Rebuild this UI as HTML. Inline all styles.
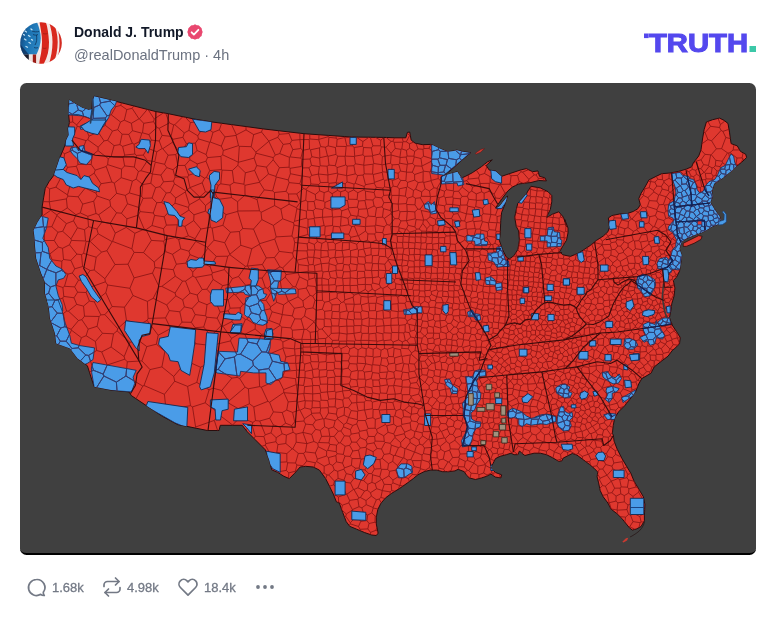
<!DOCTYPE html>
<html><head><meta charset="utf-8"><style>
html,body{margin:0;padding:0;background:#fff;}
body{width:777px;height:617px;position:relative;overflow:hidden;font-family:"Liberation Sans",sans-serif;}
#card{position:absolute;left:20px;top:83px;width:736px;height:472px;background:#404040;border-radius:6.5px;overflow:hidden;box-sizing:border-box;border-bottom:2px solid #000;}
#map{position:absolute;left:0;top:0;}
.abs{position:absolute;white-space:nowrap;line-height:1;will-change:transform;}
#name{left:74px;top:25px;font-size:14px;font-weight:bold;color:#111827;letter-spacing:0;}
#handle{left:74px;top:48px;font-size:14.5px;color:#6b7280;}
.cnt{font-size:13px;color:#737985;top:581px;-webkit-text-stroke:0.3px #737985;}

</style></head><body>
<div id="card"></div>
<svg id="map" width="777" height="617" viewBox="0 0 777 617">
<defs><clipPath id="us"><path d="M69.4 100.0 L75.0 103.7 L82.5 108.1 L88.7 110.0 L91.9 109.1 L92.4 100.6 L94.3 96.2 L115.7 101.3 L155.9 111.6 L168.3 113.7 L193.0 118.8 L211.5 121.9 L250.0 127.1 L264.0 129.0 L304.0 133.7 L351.3 137.0 L383.8 137.4 L395.0 137.8 L405.8 137.8 L407.4 132.4 L409.7 132.0 L411.2 140.1 L415.1 143.2 L422.8 144.7 L430.5 144.4 L433.6 145.5 L439.8 148.6 L447.5 151.7 L453.7 150.9 L456.8 150.1 L463.0 151.7 L470.7 152.7 L464.5 157.8 L456.8 164.8 L449.1 171.7 L441.3 176.8 L449.1 174.1 L457.5 171.7 L459.1 174.4 L461.7 177.9 L465.3 176.4 L472.2 172.8 L481.5 166.6 L487.7 161.7 L492.3 159.8 L486.2 165.5 L489.3 170.1 L495.4 170.9 L501.6 176.3 L510.9 173.2 L520.2 170.1 L526.3 168.6 L532.5 171.7 L537.9 170.9 L539.5 176.3 L544.9 177.8 L546.4 180.9 L538.7 180.5 L531.0 182.5 L524.8 183.2 L518.6 184.0 L512.4 187.1 L507.8 191.0 L503.2 197.1 L495.4 208.0 L499.3 206.4 L507.5 195.9 L504.7 204.9 L501.6 212.6 L500.8 220.3 L500.1 235.3 L499.3 240.2 L502.4 249.4 L506.3 257.1 L509.4 259.0 L514.0 255.6 L517.9 249.4 L519.4 240.2 L518.6 230.9 L516.3 226.5 L514.7 217.2 L516.3 209.5 L517.8 203.3 L526.3 194.1 L527.9 191.0 L531.0 186.3 L540.2 187.9 L548.0 191.7 L551.8 195.6 L551.8 201.8 L550.3 209.5 L547.2 215.7 L546.7 217.5 L552.6 214.1 L558.8 211.8 L563.4 217.2 L566.5 226.5 L564.7 219.4 L568.0 228.0 L568.0 233.0 L566.5 240.2 L562.7 246.3 L559.6 251.7 L562.7 254.8 L570.4 256.4 L578.1 253.3 L584.3 249.4 L590.2 245.5 L596.3 240.5 L603.3 236.0 L607.9 231.8 L609.5 227.1 L608.7 221.7 L608.4 217.9 L611.8 215.6 L619.5 214.0 L627.2 213.6 L633.4 211.4 L638.0 208.6 L640.3 204.7 L638.8 198.6 L641.1 193.2 L645.0 187.0 L648.8 180.0 L655.0 176.9 L661.6 173.7 L670.1 173.0 L678.6 171.4 L686.3 169.1 L691.7 166.8 L693.3 162.9 L698.7 156.0 L701.0 149.8 L702.5 139.0 L704.1 129.7 L706.4 122.0 L712.6 119.7 L719.5 118.1 L724.2 120.4 L728.0 123.5 L729.6 132.8 L731.1 143.6 L737.3 145.9 L740.4 151.3 L745.8 154.4 L746.6 157.5 L741.9 162.1 L735.8 166.8 L732.7 169.9 L728.0 173.7 L723.4 177.6 L718.8 180.7 L714.1 183.8 L711.8 191.5 L712.6 196.2 L710.3 202.4 L714.1 208.5 L717.2 213.2 L719.5 216.0 L720.5 219.5 L719.5 222.5 L717.2 224.7 L712.6 226.3 L706.4 230.2 L701.8 232.5 L695.6 234.8 L686.3 238.6 L681.7 241.7 L679.4 248.7 L681.7 254.9 L680.9 262.6 L679.5 271.2 L676.4 277.4 L673.3 280.4 L674.9 288.2 L674.1 295.9 L671.8 303.6 L671.0 309.8 L669.5 317.5 L671.8 324.5 L676.4 331.4 L680.3 337.6 L679.5 343.8 L674.9 348.4 L672.7 350.0 L668.0 356.2 L661.9 360.8 L654.1 367.0 L651.0 373.2 L641.8 378.6 L638.7 384.0 L635.6 391.7 L631.0 397.9 L624.8 405.6 L618.6 411.8 L614.7 418.0 L613.2 425.7 L612.4 433.4 L613.3 435.0 L614.1 441.2 L617.1 448.9 L621.8 458.2 L626.4 465.9 L631.0 473.6 L634.1 481.3 L638.8 489.1 L643.4 496.8 L644.9 504.5 L644.4 515.1 L644.4 520.8 L641.0 526.6 L636.3 529.0 L632.3 530.1 L629.4 527.8 L624.7 522.0 L621.8 518.4 L617.1 513.8 L611.0 509.1 L607.9 503.0 L603.2 496.8 L600.2 490.6 L598.6 482.9 L597.1 476.7 L597.8 472.1 L594.0 468.2 L589.3 464.3 L583.2 459.7 L577.0 455.1 L572.4 453.5 L567.7 455.8 L563.1 458.2 L561.9 460.9 L558.8 461.4 L552.7 457.8 L546.5 454.7 L540.3 453.2 L534.1 453.2 L528.0 454.7 L524.9 455.5 L521.8 453.2 L519.5 450.9 L517.9 454.7 L514.1 454.7 L511.0 453.2 L506.3 454.7 L500.2 456.3 L495.5 458.6 L493.2 463.2 L490.9 467.9 L495.5 472.5 L501.7 474.8 L500.9 477.9 L495.5 477.1 L490.9 474.1 L486.3 476.4 L481.6 477.9 L475.4 479.5 L469.3 477.9 L466.2 474.8 L464.3 471.7 L458.1 469.3 L455.0 470.9 L448.8 471.7 L442.7 471.7 L436.5 470.1 L430.3 470.1 L424.1 471.7 L418.0 474.7 L413.3 478.6 L407.1 483.2 L399.4 488.6 L391.7 493.3 L385.5 497.9 L380.9 503.3 L377.8 509.5 L376.3 517.2 L376.3 524.0 L378.1 533.2 L376.3 535.5 L371.7 535.0 L364.7 532.6 L356.6 529.2 L349.7 526.3 L346.2 521.6 L342.7 512.4 L339.3 503.1 L336.4 501.8 L333.3 494.1 L329.5 486.3 L325.6 478.6 L319.4 470.1 L313.2 467.0 L305.5 466.3 L300.1 467.0 L294.7 473.2 L289.3 478.6 L283.9 476.3 L277.7 472.4 L271.8 469.9 L269.2 460.1 L265.3 449.8 L255.0 439.5 L247.3 431.8 L242.2 425.3 L220.3 425.3 L219.0 430.5 L207.4 430.5 L185.5 426.1 L177.8 424.6 L162.4 416.3 L146.9 406.0 L131.5 395.7 L128.9 391.9 L110.9 390.1 L94.2 386.7 L91.6 379.0 L87.4 365.8 L77.4 358.3 L70.0 348.4 L56.2 343.4 L55.0 333.4 L50.0 318.4 L48.7 305.9 L45.0 293.4 L45.0 282.2 L41.2 273.5 L36.2 258.5 L35.0 246.0 L34.4 236.5 L33.6 230.3 L37.4 222.6 L42.1 214.9 L42.1 207.1 L43.6 197.9 L45.2 188.6 L49.0 181.7 L53.7 175.5 L56.7 167.0 L59.8 157.7 L63.1 150.0 L65.0 145.0 L66.2 140.0 L68.7 135.0 L68.1 128.7 L69.4 122.5 L68.7 115.0 L68.7 107.5Z"/></clipPath></defs>
<path d="M69.4 100.0 L75.0 103.7 L82.5 108.1 L88.7 110.0 L91.9 109.1 L92.4 100.6 L94.3 96.2 L115.7 101.3 L155.9 111.6 L168.3 113.7 L193.0 118.8 L211.5 121.9 L250.0 127.1 L264.0 129.0 L304.0 133.7 L351.3 137.0 L383.8 137.4 L395.0 137.8 L405.8 137.8 L407.4 132.4 L409.7 132.0 L411.2 140.1 L415.1 143.2 L422.8 144.7 L430.5 144.4 L433.6 145.5 L439.8 148.6 L447.5 151.7 L453.7 150.9 L456.8 150.1 L463.0 151.7 L470.7 152.7 L464.5 157.8 L456.8 164.8 L449.1 171.7 L441.3 176.8 L449.1 174.1 L457.5 171.7 L459.1 174.4 L461.7 177.9 L465.3 176.4 L472.2 172.8 L481.5 166.6 L487.7 161.7 L492.3 159.8 L486.2 165.5 L489.3 170.1 L495.4 170.9 L501.6 176.3 L510.9 173.2 L520.2 170.1 L526.3 168.6 L532.5 171.7 L537.9 170.9 L539.5 176.3 L544.9 177.8 L546.4 180.9 L538.7 180.5 L531.0 182.5 L524.8 183.2 L518.6 184.0 L512.4 187.1 L507.8 191.0 L503.2 197.1 L495.4 208.0 L499.3 206.4 L507.5 195.9 L504.7 204.9 L501.6 212.6 L500.8 220.3 L500.1 235.3 L499.3 240.2 L502.4 249.4 L506.3 257.1 L509.4 259.0 L514.0 255.6 L517.9 249.4 L519.4 240.2 L518.6 230.9 L516.3 226.5 L514.7 217.2 L516.3 209.5 L517.8 203.3 L526.3 194.1 L527.9 191.0 L531.0 186.3 L540.2 187.9 L548.0 191.7 L551.8 195.6 L551.8 201.8 L550.3 209.5 L547.2 215.7 L546.7 217.5 L552.6 214.1 L558.8 211.8 L563.4 217.2 L566.5 226.5 L564.7 219.4 L568.0 228.0 L568.0 233.0 L566.5 240.2 L562.7 246.3 L559.6 251.7 L562.7 254.8 L570.4 256.4 L578.1 253.3 L584.3 249.4 L590.2 245.5 L596.3 240.5 L603.3 236.0 L607.9 231.8 L609.5 227.1 L608.7 221.7 L608.4 217.9 L611.8 215.6 L619.5 214.0 L627.2 213.6 L633.4 211.4 L638.0 208.6 L640.3 204.7 L638.8 198.6 L641.1 193.2 L645.0 187.0 L648.8 180.0 L655.0 176.9 L661.6 173.7 L670.1 173.0 L678.6 171.4 L686.3 169.1 L691.7 166.8 L693.3 162.9 L698.7 156.0 L701.0 149.8 L702.5 139.0 L704.1 129.7 L706.4 122.0 L712.6 119.7 L719.5 118.1 L724.2 120.4 L728.0 123.5 L729.6 132.8 L731.1 143.6 L737.3 145.9 L740.4 151.3 L745.8 154.4 L746.6 157.5 L741.9 162.1 L735.8 166.8 L732.7 169.9 L728.0 173.7 L723.4 177.6 L718.8 180.7 L714.1 183.8 L711.8 191.5 L712.6 196.2 L710.3 202.4 L714.1 208.5 L717.2 213.2 L719.5 216.0 L720.5 219.5 L719.5 222.5 L717.2 224.7 L712.6 226.3 L706.4 230.2 L701.8 232.5 L695.6 234.8 L686.3 238.6 L681.7 241.7 L679.4 248.7 L681.7 254.9 L680.9 262.6 L679.5 271.2 L676.4 277.4 L673.3 280.4 L674.9 288.2 L674.1 295.9 L671.8 303.6 L671.0 309.8 L669.5 317.5 L671.8 324.5 L676.4 331.4 L680.3 337.6 L679.5 343.8 L674.9 348.4 L672.7 350.0 L668.0 356.2 L661.9 360.8 L654.1 367.0 L651.0 373.2 L641.8 378.6 L638.7 384.0 L635.6 391.7 L631.0 397.9 L624.8 405.6 L618.6 411.8 L614.7 418.0 L613.2 425.7 L612.4 433.4 L613.3 435.0 L614.1 441.2 L617.1 448.9 L621.8 458.2 L626.4 465.9 L631.0 473.6 L634.1 481.3 L638.8 489.1 L643.4 496.8 L644.9 504.5 L644.4 515.1 L644.4 520.8 L641.0 526.6 L636.3 529.0 L632.3 530.1 L629.4 527.8 L624.7 522.0 L621.8 518.4 L617.1 513.8 L611.0 509.1 L607.9 503.0 L603.2 496.8 L600.2 490.6 L598.6 482.9 L597.1 476.7 L597.8 472.1 L594.0 468.2 L589.3 464.3 L583.2 459.7 L577.0 455.1 L572.4 453.5 L567.7 455.8 L563.1 458.2 L561.9 460.9 L558.8 461.4 L552.7 457.8 L546.5 454.7 L540.3 453.2 L534.1 453.2 L528.0 454.7 L524.9 455.5 L521.8 453.2 L519.5 450.9 L517.9 454.7 L514.1 454.7 L511.0 453.2 L506.3 454.7 L500.2 456.3 L495.5 458.6 L493.2 463.2 L490.9 467.9 L495.5 472.5 L501.7 474.8 L500.9 477.9 L495.5 477.1 L490.9 474.1 L486.3 476.4 L481.6 477.9 L475.4 479.5 L469.3 477.9 L466.2 474.8 L464.3 471.7 L458.1 469.3 L455.0 470.9 L448.8 471.7 L442.7 471.7 L436.5 470.1 L430.3 470.1 L424.1 471.7 L418.0 474.7 L413.3 478.6 L407.1 483.2 L399.4 488.6 L391.7 493.3 L385.5 497.9 L380.9 503.3 L377.8 509.5 L376.3 517.2 L376.3 524.0 L378.1 533.2 L376.3 535.5 L371.7 535.0 L364.7 532.6 L356.6 529.2 L349.7 526.3 L346.2 521.6 L342.7 512.4 L339.3 503.1 L336.4 501.8 L333.3 494.1 L329.5 486.3 L325.6 478.6 L319.4 470.1 L313.2 467.0 L305.5 466.3 L300.1 467.0 L294.7 473.2 L289.3 478.6 L283.9 476.3 L277.7 472.4 L271.8 469.9 L269.2 460.1 L265.3 449.8 L255.0 439.5 L247.3 431.8 L242.2 425.3 L220.3 425.3 L219.0 430.5 L207.4 430.5 L185.5 426.1 L177.8 424.6 L162.4 416.3 L146.9 406.0 L131.5 395.7 L128.9 391.9 L110.9 390.1 L94.2 386.7 L91.6 379.0 L87.4 365.8 L77.4 358.3 L70.0 348.4 L56.2 343.4 L55.0 333.4 L50.0 318.4 L48.7 305.9 L45.0 293.4 L45.0 282.2 L41.2 273.5 L36.2 258.5 L35.0 246.0 L34.4 236.5 L33.6 230.3 L37.4 222.6 L42.1 214.9 L42.1 207.1 L43.6 197.9 L45.2 188.6 L49.0 181.7 L53.7 175.5 L56.7 167.0 L59.8 157.7 L63.1 150.0 L65.0 145.0 L66.2 140.0 L68.7 135.0 L68.1 128.7 L69.4 122.5 L68.7 115.0 L68.7 107.5Z" fill="#df382f" stroke="#2a0d0d" stroke-width="1"/>
<path d="M683.2 243.3 L691.0 239.4 L698.7 235.6 L702.1 236.3 L701.0 239.4 L694.1 243.3 L686.3 246.4 L683.2 246.4Z" fill="#df382f" stroke="#2a0d0d" stroke-width="0.8"/>
<g clip-path="url(#us)">
<path d="M68.7 99.4 L75.0 103.1 L82.5 107.5 L88.7 109.3 L92.4 108.7 L91.4 115.0 L86.2 116.2 L78.7 115.6 L68.1 114.7Z" fill="#4a9ce8" stroke="#0f2a55" stroke-width="0.8" stroke-linejoin="round"/>
<path d="M93.9 95.6 L116.8 101.0 L114.9 105.6 L111.2 110.0 L108.7 117.5 L105.6 122.5 L102.4 127.4 L98.1 134.3 L91.2 132.4 L86.2 128.7 L80.6 129.3 L80.0 126.2 L86.2 123.1 L90.6 122.5 L91.4 116.2 L93.3 110.0 L92.9 99.7Z" fill="#4a9ce8" stroke="#0f2a55" stroke-width="0.8" stroke-linejoin="round"/>
<path d="M69.0 99.0 L76.8 102.9 L85.3 108.2 L91.8 109.3 L90.5 118.7 L85.3 116.6 L77.9 114.5 L68.0 114.8Z" fill="#4a9ce8" stroke="#0f2a55" stroke-width="0.8" stroke-linejoin="round"/>
<path d="M70.9 147.8 L76.3 147.0 L78.6 150.9 L79.4 146.3 L84.0 145.5 L84.8 150.9 L92.5 154.0 L91.7 158.6 L86.3 164.8 L80.2 163.2 L77.1 158.6 L73.2 154.7 L70.1 150.9Z" fill="#4a9ce8" stroke="#0f2a55" stroke-width="0.8" stroke-linejoin="round"/>
<path d="M267.5 269.7 L281.4 270.4 L280.7 280.5 L278.4 282.0 L277.6 288.2 L276.0 295.2 L273.7 301.3 L272.2 295.9 L270.6 288.2 L270.6 282.0Z" fill="#4a9ce8" stroke="#0f2a55" stroke-width="0.8" stroke-linejoin="round"/>
<path d="M225.8 288.2 L241.3 286.7 L249.8 285.1 L251.3 290.5 L251.3 295.9 L245.2 294.4 L243.6 292.1 L226.6 292.8Z" fill="#4a9ce8" stroke="#0f2a55" stroke-width="0.8" stroke-linejoin="round"/>
<path d="M251.3 285.9 L258.3 285.9 L262.9 289.0 L263.7 293.6 L266.8 294.4 L264.5 298.2 L259.8 299.8 L263.7 304.4 L264.5 310.6 L266.8 316.8 L267.5 323.0 L262.9 325.3 L258.3 324.5 L252.9 322.2 L249.8 317.5 L246.7 316.8 L244.4 314.5 L245.2 304.4 L245.9 298.2 L251.3 295.9Z" fill="#4a9ce8" stroke="#0f2a55" stroke-width="0.8" stroke-linejoin="round"/>
<path d="M270.6 288.2 L295.3 289.0 L296.1 293.6 L278.4 294.4 L277.6 292.1Z" fill="#4a9ce8" stroke="#0f2a55" stroke-width="0.8" stroke-linejoin="round"/>
<path d="M239.0 338.1 L261.4 338.9 L270.7 339.7 L269.9 348.2 L268.4 352.8 L279.2 355.1 L280.7 361.3 L287.7 362.8 L290.0 369.8 L283.0 371.3 L282.3 377.5 L275.3 380.6 L270.7 384.5 L266.0 382.9 L266.0 372.9 L253.7 372.9 L240.6 371.3 L239.8 376.0 L216.6 372.9 L215.1 369.8 L218.2 351.3 L237.5 352.0Z" fill="#4a9ce8" stroke="#0f2a55" stroke-width="0.8" stroke-linejoin="round"/>
<path d="M39.7 215.8 L48.2 218.1 L46.6 227.4 L42.8 238.2 L48.2 247.4 L49.7 258.2 L55.9 266.0 L62.1 269.1 L65.9 274.5 L63.6 278.3 L58.2 279.9 L55.9 286.0 L58.2 295.3 L62.1 304.6 L62.8 310.8 L48.2 310.8 L45.1 301.5 L42.8 287.6 L42.0 276.8 L37.4 266.0 L33.5 255.2 L34.3 242.8 L31.9 230.4 L35.0 221.2Z" fill="#4a9ce8" stroke="#0f2a55" stroke-width="0.8" stroke-linejoin="round"/>
<path d="M45.1 300.0 L58.2 300.0 L62.1 310.8 L65.2 323.2 L69.8 335.5 L71.3 343.2 L79.8 345.6 L94.5 347.9 L93.0 359.5 L87.5 363.3 L83.7 364.9 L81.4 361.8 L72.1 356.4 L65.9 348.6 L53.6 344.0 L54.3 335.5 L52.0 326.3 L48.2 317.0 L44.3 307.7Z" fill="#4a9ce8" stroke="#0f2a55" stroke-width="0.8" stroke-linejoin="round"/>
<path d="M93.0 362.5 L136.2 370.3 L133.1 377.2 L134.7 383.4 L131.6 391.9 L94.5 389.3 L93.0 380.3 L91.7 372.6 L91.4 368.0Z" fill="#4a9ce8" stroke="#0f2a55" stroke-width="0.8" stroke-linejoin="round"/>
<path d="M431.7 143.4 L450.7 148.4 L470.8 152.5 L444.0 175.2 L431.7 173.5Z" fill="#4a9ce8" stroke="#0f2a55" stroke-width="0.8" stroke-linejoin="round"/>
<path d="M441.0 177.0 L449.0 172.5 L457.5 168.0 L459.0 171.0 L462.0 175.0 L464.0 184.5 L458.0 186.0 L457.0 183.0 L441.5 184.0Z" fill="#4a9ce8" stroke="#0f2a55" stroke-width="0.8" stroke-linejoin="round"/>
<path d="M424.3 204.7 L428.2 201.6 L431.3 204.7 L434.4 201.6 L435.9 207.8 L436.7 213.2 L431.3 214.0 L428.2 209.3 L425.1 208.6Z" fill="#4a9ce8" stroke="#0f2a55" stroke-width="0.8" stroke-linejoin="round"/>
<path d="M466.8 235.6 L475.3 235.6 L476.1 234.1 L483.8 234.1 L484.6 241.0 L487.7 241.8 L486.9 245.6 L475.3 245.6 L474.5 241.0 L466.8 241.0Z" fill="#4a9ce8" stroke="#0f2a55" stroke-width="0.8" stroke-linejoin="round"/>
<path d="M487.7 253.4 L496.2 252.6 L496.9 247.2 L501.6 246.4 L503.1 252.6 L505.4 260.3 L508.5 261.1 L509.3 266.5 L503.1 266.5 L496.9 267.3 L493.8 261.9 L488.4 260.3Z" fill="#4a9ce8" stroke="#0f2a55" stroke-width="0.8" stroke-linejoin="round"/>
<path d="M403.5 309.8 L409.7 309.0 L415.1 306.7 L422.0 306.7 L422.0 312.9 L415.1 313.6 L409.7 314.4 L404.3 314.4Z" fill="#4a9ce8" stroke="#0f2a55" stroke-width="0.8" stroke-linejoin="round"/>
<path d="M485.3 278.1 L490.8 276.6 L495.4 280.4 L496.2 283.5 L501.6 282.8 L502.3 289.7 L496.2 290.5 L495.4 285.1 L486.1 284.3Z" fill="#4a9ce8" stroke="#0f2a55" stroke-width="0.8" stroke-linejoin="round"/>
<path d="M467.6 312.1 L472.2 309.8 L474.5 313.6 L479.9 314.4 L480.7 319.8 L476.1 320.6 L473.8 316.7 L468.4 316.7Z" fill="#4a9ce8" stroke="#0f2a55" stroke-width="0.8" stroke-linejoin="round"/>
<path d="M548.0 227.8 L553.4 227.0 L554.2 231.7 L559.6 232.4 L560.3 239.4 L561.9 240.2 L561.1 246.3 L547.2 247.1 L547.2 240.9 L540.3 240.9 L540.3 236.3 L547.2 235.5Z" fill="#4a9ce8" stroke="#0f2a55" stroke-width="0.8" stroke-linejoin="round"/>
<path d="M657.1 263.4 L659.5 258.8 L666.4 257.2 L669.5 260.3 L672.6 268.0 L671.0 272.7 L664.9 272.7 L662.5 268.8 L657.9 268.8Z" fill="#4a9ce8" stroke="#0f2a55" stroke-width="0.8" stroke-linejoin="round"/>
<path d="M671.4 173.6 L680.1 172.4 L682.4 175.3 L688.7 176.5 L689.9 178.8 L693.4 179.4 L696.0 184.0 L697.2 189.8 L699.8 193.1 L703.5 191.0 L705.0 186.3 L709.0 181.7 L714.8 179.4 L717.7 174.8 L720.6 167.8 L725.2 165.5 L728.1 159.7 L731.0 153.9 L733.6 156.2 L734.7 162.0 L736.2 166.1 L748.0 170.0 L748.0 235.0 L690.0 250.0 L684.0 248.7 L684.0 257.2 L683.0 264.2 L679.0 270.0 L672.0 269.0 L668.0 261.9 L671.0 255.7 L672.6 249.5 L675.7 246.4 L676.4 239.5 L672.6 232.5 L668.0 229.4 L668.7 226.3 L674.1 220.2 L672.6 217.8 L668.7 216.3 L668.0 210.9 L668.7 203.9 L674.1 200.8 L676.0 192.4 L674.9 186.2 L672.6 180.0Z" fill="#4a9ce8" stroke="#0f2a55" stroke-width="0.8" stroke-linejoin="round"/>
<path d="M637.8 276.6 L643.2 274.3 L648.6 275.8 L654.8 279.7 L655.6 285.1 L653.2 290.5 L650.2 295.9 L644.7 296.7 L641.7 292.0 L637.8 288.2 L636.3 282.0Z" fill="#4a9ce8" stroke="#0f2a55" stroke-width="0.8" stroke-linejoin="round"/>
<path d="M657.9 322.1 L662.5 318.3 L669.5 317.5 L671.0 324.5 L662.5 326.0 L658.6 325.2Z" fill="#4a9ce8" stroke="#0f2a55" stroke-width="0.8" stroke-linejoin="round"/>
<path d="M643.2 324.5 L648.6 322.1 L654.8 324.5 L656.3 320.6 L659.4 326.0 L661.7 330.6 L664.8 335.3 L662.5 339.1 L656.3 337.6 L654.8 343.8 L650.2 345.3 L647.1 340.7 L644.0 342.2 L640.1 337.6 L645.5 334.5 L643.2 329.9Z" fill="#4a9ce8" stroke="#0f2a55" stroke-width="0.8" stroke-linejoin="round"/>
<path d="M624.7 339.1 L630.1 338.4 L635.5 340.7 L637.8 345.3 L633.2 349.2 L627.0 349.2 L623.9 345.3Z" fill="#4a9ce8" stroke="#0f2a55" stroke-width="0.8" stroke-linejoin="round"/>
<path d="M555.8 387.8 L560.5 384.7 L565.1 383.9 L569.7 387.0 L568.2 390.9 L572.1 393.2 L569.7 397.8 L564.3 397.8 L560.5 395.5 L556.6 393.2Z" fill="#4a9ce8" stroke="#0f2a55" stroke-width="0.8" stroke-linejoin="round"/>
<path d="M558.2 413.3 L560.5 407.1 L563.6 406.3 L564.3 411.0 L568.2 413.3 L572.1 412.5 L572.8 417.1 L569.7 420.2 L571.3 425.6 L569.0 430.3 L563.6 431.0 L559.7 428.0 L556.6 423.3 L557.4 418.7Z" fill="#4a9ce8" stroke="#0f2a55" stroke-width="0.8" stroke-linejoin="round"/>
<path d="M535.0 417.1 L541.2 414.8 L547.4 414.1 L552.0 415.6 L555.8 416.4 L555.8 421.0 L550.4 421.8 L544.3 423.3 L538.1 424.1 L535.0 423.3Z" fill="#4a9ce8" stroke="#0f2a55" stroke-width="0.8" stroke-linejoin="round"/>
<path d="M602.2 372.4 L607.6 371.6 L610.7 376.2 L615.3 377.8 L619.2 373.9 L621.5 378.5 L618.4 383.2 L613.0 383.9 L607.6 380.8 L603.0 377.0Z" fill="#4a9ce8" stroke="#0f2a55" stroke-width="0.8" stroke-linejoin="round"/>
<path d="M606.8 387.8 L612.2 386.3 L619.2 388.6 L616.9 391.7 L612.2 393.2 L612.2 398.6 L609.1 402.5 L605.3 399.4 L607.6 394.7 L606.0 390.9Z" fill="#4a9ce8" stroke="#0f2a55" stroke-width="0.8" stroke-linejoin="round"/>
<path d="M621.5 397.8 L626.1 395.5 L635.4 390.1 L634.6 394.7 L627.7 399.4 L623.0 402.5Z" fill="#4a9ce8" stroke="#0f2a55" stroke-width="0.8" stroke-linejoin="round"/>
<path d="M603.7 414.8 L609.1 413.3 L616.1 414.1 L615.3 419.5 L607.6 419.5Z" fill="#4a9ce8" stroke="#0f2a55" stroke-width="0.8" stroke-linejoin="round"/>
<path d="M444.6 379.7 L449.3 378.9 L452.4 385.1 L457.8 388.9 L457.0 393.6 L451.6 393.6 L450.0 388.2 L446.2 385.1Z" fill="#4a9ce8" stroke="#0f2a55" stroke-width="0.8" stroke-linejoin="round"/>
<path d="M474.7 371.2 L479.4 369.6 L485.6 370.4 L485.6 375.8 L478.6 376.6 L477.1 380.4 L473.2 380.4 L473.2 375.8Z" fill="#4a9ce8" stroke="#0f2a55" stroke-width="0.8" stroke-linejoin="round"/>
<path d="M465.5 376.6 L473.2 376.6 L477.1 382.0 L477.8 388.2 L480.9 393.6 L480.2 399.7 L476.3 405.2 L474.7 409.8 L470.9 412.9 L471.7 419.1 L475.5 421.4 L480.9 422.1 L480.2 426.8 L476.3 428.3 L473.2 433.0 L472.4 438.4 L470.1 445.3 L462.4 446.9 L461.6 440.7 L465.5 433.0 L467.0 426.8 L465.5 420.6 L463.2 416.0 L463.2 408.2 L462.4 403.6 L466.3 398.2 L467.8 391.3 L467.0 383.5Z" fill="#4a9ce8" stroke="#0f2a55" stroke-width="0.8" stroke-linejoin="round"/>
<path d="M508.0 411.3 L512.6 408.2 L517.2 409.8 L521.9 412.1 L526.5 416.0 L531.1 418.3 L535.8 417.5 L540.4 416.0 L545.0 414.4 L551.2 415.2 L555.8 416.7 L555.8 421.4 L551.2 422.9 L546.6 424.5 L540.4 423.7 L535.8 424.5 L531.1 425.2 L526.5 423.7 L521.9 426.8 L518.8 424.5 L518.8 419.1 L514.1 417.5 L509.5 418.3 L507.2 415.2Z" fill="#4a9ce8" stroke="#0f2a55" stroke-width="0.8" stroke-linejoin="round"/>
<path d="M396.3 469.3 L401.0 463.9 L407.9 463.9 L411.8 466.3 L412.5 472.4 L409.5 474.0 L404.1 477.8 L398.6 477.8Z" fill="#4a9ce8" stroke="#0f2a55" stroke-width="0.8" stroke-linejoin="round"/>
<path d="M449.8 352.7 L458.3 352.7 L458.3 356.1 L449.8 356.1Z" fill="#a0927e" stroke="#3a2a20" stroke-width="0.6"/>
<path d="M486.3 384.3 L491.7 384.3 L491.7 389.7 L486.3 389.7Z" fill="#a0927e" stroke="#3a2a20" stroke-width="0.6"/>
<path d="M494.8 392.8 L499.5 392.8 L499.5 397.4 L494.8 397.4Z" fill="#a0927e" stroke="#3a2a20" stroke-width="0.6"/>
<path d="M501.0 405.9 L505.6 405.9 L505.6 415.2 L501.0 415.2Z" fill="#a0927e" stroke="#3a2a20" stroke-width="0.6"/>
<path d="M501.8 418.3 L505.6 418.3 L505.6 422.9 L501.8 422.9Z" fill="#a0927e" stroke="#3a2a20" stroke-width="0.6"/>
<path d="M499.5 424.5 L505.6 424.5 L505.6 429.9 L499.5 429.9Z" fill="#a0927e" stroke="#3a2a20" stroke-width="0.6"/>
<path d="M493.3 431.4 L498.7 431.4 L498.7 436.8 L493.3 436.8Z" fill="#a0927e" stroke="#3a2a20" stroke-width="0.6"/>
<path d="M501.8 437.6 L507.2 437.6 L507.2 443.0 L501.8 443.0Z" fill="#a0927e" stroke="#3a2a20" stroke-width="0.6"/>
<path d="M477.1 407.5 L484.8 407.5 L484.8 411.3 L477.1 411.3Z" fill="#a0927e" stroke="#3a2a20" stroke-width="0.6"/>
<path d="M486.3 403.6 L494.1 403.6 L494.1 409.8 L486.3 409.8Z" fill="#a0927e" stroke="#3a2a20" stroke-width="0.6"/>
<path d="M480.9 440.7 L485.6 440.7 L485.6 444.5 L480.9 444.5Z" fill="#a0927e" stroke="#3a2a20" stroke-width="0.6"/>
<path d="M468.6 393.6 L473.2 393.6 L473.2 405.2 L468.6 405.2Z" fill="#a0927e" stroke="#3a2a20" stroke-width="0.6"/>
</g>
<defs><path id="cl" d="M34.6 240.0l7.8 2.4M34.8 227.9l8.7-1.2M35.7 252.8l5.4-0.2M38.6 265.7l1.1-0.2M39.7 265.5l7 3.8M39.7 265.5l1.4-12.9M41.1 252.6l1.4-1.2M41.6 215.7l0.9 0.3M42.4 242.4l0.1 9M42.4 242.4l2.1-1.9M42.5 216.0l1 10.7M42.5 216.0l8.2-5.7M49.8 254.0l-7.3-2.6M43.0 201.6l6.3 0.2M46.8 269.5l-3.4 9M43.5 226.7l0.8 0.5M44.3 227.2l0.2 13.3M44.3 227.2l7.5-0.5M44.5 240.5l9.7 0M45.0 282.9l5.4 4.1M45.4 294.9l3.2-1.7M49.6 188.9l-3.2-2.5M46.8 269.5l-0.1-0.2M46.7 269.3l5.4-9.5M46.8 269.5l9.1 3.3M54.8 300.6l-6.2-7.4M48.6 293.2l1.8-6.2M48.8 307.1l3.2-0.4M49.3 201.8l0 0M49.3 201.8l0.3-12.9M49.3 201.8l1.4 8.5M66.4 198.9l-17.1 2.9M49.6 188.9l6.3-1.7M52.1 259.8l-2.3-5.8M58.5 247.1l-8.7 6.9M55.8 285.2l-5.4 1.8M50.7 210.3l6 4.5M51.0 321.5l6.3-8.4M60.8 328.0l-9.3-5.1M51.8 226.7l6.1 5.5M51.8 226.7l5.1-11.2M57.3 313.1l-5.3-6.4M52.0 306.7l2.8-6.1M52.1 259.8l9.8 1.4M54.2 240.5l4.3 6.6M54.2 240.5l3.7-8.3M54.4 173.4l6.9 3.5M54.8 300.6l7.9-2.5M56.8 335.8l-1.5 0M62.9 287.5l-7.1-2.3M55.9 272.8l-0.1 12.4M55.9 272.8l5.6-2.4M55.9 187.2l11.6 7.7M55.9 187.2l5.4-10.3M56.9 215.5l-0.2-0.7M67.3 207.9l-10.6 6.9M60.3 341.2l-3.5-5.4M56.8 335.8l4-7.8M56.9 215.5l9.5 8.1M57.3 313.1l6.2 0.3M57.9 232.2l4.8-0.9M63.4 162.1l-5.3 0.8M58.5 344.2l1.8-3M58.5 247.1l4 1.2M60.3 341.2l5.9 0M60.8 328.0l4.1-1.3M61.3 176.9l2.1-0.5M61.5 270.4l6.5 3.7M61.9 261.2l-0.4 9.2M61.9 261.2l1.6-1.7M64.7 153.7l-2.5-1.5M62.5 248.3l1 11.2M62.5 248.3l7-3.5M62.7 231.3l8.3 7.6M66.4 223.6l-3.7 7.7M66.6 311.1l-3.9-13M62.7 298.1l1.1-1.7M63.8 296.4l-0.9-8.9M64.5 286.3l-1.6 1.2M70.8 182.6l-7.4-6.2M67.6 167.3l-4.2 9.1M63.4 162.1l4.2 5.2M63.4 162.1l1.3-8.4M63.5 259.5l7.4 0.9M64.9 326.7l-1.4-13.3M63.5 313.4l3.1-2.3M63.8 296.4l10.2 1.4M64.5 286.3l10.1 0.6M64.5 286.3l3.5-12.2M64.7 153.7l7.6-3.3M64.9 326.7l6.3 2.6M72.0 348.5l-5.8-7.3M66.2 341.2l5.3-11M66.4 198.9l0.9 9M67.9 196.1l-1.5 2.8M66.4 223.6l7.1-2.7M66.6 311.1l1.8 0M67.3 207.9l8.6 6.8M71.1 138.2l-3.6-0.8M67.9 196.1l-0.4-1.2M70.8 182.6l-3.3 12.3M67.6 167.3l8.8-1M67.9 196.1l10.3 0.7M68.0 274.1l4.3-1.1M78.5 320.5l-10.1-9.4M68.4 311.1l8.3-6.7M68.7 112.0l3.5 2.3M69.0 103.9l4.7-1M72.8 121.9l-3.4 0.6M69.5 244.8l7.4 9.3M71.4 240.4l-1.9 4.4M81.1 179.9l-10.3 2.7M70.9 260.4l3.9 8.4M76.9 254.1l-6 6.3M71.0 238.9l0.4 1.5M77.5 227.8l-6.5 11.1M72.0 348.5l-1 1.2M72.3 150.4l-1.2-12.2M71.1 138.2l2.1-1.4M71.5 330.2l-0.3-0.9M71.2 329.3l7.3-8.8M71.4 240.4l14.2 0.6M81.4 337.7l-9.9-7.5M78.3 347.8l-6.3 0.7M72.8 121.9l-0.6-7.6M72.2 114.3l6.1-4.3M78.5 280.2l-6.2-7.2M74.8 268.8l-2.5 4.2M77.4 153.3l-5.1-2.9M72.8 121.9l3.9 3M73.2 136.8l12.8 3.8M77.2 126.3l-4 10.5M73.5 220.9l4 6.9M75.9 214.7l-2.4 6.2M76.7 304.4l-2.7-6.6M77.6 292.2l-3.6 5.6M74.6 286.9l3 5.3M78.5 280.2l-3.9 6.7M82.6 266.5l-7.8 2.3M80.3 212.9l-4.4 1.8M81.1 179.9l-4.7-13.6M77.9 164.3l-1.5 2M76.7 124.9l0.5 1.4M83.8 116.5l-7.1 8.4M76.7 304.4l6.8 1.7M76.8 104.8l1.5 5.2M81.5 254.6l-4.6-0.5M85.7 128.4l-8.5-2.1M77.9 164.3l-0.5-11M77.4 153.3l4.5-1.9M77.5 227.8l7 1.9M86.1 292.5l-8.5-0.3M77.9 164.3l13.3 0.2M82.7 204.1l-4.5-7.3M78.2 196.8l7-8.7M85.8 355.0l-7.5-7.2M78.3 347.8l3.1-10.1M82.3 111.5l-4-1.5M78.5 320.5l3.3-0.8M78.5 280.2l4.2-0.1M80.3 212.9l7.5 3.4M82.7 204.1l-2.4 8.8M80.6 360.7l5.2-5.7M81.1 179.9l1.6 0.7M81.4 337.7l4.7-2M82.6 266.5l-1.1-11.9M81.5 254.6l2.1-1.2M88.2 329.1l-6.4-9.4M81.8 319.7l2.7-3.5M92.2 155.3l-10.3-3.9M81.9 151.4l4.1-10.8M82.3 111.5l1.5 5M85.4 109.0l-3.1 2.5M82.6 266.5l7.6 4M82.7 204.1l11-2.9M85.2 188.1l-2.5-7.5M94.2 173.2l-11.5 7.4M88.2 288.0l-5.5-7.9M90.2 270.5l-7.5 9.6M83.5 306.1l1 10.1M89.4 301.1l-5.9 5M83.6 253.4l12.6 3.8M83.6 253.4l2.5-12M83.8 116.5l8.3 2.9M84.5 229.7l1.1 11.3M88.5 226.7l-4 3M99.1 316.5l-14.6-0.3M96.0 193.2l-10.8-5.1M85.6 241.0l0.5 0.4M85.7 128.4l3.3 7.8M85.7 128.4l6.2-5.6M85.8 355.0l2.8 0.4M86.0 140.6l1.8-0.9M86.1 292.5l3.3 8.6M88.2 288.0l-2.1 4.5M86.1 335.7l9.3 5.8M86.1 335.7l2.1-6.6M86.1 241.4l4 0M87.8 216.3l0.7 10.4M87.8 216.3l8.2-2.8M98.2 147.2l-10.4-7.5M89.0 136.2l-1.2 3.5M105.4 281.8l-17.2 6.2M97.1 326.3l-8.9 2.8M88.5 226.7l8.4 2.3M93.5 370.3l-4.9-14.9M88.6 355.4l8.1-4.9M98.1 132.0l-9.1 4.2M89.4 301.1l4.9 0.8M89.4 372.1l4.1-1.8M90.1 241.4l11.5 10.7M98.2 233.8l-8.1 7.6M94.2 270.0l-4 0.5M95.2 170.1l-4-5.6M91.2 164.5l1-9.2M98.7 129.5l-6.8-6.7M91.9 122.8l0.2-3.4M92.1 106.9l1.7 0.6M92.1 119.4l1-1M92.2 155.3l5.8-4.7M93.8 107.5l-0.7 10.9M105.4 118.0l-12.3 0.4M93.5 370.3l9.7 3.8M93.7 201.2l2.3 12.3M93.7 201.2l3.4-5.2M93.8 107.5l5.8-2.5M104.9 278.7l-10.7-8.7M94.2 270.0l2-12.8M101.0 183.7l-6.8-10.5M94.2 173.2l1-3.1M94.3 301.9l6.6 13M105.8 292.7l-11.5 9.2M95.2 170.1l11-3.6M96.7 350.5l-1.3-9M95.4 341.5l7.1-8.2M98.7 214.7l-2.7-1.2M96.0 193.2l1.1 2.8M101.0 183.7l-5 9.5M96.2 257.2l5.4-5.1M96.7 350.5l5 1.4M96.8 387.2l7.1-11.2M96.9 229.0l1.3 4.8M102.0 221.9l-5.1 7.1M97.1 196.0l12.7 4.3M102.5 333.3l-5.4-7M97.1 326.3l2-9.8M108.3 158.7l-10.3-8.1M98.0 150.6l0.2-3.4M98.1 132.0l6 8.9M98.1 132.0l0.6-2.5M104.1 140.9l-5.9 6.3M98.2 233.8l14 7.9M98.7 129.5l6.6-4.2M98.7 214.7l3.3 7.2M110.6 206.1l-11.9 8.6M100.9 314.9l-1.8 1.6M99.1 97.4l1.5 5.5M99.6 105.0l7.4 10.8M100.6 102.9l-1 2.1M100.6 102.9l9.4-1.8M104.9 314.6l-4 0.3M101.0 183.7l10.9-1.7M106.9 250.7l-5.3 1.4M101.7 351.9l5.5 13.1M101.7 351.9l9.4-4.9M102.0 221.9l8.1 1.6M113.5 333.8l-11-0.5M103.9 376.0l-0.7-1.9M107.2 365.0l-4 9.1M116.4 382.1l-12.5-6.1M107.6 140.3l-3.5 0.6M104.9 278.7l0.5 3.1M104.9 278.7l10.1-14.2M117.7 328.7l-12.8-14.1M112.1 306.5l-7.2 8.1M112.5 131.0l-7.2-5.7M105.4 118.0l-0.1 7.3M107.0 115.8l-1.6 2.2M105.4 281.8l2.3 3.2M105.8 292.7l6.3 13.8M107.7 285.0l-1.9 7.7M111.9 182.0l-5.7-15.5M106.2 166.5l1.4-1.9M115.0 264.5l-8.1-13.8M112.2 241.7l-5.3 9M111.3 114.8l-4.3 1M107.2 365.0l17.6-5.8M114.1 145.6l-6.5-5.3M112.5 131.0l-4.9 9.3M121.6 169.1l-14-4.5M107.6 164.6l0.7-5.9M129.9 288.3l-22.2-3.3M108.3 158.7l2.8-2.2M110.6 206.1l-0.8-5.8M116.6 193.3l-6.8 7M115.8 106.7l-5.8-5.6M110.3 100.0l-0.3 1.1M110.1 223.5l5.2 9.6M116.6 212.8l-6.5 10.7M110.6 206.1l6 6.7M111.1 347.0l13.1 9.6M113.5 333.8l-2.4 13.2M123.1 157.5l-12-1M111.1 156.5l3-10.9M111.3 114.8l9.2 7.2M115.8 106.7l-4.5 8.1M111.9 182.0l2.4 1.1M124.5 307.2l-12.4-0.7M112.6 241.4l-0.4 0.3M117.7 129.7l-5.2 1.3M112.6 241.4l19.3 7.4M112.6 241.4l2.7-8.3M113.5 333.8l3.6-2.9M119.9 144.6l-5.8 1M116.6 193.3l-2.3-10.2M121.2 177.7l-6.9 5.4M115.0 264.5l13-0.3M126.2 227.4l-10.9 5.7M120.8 105.4l-5 1.3M117.0 390.7l-0.6-8.6M125.9 376.0l-9.5 6.1M116.6 193.3l8.7 2.1M116.6 212.8l4.8 0.4M117.1 330.9l12.8 11.4M117.7 328.7l-0.6 2.2M117.7 328.7l8.8-8.1M117.7 129.7l4.4 4.5M117.7 129.7l2.8-7.7M119.9 144.6l2.7 1.8M122.1 134.2l-2.2 10.4M124.3 120.2l-3.8 1.8M120.8 105.4l6 4.2M120.8 105.4l0.6-2.6M132.4 181.1l-11.2-3.4M121.6 169.1l-0.4 8.6M126.9 218.8l-5.5-5.6M127.5 203.8l-6.1 9.4M121.6 169.1l3-3.2M122.1 134.2l6.7 0.2M124.7 155.1l-2.1-8.7M122.6 146.4l9.8-3.1M124.6 165.9l-1.5-8.4M123.1 157.5l1.6-2.4M124.8 359.2l-0.6-2.6M124.2 356.6l5.7-14.3M124.3 120.2l7.1 3.1M126.8 109.6l-2.5 10.6M126.5 320.6l-2-13.4M133.0 295.5l-8.5 11.7M134.3 167.0l-9.7-1.1M134.8 154.0l-10.1 1.1M124.8 359.2l2.5 2.6M127.5 203.8l-2.2-8.4M129.3 192.9l-4 2.5M142.8 386.1l-16.9-10.1M125.9 376.0l1.4-14.2M134.9 233.3l-8.7-5.9M126.9 218.8l-0.7 8.6M126.5 320.6l14.2 3.3M126.8 109.6l5.3-1.3M138.3 215.2l-11.4 3.6M127.3 361.8l14.6-0.9M139.2 207.6l-11.7-3.8M134.1 277.9l-6.1-13.7M128.0 264.2l6.1-11.8M128.8 134.4l3.6 8.9M132.5 130.7l-3.7 3.7M141.7 196.4l-12.4-3.5M132.4 181.1l-3.1 11.8M129.9 342.3l8.3-2.1M133.0 295.5l-3.1-7.2M134.1 277.9l-4.2 10.4M131.4 123.3l1.1 7.4M131.4 123.3l7.6-4.5M134.1 252.4l-2.2-3.6M131.9 248.8l3-15.5M132.1 108.3l6.9 10.5M132.1 108.3l1.8-2.3M134.1 144.2l-1.7-0.9M136.2 179.1l-3.8 2M132.5 130.7l9.3 2.5M147.4 301.4l-14.4-5.9M134.1 277.9l18.4-4.8M134.8 154.0l-0.7-9.8M139.0 142.0l-4.9 2.2M134.1 252.4l9.4 0.2M138.4 171.5l-4.1-4.5M134.3 167.0l2.2-11.6M136.5 155.4l-1.7-1.4M134.9 233.3l9.3-4.2M136.0 398.7l6.8-12.6M136.2 179.1l6.6 5.4M136.2 179.1l2.2-7.6M143.3 155.1l-6.8 0.3M138.2 340.2l8.6 6.4M138.2 340.2l2.5-16.3M138.3 215.2l5.9 13.9M140.1 211.6l-1.8 3.6M138.4 171.5l2.5-0.8M147.2 147.3l-8.2-5.3M141.8 133.2l-2.8 8.8M139.4 118.8l-0.4 0M140.1 211.6l-0.9-4M139.2 207.6l3.9-9.3M143.7 123.3l-4.3-4.5M147.3 109.4l-7.9 9.4M140.1 211.6l13.2 1.4M147.1 320.4l-6.4 3.5M152.3 173.8l-11.4-3.1M140.9 170.7l6.5-10.1M141.7 196.4l1.4 1.9M142.8 184.5l-1.1 11.9M142.5 132.8l-0.7 0.4M150.0 369.6l-8.1-8.7M141.9 360.9l4.9-14.3M142.5 132.8l6.4 1.8M142.5 132.8l1.2-9.5M144.0 385.5l-1.2 0.6M142.8 184.5l8-1.2M152.1 198.0l-9 0.3M147.4 160.6l-4.1-5.5M147.4 148.1l-4.1 7M143.5 252.6l10.7 9.4M151.4 240.4l-7.9 12.2M143.7 123.3l9.9-1.6M144.0 385.5l20.4 8.8M144.0 385.5l6-15.9M146.1 229.6l-1.9-0.5M146.1 229.6l5.3 10.8M146.1 229.6l5.9-4.1M146.8 346.6l9.6-2.4M147.1 320.4l11.1 14.8M147.1 320.4l1-2M147.2 147.3l0.2 0.8M147.2 147.3l4.2-7.2M147.4 160.6l7.4 1M156.8 151.8l-9.4-3.7M148.1 318.4l-0.7-17M147.4 301.4l5.8-3.1M148.1 109.6l6.1 9.4M148.1 318.4l17.4-0.5M148.9 134.6l2.5 5.5M148.9 134.6l8.1-7.1M150.0 369.6l11.9-2.7M150.8 183.3l4.8 4.4M152.4 174.0l-1.6 9.3M151.4 240.4l12.3 0.8M159.2 141.0l-7.8-0.9M152.0 225.5l11.5 3.2M152.0 225.5l2.6-10.1M152.1 198.0l4.7 4.7M152.1 198.0l3.5-10.3M152.3 173.8l0.1 0.2M152.3 173.8l3-11.6M152.4 174.0l8.5 1.1M152.5 273.1l6.6 13.6M152.5 273.1l2.4-5.6M153.2 298.3l13.5 6.6M159.1 286.7l-5.9 11.6M153.3 213.0l1.3 2.4M153.3 213.0l3.5-10.3M153.6 121.7l3.4 5.8M153.6 121.7l0.6-2.7M154.2 262.0l0.7 5.5M165.8 251.7l-11.6 10.3M154.2 119.0l9.2-6.1M154.6 215.4l9.6 1.4M154.7 411.2l10.7-7.2M155.3 162.2l-0.5-0.6M154.8 161.6l2-9.8M154.9 267.5l18.4 2.2M155.3 162.2l9.3 2.1M160.0 186.7l-4.4 1M156.4 344.2l8.5 7.2M158.2 335.2l-1.8 9M156.8 151.8l5.3-3.3M161.5 202.4l-4.7 0.3M159.2 128.3l-2.2-0.8M158.2 335.2l12.5-6.7M159.1 286.7l2.7-0.3M162.1 135.4l-2.9-7.1M169.4 122.9l-10.2 5.4M162.1 148.5l-2.9-7.5M159.2 141.0l2.9-5.6M160.0 186.7l6.3 6.3M163.5 181.8l-3.5 4.9M160.9 175.1l2.6 6.7M160.9 175.1l5.9-7.5M161.5 202.4l8.7 5.3M166.3 193.0l-4.8 9.4M175.1 293.1l-13.3-6.7M175.3 276.2l-13.5 10.2M173.7 376.5l-11.8-9.6M161.9 366.9l3-15.5M171.0 136.4l-8.9-1M162.8 148.7l-0.7-0.2M162.8 148.7l5.3 6.5M162.8 148.7l9.6-6.4M163.5 181.8l10-0.7M164.8 239.7l-1.3-11M163.5 228.7l2.9-3.6M163.7 241.2l2.1 10.5M164.8 239.7l-1.1 1.5M164.2 216.8l2.2 8.3M170.3 210.2l-6.1 6.6M164.4 394.3l1 9.7M174.7 381.2l-10.3 13.1M166.8 167.6l-2.2-3.3M164.6 164.3l3.5-9.1M175.3 237.5l-10.5 2.2M174.8 348.8l-9.9 2.6M165.4 404.0l6.6 4.7M170.7 328.5l-5.2-10.6M165.5 317.9l3.8-7.3M169.4 122.9l-3.7-9.6M165.8 251.7l6.7 2.6M166.3 193.0l4-0.5M177.3 224.8l-10.9 0.3M169.3 310.6l-2.6-5.7M175.9 295.9l-9.2 9M173.0 169.7l-6.2-2.1M168.1 155.2l7.7-0.6M179.8 311.8l-10.5-1.2M173.7 124.9l-4.3-2M170.2 207.7l0.1 2.5M175.0 203.2l-4.8 4.5M178.0 217.2l-7.7-7M175.7 198.0l-5.4-5.5M174.4 183.8l-4.1 8.7M170.7 328.5l5.1 1.4M171.0 136.4l1.9 2.9M171.0 136.4l2.7-11.5M173.7 422.4l-1.7-13.7M190.5 405.7l-18.5 3M172.4 142.3l6.6 9M172.4 142.3l0.5-3M172.5 254.3l3.9 9.9M180.7 248.8l-8.2 5.5M182.9 137.3l-10 2M175.1 177.1l-2.1-7.4M173.0 169.7l4.8-4.2M173.3 269.7l2 6.5M176.4 264.2l-3.1 5.5M173.5 181.1l0.9 2.7M175.1 177.1l-1.6 4M173.7 124.9l1.1-0.2M173.7 376.5l1 4.7M186.7 361.1l-13 15.4M185.7 190.8l-11.3-7M174.7 381.2l12.9 5.2M184.3 132.9l-9.5-8.2M174.8 124.7l8-8M185.0 354.8l-10.2-6M177.8 333.9l-3 14.9M175.0 203.2l13.4 4.2M175.0 203.2l0.7-5.2M175.9 295.9l-0.8-2.8M182.6 281.1l-7.5 12M187.7 177.0l-12.6 0.1M175.3 237.5l3.4 2.1M177.3 224.8l-2 12.7M182.6 281.1l-7.3-4.9M185.3 192.0l-9.6 6M177.8 165.5l-2-10.9M179.0 151.3l-3.2 3.3M177.8 333.9l-2-4M182.0 322.1l-6.2 7.8M182.7 299.8l-6.8-3.9M176.4 264.2l9.4-1.1M177.3 224.8l0.6-0.5M185.0 165.4l-7.2 0.1M177.8 333.9l13.9 2.8M184.9 226.4l-7-2.1M178.0 217.2l-0.1 7.1M188.9 210.1l-10.9 7.1M178.7 239.6l2 9.2M188.4 235.8l-9.7 3.8M179.0 151.3l3.4-0.5M182.0 322.1l-2.2-10.3M184.4 306.9l-4.6 4.9M189.0 251.2l-8.3-2.4M191.3 322.3l-9.3-0.2M189.6 157.6l-7.2-6.8M186.4 143.7l-4 7.1M182.6 281.1l2.9 0M182.7 299.8l1.7 7.1M182.7 299.8l7.4-6.7M186.4 143.7l-3.5-6.4M184.3 132.9l-1.4 4.4M184.3 132.9l4.6-2.5M184.4 306.9l7.7 1.6M188.4 235.8l-3.5-9.4M193.7 220.6l-8.8 5.8M188.7 175.2l-3.7-9.8M189.9 159.8l-4.9 5.6M186.7 361.1l-1.7-6.3M185.0 354.8l10.7-11.1M190.3 122.6l-5-5.4M189.3 204.8l-4-12.8M185.3 192.0l0.4-1.2M190.1 293.1l-4.6-12M185.5 281.1l7.3-5M190.0 187.7l-4.3 3.1M192.7 272.2l-6.9-9.1M189.9 254.6l-4.1 8.5M186.4 143.7l8.9-0.6M186.7 361.1l13.8 6.1M187.6 386.4l2.9 19.3M187.6 386.4l9.2-4M187.7 177.0l2.3 10.6M188.7 175.2l-1 1.8M188.4 207.4l0.5 2.7M189.3 204.8l-0.9 2.6M195.1 238.7l-6.7-2.9M196.1 172.9l-7.4 2.3M188.9 130.4l8.9 5.4M190.3 122.6l-1.4 7.8M188.9 210.1l5.1 4.7M189.0 251.2l0.9 3.4M195.8 241.4l-6.8 9.8M189.3 204.8l10.3-5.8M189.6 157.6l0.3 2.2M189.6 157.6l7.5-7.1M197.3 163.9l-7.4-4.1M200.7 258.9l-10.8-4.3M190.0 187.7l9.7 9.2M190.0 187.7l0-0.1M202.2 182.8l-12.2 4.8M197.2 295.0l-7.1-1.9M203.1 121.0l-12.8 1.6M190.5 405.7l2 1.2M195.1 327.7l-3.8-5.4M191.3 322.3l3.9-7.7M195.7 343.7l-4-7M195.1 327.7l-3.4 9M195.2 314.6l-3.1-6.1M192.1 308.5l6.6-7.1M195.6 427.0l-3.1-20.1M192.5 406.9l12.7-4.1M192.7 272.2l0.1 3.9M201.7 262.5l-9 9.7M192.8 276.1l2.6 1.3M200.9 229.0l-7.2-8.4M193.7 220.6l0.3-5.8M205.4 211.1l-11.4 3.7M195.1 238.7l0.7 2.7M200.9 229.0l-5.8 9.7M195.1 327.7l8.6-0.7M195.1 428.0l0.5-1M205.6 315.8l-10.4-1.2M197.1 150.5l-1.8-7.4M195.3 143.1l3.1-4.2M202.2 289.5l-6.8-12.1M211.8 274.5l-16.4 2.9M195.6 427.0l18.7-6.6M209.1 345.3l-13.4-1.6M195.8 241.4l11.8 5.9M204.6 178.2l-8.5-5.3M196.1 172.9l1.2-9M196.8 382.4l12.3 7.4M200.5 367.2l-3.7 15.2M206.1 154.5l-9-4M198.7 301.4l-1.5-6.4M197.2 295.0l5-5.5M206.0 161.2l-8.7 2.7M197.8 135.8l0.6 3.1M203.9 126.1l-6.1 9.7M209.7 142.3l-11.3-3.4M207.0 304.7l-8.3-3.3M205.5 205.6l-5.9-6.6M199.6 199.0l0.1-2.1M205.4 191.8l-5.7 5.1M200.5 367.2l3.9-1.7M200.7 258.9l1 3.6M207.8 248.2l-7.1 10.7M200.9 229.0l9.5-1.7M210.1 266.7l-8.4-4.2M202.2 182.8l3.2 9M204.6 178.2l-2.4 4.6M206.9 289.2l-4.7 0.3M203.1 121.0l0.8 5.1M203.3 120.5l-0.2 0.5M203.7 327.0l7.3 8.9M206.7 317.2l-3 9.8M203.9 126.1l9.1 6.3M204.4 365.5l11.3 4.6M204.4 365.5l4.7-20.2M204.6 178.2l1.8-0.8M205.2 402.8l13.3 10.2M209.1 389.8l-3.9 13M205.4 191.8l10.1 1.9M205.4 211.1l3.5 2.7M205.4 211.1l0.1-5.5M205.5 205.6l11-9M206.7 317.2l-1.1-1.4M205.6 315.8l1.4-11.1M206.0 161.2l3.7 9.4M206.0 161.2l1.5-3.6M207.5 157.6l-1.4-3.1M206.1 154.5l3.6-12.2M206.4 177.4l11.9 8M209.7 170.6l-3.3 6.8M206.7 317.2l10.5 1M215.7 299.0l-8.8-9.8M213.1 279.4l-6.2 9.8M215.1 300.4l-8.1 4.3M207.5 157.6l13.5-1.2M207.6 247.3l0.2 0.9M207.6 247.3l6.4-7.1M207.8 248.2l8.5 8.2M208.9 213.8l1.5 13.5M208.9 213.8l11.8-3.3M209.1 389.8l4-1.6M209.1 345.3l1-0.7M210.2 142.0l-0.5 0.3M221.5 169.6l-11.8 1M212.4 272.9l-2.3-6.2M216.3 256.4l-6.2 10.3M210.1 344.6l2.2 0.7M210.1 344.6l0.9-8.7M221.3 146.1l-11.1-4.1M213.0 132.4l-2.8 9.6M210.4 227.3l1.7 0.9M211.0 335.9l10-10.1M211.8 274.5l1.3 4.9M212.4 272.9l-0.6 1.6M214.0 240.2l-1.9-12M212.1 228.2l10.8-2.9M225.0 358.9l-12.7-13.6M212.3 345.3l18.2-4.4M224.4 269.6l-12 3.3M219.4 129.8l-6.4 2.6M222.7 285.6l-9.6-6.2M213.1 388.2l8.6 2.3M213.1 388.2l2.6-18.1M214.0 240.2l10.7 2.5M214.3 420.4l3.3 10.1M214.3 420.4l4.1-6.1M220.1 312.1l-5-11.7M215.1 300.4l0.6-1.4M216.5 196.6l-1-2.9M218.3 185.4l-2.8 8.3M215.7 370.1l2.4-0.7M215.8 298.9l-0.1 0.1M228.2 299.8l-12.4-0.9M222.7 285.6l-6.9 13.3M227.8 256.2l-11.5 0.2M219.5 199.2l-3-2.6M217.2 318.2l3.8 7.6M217.2 318.2l2.9-6.1M218.1 369.4l13.8 8.7M218.1 369.4l6.9-10.5M218.3 185.4l2.5-1.6M218.4 414.3l14.2 10.7M218.4 414.3l0.1-1.3M218.5 413.0l10.2-9.8M219.4 129.8l5.6 7.1M221.6 123.3l-2.2 6.5M220.7 210.5l-1.2-11.3M231.5 197.6l-12 1.6M220.1 312.1l8.1-1.3M226.1 214.6l-5.4-4.1M220.8 183.8l9.2 1.3M220.8 183.8l1.2-13.7M221.0 325.8l1.9 0.4M221.5 169.6l-0.5-13.2M221.0 156.4l1.6-1.6M223.3 150.5l-2-4.4M221.3 146.1l3.7-9.2M221.5 169.6l0.5 0.5M221.7 390.5l7 10.7M221.7 390.5l10.2-12.4M222.0 170.1l10.3 0.5M238.3 162.2l-15.7-7.4M223.3 150.5l-0.7 4.3M229.2 284.3l-6.5 1.3M231.5 338.4l-8.6-12.2M222.9 326.2l8.9-4.6M222.9 225.3l7.6 6.9M222.9 225.3l3.2-10.7M223.3 150.5l15.2-4.9M232.4 278.6l-8-9M224.4 269.6l3.4-13.4M224.7 242.7l5.2 11.5M224.7 242.7l5.8-10.5M225.0 358.9l9.4-1.9M236.1 135.4l-11.1 1.5M237.6 211.4l-11.5 3.2M229.8 254.7l-2 1.5M228.2 299.8l1.9 8.4M228.2 299.8l5.8-5.5M228.2 310.8l4.4 8.6M230.1 308.2l-1.9 2.6M228.7 403.2l9.6 5.5M228.7 403.2l0-2M245.1 387.2l-16.4 14M234.0 294.3l-4.8-10M229.2 284.3l3.2-5.7M245.4 266.3l-15.6-11.6M229.8 254.7l0.1-0.5M229.9 254.2l10.9-8.9M231.5 197.6l-1.5-12.5M233.9 182.5l-3.9 2.6M230.1 308.2l10.1-0.4M230.5 232.2l9-0.7M236.8 354.6l-6.3-13.7M230.5 340.9l1-2.5M231.5 338.4l9.8-5.8M231.5 124.6l4.9 10.3M237.6 201.7l-6.1-4.1M231.8 321.6l9 8.7M232.6 319.4l-0.8 2.2M231.9 378.1l5.3-0.7M232.3 170.6l1.6 11.9M237.9 165.3l-5.6 5.3M238.5 276.5l-6.1 2.1M240.3 315.5l-7.7 3.9M232.6 425.0l0.1 0.3M232.6 425.0l7.6-7.8M243.9 184.2l-10-1.7M234.0 294.3l1.4 0.5M237.2 377.4l-2.8-20.4M234.4 357.0l2.4-2.4M235.4 294.8l7.7 9.5M235.4 294.8l9.5-5.7M236.1 135.4l2.4 10.2M236.1 135.4l0.3-0.5M246.0 129.9l-9.6 5M240.5 354.2l-3.7 0.4M239.7 378.5l-2.5-1.1M237.6 211.4l5.2 17.1M237.6 211.4l0.2-0.4M237.6 201.7l0.2 9.3M237.6 201.7l7.4-6.7M237.8 211.0l21.7-0.2M237.9 165.3l7.5 7.5M238.3 162.3l-0.4 3M238.3 408.7l1.9 8.5M238.3 408.7l11.1-4.9M238.3 162.3l0-0.1M238.3 162.2l1-15.9M238.3 162.3l15.8-4.2M238.5 276.5l7.2 8.8M245.4 266.3l-6.9 10.2M238.5 145.6l0.8 0.7M239.3 146.3l11.9 0.4M240.8 245.3l-1.3-13.8M242.8 228.5l-3.3 3M245.1 387.2l-5.4-8.7M239.7 378.5l13.7-13.1M240.2 307.8l0.1 7.7M240.2 307.8l2.9-3.5M252.9 422.4l-12.7-5.2M240.3 315.5l5.1 4M252.6 360.9l-12.1-6.7M240.5 354.2l7.7-12.1M241.3 332.6l-0.5-2.3M245.4 319.5l-4.6 10.8M240.8 245.3l11 3.4M244.9 334.3l-3.6-1.7M253.5 229.1l-10.7-0.6M243.1 304.3l1.2-0.2M244.9 185.3l-1-1.1M243.9 184.2l1.5-11.4M249.2 306.7l-4.9-2.6M249.8 295.4l-5.5 8.7M249.8 295.4l-4.9-6.3M245.7 285.3l-0.8 3.8M248.2 342.1l-3.3-7.8M255.1 329.0l-10.2 5.3M245.0 195.0l-0.1-9.7M259.6 182.3l-14.7 3M245.0 195.0l12.1 4.6M248.4 388.8l-3.3-1.6M245.4 266.3l1.9-0.4M245.4 172.8l9.2-2.4M246.8 319.3l-1.4 0.2M245.7 429.8l6.3-4.6M245.7 285.3l6.8-1.5M246.0 129.9l7.7 4.7M246.0 126.6l0 3.3M255.4 324.7l-8.6-5.4M251.4 312.8l-4.6 6.5M247.3 265.9l0.3 0.1M247.3 265.9l4.5-17.2M247.6 266.0l7.3 12.1M247.6 266.0l14.7-1.5M257.0 343.9l-8.8-1.8M248.4 388.8l1 15M248.4 388.8l11.2-2.2M251.4 312.8l-2.2-6.1M258.1 303.5l-8.9 3.2M249.4 403.8l4.4 3.1M256.5 294.6l-6.7 0.8M251.2 146.7l4.6 5.5M253.7 134.6l-2.5 12.1M259.5 315.0l-8.1-2.2M251.8 248.7l7.5-4.4M252.0 425.2l3.3 11.1M252.0 425.2l0.9-2.8M258.4 290.5l-5.9-6.7M254.9 278.1l-2.4 5.7M253.4 365.4l-0.8-4.5M261.8 351.9l-9.2 9M252.9 422.4l2.6-1.8M258.9 370.0l-5.5-4.6M253.5 229.1l6.1 14.6M261.8 219.6l-8.3 9.5M253.7 134.6l7.8-2.6M255.5 420.6l-1.7-13.7M267.9 401.3l-14.1 5.6M254.0 438.5l1.3-2.2M256.7 165.6l-2.6-7.5M254.1 158.1l1.9-4.9M259.6 181.8l-5-11.4M254.6 170.4l2.1-4.8M262.1 278.1l-7.2 0M261.5 334.4l-6.4-5.4M255.1 329.0l0.3-4.3M255.3 436.3l8.6 0.3M260.6 319.3l-5.2 5.4M259.7 421.0l-4.2-0.4M256.0 153.2l-0.2-1M255.8 152.2l13-10.9M273.3 157.6l-17.3-4.4M259.2 300.7l-2.7-6.1M256.5 294.6l1.9-4.1M266.5 167.1l-9.8-1.5M257.0 343.9l4.8 8M257.0 343.9l4.5-9.5M257.1 199.6l2.4 11.2M264.3 189.9l-7.2 9.7M261.5 310.8l-3.4-7.3M258.1 303.5l1.1-2.8M265.4 287.7l-7 2.8M259.6 386.6l-0.7-16.6M268.8 368.6l-9.9 1.4M266.1 300.3l-6.9 0.4M259.3 244.3l7 13.6M259.6 243.7l-0.3 0.6M259.5 210.8l1.5 1.6M259.5 315.0l1.1 4.3M261.5 310.8l-2 4.2M259.6 182.3l4.7 7.6M259.6 182.3l0-0.5M261.3 387.2l-1.7-0.6M259.6 243.7l15.1-4.6M259.6 181.8l8.9-7.8M259.7 421.0l5.6 13.8M259.7 421.0l10-2.8M266.5 321.3l-5.9-2M261.8 219.6l-0.8-7.2M261.0 212.4l13.6-6.8M261.3 387.2l6.6 14.1M261.3 387.2l15.3-7M261.5 132.0l7.3 9.1M262.7 128.8l-1.2 3.2M261.5 310.8l8.7-2M267.1 333.5l-5.6 0.9M261.8 219.6l11.6 5.8M261.8 351.9l4.6 0.2M261.8 446.3l3.5-1.2M265.4 287.7l-3.3-9.6M266.7 272.0l-4.6 6.1M262.3 264.5l4.4 7.5M262.3 264.5l4-6.6M265.9 443.6l-2-7M263.9 436.6l1.4-1.8M264.3 189.9l8.3 1M265.3 434.8l5.7-2M265.3 445.1l4.1 7.3M265.3 445.1l0.6-1.5M267.9 288.4l-2.5-0.7M265.9 443.6l10-1.9M266.1 300.3l4.5 6.6M266.1 300.3l4.7-7.6M274.5 257.5l-8.2 0.4M266.4 352.1l3.2 1.9M271.3 338.7l-4.9 13.4M267.1 333.5l-0.6-12.2M266.5 321.3l2.3-1M268.5 174.0l-2-6.9M266.5 167.1l6.7-7.3M269.9 272.8l-3.2-0.8M267.0 454.3l2.4-1.9M267.1 333.5l0.6 0.3M267.7 333.8l3.6 4.9M280.0 325.4l-12.3 8.4M270.8 292.7l-2.9-4.3M274.4 280.8l-6.5 7.6M267.9 401.3l1.7 1M275.9 176.4l-7.4-2.4M275.3 155.0l-6.5-13.7M268.8 141.1l0 0.2M268.8 320.3l10.9 4.2M268.8 320.3l3.3-8.5M277.8 137.3l-9 3.8M276.6 380.2l-7.8-11.6M272.4 361.2l-3.6 7.4M269.4 452.4l5.8 1.4M272.4 361.2l-2.8-7.2M269.6 354.0l13.3-5.7M269.6 402.3l3.8 9.6M269.6 402.3l14.2-9.8M269.7 418.2l3.6 6.7M269.7 418.2l3.7-6.3M269.9 272.8l4.5 8M279.9 266.9l-10 5.9M270.2 308.8l1.9 3M270.6 306.9l-0.4 1.9M275.5 462.8l-5.1 1.7M270.6 306.9l6.1-4.6M274.8 294.1l-4-1.4M271.0 432.8l5.2 4.9M271.0 432.8l2.3-7.9M280.7 339.9l-9.4-1.2M272.1 311.8l10.1 2.7M272.4 361.2l11.6 2.7M272.6 190.9l1.9 1.6M272.6 190.9l3.7-13.9M279.4 167.7l-6.2-7.9M273.2 159.8l0.1-2.2M273.3 424.9l6.8 2.2M275.3 155.0l-2 2.6M273.4 225.4l2.8 11.5M282.7 218.8l-9.3 6.6M282.2 412.5l-8.8-0.6M274.4 280.8l5.9 0.4M274.5 192.5l0.1 13.1M274.5 192.5l11.6-1.2M279.9 266.9l-5.4-9.4M279.2 251.4l-4.7 6.1M280.9 209.0l-6.3-3.4M274.7 239.1l4.5 12.3M276.2 236.9l-1.5 2.2M274.8 294.1l1.9 8.2M274.8 294.1l7-2.8M275.7 462.4l-0.5-8.6M275.2 453.8l1.6-1.4M279.7 153.6l-4.4 1.4M278.9 471.7l-3.4-8.9M275.5 462.8l0.2-0.4M286.9 461.9l-11.2 0.5M275.9 441.7l2 2.9M276.2 437.7l-0.3 4M276.3 177.0l-0.4-0.6M279.4 167.7l-3.5 8.7M276.2 236.9l15.7-0.9M282.1 433.8l-5.9 3.9M288.2 179.9l-11.9-2.9M279.2 380.6l-2.6-0.4M276.7 302.3l6.9 2.6M286.8 453.6l-10-1.2M276.8 452.4l1.1-7.8M283.2 144.4l-5.4-7.1M279.2 134.3l-1.4 3M285.8 443.5l-7.9 1.1M278.3 130.7l0.9 3.6M278.4 472.8l0.5-1.1M278.9 471.7l7.4-1.3M292.6 253.0l-13.4-1.6M279.2 134.3l9.8-0.8M279.2 380.6l4.4 9.1M279.2 380.6l3.5-3.7M279.4 167.7l9.7-0.5M289.4 157.3l-9.7-3.7M279.7 153.6l3.5-9.2M280.0 325.4l-0.3-0.9M279.7 324.5l2.6-9.9M282.7 267.9l-2.8-1M280.0 325.4l1.8 1.7M280.1 427.1l2 6.7M285.6 423.2l-5.5 3.9M280.3 281.2l1.5 10.1M285.2 277.1l-4.9 4.1M282.8 342.1l-2.1-2.2M281.8 327.1l-1.1 12.8M282.7 218.8l-1.8-9.8M280.9 209.0l8.2-4.8M285.1 292.7l-3.3-1.4M290.7 327.9l-8.9-0.8M286.4 435.1l-4.3-1.3M282.3 314.6l-0.1-0.1M283.6 304.9l-1.4 9.6M282.2 412.5l3.4 10.7M282.2 412.5l4.5-2.4M292.3 315.9l-10-1.3M282.7 267.9l3.3 6.7M282.7 267.9l10.8-10.8M282.7 218.8l10.8 4M282.7 376.9l12.8 1.8M282.7 376.9l1.9-5.5M282.8 342.1l0.3 5.7M292.5 337.5l-9.7 4.6M285.9 357.0l-3-8.7M283.1 347.8l-0.2 0.5M283.1 347.8l11.3 1M290.1 143.5l-6.9 0.9M283.6 389.7l0.2 2.8M296.2 384.6l-12.6 5.1M288.4 301.4l-4.8 3.5M283.8 392.5l0.2 0.2M297.5 393.8l-13.5-1.1M284.0 392.7l4.2 9.2M284.0 363.9l0.6 7.5M284.0 363.9l0.5-0.6M285.9 357.0l-1.4 6.3M284.5 363.3l11.1 0M284.6 371.4l11.8-1.1M288.4 301.4l-3.3-8.7M293.1 286.7l-8 6M285.2 277.1l7.9 9.6M286.0 274.6l-0.8 2.5M291.7 425.6l-6.1-2.4M292.2 448.8l-6.4-5.3M285.8 443.5l0.6-8.4M285.9 357.0l9.2-1.9M286.0 274.6l12-1.8M286.1 191.3l2.4 2.7M289.1 182.6l-3 8.7M288.8 472.9l-2.5-2.5M286.3 470.4l1.4-7.6M293.1 432.3l-6.7 2.8M286.7 410.1l5.9 2.3M286.7 410.1l1.5-8.2M286.9 461.9l-0.1-8.3M292.2 448.8l-5.4 4.8M287.7 462.8l-0.8-0.9M287.7 462.8l7.8 0.2M288.2 401.9l8.3-0.7M288.2 179.9l0.9 2.7M288.2 179.9l2.2-6.2M288.7 301.4l-0.3 0M289.1 204.2l-0.6-10.2M296.7 193.9l-8.2 0.1M288.6 478.3l0.2-5.4M288.7 301.4l5.7 6.9M298.0 296.9l-9.3 4.5M288.8 472.9l6.6-1.7M289.0 133.5l2.9 6.9M289.9 132.0l-0.9 1.5M296.4 207.7l-7.3-3.5M299.8 183.7l-10.7-1.1M290.0 168.3l-0.9-1.1M289.1 167.2l0.3-9.9M289.4 157.3l0.6-0.4M290.4 173.7l-0.4-5.4M301.3 166.5l-11.3 1.8M300.9 158.1l-10.9-1.2M292.8 149.6l-2.8 7.3M292.8 149.6l-2.7-6.1M291.9 140.4l-1.8 3.1M302.1 176.1l-11.7-2.4M290.7 327.9l1.6 2.3M294.8 318.8l-4.1 9.1M293.1 432.3l-1.4-6.7M291.7 425.6l3-3.8M299.9 139.6l-8 0.8M293.7 238.4l-1.8-2.4M291.9 236.0l2.1-11M292.8 448.8l-0.6 0M292.5 337.5l-0.2-7.3M304.0 329.3l-11.7 0.9M294.8 318.8l-2.5-2.9M292.3 315.9l2.1-7.6M292.5 337.5l2.9 1.9M294.7 421.8l-2.1-9.4M292.6 412.4l6.6-2.3M292.6 253.0l0.9 4.1M292.6 253.0l1.1-2.3M300.7 148.5l-7.9 1.1M292.8 448.8l5.5 4.6M292.8 448.8l3.4-6.6M295.6 286.9l-2.5-0.2M293.1 432.3l2.9 1.8M294.0 225.0l-0.5-2.2M293.5 222.8l1-1.5M293.5 257.1l3.4 3.1M293.7 238.4l1 4.1M293.7 238.4l14.1-3.9M307.0 250.9l-13.3-0.2M294.7 242.5l-1 8.2M294.0 225.0l13.2 3.2M303.7 306.7l-9.3 1.6M294.4 348.8l0.2 0.2M295.4 339.4l-1 9.4M296.9 208.8l-2.4 12.5M306.4 218.2l-11.9 3.1M294.6 349.0l0.5 6.1M302.8 348.0l-8.2 1M294.7 421.8l9.2-0.8M307.1 243.8l-12.4-1.3M294.8 318.8l6.2 0.2M295.1 355.1l0.7 0.7M295.4 339.4l6.3 0M295.9 471.8l-0.5-0.6M295.4 471.2l1.5-6.2M296.2 384.6l-0.7-5.9M295.5 378.7l1.1-1.2M295.5 463.0l1.4 2M295.5 463.0l2.8-9.6M295.6 286.9l2.6 2.5M295.6 286.9l3.9-10.1M295.6 363.3l0.3 0.2M295.8 355.8l-0.2 7.5M302.9 355.5l-7.1 0.3M296.6 370.1l-0.7-6.6M302.9 362.5l-7 1M296.2 442.2l-0.2-8.1M296.0 434.1l6.9-1.6M296.2 384.6l0.3 0.2M296.2 442.2l10.7 1.4M296.4 207.7l0.5 1.1M296.4 207.7l4-5.6M296.4 370.3l0.2 7.2M296.6 370.1l-0.2 0.2M303.6 385.5l-7.1-0.7M296.5 384.8l1 9M296.5 401.2l1 1M298.0 394.1l-1.5 7.1M305.0 377.6l-8.4-0.1M304.1 370.2l-7.5-0.1M300.4 202.1l-3.7-8.2M303.5 188.6l-6.8 5.3M296.9 208.8l9.5 2.2M296.9 260.2l1.6 4.4M296.9 260.2l10.2-2.3M303.0 465.7l-6.1-0.7M297.5 393.8l0.5 0.3M299.2 410.1l-1.7-7.9M305.0 400.5l-7.5 1.7M303.7 393.5l-5.7 0.6M298.0 296.9l4.9 3.9M298.2 289.4l-0.2 7.5M299.5 276.8l-1.5-4M298.0 272.8l0.1-0.1M298.1 272.7l0.4-8.1M298.1 272.7l10-1.4M298.2 289.4l8-1.3M298.3 453.4l5.2 0M298.5 264.6l9.7 1.2M300.0 410.3l-0.8-0.2M299.5 276.8l8.1 3.9M299.8 133.2l0.2 6.4M299.8 183.7l3.7 4.9M302.1 176.1l-2.3 7.6M299.9 139.6l0.8 8.9M300.0 139.6l-0.1 0M300.0 139.6l9.2-0.1M304.4 418.8l-4.4-8.5M304.7 407.9l-4.7 2.4M305.7 200.3l-5.3 1.8M302.8 150.3l-2.1-1.8M301.8 159.4l-0.9-1.3M300.9 158.1l1.9-7.8M304.0 329.3l-3-10.3M304.5 316.1l-3.5 2.9M301.3 166.5l1.3 1.4M301.8 159.4l-0.5 7.1M301.7 339.4l1.7 7.7M301.7 339.4l0.1 0M301.8 339.4l9 0.1M301.8 339.4l2.3-10.1M301.8 159.4l8.2-0.4M302.1 176.1l0.1-0.2M310.1 177.3l-7.9-1.4M302.6 167.9l-0.4 8M302.6 167.9l6.3-0.1M309.5 149.0l-6.7 1.3M302.8 348.0l0.8 6.9M303.4 347.1l-0.6 0.9M306.9 443.6l-4-11.1M302.9 432.4l0 0.1M302.9 300.8l0.8 5.9M302.9 300.8l7.2-5.4M304.8 364.0l-1.9-1.5M302.9 362.5l0-7M303.6 354.9l-0.7 0.6M302.9 432.4l8.8 2M302.9 432.4l2.8-8.3M303.5 466.6l-0.5-0.9M303.0 465.7l3.8-4.7M303.4 347.1l6.8-0.1M306.8 461.0l-3.3-7.6M305.4 451.9l-1.9 1.5M306.1 189.3l-2.6-0.7M310.2 355.6l-6.6-0.7M303.6 385.5l1 1.2M305.0 377.6l-1.4 7.9M306.0 309.1l-2.3-2.4M303.7 393.5l1.3 7M304.0 393.3l-0.3 0.2M305.7 424.1l-1.8-3.1M303.9 421.0l0.5-2.2M312.7 393.9l-8.7-0.6M304.6 386.7l-0.6 6.6M304.0 329.3l0.1 0M306.4 329.4l-2.3-0.1M305.1 371.4l-1-1.2M304.8 364.0l-0.7 6.2M304.4 418.8l6.9-4.7M304.5 316.1l9.5 5.4M304.5 316.1l1.5-7M312.6 385.8l-8 0.9M310.8 409.3l-6.1-1.4M305.3 400.8l-0.6 7.1M310.3 362.6l-5.5 1.4M305.0 377.6l0 0M305.3 400.8l-0.3-0.3M311.8 378.8l-6.8-1.2M305.0 377.6l0.1-6.2M305.1 371.4l7.1-1.4M312.4 401.0l-7.1-0.2M305.4 451.9l9.9 1.1M305.4 451.9l1.5-8.3M312.8 424.8l-7.1-0.7M307.8 201.7l-2.1-1.4M306.6 190.2l-0.9 10.1M312.9 307.9l-6.9 1.2M306.6 190.2l-0.5-0.9M310.9 184.0l-4.8 5.3M306.2 288.1l3.9 7.3M306.2 288.1l1.5-2.4M310.1 332.3l-3.7-2.9M314.0 321.9l-7.6 7.5M306.4 218.2l1.6 1.1M306.4 211.0l0 7.2M307.7 210.2l-1.3 0.8M315.3 194.5l-8.7-4.3M315.3 462.8l-8.5-1.8M306.9 443.6l0 0M306.9 443.6l7-2.1M307.0 250.9l0.9 6.3M307.8 250.0l-0.8 0.9M309.1 264.9l-2-7M307.1 257.9l0.8-0.7M307.1 243.8l0.7 6.2M308.8 242.3l-1.7 1.5M307.8 234.5l-0.6-6.3M307.2 228.2l0.8-0.8M307.6 280.7l0.1 5M307.6 280.7l1.4-1.3M313.1 210.6l-5.4-0.4M307.8 201.7l-0.1 8.5M307.7 285.7l7.7 0.8M307.8 250.0l6.9 0M307.8 201.7l6.3-0.2M307.8 234.5l1.7 1.4M313.7 257.3l-5.8-0.1M308.0 227.4l0-8.1M315.4 226.4l-7.4 1M314.1 218.5l-6.1 0.8M309.0 279.4l-0.9-8.1M308.1 271.3l0.2-0.1M308.2 265.8l0.1 5.4M308.2 265.8l0.9-0.9M308.3 271.2l6.7 0.4M308.8 242.3l5.5 2.1M308.8 242.3l0.7-6.4M311.7 175.4l-2.8-7.6M308.9 167.8l2.6-2.4M309.0 279.4l5.6-1.5M309.1 264.9l4-0.4M309.2 139.5l0.3 9.5M309.8 139.0l-0.6 0.5M316.0 235.3l-6.5 0.6M309.5 149.0l1 0.8M309.7 134.1l0.1 4.9M309.8 139.0l8.9 0.7M310.0 159.0l1.5 6.4M310.0 159.0l1.8-2.3M310.1 177.3l0.8 6.7M310.1 177.3l1.6-1.9M310.1 295.4l2.6 0.7M310.1 332.3l0.7 7.2M310.1 332.3l7.6-1M310.2 347.0l0.4 0.3M310.8 339.5l-0.6 7.5M311.0 361.7l-0.8-6.1M310.2 355.6l1.1-1.2M310.3 362.6l2.4 6.8M310.3 362.6l0.7-0.9M311.8 156.7l-1.3-6.9M310.5 149.8l9-1.9M311.3 354.4l-0.7-7.1M318.6 346.5l-8 0.8M311.6 413.3l-0.8-4M310.8 409.3l1.2-1.5M310.8 339.5l0 0M317.8 339.3l-7 0.2M318.7 184.5l-7.8-0.5M311.0 361.7l7.6 0.1M311.3 354.4l6.6-0.1M315.7 420.4l-4.4-6.3M311.3 414.1l0.3-0.8M311.5 165.4l7.8 1.2M320.1 412.9l-8.5 0.4M311.7 175.4l6.7-1.3M313.9 441.5l-2.2-7.1M311.7 434.4l3.9-5M319.6 158.1l-7.8-1.4M311.8 378.8l1 6.7M311.8 378.8l1.5-1.3M312.4 401.0l-0.4 6.8M320.3 407.6l-8.3 0.2M313.3 377.5l-1.1-7.5M312.2 370.0l0.5-0.6M312.4 401.0l0.3-0.3M312.7 393.9l-0.1-8.1M312.8 385.5l-0.2 0.3M312.7 400.7l0-6.8M312.7 393.9l0 0M312.7 369.4l5.4-0.6M319.9 401.4l-7.2-0.7M315.0 300.4l-2.3-4.3M316.4 292.5l-3.7 3.6M320.2 393.3l-7.5 0.6M312.8 385.5l6.4 0.1M312.8 424.8l2.8 4.6M312.8 424.8l2.9-4.4M316.3 310.3l-3.4-2.4M312.9 307.9l2.1-7.5M314.4 265.5l-1.3-1M313.1 264.5l0.8-7M314.5 218.0l-1.4-7.4M315.5 208.5l-2.4 2.1M313.3 377.5l5.8-0.5M313.7 257.3l0.2 0.2M314.7 250.0l-1 7.3M317.8 443.3l-3.9-1.8M313.9 257.5l6.2 1.1M314.0 321.9l4.9 7.5M314.0 321.5l0 0.4M316.4 319.0l-2.4 2.5M315.4 226.4l-1.3-7.9M314.5 218.0l-0.4 0.5M314.1 201.5l1.4 7M314.1 201.5l1.7-2M314.1 467.5l1.2-4.7M314.3 244.4l0.6 5.4M314.3 244.4l3.1-2.8M315.0 271.6l-0.6-6.1M314.4 265.5l6.8-1.9M322.5 217.2l-8 0.8M314.6 277.9l0.6 0.4M314.6 277.9l0.4-6.3M314.7 250.0l0.2-0.2M314.9 249.8l5.9 0.5M315.0 271.6l0 0M322.0 270.9l-7 0.7M322.5 300.4l-7.5 0M316.5 285.3l-1.3-7M315.2 278.3l6.7-0.1M315.3 194.5l0.5 5M315.3 194.5l4.4-3.6M315.3 462.8l1.4-1.2M315.3 453.0l2.1 6.1M318.2 446.7l-2.9 6.3M315.4 286.5l1 6M316.5 285.3l-1.1 1.2M316.5 227.1l-1.1-0.7M315.5 208.5l7.2 1.1M315.6 429.4l4.6 0.9M323.0 418.7l-7.3 1.7M315.8 199.5l7.8 1.6M316.0 235.3l0.1 0M316.0 235.3l0.5-8.2M317.4 241.6l-1.3-6.3M316.1 235.3l8.5-0.5M316.3 310.3l0.1 8.7M316.3 310.3l6-1.1M322.2 292.5l-5.8 0M316.4 319.0l7.7 0.3M316.5 227.1l7.6-1.6M316.5 285.3l5.4-0.3M324.2 466.2l-7.5-4.6M317.4 459.1l-0.7 2.5M317.4 241.6l4.5 1.8M317.4 459.1l9.1-3.1M318.2 338.8l-0.5-7.5M317.7 331.3l1.2-1.9M318.2 446.7l-0.4-3.4M317.8 443.3l0.9-0.8M317.8 339.3l0.8 7.2M317.8 339.3l0.4-0.5M318.6 361.8l-0.7-7.5M319.0 353.2l-1.1 1.1M319.4 370.1l-1.3-1.3M318.1 368.8l1-6.6M325.7 338.4l-7.5 0.4M318.2 446.7l8.5 4.3M320.4 182.6l-2-8.5M318.4 174.1l0-0.1M318.4 174.0l9.5 1M318.4 174.0l0.9-7.4M319.1 362.2l-0.5-0.4M318.9 346.8l-0.3-0.3M318.7 184.5l1 6.4M318.7 184.5l1.7-1.9M318.7 139.7l2 6.9M318.8 139.4l-0.1 0.3M318.7 442.5l10.2 0.4M318.7 442.5l2.9-6.1M319.0 134.7l-0.2 4.7M328.3 136.7l-9.5 2.7M318.9 346.8l0.1 6.4M318.9 346.8l6.5-0.6M322.1 329.0l-3.2 0.4M319.0 353.2l7.3 1.6M326.0 361.6l-6.9 0.6M319.5 377.3l-0.4-0.3M319.1 377.0l0.3-6.9M320.9 392.5l-1.7-6.9M320.5 384.2l-1.3 1.4M320.2 165.8l-0.9 0.8M326.5 369.6l-7.1 0.5M319.9 157.7l-0.4-9.8M319.5 147.9l1.2-1.3M319.5 377.3l1 6.9M319.5 377.3l7.1-0.8M319.6 158.1l0.6 7.7M319.9 157.7l-0.3 0.4M319.7 190.9l4.5 1.7M319.9 401.4l0.4 6.2M321.1 400.2l-1.2 1.2M319.9 157.7l7.6-1.7M320.1 258.6l1.1 5M320.9 257.5l-0.8 1.1M323.0 418.7l-2.9-5.8M320.1 412.9l0.6-4.9M327.1 166.2l-6.9-0.4M320.2 393.3l0.9 6.9M320.9 392.5l-0.7 0.8M320.2 430.3l1.4 6.1M320.2 430.3l4.4-3.6M320.7 408.0l-0.4-0.4M328.0 182.4l-7.6 0.2M320.5 384.2l7-0.1M328.1 407.7l-7.4 0.3M325.4 147.2l-4.7-0.6M320.8 250.3l0.2 0.1M320.8 250.3l1.1-6.9M320.9 392.5l6.5-0.6M320.9 257.5l0.1-7.1M320.9 257.5l7.5-0.9M321.0 250.4l6.9 0.4M327.7 400.5l-6.6-0.3M321.4 263.7l-0.2-0.1M322.0 270.9l-0.6-7.2M321.4 263.7l7.4-0.6M321.6 436.4l8.2-0.2M321.9 473.5l2.2-0.5M321.9 285.0l0.2 0.1M321.9 285.0l0-6.8M321.9 278.2l0.2-0.1M325.9 241.4l-4 2M322.0 270.9l1.1 1M328.3 336.4l-6.2-7.4M322.1 329.0l2.2-2.5M322.3 292.4l-0.2-7.3M322.1 285.1l6.6-0.1M322.1 278.1l6.4 1.5M323.1 271.9l-1 6.2M322.2 292.5l0.3 7.9M322.2 292.5l0.1-0.1M322.3 292.4l6.7-0.3M322.3 309.2l2.3 2.1M322.3 309.2l2.4-7M322.5 217.2l0 0.1M322.5 217.2l0.2-7.6M324.7 302.2l-2.2-1.8M322.5 217.3l1.6 8.2M332.5 216.6l-10 0.7M322.7 209.6l2.1-1.9M323.0 418.7l0.9 0.4M323.1 271.9l5.3-0.5M323.6 201.1l1.3 1.4M324.2 192.6l-0.6 8.5M323.9 419.1l0.7 7.6M323.9 419.1l1.2-0.6M324.1 225.5l1.1 0.8M324.1 473.0l2.9 2M324.1 473.0l0.1-6.8M324.3 326.5l-0.2-7.2M324.1 319.3l0.8-0.7M328.3 191.1l-4.1 1.5M324.2 466.2l5.3-2.3M324.3 326.5l6.8 0.3M325.7 236.1l-1.1-1.3M324.6 234.8l0.6-8.5M324.6 311.3l0.3 7.3M324.6 311.3l6.9-0.8M324.6 426.7l4 1.9M324.7 302.2l4.5-0.9M324.8 207.7l7.2 2.3M324.8 207.7l0.1-5.2M324.9 202.5l8.1-3.6M324.9 318.6l5.8 0.5M335.2 420.6l-10.1-2.1M328.5 413.0l-3.4 5.5M332.5 225.5l-7.3 0.8M325.4 346.2l1.2 0.8M325.4 346.2l0.3-7.8M327.5 156.0l-2.1-8.8M325.4 147.2l2.8-1.3M328.3 336.4l-2.6 2M325.9 241.4l-0.2-5.3M332.5 234.6l-6.8 1.5M325.7 478.9l1.3-3.9M325.9 241.4l1.8 1.2M326.7 362.4l-0.7-0.8M326.0 361.6l0.5-6.6M326.3 354.8l0.2 0.2M326.3 354.8l0.3-7.8M333.3 353.9l-6.8 1.1M326.5 456.0l1.9 1.6M326.5 456.0l0.2-5M326.5 369.6l0.7 0.8M326.5 369.6l0.2-7.2M326.6 347.0l4.7-0.7M326.6 376.5l1.2 1.4M326.6 376.5l0.6-6.1M326.7 362.4l7.4 0M326.7 451.0l1-0.7M327.0 475.0l1.7-0.1M327.1 166.2l0.9 8.7M329.0 165.1l-1.9 1.1M327.2 370.4l6.2-0.1M327.4 391.9l1.4 7.2M327.4 391.9l0 0M327.4 391.9l0.2-7.6M327.4 391.9l7.4-0.6M327.5 384.1l0.1 0.2M327.8 377.9l-0.3 6.2M328.0 156.3l-0.5-0.3M334.6 384.6l-7-0.3M336.2 451.7l-8.5-1.4M329.9 444.4l-2.2 5.9M327.7 242.6l0.8 7.5M327.7 242.6l5.4-0.4M327.7 400.5l1.1 6.4M327.7 400.5l1.1-1.4M334.7 377.1l-6.9 0.8M328.4 256.6l-0.5-5.8M327.9 250.8l0.6-0.7M328.0 182.4l-0.1-7.4M327.9 175.0l0.1-0.1M329.0 165.1l-1-8.8M328.0 156.3l8-1.9M328.0 182.4l1.1 0.9M337.4 173.1l-9.4 1.8M328.1 407.7l0.4 5.3M328.1 407.7l0.7-0.8M328.2 145.9l7.2 1.6M328.9 137.3l-0.7 8.6M328.2 135.4l0.1 1.3M328.7 336.4l-0.4 0M328.3 191.1l3.8 2.6M329.1 183.3l-0.8 7.8M328.3 136.7l0.6 0.6M328.4 256.6l1.6 1.8M328.4 271.4l0.7 0.4M329.2 263.7l-0.8 7.7M329.5 463.9l-1.1-6.3M335.9 455.6l-7.5 2M328.7 285.0l-0.2-5.4M328.5 279.6l1.9-2M336.3 414.1l-7.8-1.1M328.5 250.1l6.8-0.4M328.6 428.6l1.2 7.6M333.6 427.0l-5 1.6M334.4 481.1l-5.7-6.2M334.3 470.0l-5.6 4.9M328.7 336.4l3.8 4M328.7 336.4l2.5-3M328.7 285.0l0.2 0.1M328.8 406.9l6.3 0M328.8 263.1l0.4 0.6M330.0 258.4l-1.2 4.7M328.8 399.1l6.7-0.4M329.9 444.4l-1-1.5M328.9 442.9l1.2-6.4M329.0 292.1l-0.1-7M328.9 285.1l6.3-0.5M336.1 138.1l-7.2-0.8M329.0 292.1l0.5 0.5M329.0 165.1l6.3 0.6M336.1 182.6l-7 0.7M330.4 277.6l-1.3-5.8M335.9 270.5l-6.8 1.3M329.2 263.7l6.7 2M329.2 301.3l2.8 3.5M329.2 301.3l0.4-0.8M333.6 484.9l-4.1 1.3M329.6 300.5l-0.1-7.9M329.5 292.6l6.2-0.7M332.6 465.4l-3.1-1.5M329.6 300.5l7.4-2.7M329.8 436.2l0.3 0.3M329.9 444.4l6.6 0.7M335.0 257.3l-5 1.1M334.2 436.4l-4.1 0.1M330.4 277.6l5.4 1M331.9 326.0l-1.2-6.9M331.6 318.3l-0.9 0.8M331.2 333.4l-0.1-6.6M331.1 326.8l0.8-0.8M331.2 333.4l8.1-0.4M331.3 346.3l2.1 1.8M332.5 340.4l-1.2 5.9M332.3 311.4l-0.8-0.9M332.0 304.8l-0.5 5.7M339.4 318.9l-7.8-0.6M332.3 311.4l-0.7 6.9M338.7 326.0l-6.8 0M339.5 304.6l-7.5 0.2M332.0 210.0l0 0M334.4 199.9l-2.4 10.1M332.0 210.0l0.5 6.6M339.5 208.9l-7.5 1.1M332.1 193.7l0.9 5.2M337.5 190.4l-5.4 3.3M339.2 311.7l-6.9-0.3M332.5 234.6l1.7 1.6M332.5 234.6l0.9-8.4M332.5 340.4l6-0.2M332.5 216.6l0.3 0.5M333.4 226.2l-0.9-0.7M332.5 225.5l0.3-8.4M332.6 465.4l1.7 4.6M336.5 461.9l-3.9 3.5M341.1 216.5l-8.3 0.6M333.0 198.9l1.4 1M333.1 242.2l2.3 1.8M334.2 236.2l-1.1 6M334.2 354.5l-0.9-0.6M333.3 353.9l0.1-5.8M338.9 346.6l-5.5 1.5M335.4 376.4l-2-6.1M334.8 368.6l-1.4 1.7M339.7 226.8l-6.3-0.6M336.3 487.2l-2.7-2.3M334.4 481.1l-0.8 3.8M338.4 431.1l-4.8-4.1M333.6 427.0l1.6-6.4M334.0 495.8l2.1-0.3M334.8 368.6l-0.7-6.2M334.1 362.4l1.3-1.2M334.2 354.5l1.2 6.7M334.2 354.5l7.2-1.6M340.6 235.8l-6.4 0.4M338.8 443.0l-4.6-6.6M338.4 431.1l-4.2 5.3M334.3 470.0l3.4 1.3M338.1 478.4l-3.7 2.7M339.3 200.8l-4.9-0.9M334.8 391.3l-0.2-6.7M334.7 384.6l-0.1 0M334.7 377.1l0 7.5M341.9 384.1l-7.2 0.5M335.4 376.4l-0.7 0.7M342.3 369.1l-7.5-0.5M335.9 392.3l-1.1-1M335.0 257.3l0.4 0.3M335.8 250.3l-0.8 7M335.1 406.9l2.2 1.8M335.7 398.9l-0.6 8M335.2 284.6l1.3 1.4M335.2 284.6l0.6-6M335.2 420.6l2.3-1.6M335.3 249.7l0.5 0.6M335.3 249.7l0.1-5.7M335.3 165.7l1.7 1.9M335.3 165.7l2.4-9.5M335.4 361.2l5.3 0.2M335.4 147.5l0.6 6.9M335.4 147.5l1.2-1.2M335.4 376.4l6.3 0M335.4 257.6l2.1 6.2M335.4 257.6l7.9-0.8M341.3 241.6l-5.9 2.4M335.5 398.7l0.2 0.2M335.5 398.7l0.4-6.4M337.3 293.3l-1.6-1.4M336.5 286.0l-0.8 5.9M342.7 400.0l-7-1.1M335.8 278.6l1.4-1M342.1 250.6l-6.3-0.3M336.5 461.9l-0.6-6.3M335.9 455.6l1.2-1.9M335.9 392.3l6.6-1.2M336.2 270.2l-0.3-4.5M337.5 263.8l-1.6 1.9M335.9 270.5l1.3 7.1M335.9 270.5l0.3-0.3M337.7 156.2l-1.7-1.8M336.1 138.1l1 1.2M336.3 136.0l-0.2 2.1M336.1 182.6l0.3 0.3M337.9 173.9l-1.8 8.7M338.4 497.0l-2.3-1.5M336.3 487.2l-0.2 8.3M337.1 453.7l-0.9-2M336.5 445.1l-0.3 6.6M336.2 270.2l6.4 0.2M337.7 417.9l-1.4-3.8M337.3 408.7l-1 5.4M342.5 486.7l-6.2 0.5M345.2 183.8l-8.8-0.9M336.4 182.9l1.1 7.5M342.5 463.1l-6-1.2M343.3 285.3l-6.8 0.7M336.5 445.1l2.3-2.1M336.6 146.3l9.6 0.2M337.1 139.3l-0.5 7M337.4 173.1l-0.4-5.5M337.0 167.6l8.7-2.6M341.4 302.5l-4.4-4.7M337.0 297.8l0.3-4.5M343.3 454.4l-6.2-0.7M337.1 139.3l7.5-1.8M337.2 277.6l5 0.5M343.3 292.4l-6 0.9M343.6 406.8l-6.3 1.9M337.9 173.9l-0.5-0.8M343.8 424.5l-6.3-5.5M337.5 419.0l0.2-1.1M337.5 190.4l3.2 1.4M337.5 263.8l5.5-0.5M337.6 502.3l1-0.7M338.1 478.4l-0.4-7.1M337.7 471.3l6.2-2.1M344.1 415.1l-6.4 2.8M345.0 156.3l-7.3-0.1M337.9 173.9l8.6 1.6M338.1 478.4l5.8 1.7M338.4 497.0l0.2 4.6M338.4 497.0l7.8-2.9M338.4 431.1l2.5-0.1M339.4 341.2l-0.9-1M339.4 333.0l-0.9 7.2M342.4 505.2l-3.8-3.6M339.2 326.7l-0.5-0.7M339.4 318.9l-0.7 7.1M340.3 442.8l-1.5 0.2M341.0 348.7l-2.1-2.1M338.9 346.6l0.5-5.4M339.2 311.7l0.6 0.7M339.2 311.7l0.3-7.1M339.2 326.7l0.1 6.3M346.8 326.1l-7.6 0.6M339.5 208.9l-0.2-8.1M340.2 200.3l-0.9 0.5M339.3 333.0l0.1 0M339.4 341.2l7.1-0.1M347.0 334.1l-7.6-1.1M339.9 318.4l-0.5 0.5M339.5 304.6l1.9-2.1M341.8 210.8l-2.3-1.9M341.8 233.9l-2.1-7.1M339.7 226.8l0.8-0.7M339.9 318.4l-0.1-6M339.8 312.4l7.2-1.5M346.6 319.3l-6.7-0.9M340.2 200.3l7.3 0.2M340.2 200.3l0.5-8.5M345.1 446.2l-4.8-3.4M340.3 442.8l4.1-7M341.2 216.6l-0.7 9.5M348.8 224.8l-8.3 1.3M340.6 235.8l0.7 5.8M341.8 233.9l-1.2 1.9M345.3 190.3l-4.6 1.5M342.3 369.1l-1.6-7.7M340.7 361.4l0.8-0.6M344.4 435.8l-3.5-4.8M340.9 431.0l2.6-4.1M341.0 348.7l0.4 4.2M341.0 348.7l5.9-2.8M341.1 216.5l0.1 0.1M341.8 210.8l-0.7 5.7M348.0 218.3l-6.8-1.7M341.3 241.6l1.4 1M341.8 353.3l-0.4-0.4M341.4 302.5l2.2-0.5M348.4 360.8l-6.9 0M341.8 353.3l-0.3 7.5M341.6 509.3l0.8-4.1M341.7 376.4l0.1 0M341.7 376.4l0.8-7.1M341.8 376.4l8 0.7M341.9 384.1l-0.1-7.7M348.2 208.7l-6.4 2.1M346.3 514.0l-4.5-4.1M341.8 233.9l7 0.3M348.6 353.6l-6.8-0.3M341.9 384.1l0.3 0.4M342.1 250.6l1.2 6.2M342.1 250.6l0 0M342.1 250.6l0.6-8M342.1 250.6l7.2-1.3M342.6 390.9l-0.4-6.4M349.2 383.8l-7 0.7M342.2 278.1l0.5 0.5M343.7 271.8l-1.5 6.3M342.3 369.1l0.2 0.2M342.4 505.2l6.4-2.3M344.2 398.2l-1.7-7.1M342.5 391.1l0.1-0.2M342.5 486.7l3.7 7.4M345.0 482.3l-2.5 4.4M342.5 369.3l5.6-1.2M342.5 463.1l2 4.8M342.5 463.1l2.5-7M342.6 390.9l7.3-0.5M343.7 271.8l-1.1-1.4M342.6 270.4l1.3-6M342.7 242.6l6.6 0.1M343.6 406.8l-0.9-6.8M344.2 398.2l-1.5 1.8M343.3 285.3l-0.6-6.7M342.7 278.6l7.5-0.6M343.9 264.4l-0.9-1.1M343.7 257.2l-0.7 6.1M345.0 456.1l-1.7-1.7M343.3 454.4l1.8-8.2M343.5 285.5l-0.2-0.2M344.2 293.2l-0.9-0.8M343.3 292.4l0.2-6.9M343.3 256.8l0.4 0.4M343.5 426.9l6.9 2.8M343.8 424.5l-0.3 2.4M343.5 285.5l6.4-0.1M343.6 406.8l1 0.6M345.7 304.0l-2.1-2M343.6 302.0l1.2-2.1M350.6 256.6l-6.9 0.6M343.7 271.8l6.4-0.1M343.8 424.5l2.7-1.7M343.9 480.1l1.1 2.2M343.9 480.1l2.4-6.5M343.9 469.2l2.4 4.4M344.5 467.9l-0.6 1.3M349.0 265.0l-5.1-0.6M344.1 415.1l4.4 2.4M344.1 415.1l0.5-7.7M344.2 398.2l4.4-0.3M344.2 293.2l0.6 6.7M350.4 292.2l-6.2 1M344.4 435.8l5.1 0.4M344.4 517.0l1.4-0.7M344.5 467.9l6.9-2.5M344.6 136.5l0 1M344.6 137.5l0.3 0.3M344.6 407.4l3.6 0.2M353.1 297.2l-8.3 2.7M344.9 137.8l1.9 8.1M352.7 137.0l-7.8 0.8M345.0 456.1l5.1 0.3M345.0 482.3l5.5 0.7M345.7 165.0l-0.7-8.7M345.3 156.1l-0.3 0.2M345.1 446.2l4.5-0.8M345.2 183.8l0.1 6.5M347.1 181.9l-1.9 1.9M354.4 156.5l-9.1-0.4M345.3 156.1l0.9-9.6M348.2 192.5l-2.9-2.2M354.2 304.2l-8.5-0.2M347.0 310.9l-1.3-6.9M345.7 165.0l1.5 1.1M350.3 522.8l-4.5-6.5M345.8 516.3l0.5-2.3M346.8 494.3l-0.6-0.2M346.8 145.9l-0.6 0.6M352.2 510.2l-5.9 3.8M351.8 474.9l-5.5-1.3M346.5 175.5l0.3 0.3M346.5 175.5l0.7-9.4M346.5 422.8l6.3 2.6M348.5 417.5l-2 5.3M346.9 345.9l-0.4-4.8M346.5 341.1l0.2-0.3M346.8 326.1l-0.2-6.8M346.6 319.3l0.5-0.3M346.7 340.8l8 0.3M347.0 334.1l-0.3 6.7M347.1 181.9l-0.3-6.1M346.8 175.8l8.5-1.9M349.6 500.4l-2.8-6.1M353.5 489.4l-6.7 4.9M352.3 145.8l-5.5 0.1M346.8 326.1l0.1 0.1M346.9 345.9l3 3M347.2 333.9l-0.3-7.7M346.9 326.2l6.8-0.1M347.0 334.1l0.2-0.2M348.5 311.9l-1.5-1M353.5 319.9l-6.4-0.9M347.1 319.0l1.4-7.1M347.1 181.9l6.9 2.2M347.2 333.9l6.7-0.5M347.2 166.1l6.7-0.4M348.7 207.8l-1.2-7.3M347.5 200.5l1.1-1.3M348.0 218.3l0.8 6.5M350.9 215.2l-2.9 3.1M348.1 368.1l3.2 3.5M349.6 363.6l-1.5 4.5M351.2 410.6l-3-3M351.8 403.0l-3.6 4.6M350.9 215.2l-2.7-6.5M348.2 208.7l0.5-0.9M348.6 199.2l-0.4-6.7M353.6 189.9l-5.4 2.6M349.6 363.6l-1.2-2.8M348.4 360.8l1.8-4.6M348.5 311.9l4.7-0.7M348.5 417.5l0 0M351.2 410.6l-2.7 6.9M357.3 419.6l-8.8-2.1M357.1 199.4l-8.5-0.2M348.6 397.9l3.2 5.1M348.6 397.9l3.4-3.9M350.2 356.2l-1.6-2.6M348.6 353.6l1.3-4.7M348.7 207.8l8.7-0.6M348.8 234.2l1.9 3.1M348.8 234.2l3-7.6M348.8 224.8l3 1.8M352.4 509.6l-3.6-6.7M349.6 500.4l-0.8 2.5M349.0 265.0l1.5 6.2M350.4 263.6l-1.4 1.4M349.1 525.5l1.2-1.6M349.2 383.8l1.6 3.3M351.1 379.1l-1.9 4.7M349.3 249.3l0-6.6M349.3 242.7l0.7-0.7M350.5 250.7l-1.2-1.4M351.7 442.1l-2.2-5.9M349.5 436.2l1.7-2.1M357.8 499.2l-8.2 1.2M349.6 445.4l3.2 5.6M349.6 445.4l2.1-3.3M356.8 364.0l-7.2-0.4M351.1 379.1l-1.3-2M351.3 371.6l-1.5 5.5M354.2 347.3l-4.3 1.6M352.0 394.0l-2.1-3.6M350.8 387.1l-0.9 3.3M350.1 285.6l-0.2-0.2M349.9 285.4l0.3-7.4M356.7 244.2l-6.7-2.2M350.7 237.3l-0.7 4.7M350.1 456.4l1.9 2.2M350.1 456.4l2.7-5.4M350.1 271.7l0.3 6.1M350.5 271.2l-0.4 0.5M350.4 292.2l-0.3-6.6M350.1 285.6l7.3-0.3M357.6 356.3l-7.4-0.1M350.4 277.8l-0.2 0.2M350.3 523.9l0-1.1M356.3 516.4l-6 6.4M350.3 523.9l8.2 2.6M350.4 429.7l0.8 4.4M352.8 425.4l-2.4 4.3M357.2 278.7l-6.8-0.9M350.4 292.2l3.7 2.9M357.2 264.8l-6.8-1.2M350.8 256.8l-0.4 6.8M350.5 483.0l3 6.4M353.9 478.5l-3.4 4.5M350.5 271.2l6.1-0.8M350.6 256.6l-0.1-5.9M350.5 250.7l6.8-1.7M350.6 256.6l0.2 0.2M350.7 237.3l7.5-1.6M357.3 257.3l-6.5-0.5M350.8 387.1l7-0.8M357.0 216.3l-6.1-1.1M356.9 379.9l-5.8-0.8M357.6 411.4l-6.4-0.8M358.9 432.8l-7.7 1.3M357.6 370.4l-6.3 1.2M351.4 465.4l4.1 2.8M351.4 465.4l0.6-6.8M351.7 442.1l4.8 0.1M351.8 226.6l2.5-0.4M351.8 403.0l4.8-0.4M353.9 478.5l-2.1-3.6M355.5 468.2l-3.7 6.7M360.3 458.6l-8.3 0M352.0 394.0l4.8 0.8M356.3 516.4l-4.1-6.2M352.4 509.6l-0.2 0.6M352.3 145.8l1.9 1.7M355.3 137.0l-3 8.8M359.0 506.7l-6.6 2.9M352.8 451.0l5.7-0.8M356.7 423.9l-3.9 1.5M354.2 304.2l-1.1-7M354.1 295.1l-1 2.1M353.2 311.2l0.9 0.9M353.2 311.2l1.1-6.8M353.5 319.9l0.6 5.8M353.5 319.9l0.9-0.9M354.0 489.5l-0.5-0.1M353.6 189.9l4.2 2.8M354.0 184.1l-0.4 5.8M354.0 333.3l-0.3-7.2M354.1 325.7l-0.4 0.4M355.3 173.9l-1.4-8.2M355.4 163.8l-1.5 1.9M355.5 340.3l-1.6-6.9M353.9 333.4l0.1-0.1M359.1 478.7l-5.2-0.2M358.8 497.9l-4.8-8.4M354.0 489.5l3.9-1.7M354.0 333.3l6.8-1.1M354.0 184.1l1.2-0.8M361.2 325.6l-7.1 0.1M354.1 295.1l4.2-1.5M354.1 312.1l6.5 0.2M354.4 319.0l-0.3-6.9M354.3 304.4l-0.1-0.2M358.1 349.8l-3.9-2.5M354.7 341.1l-0.5 6.2M354.7 156.2l-0.5-8.7M354.2 147.5l8.3-1.3M358.2 235.7l-3.9-9.5M355.2 225.6l-0.9 0.6M354.3 304.4l6.1-0.3M354.4 319.0l7 0.1M354.4 156.5l1 7.3M354.7 156.2l-0.3 0.3M354.7 156.2l8.2-1.4M355.5 340.3l-0.8 0.8M365.4 226.7l-10.2-1.1M357.0 216.3l-1.8 9.3M355.2 183.3l9.1 3.2M355.2 183.3l2.5-7.8M355.3 173.9l2.4 1.6M363.7 165.1l-8.3-1.3M355.5 468.2l3.6-0.1M355.5 340.3l5.3 0.2M357.9 516.7l-1.6-0.3M356.4 137.1l6.5 4.5M356.5 442.2l3.9 5.8M360.1 437.7l-3.6 4.5M358.1 410.9l-1.5-8.3M356.6 402.6l0.2-0.2M357.6 271.3l-1-0.9M357.2 264.8l-0.6 5.6M356.7 423.9l3 7.4M357.8 420.6l-1.1 3.3M357.3 249.0l-0.6-4.8M360.4 240.8l-3.7 3.4M357.6 370.4l-0.8-6.4M356.8 364.0l0.5-0.8M356.8 402.4l0-7.6M356.8 402.4l7.5-0.3M357.2 394.5l-0.4 0.3M356.9 379.9l0.9 6.4M357.9 379.1l-1 0.8M357.0 216.3l0.9-0.6M358.7 201.0l-1.6-1.6M357.8 192.7l-0.7 6.7M364.1 396.1l-6.9-1.6M359.2 387.8l-2 6.7M358.1 263.8l-0.9 1M357.3 278.7l-0.1 0M357.2 278.7l0.4-7.4M357.3 278.7l0.5 6M357.3 278.7l7.7-1.4M357.8 420.6l-0.5-1M357.6 411.4l-0.3 8.2M358.5 250.0l-1.2-1M357.3 257.3l0.8 6.5M357.3 257.3l0.9-0.7M357.3 363.2l8.4 0.5M357.3 363.2l0.3-6.9M357.4 285.3l1 8M357.4 285.3l0.4-0.6M358.7 209.3l-1.3-2.1M357.4 207.2l1.3-6.2M358.1 410.9l-0.5 0.5M358.2 370.8l-0.6-0.4M364.4 271.4l-6.8-0.1M357.7 356.2l-0.1 0.1M364.9 357.0l-7.2-0.8M358.1 349.8l-0.4 6.4M357.7 175.5l5.3-0.5M357.8 499.2l1.2 7.5M357.8 499.2l1-1.3M359.2 387.8l-1.4-1.5M357.8 192.7l6.3-3M357.8 284.7l7.5-0.3M365.4 420.5l-7.6 0.1M357.9 487.8l6.7 3.2M357.9 487.8l3-7.4M357.9 379.1l7.1 0.1M358.2 370.8l-0.3 8.3M360.7 521.4l-2.8-4.7M357.9 516.7l5.4-4M357.9 215.7l8 2.5M358.7 209.3l-0.8 6.4M358.1 263.8l6.3 0.6M364.4 409.9l-6.3 1M358.1 349.8l3.8-2.1M358.2 256.6l6.6 0.4M358.2 256.6l0.3-6.6M358.2 370.8l4.5-0.1M358.2 235.7l0.3 0.1M361.0 296.4l-2.7-2.8M358.3 293.6l0.1-0.3M358.4 293.3l6.9-3.9M363.6 249.1l-5.1 0.9M358.5 235.8l1.9 5M358.5 235.8l7-4.8M360.0 529.3l-1.5-2.8M358.5 526.5l2.2-5.1M360.3 458.6l-1.8-8.4M358.5 450.2l1.9-2.2M364.9 200.5l-6.2 0.5M358.7 209.3l7.9-0.5M358.8 497.9l1.6-0.4M360.1 437.7l-1.2-4.9M359.7 431.3l-0.8 1.5M359.0 506.7l2.9 1.1M359.1 468.1l1.6 1.5M361.1 459.1l-2 9M360.9 480.4l-1.8-1.7M359.1 478.7l1.6-9.1M364.8 387.1l-5.6 0.7M359.5 530.4l0.5-1.1M366.7 430.0l-7 1.3M360.0 529.3l7.8-0.4M360.1 437.7l5.9 2.6M360.3 458.6l0.8 0.5M360.4 240.8l2.8 0.9M360.4 448.0l5.4-0.7M360.4 304.1l1 0.8M361.0 296.4l-0.6 7.7M360.4 497.5l5.6 3M360.4 497.5l4.2-6.5M360.6 312.3l0.8 6.8M360.6 312.3l1.6-1.6M364.9 469.9l-4.2-0.3M360.7 521.4l6.3-0.8M361.9 347.7l-1.1-7.2M360.8 340.5l0.1-0.1M362.1 333.4l-1.3-1.2M361.2 325.6l-0.4 6.6M360.9 480.4l2.8 0.3M368.8 340.4l-7.9 0M360.9 340.4l1.2-7M368.0 297.1l-7-0.7M361.1 459.1l3.8-0.5M361.8 325.0l-0.6 0.6M361.4 319.1l0.5 0.5M361.4 304.9l0.8 5.8M361.4 304.9l7.1-2M361.8 325.0l6.7 1.6M361.8 325.0l0.1-5.4M361.9 319.6l6.9-1.9M361.9 507.8l1.4 4.9M361.9 507.8l4.3-3.1M361.9 347.7l4.3 1.1M362.1 333.4l6.3-0.1M362.2 310.7l6.3 1.1M362.5 146.2l1 1.3M362.5 146.2l0.4-4.6M362.7 370.7l1.6 1.4M362.7 370.7l3-6.9M362.9 154.8l1.8 1.5M363.5 147.5l-0.6 7.3M362.9 141.6l6.1-4.4M363.0 175.0l2.5 9.7M364.2 173.9l-1.2 1.1M363.2 241.7l0.7 7.1M363.2 241.7l4.2-1.4M363.3 512.7l4.4 2.3M371.3 147.9l-7.8-0.4M363.6 249.1l2.3 6.7M363.6 249.1l0.3-0.3M367.8 484.3l-4.1-3.6M368.6 473.4l-4.9 7.3M363.8 165.3l-0.1-0.2M363.7 165.1l1-8.8M363.8 165.3l0.4 8.6M363.8 165.3l9.3-1.1M363.9 248.8l6.7-1.1M364.1 189.7l1.3 1.5M364.3 186.5l-0.2 3.2M364.1 396.1l1.7 4.4M365.8 393.5l-1.7 2.6M364.2 173.9l8.4 0.2M365.0 379.2l-0.7-7.1M364.3 372.1l7.4-0.9M364.3 186.5l1.2-1.8M364.4 409.9l-0.1-7.8M364.3 402.1l1.5-1.6M364.4 271.4l0.6 5.9M364.4 271.4l1-1.2M365.4 270.2l-1-5.8M364.4 264.4l1.3-1.6M364.4 409.9l0.2 0.1M367.3 490.2l-2.7 0.8M367.0 418.8l-2.4-8.8M364.6 410.0l7.8-1.2M372.5 156.0l-7.8 0.3M365.8 393.5l-1-6.4M364.8 387.1l0.5-0.5M364.8 257.0l0.9 5.8M365.9 255.8l-1.1 1.2M365.7 363.7l-0.8-6.7M364.9 357.0l1.1-1M364.9 458.6l3.5 5.8M365.2 458.3l-0.3 0.3M364.9 200.5l1.7 8.3M364.9 200.5l1-0.8M364.9 469.9l3.7 3.5M368.4 464.4l-3.5 5.5M365.0 277.3l0.4 0.5M365.0 379.2l0.9 0.8M366.5 448.4l-1.3 9.9M365.2 458.3l8.2-1.7M365.3 284.4l0.1 0.1M365.4 277.8l-0.1 6.6M368.2 291.8l-2.9-2.4M365.3 289.4l0.1-4.9M371.8 387.8l-6.5-1.2M365.3 386.6l0.6-6.6M374.1 192.5l-8.7-1.3M365.9 199.7l-0.5-8.5M365.4 277.8l7-0.2M371.2 284.7l-5.8-0.2M365.4 420.5l2.7 7.9M367.0 418.8l-1.6 1.7M365.4 270.2l6 0.3M365.4 226.7l0.1 4.3M365.4 226.7l0.2-0.3M374.2 183.1l-8.7 1.6M365.5 231.0l2.4 2.9M365.6 226.4l0.3-8.2M365.6 226.4l9.4-0.5M372.0 263.0l-6.3-0.2M365.7 363.8l0-0.1M365.7 363.8l6.4 1.4M372.3 393.6l-6.5-0.1M370.9 400.9l-5.1-0.4M366.5 448.4l-0.7-1.1M365.8 447.3l1.4-3.3M365.9 218.2l2.4-2.1M365.9 199.7l7 0.3M371.1 378.7l-5.2 1.3M365.9 255.8l5.2-1.1M366.2 504.7l-0.2-4.2M366.0 500.5l5.4-4.4M366.0 356.0l7 0.7M366.0 356.0l0.2-7.2M366.0 440.3l1.2 3.7M368.3 436.4l-2.3 3.9M366.2 348.8l2.2-1.2M366.2 504.7l6.9 2.8M366.5 448.4l6.6 3.3M366.6 208.8l0.6 0.4M368.3 436.4l-1.6-6.4M366.7 430.0l1.4-1.6M372.9 417.7l-5.9 1.1M369.0 523.5l-2-2.9M367.7 515.0l-0.7 5.6M374.1 442.8l-6.9 1.2M367.2 209.2l1.1 6.9M374.1 206.0l-6.9 3.2M367.3 490.2l3.2 2.5M367.3 490.2l0.5-5.9M367.4 240.3l3.3 2.2M367.9 233.9l-0.5 6.4M367.7 515.0l4.1-2.1M371.9 482.4l-4.1 1.9M370.5 532.4l-2.7-3.5M367.8 528.9l1.2-5.4M374.7 234.0l-6.8-0.1M368.0 297.1l0.1 0M368.0 297.1l0.2-5.3M368.1 297.1l0.4 5.8M368.1 297.1l7.2-1.1M375.1 428.2l-7 0.2M368.2 291.8l4.1-2.6M368.3 436.4l6.4 0.1M368.3 216.1l6.9 0.5M368.4 464.4l4.3 0.2M368.4 347.6l4.8 1.6M368.9 340.5l-0.5 7.1M369.0 333.9l-0.6-0.6M368.4 333.3l0.1-6.7M369.0 326.3l-0.5 0.3M368.8 317.7l-0.3-5.9M369.6 310.8l-1.1 1M368.9 303.3l-0.4-0.4M368.6 473.4l3.1 0.3M368.9 340.5l-0.1-0.1M368.8 340.4l0.2-6.5M369.3 318.2l-0.5-0.5M368.9 340.5l7.5 0.5M375.8 303.3l-6.9 0M368.9 303.3l0.7 7.5M369.0 326.3l0.3-8.1M375.7 325.8l-6.7 0.5M375.0 522.2l-6 1.3M369.0 333.9l6.8-0.7M376.1 319.0l-6.8-0.8M375.4 310.6l-5.8 0.2M372.9 145.8l-2.6-8.6M370.4 534.5l0.1-2.1M370.5 492.7l0.9 3.4M370.5 492.7l6.2-4M370.5 532.4l5.4-2.1M371.1 248.3l-0.5-0.6M370.7 242.5l-0.1 5.2M370.7 242.5l5.6-2.2M370.9 400.9l1.4 1.3M370.9 400.9l1.4-7.3M378.9 248.4l-7.8-0.1M371.1 254.7l0-6.4M371.1 254.7l1.4 1M372.8 380.0l-1.7-1.3M371.1 378.7l1.5-6.1M371.2 284.7l1.1 4.5M372.7 283.0l-1.5 1.7M372.7 155.6l-1.4-7.7M372.9 145.8l-1.6 2.1M376.4 499.7l-5-3.6M371.4 270.5l0.2 0.1M372.7 263.6l-1.3 6.9M371.6 270.6l0.8 7M371.6 270.6l6.8-0.1M371.7 371.2l0.9 1.4M372.1 365.2l-0.4 6M371.7 473.7l0.9 1.1M374.4 469.0l-2.7 4.7M371.8 387.8l1 5.2M373.1 386.5l-1.3 1.3M371.8 512.9l3.4 3.2M373.2 508.0l-1.4 4.9M371.9 482.4l3.2 1.2M371.9 482.4l0.7-7.6M372.7 263.6l-0.7-0.6M372.5 255.7l-0.5 7.3M372.1 365.2l0.6-0.5M372.8 393.0l-0.5 0.6M375.1 290.8l-2.8-1.6M372.3 402.2l0.1 6.6M372.3 402.2l6.7-1.8M373.1 409.5l-0.7-0.7M372.4 277.6l0.1 0.1M372.5 156.0l1.3 7.5M372.7 155.6l-0.2 0.4M372.5 255.7l5.8-0.4M372.7 283.0l-0.2-5.3M378.4 276.8l-5.9 0.9M372.6 474.8l7.2 1.9M379.1 373.3l-6.5-0.7M372.6 174.1l0.6 0.4M373.1 164.2l-0.5 9.9M372.7 283.0l6.6 1.5M372.7 464.6l1.7 4.4M372.7 464.6l3.7-5.2M372.7 263.6l5.6 0.1M379.9 365.4l-7.2-0.7M372.7 364.7l0.9-7.4M372.7 155.6l7-1.6M373.1 386.5l-0.3-6.5M372.8 380.0l6.2 0M379.4 394.0l-6.6-1M375.3 419.3l-2.4-1.6M372.9 417.7l0.2-8.2M374.1 206.0l-1.2-6M375.4 197.1l-2.5 2.9M372.9 145.8l7.6 0M373.6 357.3l-0.6-0.6M373.2 349.2l-0.2 7.5M373.2 508.0l-0.1-0.5M373.1 507.5l3.3-7.8M373.1 451.7l0.3 4.9M377.1 448.5l-4 3.2M373.1 164.2l0.7-0.7M373.1 386.5l6.7-0.1M378.6 409.5l-5.5 0M374.4 182.4l-1.2-7.9M373.2 174.5l9-2.2M373.2 508.0l4.8 1M373.2 349.2l3.3-1.4M373.4 456.6l3 2.8M373.6 357.3l6.8-0.8M381.8 164.7l-8-1.2M375.4 197.1l-1.3-4.6M376.3 187.3l-2.2 5.2M376.5 207.8l-2.4-1.8M377.1 448.5l-3-5.7M374.1 442.8l1-1.7M376.3 187.3l-2.1-4.2M374.4 182.4l-0.2 0.7M374.4 469.0l6.5-0.3M374.4 182.4l9-3.2M374.7 234.0l1.6 6.3M375.9 232.3l-1.2 1.7M375.1 441.1l-0.4-4.6M374.7 436.5l2.7-4.1M375.0 225.9l0.9 6.4M375.0 225.9l0.7-0.8M376.3 523.1l-1.3-0.9M375.2 516.1l-0.2 6.1M375.3 296.0l-0.2-5.2M375.1 290.8l5.7-3.3M375.1 483.6l1.6 5.1M375.1 483.6l6.4-4.1M375.1 428.2l1.4 1.1M375.3 419.3l-0.2 8.9M375.1 441.1l9.2 0.3M376.5 515.9l-1.3 0.2M376.3 217.5l-1.1-0.9M376.5 207.8l-1.3 8.8M377.0 297.5l-1.7-1.5M375.3 137.3l5.4 3M375.3 419.3l5.5-1.6M381.7 197.9l-6.3-0.8M375.4 310.6l1.3 1M375.8 303.3l-0.4 7.3M384.3 226.7l-8.6-1.6M375.7 225.1l0.6-7.6M375.7 325.8l0.6 0.7M376.1 319.0l-0.4 6.8M375.8 303.3l0.4-0.4M375.8 333.2l0.6 7.8M375.8 333.2l0.8-0.7M375.9 530.3l1.8 1.1M375.9 530.3l1-3.1M375.9 232.3l6.8 0.3M376.1 319.0l0.3-0.2M383.6 305.4l-7.4-2.5M377.0 297.5l-0.8 5.4M376.3 187.3l6.6 0.8M382.5 217.2l-6.2 0.3M376.6 332.5l-0.3-6M384.0 325.7l-7.7 0.8M376.3 240.3l2.5 1M376.4 341.0l0.4 0.4M376.4 499.7l2.7-0.6M382.8 319.1l-6.4-0.3M376.7 311.6l-0.3 7.2M376.4 459.4l3.6 0.1M376.5 429.3l0.9 3.1M376.5 429.3l8.8-4.7M376.5 347.8l4.6 2.4M376.5 347.8l0.3-6.4M376.5 207.8l5.6-1M382.9 333.8l-6.3-1.3M376.7 311.6l6.2-1.3M376.7 488.7l5.6 1.8M376.8 341.4l6.4-1.3M383.7 296.1l-6.7 1.4M377.1 448.5l4.4 0.5M377.4 432.4l6.3 3.4M378.3 263.7l0.4 6.5M378.3 263.7l0 0M378.3 255.3l1 1M378.3 255.3l0.8-6.6M378.3 263.7l6.5 0.5M378.3 263.7l1-7.4M380.6 278.4l-2.2-1.6M378.4 270.5l0 6.3M378.7 270.2l-0.3 0.3M378.6 409.5l0.6 0.6M381.1 402.2l-2.5 7.3M378.7 270.2l7.1 0.4M378.9 248.4l-0.1-7.1M383.1 239.6l-4.3 1.7M379.1 248.7l-0.2-0.3M379.0 380.0l1.1 6M379.0 380.0l1.1-1.5M379.0 400.4l2.1 1.8M379.4 394.0l-0.4 6.4M379.1 373.3l1 5.2M379.8 372.5l-0.7 0.8M381.3 502.8l-2.2-3.7M380.9 497.5l-1.8 1.6M379.1 248.7l6.3 0.1M380.8 417.7l-1.6-7.6M379.2 410.1l7.4-0.6M380.8 287.5l-1.5-3M380.6 278.4l-1.3 6.1M379.3 256.3l6.4 0.4M379.4 394.0l1-1M379.7 154.0l2.7 2.5M379.7 154.0l1.7-7.1M379.8 476.7l1.7 2.8M379.8 476.7l1.8-7.4M379.8 372.5l0.1-7.1M379.8 372.5l7.5-0.5M379.8 386.4l0.6 6.6M379.8 386.4l0.3-0.4M379.9 365.4l0.7-0.5M380.9 468.7l-0.9-9.2M382.1 458.3l-2.1 1.2M380.1 386.0l7.2-1.1M380.1 378.5l5.9 0.3M380.4 393.0l6.2 0.4M381.8 358.0l-1.4-1.5M380.4 356.5l0.7-6.3M380.5 145.8l0.9 1.1M380.7 140.3l-0.2 5.5M380.6 364.9l6.3 1.7M380.6 364.9l1.2-6.9M380.6 278.4l3.7-0.8M380.7 140.3l3.2-2.9M382.8 288.4l-2-0.9M380.8 417.7l3.3 1M385.0 498.5l-4.1-1M382.3 490.6l-1.4 6.9M380.9 468.7l0.7 0.6M386.4 402.9l-5.3-0.7M381.1 350.2l3.5-1.7M386.0 147.2l-4.6-0.3M381.5 449.0l2.6 5.4M385.0 442.4l-3.5 6.6M381.5 479.5l0.7 0.3M387.7 469.4l-6.1-0.1M381.7 197.9l2.1 4.8M381.7 197.9l1.9-2.5M386.8 358.1l-5-0.1M382.0 164.9l-0.2-0.2M382.4 156.5l-0.6 8.2M382.6 171.8l-0.6-6.9M382.0 164.9l8.5-1.7M388.5 463.6l-6.4-5.3M384.1 454.4l-2 3.9M382.1 206.8l1.4 1.9M383.8 202.7l-1.7 4.1M384.2 484.3l-2-4.5M382.2 479.8l6.7-3.9M383.4 179.2l-1.2-6.9M382.6 171.8l-0.4 0.5M382.3 490.6l0-0.1M384.2 484.3l-1.9 6.2M390.1 491.9l-7.8-1.3M382.4 156.5l8.7-1.6M382.5 217.2l1.9 1.1M382.5 217.2l1-8.5M382.6 171.8l8.5 0.8M382.7 232.6l1.2 2.3M384.3 226.7l-1.6 5.9M383.7 296.0l-0.9-7.6M382.8 288.4l4.5-2.2M384.0 325.7l-1.2-6.6M382.8 319.1l0.8-0.8M382.9 188.1l0.7 7.3M382.9 188.1l1.6-1.2M382.9 310.3l0.7 8M383.2 310.0l-0.3 0.3M382.9 333.8l0.3 6.3M383.9 332.8l-1 1M385.8 241.4l-2.7-1.8M383.9 234.9l-0.8 4.7M383.2 310.0l6.9 2M383.6 305.4l-0.4 4.6M384.0 340.7l-0.8-0.6M384.6 180.4l-1.2-1.2M390.4 210.6l-6.9-1.9M383.6 195.4l7.7-0.5M384.8 304.0l-1.2 1.4M383.6 318.3l6.7-0.5M384.8 304.0l-1.1-7.9M383.7 296.1l0-0.1M383.7 296.0l7.2-0.3M384.3 441.4l-0.6-5.6M383.7 435.8l4.4-3.5M383.8 202.7l7.3-0.3M391.7 233.7l-7.8 1.2M391.3 333.2l-7.4-0.4M383.9 332.8l0.2-7M384.1 325.8l-0.1-0.1M384.0 340.7l0.6 7.8M391.0 339.9l-7 0.8M384.1 454.4l5.7-0.8M390.8 325.3l-6.7 0.5M385.3 424.6l-1.2-5.9M384.1 418.7l3-2.4M391.3 484.6l-7.1-0.3M384.3 226.7l2.7-2.1M384.3 277.6l0.9 0.6M385.8 270.6l-1.5 7M384.3 441.4l0.7 1M384.4 218.3l2.6 6.3M384.4 218.3l6.7-4.7M384.5 186.9l6.5 1.1M384.6 180.4l-0.1 6.5M387.3 349.3l-2.7-0.8M384.6 180.4l6.2-1.1M384.8 264.2l1.1 6.4M384.8 264.2l3.3-4.1M384.8 304.0l6.3-0.2M390.2 443.3l-5.2-0.9M388.0 284.8l-2.8-6.6M385.2 278.2l5.5-1M385.3 424.6l1.5 1.2M385.4 248.8l0.3 7.9M385.8 248.5l-0.4 0.3M388.0 258.3l-2.3-1.6M385.8 248.5l5 0.3M385.8 241.4l0 7.1M390.5 241.2l-4.7 0.2M385.9 270.6l-0.1 0M385.9 270.6l3.2 0M391.1 153.4l-5.1-6.2M386.0 147.2l5-5.8M386.5 379.3l-0.5-0.5M387.3 372.0l-1.3 6.8M386.2 137.5l4.8 3.9M386.4 402.9l0.2 6.6M387.3 402.2l-0.9 0.7M386.5 379.3l0.8 5.6M394.6 377.9l-8.1 1.4M387.5 394.4l-0.9-1M386.6 393.4l2-7.5M386.6 409.5l0.1 0.1M386.7 409.6l0.4 6.7M394.8 409.3l-8.1 0.3M388.7 364.0l-1.9-5.9M386.8 358.1l1.9-1.6M386.8 425.8l1.3 6.5M386.8 425.8l6.9-1.6M388.2 371.1l-1.3-4.5M386.9 366.6l1.8-2.6M389.6 225.2l-2.6-0.6M387.1 416.3l6.3 0.5M388.2 371.1l-0.9 0.9M388.7 356.5l-1.4-7.2M393.0 347.3l-5.7 2M387.3 384.9l1.3 1M391.0 289.8l-3.7-3.6M387.3 286.2l0.7-1.4M392.8 402.6l-5.5-0.4M387.3 402.2l0.2-7.8M395.3 394.1l-7.8 0.3M389.6 471.3l-1.9-1.9M387.7 469.4l0.8-5.8M388.0 284.8l6.2-3.2M388.3 259.3l-0.3-1M391.6 254.2l-3.6 4.1M393.7 433.9l-5.6-1.6M388.1 260.1l4.2 6.3M388.1 260.1l0.2-0.8M393.8 372.2l-5.6-1.1M388.3 259.3l8 1.2M392.7 461.4l-4.2 2.2M393.5 385.7l-4.9 0.2M388.7 364.0l5.8-0.9M393.3 356.7l-4.6-0.2M392.9 480.1l-4-4.2M388.9 475.9l0.7-4.6M389.1 270.6l1.3 1.2M389.1 270.6l3.2-4.2M389.6 225.2l1.1 1.1M389.6 225.2l5.1-6.6M395.6 470.2l-6 1.1M393.6 455.7l-3.8-2.1M391.4 445.2l-1.6 8.4M390.1 491.9l0.1 2.5M390.1 491.9l1.6-1.3M390.1 312.0l0.2 5.8M391.5 310.7l-1.4 1.3M390.2 443.3l1.2 1.9M394.9 437.5l-4.7 5.8M391.1 318.6l-0.8-0.8M390.4 271.8l5.1 1M390.7 277.2l-0.3-5.4M390.4 210.6l0.9 1.6M390.4 210.6l1.7-7M390.5 163.2l1.7 1.7M391.2 155.0l-0.7 8.2M391.2 241.9l-0.7-0.7M390.5 241.2l2.2-6.5M394.6 279.7l-3.9-2.5M390.7 226.3l7.8 0.6M390.7 226.3l1 7.4M390.8 179.3l1.4 1.4M391.1 172.6l-0.3 6.7M390.8 248.8l0.2 0.2M391.2 241.9l-0.4 6.9M391.9 332.5l-1.1-7.2M390.9 325.3l-0.1 0M390.9 325.3l0.2-6.7M390.9 325.3l7.7-0.2M391.2 295.9l-0.3-0.2M390.9 295.7l0.1-5.9M391.0 141.4l2-0.1M391.0 289.8l4.5-1.1M391.3 194.9l-0.3-6.9M391.0 188.0l2.2-1.8M391.0 249.0l0.6 5.2M396.6 248.0l-5.6 1M393.2 342.0l-2.2-2.1M391.0 339.9l0.3-6.7M391.1 202.4l1 1.2M391.1 202.4l0.7-7M391.1 172.6l0.5-0.5M391.1 213.6l3.6 5M391.3 212.2l-0.2 1.4M391.1 154.9l0.1 0.1M391.1 153.4l0 1.5M395.2 148.4l-4.1 5M391.1 303.8l0.5 0.4M391.1 303.8l0.1-7.9M397.9 317.6l-6.8 1M391.2 295.9l4.7 0M391.2 155.0l8.7 2.3M396.5 243.0l-5.3-1.1M391.3 194.9l0.5 0.5M391.3 333.2l0.6-0.7M391.3 212.2l7.4-1.8M391.7 490.6l-0.4-6M391.3 484.6l1.6-1.8M398.5 447.6l-7.1-2.4M398.2 311.7l-6.7-1M391.6 304.2l-0.1 6.5M398.1 173.2l-6.5-1.1M392.2 164.9l-0.6 7.2M398.0 303.7l-6.4 0.5M397.2 254.4l-5.6-0.2M391.7 233.7l1 1M395.2 491.2l-3.5-0.6M391.8 195.4l7.3 0M391.9 332.5l6.8 0.1M398.2 204.1l-6.1-0.5M393.2 186.2l-1-5.5M398.4 178.1l-6.2 2.6M392.2 164.9l6.6-0.5M392.3 266.4l3.7-0.2M395.6 234.9l-2.9-0.2M392.7 461.4l4.8 4.2M392.7 461.4l0.9-5.7M392.8 402.6l2 6.7M392.8 402.6l2.1-1.7M392.9 480.1l0 2.7M398.2 476.7l-5.3 3.4M399.6 485.5l-6.7-2.7M394.1 142.3l-1.1-1M393.0 141.3l1.4-3.5M393.0 347.3l1.2 1M393.2 342.0l-0.2 5.3M397.1 186.8l-3.9-0.6M398.6 339.9l-5.4 2.1M394.7 357.9l-1.4-1.2M393.3 356.7l0.9-8.4M393.7 424.2l-0.3-7.4M394.8 415.8l-1.4 1M395.3 394.1l-1.8-8.4M393.5 385.7l0.3-0.3M395.0 455.3l-1.4 0.4M394.9 436.0l-1.2-2.1M393.7 433.9l3.3-7.4M393.7 424.2l3.3 2.3M393.8 372.2l0.8 5.7M395.8 370.5l-2 1.7M393.8 385.4l8.1 1.2M395.4 379.0l-1.6 6.4M395.2 148.4l-1.1-6.1M394.1 142.3l8.7-0.1M395.8 283.8l-1.6-2.2M394.2 281.6l0.4-1.9M400.5 349.6l-6.3-1.3M395.8 364.7l-1.3-1.6M394.5 363.1l0.2-5.2M394.6 377.9l0.8 1.1M395.7 278.6l-1.1 1.1M394.7 218.6l4 0.2M401.4 355.9l-6.7 2M401.3 419.0l-6.5-3.2M396.2 410.6l-1.4 5.2M394.8 409.3l1.4 1.3M400.6 442.6l-5.7-5.1M394.9 437.5l0-1.5M394.9 400.9l6.3 1.6M394.9 400.9l0.4-6.8M394.9 436.0l9.4-2.3M403.0 458.1l-8-2.8M398.5 447.6l-3.5 7.7M395.2 148.4l5.8 1M395.3 394.1l0 0M400.9 393.5l-5.6 0.6M395.4 379.0l5.6 0M395.5 288.7l1 0.9M395.8 283.8l-0.3 4.9M395.7 278.6l-0.2-5.8M396.7 271.7l-1.2 1.1M395.6 234.9l1.6 1.6M395.6 234.9l3.1-4.2M395.6 470.2l2.6 6.5M397.8 467.8l-2.2 2.4M401.6 278.1l-5.9 0.5M395.8 283.8l6 1.1M395.8 370.5l0-5.8M403.1 362.9l-7.3 1.8M395.8 370.5l6 0.9M395.9 295.9l1.8 1M396.5 289.6l-0.6 6.3M396.7 271.7l-0.7-5.5M397.0 265.3l-1 0.9M396.2 410.6l4.2-1.5M397.0 265.3l-0.7-4.8M396.7 260.0l-0.4 0.5M396.5 243.0l0.1 5M396.5 243.0l1-0.8M396.5 289.6l5.1-0.1M396.6 248.0l0.2 0.1M396.7 271.7l5.4 0.5M397.2 254.4l-0.5 5.6M402.5 259.8l-5.8 0.2M396.8 248.1l0.7 6M403.0 248.0l-6.2 0.1M397.0 265.3l4.5 0.4M397.0 426.5l4-0.7M397.1 186.8l2.2 2M400.8 180.4l-3.7 6.4M397.2 254.4l0.3-0.3M397.2 236.5l6 0M397.2 236.5l0.3 5.7M397.5 242.2l5 0.3M397.8 467.8l-0.3-2.2M397.5 465.6l5.5-7.5M402.6 254.3l-5.1-0.2M398.5 303.2l-0.8-6.3M397.7 296.9l3.4-1.7M403.7 469.3l-5.9-1.5M398.1 317.8l-0.2-0.2M397.9 317.6l0.3-5.9M398.0 303.7l0.5 7.6M398.0 303.7l0.5-0.5M398.1 317.8l7 0.5M398.1 317.8l0.5 7.3M398.1 173.2l0.3 4.9M400.6 171.1l-2.5 2.1M401.8 478.0l-3.6-1.3M398.5 311.3l-0.3 0.4M398.2 204.1l0.1 0M398.2 204.1l0.9-8.7M398.3 204.1l0.4 6.3M398.3 204.1l8-0.5M400.8 180.4l-2.4-2.3M398.5 303.2l6.5 0.1M406.3 310.8l-7.8 0.5M398.5 489.1l1.1-3.6M398.5 226.9l0.6 0.9M398.5 226.9l2.5-6M400.9 446.6l-2.4 1M398.6 339.9l3.8 2M398.6 339.9l0.2-7.2M398.6 325.1l0.4 0.3M403.5 234.3l-4.8-3.6M398.7 230.7l0.4-2.9M398.8 332.7l-0.1-0.1M399.0 325.4l-0.3 7.2M398.7 210.4l1.4 1.3M398.7 218.8l2.3 2.1M400.1 211.7l-1.4 7.1M398.8 164.4l1.8 6.7M399.7 163.2l-0.9 1.2M398.8 332.7l4.9 0.1M405.2 324.7l-6.2 0.7M399.1 195.4l0 0M399.1 195.4l0.2-6.6M405.7 229.3l-6.6-1.5M405.3 196.2l-6.2-0.8M399.3 188.8l7.3-1.5M399.9 485.3l-0.3 0.2M399.7 163.2l7.6 1.3M400.1 157.5l-0.4 5.7M400.1 157.5l-0.2-0.2M401.0 149.4l-1.1 7.9M403.0 486.1l-3.1-0.8M399.9 485.3l1.9-7.3M406.1 157.0l-6 0.5M400.1 211.7l7.1-0.3M400.4 409.1l2.4 1.2M401.2 402.5l-0.8 6.6M400.5 349.6l0.9 6.3M400.5 349.6l1.3-1.3M406.3 172.0l-5.7-0.9M400.9 446.6l-0.3-4M400.6 442.6l5.2-5.4M405.9 180.6l-5.1-0.2M400.9 393.5l1.4 1.2M402.2 387.0l-1.3 6.5M405.0 448.8l-4.1-2.2M401.0 220.9l5.5-0.2M404.7 432.2l-3.7-6.4M401.8 424.4l-0.8 1.4M402.4 380.3l-1.4-1.3M401.0 379.0l1.5-6.9M401.0 149.4l0.8-0.5M406.0 297.1l-4.9-1.9M401.6 289.5l-0.5 5.7M401.2 402.5l0.9-0.7M401.3 419.0l0.5 5.4M403.6 416.7l-2.3 2.3M402.0 356.4l-0.6-0.5M401.5 265.7l0.4 0.4M402.6 259.9l-1.1 5.8M401.6 278.1l0.4 6.6M401.6 278.1l0-0.1M401.6 278.0l5.6 0.7M401.6 278.0l0.5-5.8M401.6 289.5l0.5-0.5M402.1 289.0l-0.3-4.1M401.8 284.9l0.2-0.2M401.8 148.9l4.6 1.5M401.8 148.9l1-6.7M401.8 371.4l0.7 0.7M403.9 363.7l-2.1 7.7M401.8 348.3l6.5 0.5M402.4 341.9l-0.6 6.4M404.2 477.0l-2.4 1M410.1 422.9l-8.3 1.5M401.9 266.1l0.6 5.7M401.9 266.1l5.4-0.7M402.2 387.0l-0.3-0.4M401.9 386.6l0.5-6.3M407.5 283.4l-5.5 1.3M402.0 356.4l1.1 6.5M402.0 356.4l8.2-1.4M402.1 401.8l5.8 0.7M402.1 401.8l0.2-7.1M407.7 290.1l-5.6-1.1M402.1 272.2l0.4-0.4M402.2 387.0l7.5 0.2M403.2 141.7l-1-3.9M402.3 394.7l7.3-0.1M402.4 380.3l6.6-0.9M402.4 341.9l2.9-1.4M402.5 271.8l5 0.1M402.5 242.5l0.5 5.5M402.5 242.5l0.3-0.3M402.5 259.8l0.1 0.1M402.6 254.3l-0.1 5.5M408.5 372.8l-6-0.7M402.9 254.1l-0.3 0.2M402.6 259.9l5.6 1.1M403.6 416.7l-0.8-6.4M404.5 409.9l-1.7 0.4M402.8 142.2l0.4-0.5M408.7 242.4l-5.9-0.2M403.2 236.5l-0.4 5.7M402.9 254.1l5.8 1.4M402.9 254.1l1-5.2M403.8 457.9l-0.8 0.2M403.0 248.0l0.9 0.9M403.9 363.7l-0.8-0.8M403.2 236.5l0.4-0.4M406.3 141.8l-3.1-0.1M403.6 236.1l-0.1-1.8M403.5 234.3l2.2-5M410.3 417.1l-6.7-0.4M403.6 236.1l5.5 0.8M403.7 332.8l1.6 7.7M405.1 332.0l-1.4 0.8M404.2 477.0l-0.5-7.7M406.0 467.9l-2.3 1.4M407.3 460.0l-3.5-2.1M403.8 457.9l1.2-9.1M408.5 248.1l-4.6 0.8M403.9 363.7l4.5 0.5M408.4 478.5l-4.2-1.5M404.3 433.7l1.5 3.5M404.7 432.2l-0.4 1.5M411.3 414.4l-6.8-4.5M409.1 405.7l-4.6 4.2M411.0 429.6l-6.3 2.6M405.0 448.8l0.6-0.2M406.9 310.3l-1.9-7M405.0 303.3l1.4-1.8M405.1 318.3l2.1 2.8M406.3 310.8l-1.2 7.5M409.1 332.6l-4-0.6M405.2 324.7l-0.1 7.3M407.1 323.0l-1.9 1.7M405.3 340.5l1.6 0.1M407.5 198.2l-2.2-2M405.3 196.2l1.3-8.9M405.6 448.6l8.9 3.5M405.6 448.6l4.5-6.1M406.5 228.9l-0.8 0.4M409.9 439.6l-4.1-2.4M405.9 180.6l1.6 1.8M405.9 180.6l0.6-8.4M406.0 297.1l0.4 4.4M407.5 295.4l-1.5 1.7M406.0 467.9l4.8 2M406.0 467.9l1.3-7.9M406.1 157.0l1.8 7M406.1 157.0l1-0.9M409.5 143.8l-3.2-2M409.6 135.6l-3.3 6.2M406.9 310.3l-0.6 0.5M406.8 204.5l-0.5-0.9M406.3 203.6l1.2-5.4M406.5 172.2l-0.2-0.2M407.3 164.5l-1 7.5M407.1 156.1l-0.7-5.7M409.6 148.3l-3.2 2.1M412.6 301.9l-6.2-0.4M406.5 220.7l0 0M407.3 211.4l-0.8 9.3M408.1 225.3l-1.6-4.6M415.3 218.8l-8.8 1.9M412.3 172.2l-5.8 0M406.5 228.9l3.2 3.3M408.1 225.3l-1.6 3.6M407.3 186.6l-0.7 0.7M415.0 204.8l-8.2-0.3M406.8 204.5l0.4 6.9M406.9 310.3l1.8 0.2M409.5 344.2l-2.6-3.6M410.8 337.0l-3.9 3.6M407.1 156.1l6.8 0.1M409.0 324.4l-1.9-1.4M407.1 323.0l0.1-1.9M409.6 135.6l-2.4-2.6M407.6 283.2l-0.4-4.5M408.1 277.9l-0.9 0.8M407.2 211.4l0.1 0M407.2 321.1l4.4-2.6M407.3 211.4l7.5 0.5M407.3 460.0l3.6-0.5M407.9 164.0l-0.6 0.5M407.3 186.6l6.2 3.8M407.5 182.4l-0.2 4.2M407.3 265.4l1.4 1.7M407.3 265.4l0.9-4.4M407.5 295.4l6.2 0.5M407.5 295.4l0.2-5.3M408.3 272.7l-0.8-0.8M408.7 267.1l-1.2 4.8M412.8 196.5l-5.3 1.7M407.5 283.4l0.7 6.3M407.6 283.2l-0.1 0.2M407.5 182.4l7.2-2.3M407.6 283.2l5.7 0.4M407.7 290.1l0.5-0.4M407.9 164.0l4.8-0.6M409.1 405.7l-1.2-3.2M407.9 402.5l3.1-5M408.1 225.3l6.8 1.6M413.8 278.7l-5.7-0.8M408.1 277.9l0.2-5.2M408.2 261.0l0.6-0.5M412.4 289.3l-4.2 0.4M411.5 352.9l-3.2-4.1M409.5 344.2l-1.2 4.6M408.3 272.7l5.4 0M408.4 478.5l1 3M412.3 474.5l-3.9 4M408.4 364.2l0.9 7.7M408.4 364.2l0.9-0.6M408.5 372.8l0.8 5.8M408.5 372.8l0.8-0.9M408.5 248.1l0.6 0.4M408.7 242.4l-0.2 5.7M408.7 255.5l0.1 5M408.7 255.5l0.8-0.7M408.7 267.1l5.6-0.2M408.7 310.5l3.4 3.7M408.7 310.5l4.4-3M408.7 242.4l0.1 0M414.0 261.3l-5.2-0.8M408.8 242.4l6.2 0.6M408.8 242.4l0.4-5.5M409.0 379.4l1.5 4M409.0 379.4l0.3-0.8M409.0 324.4l6.1 1.3M409.0 324.4l1.3 6.9M410.8 337.0l-1.7-4.4M410.3 331.3l-1.2 1.3M409.1 248.5l0.4 6.3M409.1 248.5l5.5-0.1M409.2 236.9l-0.1 0M409.7 232.2l-0.6 4.7M411.9 407.2l-2.8-1.5M415.2 237.1l-6-0.2M409.3 371.9l5.3-0.8M409.3 378.6l7.9-1.8M414.4 364.1l-5.1-0.5M410.2 355.0l-0.9 8.6M414.0 254.6l-4.5 0.2M415.7 343.8l-6.2 0.4M409.5 143.8l0.1 4.5M413.7 142.1l-4.2 1.7M410.4 135.7l-0.8-0.1M414.7 151.4l-5.1-3.1M409.6 394.6l1.4 1.6M409.6 394.6l0.3-7M409.7 387.2l0.2 0.4M410.5 383.4l-0.8 3.8M415.6 230.5l-5.9 1.7M409.9 387.6l9.3 1.4M409.9 439.6l0.2 2.9M409.9 439.6l4-2.6M411.0 429.6l-0.9-6.7M410.1 422.9l1.5-2M416.3 446.2l-6.2-3.7M410.2 355.0l1-0.8M410.3 331.3l4.2-1.2M411.6 420.9l-1.3-3.8M410.3 417.1l1-2.7M410.5 383.4l6.2-0.9M414.7 337.8l-3.9-0.8M412.3 474.5l-1.5-4.6M410.8 469.9l3.3-3.3M410.9 459.5l1.4 1.1M410.9 459.5l3.6-7.4M415.7 402.1l-4.7-4.6M411.0 397.5l0-1.3M411.0 429.6l4 2M418.6 394.1l-7.6 2.1M411.2 354.2l6.8 6M411.5 352.9l-0.3 1.3M411.4 414.2l-0.1 0.2M411.4 414.2l0.5-7M417.3 413.4l-5.9 0.8M411.5 352.9l3.5-2.3M411.6 318.5l4.8 1.6M412.1 314.2l-0.5 4.3M411.6 420.9l5.3 0.9M411.9 407.2l2.1-0.6M416.1 313.6l-4 0.6M412.3 172.2l2.3 2.3M412.3 172.2l2.6-6.4M414.1 466.6l-1.8-6M412.3 460.6l9 0M412.3 474.5l4.9 0.4M412.4 289.3l0.9 0.8M413.7 284.3l-1.3 5M413.1 307.5l-0.5-5.6M413.0 301.5l-0.4 0.4M414.9 165.8l-2.2-2.4M414.3 156.9l-1.6 6.5M415.5 198.3l-2.7-1.8M413.5 190.4l-0.7 6.1M419.2 302.5l-6.2-1M413.0 301.5l1-5.3M413.1 307.5l3.8 1.1M419.2 290.1l-5.9 0M413.7 295.9l-0.4-5.8M413.7 284.3l-0.4-0.7M413.8 278.7l-0.5 4.9M415.6 189.2l-2.1 1.2M414.0 296.2l-0.3-0.3M419.3 284.8l-5.6-0.5M414.4 278.2l-0.7-5.5M413.7 272.7l0.5-0.6M413.8 278.7l0.6-0.5M413.9 156.2l0.4 0.7M414.7 151.4l-0.8 4.8M413.9 437.0l5 3M413.9 437.0l1.1-5.4M418.5 295.8l-4.5 0.4M415.0 260.4l-1-5.8M414.2 254.4l-0.2 0.2M414.4 266.8l-0.4-5.5M415.0 260.4l-1 0.9M414.0 406.6l5 2.4M414.0 406.6l1.7-4.5M414.1 466.6l6.2 1.5M414.2 254.4l6 0.1M414.6 248.4l-0.4 6M420.2 272.8l-6-0.7M414.3 266.9l-0.1 5.2M414.4 266.8l-0.1 0.1M414.3 156.9l6.7 1.7M414.4 278.2l4.9 0.1M414.4 266.8l5.2 0M414.4 364.1l1.7 5M418.0 360.2l-3.6 3.9M414.5 452.1l0.1-0.1M416.8 332.7l-2.3-2.6M415.1 325.7l-0.6 4.4M414.6 371.1l2.6 5.7M416.1 369.1l-1.5 2M414.6 452.0l7.4 3M416.3 446.2l-1.7 5.8M414.6 248.4l0.1 0M414.6 174.5l0.1 5.6M423.2 171.7l-8.6 2.8M420.1 249.3l-5.4-0.9M415.0 243.0l-0.3 5.4M414.7 180.1l3.5 2.4M415.7 343.8l-1-6M415.2 337.4l-0.5 0.4M418.0 148.9l-3.3 2.5M414.8 211.9l0.5 6.9M417.8 209.2l-3 2.7M414.9 165.8l7 0.4M414.9 226.9l1.5 2.2M416.1 219.6l-1.2 7.3M415.0 431.6l0.6-0.3M415.0 243.0l0.4-0.6M415.0 350.6l5.2 1.4M416.0 344.0l-1 6.6M415.0 204.8l2.8 4.4M415.0 204.8l0.5-6.5M419.5 260.1l-4.5 0.3M415.3 325.5l-0.2 0.2M415.2 237.1l0.2 5.3M415.5 236.8l-0.3 0.3M422.1 338.2l-6.9-0.8M415.2 337.4l1.6-4.7M416.1 219.6l-0.8-0.8M415.3 325.5l5.7 1.1M415.3 325.5l1.1-5.4M415.4 242.4l5.7 0.5M415.5 198.3l4.8-0.5M420.8 237.0l-5.3-0.2M415.5 236.8l0.1-6.3M422.1 432.8l-6.5-1.5M415.6 431.3l2.9-7.6M421.7 191.9l-6.1-2.7M415.6 189.2l2.6-6.7M416.4 229.1l-0.8 1.4M416.0 344.0l-0.3-0.2M420.9 401.0l-5.2 1.1M416.0 344.0l4.2-0.1M416.0 143.3l2 5.6M416.1 219.6l7.4 0.6M416.1 313.6l1.5 5.8M416.1 313.6l1.2-1.3M421.4 369.0l-5.3 0.1M419.8 444.2l-3.5 2M417.6 319.4l-1.2 0.7M416.4 229.1l2.7-0.1M419.5 387.2l-2.8-4.7M416.7 382.5l1.9-4.8M416.8 332.7l3.6-0.8M416.9 421.8l1.6 1.9M416.9 421.8l2.6-5.4M417.3 312.3l-0.4-3.7M420.6 305.6l-3.7 3M417.2 474.9l0.2 0.3M420.7 468.8l-3.5 6.1M417.2 376.8l1.4 0.9M422.8 314.0l-5.5-1.7M417.3 413.4l2.2 3M417.3 413.4l1.7-4.4M421.2 319.3l-3.6 0.1M417.8 209.2l2.2 0M418.0 148.9l5 0.4M418.0 360.2l1-0.1M423.0 182.0l-4.8 0.5M419.1 296.5l-0.6-0.7M418.5 295.8l1.3-4.9M423.2 424.5l-4.7-0.8M418.6 394.1l2.5 3.4M418.6 394.1l1-4.3M419.2 377.6l-0.6 0.1M419.8 444.2l-0.9-4.2M418.9 440.0l3.6-4.1M419.0 409.0l3.2-1.4M419.0 360.1l1.8 1.2M419.0 360.1l2-4.9M421.8 231.1l-2.7-2.1M419.1 229.0l3.7-5.5M419.1 296.5l5.8 0.5M419.1 296.5l0.1 6M419.2 290.1l0.6 0.8M419.2 290.1l0.1-5.3M419.2 302.5l1.4 1.5M424.6 382.3l-5.4-4.7M422.0 374.7l-2.8 2.9M419.6 389.8l-0.4-0.8M419.2 389.0l0.3-1.8M419.3 284.8l0.4-0.5M419.7 284.3l-0.4-6M419.3 278.3l0.5-0.4M419.9 260.5l-0.4-0.4M419.5 260.1l0.9-5.2M424.6 382.3l-5.1 4.9M419.5 416.4l4.9-0.3M426.7 390.2l-7.1-0.4M419.6 266.8l0.6 6M419.9 266.6l-0.3 0.2M419.7 284.3l5.1 0.1M422.5 445.1l-2.7-0.9M425.3 279.1l-5.5-1.2M419.8 277.9l0.7-4.8M424.6 291.0l-4.8-0.1M425.4 266.6l-5.5 0M419.9 260.5l0 6.1M425.4 261.1l-5.5-0.6M421.2 210.5l-1.2-1.3M423.9 204.2l-3.9 5M420.1 249.3l0.1 5.2M420.5 248.9l-0.4 0.4M420.4 254.9l-0.2-0.4M420.2 343.9l1.4 6.7M420.2 343.9l1-0.6M420.2 272.8l0.3 0.3M421.0 355.2l-0.8-3.2M420.2 352.0l1.4-1.4M420.3 468.1l0.4 0.7M421.3 460.6l-1 7.5M420.3 197.8l3.6 6.4M421.4 196.3l-1.1 1.5M426.4 255.1l-6-0.2M420.4 331.9l4.1 4M420.4 331.9l1.3-4.2M425.0 272.3l-4.5 0.8M420.5 248.9l5.6 0.5M420.5 248.9l0.8-5.8M420.6 304.0l0 1.6M420.6 304.0l4-2.9M420.6 305.6l1.4 1.1M420.7 468.8l4.6 1.3M420.8 237.0l0.3 5.9M420.8 237.0l0.2-0.2M420.8 361.3l1.1 7.3M420.8 361.3l4.1-0.2M423.1 404.3l-2.2-3.3M421.1 397.5l-0.2 3.5M421.0 158.6l1 7.4M421.0 158.6l2.5-2.5M421.0 326.6l0.7 1.1M421.0 326.6l1.7-5.6M427.4 355.9l-6.4-0.7M421.0 236.8l5.3 0.7M421.0 236.8l0.8-5.7M421.3 243.1l-0.2-0.2M425.5 396.2l-4.4 1.3M421.2 319.3l1.5 1.7M421.2 319.3l1.6-5.3M421.2 343.3l5.9 1.7M422.1 338.2l-0.9 5.1M430.3 212.3l-9.1-1.8M421.2 210.5l2.5 9.5M421.9 459.9l-0.6 0.7M425.8 242.7l-4.5 0.4M421.4 369.0l0.6 5.7M421.4 369.0l0.5-0.4M430.3 196.4l-8.9-0.1M421.4 196.3l0.3-4.4M426.5 349.6l-4.9 1M421.7 327.7l5.2 0.4M425.1 188.7l-3.4 3.2M421.8 231.1l4.6 0.2M428.9 462.1l-7-2.2M422.0 455.0l-0.1 4.9M421.9 368.6l5.7-0.5M423.5 171.2l-1.6-5M421.9 166.2l0.1-0.2M423.4 453.6l-1.4 1.4M422.0 306.7l7.3 0.4M422.0 306.7l1.6 6.7M431.1 161.4l-9.1 4.6M422.0 374.7l5 0.5M422.5 435.9l-0.4-3.1M423.3 431.7l-1.2 1.1M422.1 338.2l2.4-2.3M422.2 407.6l2.8 3.3M422.2 407.6l0.9-3.3M422.5 445.1l2 2.9M422.5 445.1l5.4-5.7M427.9 439.4l-5.4-3.5M427.7 321.5l-5-0.5M422.8 314.0l0.8-0.6M422.8 223.5l4.1 5.2M423.5 220.2l-0.7 3.3M423.7 182.5l-0.7-0.5M423.0 182.0l0.2-10.3M423.0 149.3l0.5 6.8M424.0 148.6l-1 0.7M427.7 403.2l-4.6 1.1M423.5 171.2l-0.3 0.5M423.3 431.7l-0.1-7.2M424.2 423.9l-1 0.6M423.3 431.7l7.3-0.1M423.4 453.6l6.6 1.2M424.5 448.0l-1.1 5.6M423.5 171.2l6.3 0.7M423.5 156.1l7.8 2.4M423.7 220.0l-0.2 0.2M423.6 144.7l0.4 3.9M423.6 313.4l3.6 0M426.4 219.8l-2.7 0.2M423.7 182.5l1.4 6.2M431.0 180.7l-7.3 1.8M428.5 203.6l-4.6 0.6M424.0 148.6l5-0.3M424.2 423.9l7.3 2.5M424.2 423.9l1.7-6.2M424.4 416.1l1.5 1.6M425.0 410.9l-0.6 5.2M424.5 335.9l0.7 0M424.5 448.0l6.9-0.6M424.6 301.1l4 2M424.9 297.0l-0.3 4.1M424.6 291.0l0.8 5.6M424.9 290.7l-0.3 0.3M425.1 382.3l-0.5 0M424.9 290.7l-0.1-6.3M424.9 284.3l-0.1 0.1M424.9 361.1l3.1 5.5M424.9 361.1l2.9-2.7M431.0 284.8l-6.1-0.5M424.9 284.3l0.4-5.2M425.4 296.6l-0.5 0.4M424.9 290.7l5.2-0.4M425.0 410.9l5.8-0.7M425.9 278.7l-0.9-6.4M425.2 272.2l-0.2 0.1M429.1 385.7l-4-3.4M425.1 382.3l3-5.4M429.5 190.9l-4.4-2.2M431.2 273.6l-6-1.4M425.2 272.2l0.6-5.1M425.2 335.9l2.4 2.9M425.2 335.9l2.4-2.8M425.3 470.1l0.2 1.2M429.3 467.7l-4 2.4M425.3 279.1l0.6-0.4M425.8 267.1l-0.4-0.5M425.4 261.1l0 5.5M426.2 260.3l-0.8 0.8M429.3 296.7l-3.9-0.1M429.7 398.2l-4.2-2M425.5 396.2l1.2-6M426.9 243.8l-1.1-1.1M425.8 242.7l0.5-5.2M431.3 266.9l-5.5 0.2M430.5 278.3l-4.6 0.4M432.5 417.5l-6.6 0.2M426.1 249.4l0.3 5.7M426.1 249.4l0.2-0.2M426.2 260.3l6.1 1.4M426.2 260.3l0.2-5.2M432.7 249.5l-6.4-0.3M426.9 243.8l-0.6 5.4M426.9 236.9l-0.6 0.6M426.4 219.8l3.9 5.3M430.0 216.9l-3.6 2.9M426.9 236.9l-0.5-5.6M426.4 231.3l0 0M432.4 231.7l-6-0.4M426.9 228.7l-0.5 2.6M426.4 255.1l0 0M431.5 254.8l-5.1 0.3M426.5 349.6l0.9 6.3M427.3 348.6l-0.8 1M429.3 388.8l-2.6 1.4M430.3 225.1l-3.4 3.6M432.4 237.5l-5.5-0.6M427.6 333.1l-0.7-5M428.6 326.1l-1.7 2M431.9 243.4l-5 0.4M427.0 375.2l1.1 1.7M428.6 369.7l-1.6 5.5M427.1 345.0l0.2 3.6M427.1 345.0l1.1-1.3M428.3 320.9l-1.1-7.5M427.2 313.4l0.9-0.7M433.0 350.4l-5.7-1.8M427.4 355.9l0.7 0.8M427.6 368.1l1 1.6M427.6 368.1l0.4-1.5M427.6 338.8l0.6 4.9M433.1 337.8l-5.5 1M427.6 333.1l6.1 0M427.7 403.2l4.3 3.3M427.7 403.2l2-5M427.7 321.5l0.9 4.6M427.7 321.5l0.6-0.6M427.8 358.4l4.2 4.8M428.1 356.7l-0.3 1.7M429.0 439.2l-1.1 0.2M428.0 366.6l4-3.4M428.1 312.7l5.7 2.5M428.1 312.7l1.6-5.2M428.1 356.7l4.2-1.2M432.6 377.7l-4.5-0.8M428.2 343.7l5.7-0.4M428.3 320.9l5.1-1.4M428.5 203.6l1.8 8.7M429.8 202.6l-1.3 1M428.6 326.1l4.6 1.2M428.6 303.1l0.7 4M428.6 303.1l2.2-2.8M434.1 371.0l-5.5-1.3M428.9 462.1l1.2 2.9M431.4 457.6l-2.5 4.5M429.0 148.3l3.2 3.1M429.0 148.3l1.8-3.8M429.8 439.8l-0.8-0.6M429.0 439.2l1.7-7.4M429.3 388.8l-0.2-3.1M429.1 385.7l4.4-3.8M429.3 388.8l2.7 2.1M429.3 296.7l1.5 3.6M431.5 294.3l-2.2 2.4M431.8 470.1l-2.5-2.4M430.1 465.0l-0.8 2.7M429.3 307.1l0.4 0.4M430.3 196.4l-0.8-5.5M433.9 187.8l-4.4 3.1M434.9 307.2l-5.2 0.3M429.7 398.2l2.8-1.4M431.2 180.4l-1.4-8.5M429.8 171.9l0.5-0.4M429.8 202.6l7.7 2.6M430.5 196.7l-0.7 5.9M429.8 439.8l1.9 7M436.9 439.1l-7.1 0.7M430.0 216.9l5.6 2.5M430.4 212.5l-0.4 4.4M431.4 457.6l-1.4-2.8M430.0 454.8l2.4-4.4M430.1 290.3l1.1 1.2M431.0 284.8l-0.9 5.5M430.1 465.0l7.6-1M430.3 196.4l0.2 0.3M432.9 225.8l-2.6-0.7M430.3 212.3l0.1 0.2M430.3 171.5l7.8 1.3M432.4 165.2l-2.1 6.3M430.4 212.5l6-2M431.2 279.2l-0.7-0.9M431.2 273.6l-0.7 4.7M430.5 196.7l6.2-0.6M430.6 431.6l0.1 0.2M431.6 426.7l-1 4.9M430.7 431.8l5.6 2.3M430.8 410.2l1.7 7.3M432.3 408.0l-1.5 2.2M430.8 300.3l4.5 0.4M431.0 284.8l0.4-0.4M431.0 180.7l2.9 7.1M431.0 180.7l0.2-0.3M431.1 161.4l1.3 3.8M431.1 161.4l0.7-2.2M431.2 291.5l0.3 2.8M431.2 291.5l5.6-1.6M431.2 279.2l0.2 5.2M431.2 279.2l6.3-0.6M431.5 273.3l-0.3 0.3M438.2 178.6l-7 1.8M431.8 159.2l-0.5-0.7M431.3 158.5l0.9-7.1M431.3 266.9l0.2 6.4M431.3 266.9l0.5-0.4M437.2 457.9l-5.8-0.3M432.4 450.4l-1-3M431.7 446.8l-0.3 0.6M431.4 284.4l5 0.8M431.5 426.4l0.1 0.3M431.5 426.4l1.9-8.4M431.5 294.3l5.2 2.4M437.2 273.3l-5.7 0M431.5 254.8l1.6 1.5M432.7 249.5l-1.2 5.3M431.6 426.7l7.1 0.3M437.6 444.6l-5.9 2.2M431.8 159.2l6-0.1M431.8 266.5l5.6 1.5M431.8 266.5l0.5-4.8M432.6 244.1l-0.7-0.7M432.4 237.5l-0.5 5.9M434.9 363.0l-2.9 0.2M432.0 406.5l0.3 1.5M432.0 406.5l4.9-6.2M432.5 396.8l-0.5-5.9M432.0 390.9l5.2-1.7M432.2 151.4l6.3-1.7M435.0 362.9l-2.7-7.4M432.6 355.2l-0.3 0.3M432.3 408.0l6.4 2M432.3 261.7l0.3-0.2M432.4 237.5l0-5.8M432.4 231.7l0.4-0.5M432.4 237.5l0 0M432.4 165.2l6 1.8M437.0 452.2l-4.6-1.8M438.3 237.4l-5.9 0.1M433.4 418.0l-0.9-0.5M432.5 396.8l4.1 2.3M432.6 261.5l5.7 0.3M433.1 256.3l-0.5 5.2M433.5 381.9l-0.9-4.2M434.3 375.7l-1.7 2M439.3 356.4l-6.7-1.2M433.2 351.0l-0.6 4.2M432.6 244.1l0.3 5.3M432.6 244.1l5.8-0.7M432.9 249.4l-0.2 0.1M437.6 231.7l-4.8-0.5M432.8 231.2l0.1-5.4M435.7 224.3l-2.8 1.5M432.9 249.4l4.4 0.8M433.0 350.4l0.2 0.6M433.0 350.4l2.9-5.2M438.1 255.3l-5 1M433.1 337.8l1.1 1.7M433.1 337.8l0.6-4.6M433.7 333.1l-0.5-5.8M434.4 326.3l-1.2 1M439.5 352.2l-6.3-1.2M433.4 418.0l4.6-0.6M435.4 321.2l-2-1.7M433.4 319.5l0.4-4.3M438.0 383.7l-4.5-1.8M433.7 333.2l0-0.1M433.7 333.2l5.6 0.1M433.8 315.2l1.3-1M437.0 188.3l-3.1-0.5M433.9 343.3l2 1.9M434.2 339.5l-0.3 3.8M434.3 375.7l-0.2-4.7M435.7 369.5l-1.6 1.5M434.2 339.5l5.4-1.4M439.8 376.7l-5.5-1M440.7 328.1l-6.3-1.8M434.4 326.3l1-5.1M435.0 307.4l-0.1-0.2M434.9 307.2l1.2-4.4M435.7 369.5l-0.8-6.5M434.9 363.0l0.1-0.1M441.1 309.0l-6.1-1.6M435.0 307.4l0.1 6.8M439.7 361.1l-4.7 1.8M439.8 314.6l-4.7-0.4M435.3 300.7l0.8 2.1M436.7 296.8l-1.4 3.9M435.4 321.2l4.6-0.4M435.6 219.4l0.1 4.9M437.1 218.3l-1.5 1.1M439.2 226.0l-3.5-1.7M435.7 369.5l5.1 0.6M435.9 345.2l2.9 0.1M443.3 302.7l-7.2 0.1M436.9 439.1l-0.6-5M436.3 434.1l4.2-3.1M438.1 212.5l-1.7-2M437.5 205.2l-1.1 5.3M436.8 289.9l-0.4-4.7M436.4 285.2l0.6-0.5M436.9 400.3l-0.3-1.2M436.6 399.1l3.3-3.2M436.7 196.1l2.4 1.7M437.3 188.7l-0.6 7.4M436.7 296.7l0 0.1M438.1 291.2l-1.4 5.5M441.5 297.5l-4.8-0.7M438.1 291.2l-1.3-1.3M436.9 439.1l0.1 0.2M436.9 400.3l2.9 2.6M437.2 457.9l-0.2-5.7M437.0 452.2l3.9-2.8M437.0 188.3l0.3 0.4M441.1 181.2l-4.1 7.1M437.0 439.3l0.6 5.3M437.0 439.3l7.3-1.4M437.0 284.7l6 0.2M437.5 278.6l-0.5 6.1M444.6 219.4l-7.5-1.1M438.1 212.5l-1 5.8M437.2 273.3l0 0M437.2 273.3l0.2-5.3M437.2 273.3l0.4 5.2M437.2 273.3l6.3-0.4M437.2 457.9l2.2 2M437.2 389.2l1.9 1.4M438.0 383.7l-0.8 5.5M437.3 250.2l0.8 5.1M438.8 248.9l-1.5 1.3M437.3 188.7l7.3 2.6M437.4 268.0l0.6-0.6M437.6 278.5l-0.1 0.1M438.2 204.8l-0.7 0.4M439.2 468.2l-1.7 2.2M438.5 233.0l-0.9-1.3M437.6 231.7l1.6-5.7M437.6 444.6l2.6 1.7M437.6 278.5l5.1 0.7M437.7 464.0l1.5 4.2M439.4 459.9l-1.7 4.1M440.0 165.3l-2.2-6.2M437.8 159.1l1.7-1.3M438.0 417.4l2.7 6M438.0 417.4l0-0.1M438.0 417.3l0.7-7.3M445.2 416.1l-7.2 1.2M438.0 383.7l1.4-0.8M438.0 267.4l5.2 0.2M438.0 267.4l0.3-5.6M443.8 213.3l-5.7-0.8M438.2 178.6l-0.1-5.8M438.2 172.6l-0.1 0.2M438.1 291.2l4.4-0.4M438.1 255.3l0.1 0M444.5 205.8l-6.3-1M439.1 197.8l-0.9 7M438.2 255.3l0.2 6.4M443.0 255.2l-4.8 0.1M441.1 181.2l-2.9-2.6M438.4 167.0l-0.2 5.6M443.7 172.0l-5.5 0.6M438.3 261.8l0.1-0.1M438.7 237.8l-0.4-0.4M438.5 233.0l-0.2 4.4M438.4 243.4l0.4 5.5M438.7 243.1l-0.3 0.3M440.0 165.3l-1.6 1.7M443.6 261.6l-5.2 0.1M440.1 151.4l-1.6-1.7M438.6 148.0l-0.1 1.7M443.4 231.8l-4.9 1.2M438.7 237.8l0 5.3M444.7 237.5l-6 0.3M438.7 243.1l5.3 0.7M438.7 410.0l0.3-0.3M440.5 431.0l-1.8-4M438.7 427.0l2-3.6M440.0 351.5l-1.2-6.2M440.0 344.5l-1.2 0.8M438.8 248.9l5.1 0.7M439.8 402.9l-0.8 6.8M445.4 409.6l-6.4 0.1M443.8 196.2l-4.7 1.6M439.1 390.6l0.8 5.3M439.1 390.6l6.3-1.5M443.4 225.4l-4.2 0.6M439.2 468.2l4.4 1M440.1 357.9l-0.8-1.5M439.5 352.2l-0.2 4.2M439.6 338.1l-0.3-4.8M439.3 333.3l1.6-1.4M444.8 384.3l-5.4-1.4M439.4 382.9l0.8-5.7M439.4 459.9l3.8-0.8M447.4 159.6l-7.9-1.8M439.5 157.8l0.6-6.4M440.0 351.5l-0.5 0.7M440.9 340.0l-1.3-1.9M441.2 362.5l-1.5-1.4M440.1 357.9l-0.4 3.2M439.8 376.7l0.4 0.5M439.8 376.7l1-6.6M443.8 402.8l-4 0.1M440.1 320.7l-0.3-6.1M441.3 313.3l-1.5 1.3M439.9 395.9l6.9 0.3M440.9 327.7l-0.9-6.9M440.1 320.7l-0.1 0.1M445.1 346.0l-5.1-1.5M440.0 344.5l0.9-4.5M440.0 165.3l5.5 0M446.2 351.0l-6.2 0.5M445.2 320.4l-5.1 0.3M445.9 355.7l-5.8 2.2M446.7 151.3l-6.6 0.1M440.9 449.4l-0.7-3.1M440.2 446.3l6.1-4.9M445.5 377.0l-5.3 0.2M441.4 431.4l-0.9-0.4M440.7 423.4l5.3 0.4M440.7 328.1l0.2 3.8M440.7 328.1l0.2-0.4M441.9 369.5l-1.1 0.6M440.9 331.9l5.2 1.6M444.8 451.8l-3.9-2.4M440.9 327.7l5.6-2.1M440.9 340.0l5.6-1.4M441.5 309.7l-0.4-0.7M443.4 302.8l-2.3 6.2M441.1 181.2l3.2 0.1M441.2 362.5l4.4 0M441.2 362.5l0.7 7M446.8 315.7l-5.5-2.4M441.5 309.7l-0.2 3.6M441.4 431.4l2.9 6.5M441.4 431.4l5.9-2.5M446.5 309.4l-5 0.3M441.5 297.5l1.8 5.2M442.6 296.3l-1.1 1.2M447.2 370.7l-5.3-1.2M442.9 291.2l-0.4-0.4M443.0 284.9l-0.5 5.9M442.6 296.3l6.2 0.5M442.6 296.3l0.3-5.1M442.7 279.2l0.6 0.6M442.7 279.2l0.9-6.1M447.8 291.6l-4.9-0.4M443.0 284.9l0.2-0.2M443.0 255.2l0.8 0.8M443.9 249.6l-0.9 5.6M443.5 272.9l-0.3-5.3M443.2 267.6l0.5-0.6M443.2 284.7l5.2 0.7M443.3 279.8l-0.1 4.9M443.2 459.1l4.8 2.8M444.8 451.8l-1.6 7.3M443.4 302.8l-0.1-0.1M448.3 278.9l-5 0.9M446.3 236.1l-2.9-4.3M444.3 226.4l-0.9 5.4M445.5 302.9l-2.1-0.1M444.3 226.4l-0.9-1M444.6 219.4l-1.2 6M443.5 272.9l0.1 0.2M443.6 261.6l0.1 5.4M443.9 261.3l-0.3 0.3M445.2 471.7l-1.6-2.5M448.0 461.9l-4.4 7.3M448.9 273.6l-5.3-0.5M443.7 172.0l2.2 1.8M445.5 165.3l-1.8 6.7M449.3 267.5l-5.6-0.5M443.8 196.2l1.5 1.4M444.6 191.3l-0.8 4.9M443.9 261.3l-0.1-5.3M449.5 255.3l-5.7 0.7M445.2 218.7l-1.4-5.4M445.1 210.9l-1.3 2.4M443.8 402.8l2.5 2.8M446.8 396.2l-3 6.6M443.9 249.6l0.1-0.2M443.9 261.3l5.5 0.4M444.0 243.8l0 5.6M444.6 243.4l-0.6 0.4M449.1 249.8l-5.1-0.4M444.3 437.9l1 0.6M445.4 182.2l-1.1-0.9M444.3 181.3l2.2-6.3M449.9 227.9l-5.6-1.5M444.5 205.8l0.6 5.1M446.4 204.3l-1.9 1.5M450.4 243.8l-5.8-0.4M444.6 243.4l0.1-5.9M446.5 189.7l-1.9 1.6M445.2 218.7l-0.6 0.7M444.7 237.5l1.6-1.4M444.8 451.8l4.7-1.7M444.8 384.3l0.6 4.8M444.8 384.3l2.6-2.6M445.1 346.0l1.1 5M446.3 345.0l-1.2 1M452.1 211.7l-7-0.8M448.1 418.7l-2.9-2.6M445.2 416.1l1-5.4M445.2 320.4l2.4 3.1M446.8 315.7l-1.6 4.7M451.6 218.4l-6.4 0.3M446.4 204.3l-1.1-6.7M452.7 196.9l-7.4 0.7M446.3 441.4l-1-2.9M445.3 438.5l4.5-4.3M445.4 389.1l0.1 0.1M446.2 410.7l-0.8-1.1M446.3 405.6l-0.9 4M446.5 189.7l-1.1-7.5M453.0 181.5l-7.6 0.7M447.5 380.3l-2-3.3M445.5 377.0l1.9-6M447.6 307.8l-2.1-4.9M445.5 302.9l1-0.7M446.8 396.2l-1.3-7M451.8 388.5l-6.3 0.7M446.1 165.0l-0.6 0.3M445.6 362.5l3 2.3M445.6 362.5l1.8-4.8M445.9 355.7l1.5 2M446.7 351.6l-0.8 4.1M446.0 423.8l2 3.2M448.1 418.7l-2.1 5.1M446.5 338.6l-0.4-5.1M446.1 333.5l2.5-1.8M451.9 169.2l-5.8-4.2M447.4 159.6l-1.3 5.4M446.7 351.6l-0.5-0.6M450.5 411.1l-4.3-0.4M446.3 405.6l6-2M446.3 345.0l5.5 0.2M446.3 345.0l0.9-5.8M450.0 235.8l-3.7 0.3M446.3 441.4l3.1 2.3M446.4 204.3l6.3 0.2M448.5 314.8l-2-5.4M446.5 309.4l1.1-1.6M446.5 189.7l6.8 1.2M446.5 325.6l2.1 6.1M447.6 323.5l-1.1 2.1M447.2 339.2l-0.7-0.6M452.9 303.9l-6.4-1.7M448.8 296.8l-2.3 5.4M450.9 351.2l-4.2 0.4M446.8 315.7l1.7-0.9M446.8 396.2l0 0M446.8 396.2l3.3 0.7M451.1 470.6l-4.1 1.1M447.2 370.7l0.2 0.3M448.6 364.8l-1.4 5.9M447.2 339.2l4.4 0.5M447.3 428.9l2.5 5.3M447.3 428.9l0.7-1.9M447.4 371.0l4.6 1.2M447.4 357.7l4.7 0.9M447.4 381.7l5.8 2.9M447.5 380.3l-0.1 1.4M448.8 158.4l-1.4 1.2M447.5 380.3l5.9-3.7M450.9 323.3l-3.3 0.2M452.1 308.0l-4.5-0.2M448.8 296.8l-1-5.2M448.6 290.8l-0.8 0.8M448.8 158.4l-0.9-6.8M449.0 462.0l-1-0.1M448.0 427.0l5.3-0.8M448.1 418.7l1.8-0.3M448.3 278.9l1 1.1M448.3 278.9l0.6-5.3M448.6 285.7l-0.2-0.3M449.3 280.0l-0.9 5.4M452.1 314.7l-3.6 0.1M453.9 290.9l-5.3-0.1M448.6 290.8l0-5.1M448.6 285.7l5.2-0.3M449.7 331.7l-1.1 0M448.6 364.8l4.8-2.3M448.8 158.4l7.7 1.4M448.8 296.8l0 0M453.5 297.4l-4.7-0.6M448.9 273.6l0.6-0.4M449.0 462.0l3.4 3.9M452.6 457.6l-3.6 4.4M449.1 249.8l0.8 0.9M450.6 244.0l-1.5 5.8M449.3 267.5l0.3 0.3M449.4 261.7l-0.1 5.8M449.3 280.0l5.4 0.2M449.4 443.7l1 5.2M454.9 440.3l-5.5 3.4M450.2 261.1l-0.8 0.6M450.3 256.2l-0.8-0.9M449.9 250.7l-0.4 4.6M449.5 273.2l4.4 0.8M449.6 267.8l-0.1 5.4M449.5 450.1l3.1 7.5M450.4 448.9l-0.9 1.2M455.2 266.9l-5.6 0.9M453.0 334.5l-3.3-2.8M454.0 326.9l-4.3 4.8M452.9 434.5l-3.1-0.3M449.9 418.4l4.5 3.1M449.9 418.4l2.4-4.1M449.9 250.7l5.9-0.1M449.9 227.9l0.3 7.7M452.9 226.0l-3 1.9M450.0 235.8l0.4 8M450.2 235.6l-0.2 0.2M450.1 396.9l0 0M450.1 396.9l3-5.8M450.1 396.9l2.2 6.7M450.1 396.9l7.2-0.3M455.8 262.3l-5.6-1.2M450.3 256.2l-0.1 4.9M456.2 235.9l-6-0.3M456.0 255.8l-5.7 0.4M450.4 448.9l8.3 0.3M450.6 244.0l-0.2-0.2M452.3 414.3l-1.8-3.2M450.5 411.1l2.4-2.9M455.3 244.3l-4.7-0.3M450.9 323.3l3.1 3.6M453.3 319.1l-2.4 4.2M450.9 351.2l0.2 0.1M450.9 351.2l0.9-5.9M451.1 351.3l1.5 6.2M451.1 351.3l5.1-0.2M451.7 471.3l-0.6-0.7M452.4 465.9l-1.3 4.7M452.6 220.0l-1-1.6M451.6 218.4l1.9-4.1M452.0 340.1l-0.4-0.4M451.6 339.7l1.4-5.2M451.8 388.5l1.3 2.6M453.2 384.6l-1.4 3.9M451.8 345.3l0-0.1M452.0 340.1l-0.2 5.1M451.8 345.3l5.7 0.8M452.0 372.2l1.4 4.4M452.0 372.2l2.8-2M452.0 340.1l4.6 0.2M452.1 211.7l1.4 2.6M452.7 204.6l-0.6 7.1M453.3 316.0l-1.2-1.3M452.1 314.7l1.1-4.6M452.1 358.6l1.3 3.9M452.6 357.5l-0.5 1.1M453.2 310.1l-1.1-2.1M452.9 303.9l-0.8 4.1M452.3 403.6l0.8 0.5M452.3 414.3l4.4-0.1M457.6 465.9l-5.2 0M452.6 220.0l8.4 0.9M452.6 220.0l0.3 6M452.6 357.5l5.5-2.8M452.6 457.6l6.2-0.4M452.7 204.5l0 0.1M452.7 204.5l0.6-6.3M453.0 181.5l-0.3-8.4M453.3 198.2l-0.6-1.3M452.7 196.9l1.1-5.5M459.9 205.6l-7.2-1M452.9 226.0l3.7 1.5M457.6 411.6l-4.7-3.4M452.9 408.2l0.2-4.1M453.7 303.1l-0.8 0.8M455.5 437.8l-2.6-3.3M452.9 434.5l3.1-5.6M456.5 333.9l-3.5 0.6M453.8 182.1l-0.8-0.6M453.1 391.1l4.8 0.4M458.3 403.5l-5.2 0.6M453.2 384.6l0.8-0.3M453.2 310.1l5.7-1.2M453.3 319.1l5.4 3.5M453.3 316.0l0 3.1M453.3 316.0l5.8-0.4M460.4 198.8l-7.1-0.6M453.3 426.2l2.7 2.7M454.4 421.5l-1.1 4.7M453.3 190.9l0.5 0.5M453.8 182.1l-0.5 8.8M453.4 362.5l1.2 0.6M453.4 376.6l2.9 2M453.7 303.1l-0.2-5.7M453.8 297.2l-0.3 0.2M453.5 214.3l4.3-0.8M453.7 303.1l5.7 1M453.8 182.1l9.1-0.7M453.9 290.9l-0.1 6.3M458.5 296.9l-4.7 0.3M458.5 191.2l-4.7 0.2M454.4 290.5l-0.6-5.1M453.8 285.4l0.4-0.4M455.0 279.9l-1.1-5.9M453.9 274.0l1.3-0.9M453.9 290.9l0.5-0.4M459.3 386.9l-5.3-2.6M454.0 384.3l2.3-5.7M456.4 327.2l-2.4-0.3M454.2 285.0l5.6 1M454.7 280.2l-0.5 4.8M454.4 290.5l3.5 0.2M454.4 421.5l3.1-1.5M454.6 363.1l0.2 7.1M454.6 363.1l3-0.5M454.7 280.2l0.3-0.3M454.8 370.2l5.6 1M460.5 445.9l-5.6-5.6M455.5 437.8l-0.6 2.5M455.0 279.9l4.3-0.2M460.3 274.1l-5.1-1M456.1 268.1l-0.9 5M456.1 268.1l-0.9-1.2M455.8 262.3l-0.6 4.6M455.3 244.3l0.5 6.3M457.7 242.5l-2.4 1.8M461.2 435.9l-5.7 1.9M460.4 154.8l-4.9-4.4M456.5 159.8l-0.9 6.1M456.1 262.1l-0.3 0.2M455.9 250.6l-0.1 0M456.0 255.8l-0.1-5.2M461.9 250.0l-6 0.6M456.5 256.3l-0.5-0.5M459.7 429.0l-3.7-0.1M461.6 268.6l-5.5-0.5M456.1 262.1l5.3 0.3M456.5 256.3l-0.4 5.8M457.7 242.5l-1.5-6.6M457.4 234.7l-1.2 1.2M456.2 351.1l1.9 3.6M456.2 351.1l2.1-4.2M456.3 378.6l3.1-0.6M456.4 327.2l1.7 2M458.7 322.6l-2.3 4.6M456.5 256.3l5.4-0.3M456.5 159.8l2.9-1.7M458.4 338.8l-1.9-4.9M456.5 333.9l1.7-2.4M458.6 230.2l-2-2.7M461.0 220.9l-4.4 6.6M456.6 340.3l0.9 5.8M456.6 340.3l1.8-1.5M457.5 420.0l-0.8-5.8M456.7 414.2l1-1.1M458.8 398.2l-1.5-1.6M457.9 391.5l-0.6 5.1M465.0 237.1l-7.6-2.4M457.4 234.7l1.2-4.5M457.5 420.0l4.3 1.4M457.5 346.1l0.8 0.8M457.7 413.1l-0.1-1.5M460.0 407.2l-2.4 4.4M457.6 362.6l3.6 2M457.6 362.6l2.5-6.9M457.6 465.9l0.9 0.8M459.4 458.4l-1.8 7.5M462.9 414.2l-5.2-1.1M459.8 243.1l-2.1-0.6M457.8 213.5l3.7 7.2M459.8 211.7l-2 1.8M460.1 389.7l-2.2 1.8M459.7 295.8l-1.8-5.1M457.9 290.7l2.1-1.9M458.1 329.2l0.1 2.3M464.9 326.9l-6.8 2.3M458.1 354.7l2 1M463.7 334.2l-5.5-2.7M458.8 403.8l-0.5-0.3M458.8 398.2l-0.5 5.3M458.3 346.9l3.6-0.3M458.5 466.7l-0.1 2.7M458.4 338.8l4.8 0.5M458.5 296.9l1.8 6.5M458.5 296.9l1.2-1.1M458.5 466.7l5.8 0.2M462.0 196.4l-3.5-5.2M458.5 191.2l3.8-4.1M466.2 228.4l-7.6 1.8M458.7 449.2l1.4 4.8M460.5 445.9l-1.8 3.3M460.3 321.7l-1.6 0.9M460.0 407.2l-1.2-3.4M464.8 402.3l-6 1.5M458.8 398.2l6.5-2.3M458.8 457.2l0.6 1.2M460.1 454.0l-1.3 3.2M458.9 308.9l0.9 1.1M458.9 308.9l0.5-4.8M459.1 315.6l1.2 6.1M459.1 315.6l0.7-0.6M459.3 386.9l0.8 2.8M461.7 383.0l-2.4 3.9M459.3 279.7l1.7 4.6M460.9 278.0l-1.6 1.7M461.7 383.0l-2.3-5M459.4 378.0l1.7-2M459.4 158.1l2.4 2.2M460.4 154.8l-1 3.3M459.4 458.4l5.9 3M460.3 303.4l-0.9 0.7M459.7 295.8l4.5-0.6M461.6 431.6l-1.9-2.6M459.7 429.0l3.2-6.1M460.0 288.8l-0.2-2.8M461.0 284.3l-1.2 1.7M463.1 248.8l-3.3-5.7M464.8 240.0l-5 3.1M466.4 213.9l-6.6-2.2M459.9 205.6l-0.1 6.1M459.8 315.0l6.4 0.7M459.8 310.0l0 5M459.8 310.0l5.2-0.4M460.6 205.1l-0.7 0.5M460.0 288.8l4.7 2.2M464.7 409.3l-4.7-2.1M460.1 389.7l5 1.8M468.0 453.7l-7.9 0.3M460.1 355.7l1.5-0.3M463.8 322.4l-3.5-0.7M460.9 278.0l-0.6-3.9M460.3 274.1l1.6-2M463.3 303.2l-3 0.2M461.0 372.0l-0.6-0.8M460.4 371.2l0.8-6.6M460.6 205.1l-0.2-6.3M462.0 196.4l-1.6 2.4M460.4 154.8l0.2-0.1M464.8 443.8l-4.3 2.1M467.0 205.0l-6.4 0.1M460.6 154.7l0.9-3.4M460.6 154.7l7.8-0.9M462.9 181.4l-2.2-4.8M466.5 278.6l-5.6-0.6M461.1 376.0l-0.1-4M466.6 370.4l-5.6 1.6M466.5 284.3l-5.5 0M461.0 220.9l0.5-0.2M466.0 377.2l-4.9-1.2M461.2 364.6l4.7-1.4M464.5 439.1l-3.3-3.2M461.2 435.9l0.4-4.3M461.7 262.7l-0.3-0.3M462.2 256.3l-0.8 6.1M461.5 220.7l3.2 0.3M461.6 431.6l5.8-0.7M461.6 355.4l4.8 5.1M464.3 351.5l-2.7 3.9M461.9 272.1l-0.3-3.5M461.6 268.6l0.2-0.3M461.8 268.3l-0.1-5.6M467.2 262.3l-5.5 0.4M465.9 383.3l-4.2-0.3M461.8 421.4l1.1 1.5M463.6 415.4l-1.8 6M467.6 267.8l-5.8 0.5M461.9 256.0l0.3 0.3M461.9 250.0l0 6M461.9 250.0l1.2-1.2M461.9 272.1l5.6 1.8M462.8 347.5l-0.9-0.9M463.7 339.8l-1.8 6.8M467.3 196.3l-5.3 0.1M466.9 256.6l-4.7-0.3M462.3 187.1l6.8 5.5M462.3 187.1l0.7-5.6M464.3 351.5l-1.5-4M470.0 345.4l-7.2 2.1M462.9 181.4l0.1 0.1M466.9 423.4l-4-0.5M463.6 415.4l-0.7-1.2M464.8 409.5l-1.9 4.7M466.8 180.6l-3.8 0.9M466.0 248.6l-2.9 0.2M463.2 339.3l0.5 0.5M463.2 339.3l0.5-5.1M465.5 308.7l-2.2-5.5M464.5 302.3l-1.2 0.9M463.6 415.4l6.1 0.5M465.1 333.0l-1.4 1.2M463.7 339.8l5.1 0.5M465.8 325.7l-2-3.3M466.8 316.1l-3 6.3M464.6 295.7l-0.4-0.5M464.2 295.2l0.5-4.2M464.3 466.9l3 3.4M465.3 461.4l-1 5.5M464.3 351.5l4.3 0.8M464.8 443.8l-0.3-4.7M469.4 435.5l-4.9 3.6M464.5 302.3l5.7 0.4M464.5 302.3l0.1-6.6M470.0 296.5l-5.4-0.8M464.7 409.3l0.1 0.2M466.4 404.1l-1.7 5.2M466.1 222.6l-1.4-1.6M466.4 213.9l-1.7 7.1M464.7 291.0l1.4-1.3M470.2 410.7l-5.4-1.2M466.4 404.1l-1.6-1.8M465.9 396.9l-1.1 5.4M468.3 445.5l-3.5-1.7M464.8 472.5l2.5-2.2M468.7 243.8l-3.9-3.8M465.0 237.1l-0.2 2.9M465.1 333.0l-0.2-6.1M465.8 325.7l-0.9 1.2M465.0 309.6l1.2 6.1M465.5 308.7l-0.5 0.9M467.5 234.4l-2.5 2.7M465.3 391.7l-0.2-0.2M466.8 384.1l-1.7 7.4M470.6 333.5l-5.5-0.5M465.3 395.9l0-4.2M472.1 390.6l-6.8 1.1M465.9 396.9l-0.6-1M467.5 460.4l-2.2 1M465.5 308.7l5-0.9M465.8 325.7l3 0.1M465.9 383.3l0.9 0.8M465.9 383.3l0.1-6.1M467.2 364.8l-1.3-1.6M466.4 360.5l-0.5 2.7M470.7 398.5l-4.8-1.6M466.0 377.2l2.5-0.9M467.6 250.4l-1.6-1.8M466.0 248.6l2.7-4.8M466.2 228.4l-0.1-5.8M472.9 220.8l-6.8 1.8M471.9 291.5l-5.8-1.8M466.8 284.7l-0.7 5M467.0 229.2l-0.8-0.8M466.8 316.1l-0.6-0.4M466.4 213.8l0 0.1M470.9 404.3l-4.5-0.2M469.0 358.6l-2.6 1.9M466.4 213.8l7.2 0.8M467.9 206.2l-1.5 7.6M466.5 284.3l0.3 0.4M466.7 278.9l-0.2 5.4M466.5 278.6l0.2 0.3M466.5 278.6l1-4.7M467.9 371.4l-1.3-1M466.6 370.4l0.6-5.6M472.9 279.2l-6.2-0.3M469.4 316.1l-2.6 0M471.8 285.0l-5-0.3M466.8 384.1l5.3-0.8M472.5 187.3l-5.7-6.7M468.2 179.1l-1.4 1.5M468.9 428.2l-2-4.8M466.9 423.4l2.9-2.4M466.9 256.6l0.3 5.7M466.9 256.6l0.8-0.6M467.5 234.4l-0.5-5.2M467.0 229.2l8.2-0.6M467.9 206.2l-0.9-1.2M467.0 205.0l1.6-5.7M467.2 262.3l1 0.9M467.2 364.8l5.8 1.2M467.3 196.3l1.3 3M467.3 196.3l1.8-3.7M468.8 470.5l-1.5-0.2M469.4 435.5l-2-4.6M468.9 428.2l-1.5 2.7M467.5 460.4l6.2 2.6M468.0 453.7l-0.5 6.7M467.5 234.4l5.9 2.8M468.0 273.5l-0.5 0.4M467.6 250.4l6.1 0.2M467.7 256.0l-0.1-5.6M467.6 267.8l0.4 5.7M468.5 266.6l-0.9 1.2M467.7 256.0l5.4 0.7M468.5 376.3l-0.6-4.9M473.6 370.1l-5.7 1.3M467.9 206.2l6.6 1.3M472.5 273.4l-4.5 0.1M468.0 453.7l0.7-0.5M468.5 174.7l-0.3 4.4M468.2 179.1l10.4-1.1M468.5 266.6l-0.3-3.4M473.4 261.0l-5.2 2.2M468.3 445.5l0.4 7.7M468.3 445.5l0.4-0.1M468.8 154.3l-0.4-0.5M468.4 153.8l0.5-1.3M468.5 376.3l3.7 1.4M473.1 268.0l-4.6-1.4M468.6 352.3l0.8 0.9M470.8 346.3l-2.2 6M468.6 199.3l7.6 0.8M468.7 445.4l6.8 1.9M468.7 445.4l4.6-5.3M468.7 453.2l3.5 0.8M471.3 243.2l-2.6 0.6M469.5 341.2l-0.7-0.9M471.2 334.3l-2.4 6M468.8 325.8l2.3 2.1M468.8 325.8l2.8-4.8M471.1 473.2l-2.3-2.7M473.8 463.2l-5 7.3M474.5 428.9l-5.6-0.7M469.0 358.6l4.1 0.8M469.4 353.2l-0.4 5.4M469.1 192.6l2.6-1.5M469.4 435.5l2.8 0.5M475.1 353.0l-5.7 0.2M469.4 316.1l2.2 4.9M469.4 316.1l0.5-0.4M470.0 345.4l-0.5-4.2M475.7 340.6l-6.2 0.6M469.9 416.1l-0.2-0.2M470.2 410.7l-0.5 5.2M475.2 422.5l-5.4-1.5M469.8 421.0l0.1-4.9M476.2 415.9l-6.3 0.2M470.5 307.8l-0.6 7.9M474.8 314.5l-4.9 1.2M471.1 473.2l-1.1 4.9M470.0 345.4l0.8 0.9M471.3 298.3l-1.3-1.8M470.0 296.5l1.9-5M470.2 302.7l0.8 4.5M470.2 302.7l0.6-0.9M470.2 410.7l0.5-0.4M470.5 307.8l0.5-0.6M470.6 333.5l0.6 0.8M471.1 327.9l-0.5 5.6M470.7 398.5l0.2 5.8M471.9 397.9l-1.2 0.6M476.8 411.3l-6.1-1M470.7 410.3l0.8-5.5M477.2 302.6l-6.4-0.8M470.8 301.8l0.5-3.5M470.8 346.3l5.4 1.1M470.9 404.3l0.6 0.5M471.0 307.2l5.2 1.4M471.1 327.9l3.8-0.4M477.7 473.7l-6.6-0.5M471.2 334.3l3.7 0.5M471.3 243.2l2.9 2.3M473.4 237.2l-2.1 6M477.4 296.9l-6.1 1.4M471.5 404.8l4.6-0.6M471.6 321.0l5.7 0.9M476.3 193.9l-4.6-2.8M472.5 187.3l-0.8 3.8M472.4 291.2l-0.6-6.2M472.7 284.4l-0.9 0.6M471.9 397.9l5.3 0.8M471.9 397.9l1-6.6M472.4 291.2l-0.5 0.3M472.9 385.0l-0.8-1.7M472.1 383.3l1.3-3.8M472.9 391.3l-0.8-0.7M472.9 385.0l-0.8 5.6M472.2 436.0l1.1 4.1M472.2 436.0l2.3-2.1M473.4 379.5l-1.2-1.8M474.4 371.0l-2.2 6.7M475.3 459.7l-3.1-5.7M475.9 451.4l-3.7 2.6M476.2 291.6l-3.8-0.4M472.5 273.4l0.4 5.8M472.5 273.4l0.6-0.5M480.1 183.6l-7.6 3.7M477.3 285.4l-4.6-1M473.1 279.4l-0.4 5M473.8 221.6l-0.9-0.8M473.6 214.6l-0.7 6.2M472.9 391.3l3.9 0.9M479.5 386.7l-6.6-1.7M472.9 279.2l0.2 0.2M473.6 370.1l-0.6-4.1M473.7 365.2l-0.7 0.8M473.1 359.4l0.6 5.8M476.1 357.5l-3 1.9M473.1 268.0l0 4.9M474.5 267.1l-1.4 0.9M473.5 257.1l-0.4-0.4M473.1 256.7l0.6-6.1M478.2 278.8l-5.1 0.6M473.1 272.9l5.8 0.9M473.3 440.1l4.9 1.5M473.4 237.2l0.3-0.1M479.3 378.9l-5.9 0.6M473.4 261.0l0.6 0.5M473.4 261.0l0.1-3.9M473.5 257.1l6-0.9M474.4 371.0l-0.8-0.9M474.1 214.2l-0.5 0.4M479.4 363.9l-5.7 1.3M474.0 250.3l-0.3 0.3M473.7 237.1l6.2 1.6M476.0 229.1l-2.3 8M473.7 463.0l0.1 0.2M475.3 459.7l-1.6 3.3M477.9 466.1l-4.1-2.9M475.2 228.6l-1.4-7M482.0 220.8l-8.2 0.8M480.6 262.4l-6.6-0.9M474.0 261.5l0.5 5.6M479.9 251.6l-5.9-1.3M474.2 245.5l-0.2 4.8M481.7 215.7l-7.6-1.5M474.5 207.5l-0.4 6.7M474.2 245.5l6.7-1.9M474.4 371.0l4.3 0.4M474.5 433.9l5.2 1.6M474.5 433.9l0-5M474.5 207.5l1.2-0.9M474.5 428.9l0.6-0.7M478.8 267.6l-4.3-0.5M476.8 316.0l-2-1.5M476.2 308.6l-1.4 5.9M477.5 330.1l-2.6-2.6M477.3 322.0l-2.4 5.5M474.9 334.8l1.7 4.7M477.0 333.1l-2.1 1.7M475.7 353.9l-0.6-0.9M476.2 347.4l-1.1 5.6M480.0 429.1l-4.9-0.9M475.6 423.0l-0.5 5.2M476.0 229.1l-0.8-0.5M475.6 423.0l-0.4-0.5M475.2 422.5l2.1-5.1M475.3 459.7l4.9-2.3M475.9 451.4l-0.4-4.1M475.5 447.3l2.9-2.2M475.6 423.0l7 0.3M475.7 206.6l6.9 1.8M475.7 206.6l0.8-6.2M475.7 340.6l0.7 6.7M475.7 340.6l0.9-1.1M476.1 357.5l-0.4-3.6M481.7 353.1l-6 0.8M475.9 451.4l5.4 2.2M476.0 229.1l3.9-0.1M476.1 404.2l0.4 0.4M477.2 398.7l-1.1 5.5M476.1 357.5l0.8 0.5M476.4 347.3l-0.2 0.1M476.7 308.3l-0.5 0.3M476.2 200.1l0.3 0.3M476.2 200.1l0.1-6.2M477.7 292.9l-1.5-1.3M476.2 291.6l1.1-6.2M476.2 415.9l1.1 1.5M476.2 415.9l0.6-4.6M476.3 170.1l3.3 4.9M476.3 193.9l5.4-2.1M481.1 347.0l-4.7 0.3M476.5 200.4l7.7-0.4M482.4 405.2l-5.9-0.6M477.1 411.1l-0.6-6.5M480.4 339.6l-3.8-0.1M481.4 310.1l-4.7-1.8M477.7 304.3l-1 4M476.8 316.0l0.5 5.9M476.8 316.0l4.9-1.4M476.8 392.2l0.6 6.3M476.8 392.2l0.6-0.4M476.8 411.3l0.3-0.2M476.9 358.0l2.5 5.9M476.9 358.0l6.8-1.3M482.0 335.2l-5-2.1M477.5 330.1l-0.5 3M482.1 410.9l-5 0.2M477.2 302.6l0.5 1.7M478.7 298.7l-1.5 3.9M477.2 398.7l0.2-0.2M481.7 417.6l-4.4-0.2M477.3 321.9l0 0.1M478.4 284.7l-1.1 0.7M477.3 322.0l3.5 0.5M483.0 398.5l-5.6 0M478.7 298.7l-1.3-1.8M477.4 296.9l0.3-4M477.4 391.8l6.4 1.7M477.4 391.8l2.1-5.1M482.0 328.3l-4.5 1.8M482.5 291.4l-4.8 1.5M478.9 474.7l-1.2-1M477.7 473.7l0.2-7.6M482.9 304.1l-5.2 0.2M477.9 466.1l7.3-1.4M478.4 445.1l-0.2-3.5M479.9 439.7l-1.7 1.9M478.4 279.1l-0.2-0.3M479.1 273.9l-0.9 4.9M478.4 445.1l3.7 2.2M483.3 286.2l-4.9-1.5M478.4 284.7l0-5.6M484.5 280.4l-6.1-1.3M480.2 183.5l-1.6-5.5M479.6 175.0l-1 3M478.7 298.7l3.7 0.5M479.2 372.0l-0.5-0.6M478.7 371.4l1.8-7M478.8 267.6l0.5 0.8M480.6 262.4l-1.8 5.2M479.0 478.6l-0.1-3.9M478.9 474.7l4.7-1.7M479.1 273.9l-0.2-0.1M479.3 268.4l-0.4 5.4M479.1 273.9l6 0.3M479.6 378.4l-0.4-6.4M485.8 371.4l-6.6 0.6M479.3 268.4l6.4 0.2M481.8 384.4l-2.5-5.5M479.3 378.9l0.3-0.5M479.4 363.9l1.1 0.5M479.5 386.7l2.3-1.3M481.1 261.9l-1.6-5.7M480.3 254.8l-0.8 1.4M484.5 173.5l-4.9 1.5M486.3 376.6l-6.7 1.8M479.9 439.7l-0.2-4.2M480.1 435.1l-0.4 0.4M479.9 251.6l0.4 3.2M482.1 248.6l-2.2 3M479.9 229.0l1 1.1M479.9 229.0l2.6-7.4M479.9 238.7l1.1 1.2M479.9 238.7l1-8.6M479.9 439.7l6.6 1.3M480.0 429.1l0.1 6M480.0 429.1l2.8-1.5M480.1 435.1l5.7-1.4M480.1 183.6l1.6 8.2M480.1 183.6l0.1-0.1M489.3 183.3l-9.1 0.2M485.3 464.1l-5.1-6.7M480.2 457.4l1.3-3.4M487.2 255.9l-6.9-1.1M482.0 341.3l-1.6-1.7M482.0 335.2l-1.6 4.4M483.4 363.9l-2.9 0.5M480.6 262.4l0.5-0.5M480.8 322.5l1.2 5.8M480.8 322.5l0.9-0.5M481.7 244.8l-0.8-1.2M480.9 243.6l0.1-3.7M480.9 230.1l6.5 1.4M481.0 239.9l5.8-2.4M481.1 347.0l0 0M482.0 341.3l-0.9 5.7M484.2 262.2l-3.1-0.3M485.7 347.5l-4.6-0.5M481.7 353.1l-0.6-6.1M481.3 453.6l0.2 0.4M482.1 447.3l-0.8 6.3M481.4 310.1l0.3 0.3M481.4 310.1l2.2-5.2M485.4 454.0l-3.9 0M482.1 248.6l-0.4-3.8M481.7 244.8l9.3-0.4M481.7 314.6l1.6 1.7M481.7 310.4l0 4.2M482.0 220.8l-0.3-5.1M481.7 215.7l1.4-2M481.7 310.4l6.2-0.3M481.7 322.0l5.4 0.7M481.7 322.0l1.6-5.7M482.6 423.3l-0.9-5.7M482.8 416.4l-1.1 1.2M481.7 191.8l2.4 1.4M484.0 355.3l-2.3-2.2M481.8 384.4l0 1M488.5 379.4l-6.7 5M483.9 387.0l-2.1-1.6M487.2 340.4l-5.2 0.9M482.0 335.2l1-0.5M482.0 220.8l0.5 0.8M482.0 328.3l0.8 0.5M487.1 250.7l-5-2.1M485.0 446.1l-2.9 1.2M483.1 411.8l-1-0.9M482.1 410.9l0.3-5.7M482.4 299.2l0.5 4.9M482.4 299.2l1.4-0.7M483.4 404.2l-1 1M482.5 221.6l5.8 1.2M482.5 291.4l0.5 0.4M483.4 286.4l-0.9 5M482.6 423.3l0.4 0.5M483.1 213.7l-0.5-5.3M482.6 208.4l4.5-5.1M482.8 328.8l0.2 5.9M486.5 328.5l-3.7 0.3M482.8 416.4l5.4 1.7M482.8 416.4l0.3-4.6M482.8 427.6l3.2 2.6M482.8 427.6l0.2-3.8M483.6 304.9l-0.7-0.8M483.0 334.7l4 0.9M483.4 404.2l-0.4-5.7M483.2 398.3l-0.2 0.2M483.0 291.8l6.3 1.4M483.8 298.5l-0.8-6.7M483.0 423.8l4.1-1.2M490.7 214.4l-7.6-0.7M483.1 411.8l3.8-0.6M490.2 399.0l-7-0.7M483.2 398.3l0.6-4.8M483.4 286.4l-0.1-0.2M484.5 280.4l-1.2 5.8M483.3 316.3l4.3-0.3M489.8 286.6l-6.4-0.2M484.0 364.5l-0.6-0.6M483.4 363.9l1.4-3.6M483.4 404.2l4.9 1.1M487.0 475.0l-3.4-2M483.6 473.0l2-7.5M483.6 304.9l4.1-0.1M484.8 360.3l-1.1-3.6M484.0 355.3l-0.3 1.4M484.6 392.4l-0.8 1.1M483.8 298.5l4.3 0.4M483.9 387.0l0.7 5.4M489.4 385.8l-5.5 1.2M487.7 353.0l-3.7 2.3M491.2 365.4l-7.2-0.9M484.0 364.5l1.8 6.9M484.1 193.2l0.1 6.8M489.1 191.3l-5 1.9M484.2 262.2l1.8 5.9M484.9 261.7l-0.7 0.5M487.1 203.3l-2.9-3.3M486.8 166.9l-2.4-2.6M484.5 173.5l5.6 3.1M486.8 166.9l-2.3 6.6M484.8 280.2l-0.3 0.2M489.2 392.6l-4.6-0.2M491.8 359.5l-7 0.8M489.6 280.9l-4.8-0.7M484.8 280.2l0.3-6M491.7 263.0l-6.8-1.3M487.2 255.9l-2.3 5.8M489.2 449.6l-4.2-3.5M486.5 441.0l-1.5 5.1M485.7 273.7l-0.6 0.5M485.6 465.5l-0.4-0.8M485.2 464.7l0.1-0.6M485.3 464.1l4.6-4.9M489.9 459.2l-4.5-5.2M489.2 449.6l-3.8 4.4M485.6 465.5l5.2 2.7M485.7 268.6l0 5.1M486.0 268.1l-0.3 0.5M488.3 351.4l-2.6-3.9M485.7 347.5l3-4.1M489.6 274.4l-3.9-0.7M486.2 434.3l-0.4-0.6M486.0 430.2l-0.2 3.5M486.9 372.2l-1.1-0.8M486.0 430.2l4.2-1.9M490.5 267.3l-4.5 0.8M486.2 434.3l6.4 0.4M486.5 440.9l-0.3-6.6M486.3 376.6l2.2 2.8M486.3 376.6l0.6-4.4M486.5 440.9l0 0.1M486.5 328.5l0.9 0.5M487.1 322.7l-0.6 5.8M486.5 440.9l5.2 0.3M486.8 166.9l0.3 0M491.0 244.4l-4.2-6.9M486.8 237.5l0.8-1.4M486.9 372.2l3.4-1.1M486.9 411.2l1.7 1M488.3 405.3l-1.4 5.9M487.2 340.4l-0.2-4.8M487.0 335.6l1.6-1.3M487.1 476.0l-0.1-1M487.0 475.0l4.9-2.2M487.1 250.7l1.8 4M487.1 250.7l4-6.3M487.1 422.6l1.4 0.9M487.1 422.6l1.1-4.5M488.6 321.8l-1.5 0.9M490.7 203.6l-3.6-0.3M488.9 254.7l-1.7 1.2M487.2 340.4l1.5 1.5M487.4 329.0l1.2 5.3M492.2 327.4l-4.8 1.6M487.4 231.5l0.2 4.6M489.2 229.7l-1.8 1.8M487.6 316.0l1 5.8M489.0 314.6l-1.4 1.4M495.2 237.2l-7.6-1.1M488.5 309.1l-0.8-4.3M487.7 304.8l0.9-1.3M487.7 353.0l4.3 5.1M487.7 353.0l0.6-1.6M487.9 310.1l1.1 4.5M488.5 309.1l-0.6 1M488.2 298.9l-0.1 0M488.1 298.9l1.2-5.7M494.7 298.9l-6.5 0M488.2 298.9l0.4 4.6M488.2 418.1l0.9-0.6M489.2 229.7l-0.9-6.9M488.9 222.3l-0.6 0.5M489.8 404.7l-1.5 0.6M490.9 350.5l-2.6 0.9M488.5 309.1l5.3-0.4M490.2 428.3l-1.7-4.8M488.5 423.5l5.2-1.5M488.5 379.4l1.1 0.5M494.7 304.4l-6.1-0.9M491.2 334.3l-2.6 0M488.6 412.2l0.5 5.3M494.2 410.6l-5.6 1.6M492.3 322.8l-3.7-1M488.7 341.9l0 1.5M493.1 340.2l-4.4 1.7M492.6 346.7l-3.9-3.3M496.9 222.8l-8-0.5M490.9 214.5l-2 7.8M490.3 254.9l-1.4-0.2M492.8 315.1l-3.8-0.5M494.1 194.1l-5-2.8M489.1 191.3l0.2-8M489.1 417.5l4 0.5M489.2 392.6l1.1 0.8M489.9 386.4l-0.7 6.2M495.4 230.2l-6.2-0.5M490.2 449.5l-1 0.1M489.8 292.7l-0.5 0.5M489.3 183.3l0.8-0.7M489.4 385.8l0.5 0.6M489.4 385.8l1-4M490.4 381.8l-0.8-1.9M495.3 374.9l-5.7 5M489.9 286.5l-0.3-5.6M490.6 280.0l-1 0.9M489.6 274.4l1.2 1.2M491.9 270.1l-2.3 4.3M489.8 286.6l0 6.1M489.8 286.6l0.1-0.1M493.8 406.8l-4-2.1M490.2 399.0l-0.4 5.7M489.8 292.7l5 0.7M489.9 386.4l6.1 2.4M490.8 459.0l-0.9 0.2M489.9 286.5l5.1-0.3M490.1 176.6l0 6M490.1 176.6l4.6-3.3M490.1 182.6l9.5 2M490.2 428.3l2.4 0.6M492.9 453.8l-2.7-4.3M492.5 447.1l-2.3 2.4M490.2 399.0l0 0M490.2 399.0l0.1-5.6M490.2 399.0l6.3-0.1M490.3 254.9l2 2.7M490.3 254.9l3.6-3.4M490.3 393.4l4.8-1.5M495.4 374.7l-5.1-3.6M491.8 366.7l-1.5 4.4M490.4 381.8l5.6 0.8M491.9 270.1l-1.4-2.8M490.5 267.3l1.6-3.5M490.6 280.0l6 1.2M490.8 275.6l-0.2 4.4M490.7 214.4l0.2 0.1M490.7 203.6l0 10.8M491.1 203.4l-0.4 0.2M490.8 275.6l6.3-0.3M490.8 468.2l1.1 4.6M490.8 468.2l0.3-0.1M494.4 460.8l-3.6-1.8M490.8 459.0l2.1-5.2M495.5 215.1l-4.6-0.6M496.0 353.1l-5.1-2.6M490.9 350.5l1.7-3.8M491.1 244.4l-0.1 0M495.9 207.4l-4.8-4M491.1 203.4l4.6-5.4M492.7 244.5l-1.6-0.1M493.6 339.1l-2.4-4.8M491.2 334.3l1.8-1.4M491.8 366.7l-0.6-1.3M491.2 365.4l1.2-4.7M492.1 263.8l-0.4-0.8M492.3 257.6l-0.6 5.4M491.7 441.2l1 0.8M491.7 441.2l0.9-6.5M491.8 359.5l0.6 1.2M491.8 359.5l0.2-1.4M491.8 366.7l4 0.3M491.9 472.8l0.9 0.5M491.9 270.1l4.6 0.6M492.0 358.1l3.8-3.5M492.1 263.8l5.2 0.9M492.2 327.4l1 1M492.3 322.8l-0.1 4.6M493.5 322.0l-1.2 0.8M497.7 257.9l-5.4-0.3M497.5 361.8l-5.1-1.1M492.5 447.1l5.3 1.8M492.5 447.1l0.2-5.1M493.3 429.8l-0.7-0.9M495.0 423.8l-2.4 5.1M492.6 434.7l0.9-0.8M492.6 346.7l2.4-0.7M497.5 441.3l-4.8 0.7M493.9 251.5l-1.2-7M494.9 243.3l-2.2 1.2M492.8 315.1l0.9 1M494.7 310.6l-1.9 4.5M493.3 475.7l-0.5-2.4M495.7 472.6l-2.9 0.7M497.2 453.2l-4.3 0.6M493.0 332.9l4.6 1.1M493.2 328.4l-0.2 4.5M493.1 340.2l2.6 3.3M493.6 339.1l-0.5 1.1M493.5 418.4l-0.4-0.4M494.4 410.8l-1.3 7.2M493.2 328.4l5.1 0M493.5 433.9l-0.2-4.1M499.3 429.1l-6 0.7M498.5 435.6l-5-1.7M493.5 418.4l0.2 3.6M499.1 417.6l-5.6 0.8M498.4 322.6l-4.9-0.6M493.7 316.1l-0.2 5.9M493.6 339.1l4.8-2.2M495.0 423.8l-1.3-1.8M499.5 315.9l-5.8 0.2M493.8 308.7l0.9 1.9M495.2 305.0l-1.4 3.7M493.8 406.8l0.4 3.8M495.7 405.1l-1.9 1.7M497.9 252.1l-4-0.6M495.7 198.0l-1.6-3.9M494.1 194.1l5.5-9.5M494.4 410.8l-0.2-0.2M499.0 412.2l-4.6-1.4M494.6 170.8l0.1 2.5M494.7 310.6l4.8 0.8M494.7 304.4l0.5 0.6M494.7 298.9l0 5.5M494.7 173.3l6.5 3.6M494.9 298.8l-0.2 0.1M494.8 293.4l0.1 5.4M494.8 293.4l1.6-1.1M494.9 298.8l5.6 0.2M498.3 245.2l-3.4-1.9M496.0 239.2l-1.1 4.1M495.0 286.2l1.2 1.6M495.0 286.2l1.7-4.8M495.0 423.8l3.1 0.1M495.0 346.0l2.1 2.1M495.0 346.0l0.7-2.5M495.1 391.9l1.2 2.1M495.1 391.9l0.9-3.1M496.0 239.2l-0.8-2M496.2 231.2l-1 6M495.2 305.0l4.9 0.2M495.3 374.9l2.4 4.8M495.3 374.9l0.1-0.2M495.4 374.7l3.4-2.6M496.2 231.2l-0.8-1M496.9 222.8l-1.5 7.4M495.5 215.1l1.5 1.5M497.7 208.9l-2.2 6.2M495.7 198.0l4.3 0.5M495.7 343.5l4.8-1.7M501.6 405.9l-5.9-0.8M495.7 405.1l0.9-6.1M499.2 358.3l-3.4-3.7M496.0 353.1l-0.2 1.5M495.8 367.0l3 5.1M495.8 367.0l2.7-3.4M497.5 387.4l-1.5-4.8M496.0 382.6l1.7-2.9M496.0 388.8l1.5-1.4M499.6 238.6l-3.6 0.6M496.0 353.1l1-0.9M497.7 208.9l-1.5-1.2M496.2 231.2l4.1 0.2M496.4 292.3l-0.2-4.5M496.2 287.8l5.9-0.8M496.3 394.0l0.2 4.9M496.3 394.0l5.5-0.4M496.4 292.3l4.7 1.4M496.6 399.0l-0.1-0.1M497.2 275.2l-0.7-4.5M496.5 270.7l0.8-1.2M496.6 281.2l0.1 0.2M496.6 281.2l0.5-5.9M496.6 399.0l4.6 0.4M496.7 281.4l5.3 1M497.2 222.5l-0.3 0.3M497.0 216.6l0.2 5.9M497.0 216.6l4.3-1.1M497.0 352.2l4 0.2M497.0 352.2l0.1-4.1M497.1 348.1l3.4-1.4M497.1 275.3l0.1-0.1M497.2 453.2l1 1.2M497.8 448.9l-0.6 4.3M503.1 275.3l-5.9-0.1M497.2 222.5l3.5 0.6M504.0 270.3l-6.7-0.8M497.3 264.7l0 4.8M497.3 264.7l1.2-0.8M497.5 361.8l1 1.8M497.5 361.8l1.7-3.5M498.7 442.3l-1.2-1M497.5 441.3l1.4-4.9M497.5 387.4l2 0.1M498.4 336.9l-0.8-2.9M497.6 334.0l2.1-4M497.7 208.9l4.4-0.8M497.7 379.7l4.6 0.4M497.7 257.9l0.8 6M498.6 257.0l-0.9 0.9M497.8 448.9l1.7-1.1M498.6 257.0l-0.7-4.9M497.9 252.1l2-1.7M498.1 423.9l1.2 5.2M498.1 423.9l2.5-1.8M498.3 457.2l-0.1-2.8M503.0 453.6l-4.8 0.8M498.3 328.4l1.4 1.6M498.5 322.7l-0.2 5.7M499.9 250.4l-1.6-5.2M498.3 245.2l2.4-0.7M498.4 336.9l2.3 1.6M498.5 322.7l-0.1-0.1M500.0 316.4l-1.6 6.2M504.6 323.5l-6.1-0.8M498.5 363.6l2.8 0.9M498.9 436.4l-0.4-0.8M498.5 435.6l2.4-5.4M500.1 263.9l-1.6 0M498.6 257.0l2 0M498.7 442.3l0.8 5.5M498.7 442.3l5.6-0.5M498.8 372.1l0 0M498.8 372.1l3.3-5.7M501.9 373.5l-3.1-1.4M498.9 436.4l5.2 0.7M498.9 477.6l1.2-1.3M499.0 412.2l0.1 5.4M500.7 411.3l-1.7 0.9M499.1 417.6l2 1.8M502.0 357.7l-2.8 0.6M500.1 476.3l-0.8-2.4M499.3 429.1l1.6 1.1M499.5 311.4l0 4.5M499.5 311.4l0.6-0.8M499.5 315.9l0.5 0.5M502.1 389.5l-2.6-2M499.5 387.5l3.4-4.6M503.6 448.6l-4.1-0.8M499.6 184.6l0.7-0.2M503.2 329.9l-3.5 0.1M501.6 250.6l-1.7-0.2M500.0 198.5l1.2 1.4M500.0 198.5l4.9-5.6M505.2 316.9l-5.2-0.5M500.1 310.6l6 0.7M500.1 310.6l0-5.4M500.1 476.3l1.1 0.3M500.1 263.9l3.5 1.4M503.0 259.1l-2.9 4.8M500.1 305.2l0.1-0.1M500.2 305.1l5.9 0.9M501.0 299.8l-0.8 5.3M500.3 184.4l0 0M501.2 176.9l-0.9 7.5M500.3 184.4l4.6 8.5M510.1 184.2l-9.8 0.2M500.5 299.0l0.5 0.8M500.5 299.0l0.6-5.3M502.9 348.4l-2.4-1.7M500.5 341.8l0 4.9M500.8 341.5l-0.3 0.3M504.8 426.0l-4.2-3.9M500.6 422.1l0.5-2.7M503.0 259.1l-2.4-2.1M500.6 257.0l2.8-2.7M505.9 413.0l-5.2-1.7M501.6 405.9l-0.9 5.4M500.7 338.5l0.1 3M500.7 338.5l1.7-0.9M500.8 341.5l6 2.7M500.9 430.2l3.2-0.6M503.2 354.8l-2.2-2.4M501.0 352.4l1.9-4M501.0 299.8l5.7-0.1M506.0 417.6l-4.9 1.8M501.1 293.7l0 0M501.1 293.7l5.1 0.1M501.1 293.7l1.2-6.4M502.5 176.0l-1.3 0.9M501.6 405.9l-0.4-6.5M501.2 399.4l1.1-0.6M501.3 364.5l0.8 1.9M504.4 361.0l-3.1 3.5M501.6 250.6l1.8 3.7M502.7 250.0l-1.1 0.6M501.6 405.9l0 0M501.6 405.9l5-0.1M501.8 393.6l0.5 5.2M502.4 392.6l-0.6 1M504.2 377.4l-2.3-3.9M501.9 373.5l3.9-3.1M502.2 282.8l-0.2-0.4M502.0 282.4l1.8-3.7M502.0 357.7l2.4 3.3M502.0 357.7l1.2-2.9M502.1 287.0l0.2 0.3M502.2 282.8l-0.1 4.2M502.1 208.1l0.9 1M502.1 208.1l0.7-6.1M502.1 366.4l2.8 1.1M502.4 392.6l-0.3-3.1M502.1 389.5l5.5-1.4M502.2 282.8l6 1.2M507.2 288.5l-4.9-1.2M506.5 399.0l-4.2-0.2M502.3 380.1l0.6 2.8M504.2 377.4l-1.9 2.7M502.4 392.6l5.1 1.4M508.7 338.6l-6.3-1M504.3 332.5l-1.9 5.1M506.8 347.6l-3.9 0.8M506.9 384.6l-4-1.7M504.0 455.3l-1-1.7M503.0 453.6l1.3-4.3M503.0 201.7l2.7 0M506.1 259.3l-3.1-0.2M503.8 278.7l-0.7-3.4M503.4 275.0l-0.3 0.3M503.2 354.8l5.1-1.1M503.2 329.9l1.1 2.6M504.8 328.1l-1.6 1.8M504.0 270.3l-0.6 4.7M509.4 275.0l-6 0M503.4 254.3l1.7 0.4M504.3 449.3l-0.7-0.7M503.6 448.6l1.3-6.2M503.6 265.3l0.5 4.8M506.1 263.7l-2.5 1.6M503.8 278.7l5.4 1.5M504.1 270.1l-0.1 0.2M504.1 429.6l0.6 0.6M504.1 429.6l0.7-3.6M510.0 269.9l-5.9 0.2M504.1 437.1l0.2 4.7M504.1 437.1l1.2-1M504.2 377.4l2.3-0.1M508.9 449.7l-4.6-0.4M504.9 442.4l-0.6-0.6M508.7 334.3l-4.4-1.8M504.4 361.0l0.2 0.1M504.6 323.5l0.2 4.6M504.6 323.5l0.3-0.3M504.6 361.1l3.8 3.7M504.6 361.1l5.3-4M510.0 430.7l-5.3-0.5M505.3 436.1l-0.6-5.9M504.8 328.1l4.2 0.6M506.7 424.7l-1.9 1.3M506.3 193.0l-1.4-0.1M504.9 323.2l0.3-6.3M504.9 323.2l6.1-0.2M504.9 442.4l4.9 0.1M504.9 367.5l0.9 2.9M504.9 367.5l3.5-2.7M505.5 316.7l-0.3 0.2M510.4 436.9l-5.1-0.8M509.9 317.6l-4.4-0.9M506.4 311.7l-0.9 5M505.8 370.4l3.5 1.3M505.9 413.0l0.4 4.3M506.6 412.3l-0.7 0.7M506.0 417.6l0.7 7.1M506.3 417.3l-0.3 0.3M506.4 311.7l-0.3-0.4M506.1 311.3l0-5.3M506.1 263.7l4.1 1.7M506.4 259.7l-0.3 4M506.4 259.7l-0.3-0.4M506.1 259.3l0-2.5M506.1 306.0l0.7-0.5M506.9 294.7l-0.7-0.9M507.6 289.4l-1.4 4.4M511.5 418.6l-5.2-1.3M506.4 311.7l4.3-0.2M506.4 259.7l4.1-0.5M508.8 402.0l-2.3-3M506.5 399.0l1.5-4.1M506.5 377.3l3.9 3.3M506.5 377.3l3-4.6M506.6 412.3l0-6.5M506.6 405.8l2.1-1.7M506.6 412.3l6.6-1.3M506.7 299.7l0.5 0.5M506.9 294.7l-0.2 5M511.1 424.6l-4.4 0.1M510.7 306.0l-3.9-0.5M507.2 300.2l-0.4 5.3M509.0 351.4l-2.2-3.8M507.3 345.6l-0.5 2M506.8 344.2l0.5 1.4M508.8 338.9l-2 5.3M506.9 294.7l5.2 0.3M507.6 388.1l-0.7-3.5M506.9 384.6l3.5-3.7M511.3 300.0l-4.1 0.2M507.2 288.5l0.4 0.9M507.2 288.5l1.4-3.6M507.3 345.6l6.2-1.1M508.0 394.9l-0.5-0.9M507.8 388.3l-0.3 5.7M507.8 388.3l-0.2-0.2M507.6 289.4l4.3 0.7M507.8 388.3l5.3 0.2M512.2 394.4l-4.2 0.5M508.2 284.0l0.4 0.9M509.2 280.2l-1 3.8M509.9 357.1l-1.6-3.4M508.3 353.7l0.7-2.3M508.4 364.8l1 0.1M508.6 284.9l4.9 0.5M511.1 175.7l-2.5-1.7M508.7 338.6l0.1 0.3M509.2 335.1l-0.5 3.5M508.7 404.1l2.9 2.1M508.8 402.0l-0.1 2.1M509.2 335.1l-0.5-0.8M508.7 334.3l1.2-4.2M516.0 398.4l-7.2 3.6M508.8 338.9l4 1.1M508.9 449.7l2.8 2.7M508.9 449.7l1.4-6.6M514.4 350.0l-5.4 1.4M509.0 328.7l0.9 1.4M511.9 324.5l-2.9 4.2M509.2 280.2l0.7-0.5M514.1 334.0l-4.9 1.1M509.5 372.7l-0.2-1M509.3 371.7l1.7-2.8M511.0 368.9l-1.6-4M511.0 363.2l-1.6 1.7M509.4 275.0l0.5 4.7M509.4 275.0l0.1-0.2M509.5 274.8l4.8 0.4M510.1 269.9l-0.6 4.9M509.5 372.7l3.5 2M510.3 443.1l-0.5-0.6M509.8 442.5l0.6-5.6M509.9 279.7l3.2 0.4M513.8 330.7l-3.9-0.6M510.2 357.3l-0.3-0.2M509.9 317.6l1.7 2.4M509.9 317.6l2.3-3.5M510.0 430.7l2.9 4.2M512.2 425.7l-2.2 5M510.0 269.9l0.1 0M510.0 269.9l0.2-4.5M510.1 184.2l2.5 2.8M510.1 184.2l1-8.5M510.1 269.9l4.3 0.8M510.2 357.3l0.8 5.9M516.7 357.2l-6.5 0.1M510.2 265.4l0.9-0.6M510.3 443.1l7 0.8M510.4 380.9l3.4 4.3M510.4 380.9l0-0.3M510.4 380.6l2.2-1.6M512.9 434.9l-2.5 2M511.6 260.4l-1.1-1.2M510.9 257.9l-0.4 1.3M510.7 311.5l1.5 2.6M510.7 311.5l1.2-2M511.9 309.5l-1.2-3.5M510.7 306.0l1.7-1.5M511.0 323.0l0.9 1.5M511.0 323.0l0.6-3M514.1 368.8l-3.1 0.1M515.1 363.5l-4.1-0.3M517.5 175.4l-6.4 0.3M511.1 424.6l1.1 1.1M511.5 418.6l-0.4 6M511.1 264.8l4.1 0.2M511.1 264.8l0.5-4.4M511.3 300.0l1.1 4.5M511.3 300.0l0.8-0.7M511.7 452.4l-0.3 1M511.5 418.6l4-2.1M511.6 406.2l1.6 4.8M511.6 406.2l7.2-3.1M515.6 260.2l-4 0.2M511.6 320.0l4.8-1.3M514.2 451.7l-2.5 0.7M515.2 325.9l-3.3-1.4M515.6 309.4l-3.7 0.1M512.1 295.0l-0.2-4.9M513.0 289.4l-1.1 0.7M512.1 299.3l4.5 1M512.4 295.3l-0.3 4M512.1 295.0l0.3 0.3M516.0 398.4l-3.8-4M512.2 394.4l1.3-5.3M512.2 314.1l3.6 0.4M517.1 426.3l-4.9-0.6M516.2 304.7l-3.8-0.2M512.4 295.3l4-0.6M517.4 379.6l-4.8-0.6M512.6 379.0l0.4-4.3M512.8 340.0l1.7 2.7M515.9 335.6l-3.1 4.4M513.2 434.9l-0.3 0M513.0 289.4l3.9 1.5M513.0 289.4l0.5-4M513.0 374.7l3.5-1.5M513.8 280.8l-0.7-0.7M514.6 275.6l-1.5 4.5M513.5 389.1l-0.4-0.6M513.1 388.5l0.7-3.3M517.9 441.6l-4.7-6.7M516.1 432.9l-2.9 2M515.9 412.8l-2.7-1.8M513.5 285.4l0 0M517.7 285.8l-4.2-0.4M513.8 280.8l-0.3 4.6M519.5 390.6l-6-1.5M514.7 349.5l-1.2-5M514.5 342.7l-1 1.8M513.5 256.0l2.6 0.4M518.5 280.6l-4.7 0.2M514.1 334.0l-0.3-3.3M513.8 330.7l2.2-2.6M513.8 385.2l3.2-1.7M514.1 334.0l1.8 1.6M516.5 373.2l-2.4-4.4M514.1 368.8l2.2-2.6M517.9 454.7l-3.7-3M514.2 451.7l4.1-5.5M514.6 275.6l-0.3-0.4M514.3 275.2l0.4-4.2M516.7 357.2l-2.3-7.2M514.4 350.0l0.3-0.5M514.7 271.0l-0.3-0.3M514.4 270.7l1.4-4.7M516.4 342.6l-1.9 0.1M518.7 276.3l-4.1-0.7M518.9 271.4l-4.2-0.4M518.8 348.9l-4.1 0.6M514.9 216.6l0.3 3.1M515.1 363.5l1.2 2.7M517.3 359.9l-2.2 3.6M515.2 219.7l0 0.1M515.2 219.7l6.1 0M515.2 265.0l0.6 1M515.2 265.0l1.4-3.3M515.2 325.9l0.8 2.2M515.2 325.9l2.3-2.5M519.2 181.5l-3.9 4.2M516.5 213.0l-1.1 0.7M517.1 418.7l-1.6-2.2M516.2 413.3l-0.7 3.2M515.6 260.2l1 1.5M515.6 260.2l0.5-3.8M515.6 309.4l1.3 1.4M515.6 309.4l0.6-4.7M515.8 314.5l1.7 2.6M515.8 314.5l1.1-3.7M515.8 252.7l0.7 3.4M519.7 267.1l-3.9-1.1M515.9 335.6l0.9 0M516.2 413.3l-0.3-0.5M519.0 403.2l-3.1 9.6M516.0 398.4l0.9 0.2M516.0 328.1l1.4 0.7M516.1 432.9l6.4 1.8M516.1 432.9l1-6.6M516.5 256.1l-0.4 0.3M516.2 225.9l4.5 0.7M516.6 304.4l-0.4 0.3M516.2 413.3l6.4-0.9M520.6 367.3l-4.3-1.1M519.6 345.1l-3.2-2.5M516.4 342.6l2.8-3.7M517.5 323.4l-1.1-4.7M516.4 318.7l1.1-1.6M516.4 294.7l0.4 5.4M516.9 294.4l-0.5 0.3M521.8 214.5l-5.3-1.5M516.6 208.2l-0.1 4.8M516.5 256.1l3.8-0.4M517.4 373.4l-0.9-0.2M516.6 304.4l4.3 0.9M516.6 304.4l0-4.1M516.8 300.1l-0.2 0.2M516.6 261.7l3.9-0.1M517.0 357.4l-0.3-0.2M521.2 299.3l-4.4 0.8M516.8 335.6l2.4 3.3M516.8 335.6l2.2-2.2M516.9 290.9l0 3.5M517.7 290.1l-0.8 0.8M516.9 310.8l3.9-0.7M516.9 294.4l4.7 1.1M516.9 398.6l1.9 4.5M516.9 398.6l2-2.4M522.9 207.6l-6-0.6M517.0 357.4l0.3 2.5M517.0 357.4l3-1.7M520.9 385.9l-3.9-2.4M517.0 383.5l0.4-3.9M518.0 425.8l-0.9 0.5M523.9 419.4l-6.8-0.7M517.1 418.7l0.9 7.1M521.5 362.8l-4.2-2.9M518.3 446.2l-1-2.3M517.3 443.9l0.6-2.3M517.7 379.3l-0.3 0.3M517.7 379.3l-0.3-5.9M520.8 372.0l-3.4 1.4M519.0 333.4l-1.6-4.6M517.4 328.8l3.6-0.8M517.5 317.1l0.8 0M517.5 323.4l4.7 0.1M517.5 175.4l1.7 6.1M520.9 171.8l-3.4 3.6M517.6 249.8l3.6 3.3M521.1 379.4l-3.4-0.1M517.7 290.1l4.9 0.1M517.7 290.1l0-4.3M518.7 285.1l-1 0.7M523.0 437.4l-5.1 4.2M518.0 248.8l1.1-3.2M522.5 426.3l-4.5-0.5M523.3 448.0l-5-1.8M518.3 317.1l4.6 4.1M518.3 317.1l4.7-3.3M518.7 280.8l-0.2-0.2M518.7 276.3l-0.2 4.3M518.6 245.2l0.3 0.1M519.1 275.8l-0.4 0.5M518.7 285.1l4.4 1.4M518.7 280.8l0 4.3M518.7 280.8l4.6 0M518.8 232.9l0.7 0M518.8 348.9l2.1 1.8M518.8 348.9l0.8-3.8M519.0 403.2l-0.2-0.1M519.1 275.8l-0.2-4.4M518.9 271.4l0.6-0.5M519.1 245.6l-0.2-0.3M518.9 245.3l1.1-5.6M518.9 396.2l8.2 0.7M518.9 396.2l0.6-5.6M523.2 404.4l-4.2-1.2M519.0 333.4l2.6-0.1M519.1 245.6l5.5 1.2M519.1 275.8l4.2 0.1M519.6 233.0l-0.5 4.2M523.4 183.4l-4.2-1.9M522.0 339.3l-2.8-0.4M520.0 239.7l-0.7-0.8M519.8 390.4l-0.3 0.2M519.5 270.9l4.7 0.8M519.5 270.9l0.2-3.8M519.6 233.0l-0.1-0.1M519.5 232.9l1.4-5.9M523.3 343.3l-3.7 1.8M526.0 234.6l-6.4-1.6M519.7 267.1l1.3-1M519.8 390.4l7.5 1.3M519.8 390.4l1.1-4.5M519.9 201.1l3.4-0.2M525.4 239.5l-5.4 0.2M520.0 355.7l5.1 1.9M520.9 350.7l-0.9 5M520.3 255.7l0.6 5.5M520.3 255.7l0.6-0.5M520.9 171.8l-0.5-1.8M521.0 266.1l-0.5-4.5M520.9 261.2l-0.4 0.4M521.2 371.1l-0.6-3.8M520.6 367.3l1.4-2M520.9 227.0l-0.2-0.4M520.7 226.6l1.3-5.9M520.8 310.1l2.2 1.9M520.9 305.3l-0.1 4.8M523.5 376.1l-2.7-4.1M520.8 372.0l0.4-0.9M525.8 261.1l-4.9 0.1M523.8 383.9l-2.9 2M520.9 305.3l0.2-0.1M525.9 257.1l-5-1.9M521.2 253.1l-0.3 2.1M522.6 172.1l-1.7-0.3M526.1 228.0l-5.2-1M524.6 349.9l-3.7 0.8M521.0 328.0l2.3 3.1M521.0 328.0l1.6-3.5M524.5 266.8l-3.5-0.7M526.3 306.5l-5.2-1.3M522.5 301.5l-1.4 3.7M523.8 383.9l-2.7-4.5M523.5 376.1l-2.4 3.3M521.2 299.3l1.3 2.2M522.0 296.0l-0.8 3.3M521.2 371.1l7.1-1M524.3 250.4l-3.1 2.7M522.0 220.7l-0.7-1M521.9 214.6l-0.6 5.1M522.0 365.3l-0.5-2.5M525.4 358.4l-3.9 4.4M522.0 296.0l-0.4-0.5M522.6 290.2l-1 5.3M521.6 333.3l2 4M523.3 331.1l-1.7 2.2M521.9 214.6l-0.1-0.1M523.5 208.4l-1.7 6.1M528.5 215.2l-6.6-0.6M527.1 296.2l-5.1-0.2M527.5 221.0l-5.5-0.3M527.6 365.5l-5.6-0.2M523.3 343.3l-1.3-4M522.0 339.3l1.6-2M523.9 448.9l-1.7 4.6M522.6 324.5l-0.4-1M522.2 323.5l0.7-2.3M522.5 301.5l4.4-0.1M522.5 426.3l0.4 7.8M522.5 426.3l0.9-0.5M523.0 437.4l-0.5-2.7M522.9 434.1l-0.4 0.6M528.8 179.3l-6.2-7.2M528.5 169.7l-5.9 2.4M522.6 412.4l0.3 0.2M523.7 405.0l-1.1 7.4M522.6 324.5l4.3 1.9M522.6 290.2l0.3-0.2M522.9 290.0l4.3 1.4M523.1 286.5l-0.2 3.5M524.6 320.0l-1.7 1.2M522.9 412.6l7.1 0.4M523.9 419.4l-1-6.8M530.5 431.5l-7.6 2.6M522.9 207.6l0.6 0.8M522.9 207.6l1.3-5.5M523.0 437.4l4.5 3M523.7 314.6l-0.7-0.8M523.0 312.0l0 1.8M526.1 310.1l-3.1 1.9M523.1 286.5l0.5-0.5M523.2 404.4l0.5 0.6M523.2 404.4l3.9-7.4M523.6 286.0l-0.3-5.2M523.3 280.8l0.4-0.4M523.9 448.9l-0.6-0.9M523.3 448.0l4.3-7.5M523.3 200.9l0.9 1.2M523.7 196.9l-0.4 4M523.3 275.9l0.4 0.6M523.3 275.9l1.1-4M524.9 344.1l-1.6-0.8M523.3 331.1l3-0.4M530.3 426.9l-6.9-1.1M523.4 425.8l0.8-6.1M523.5 376.1l1.1 0.2M523.5 208.4l5.3 0.9M528.0 285.5l-4.4 0.5M523.6 337.3l3.2-0.5M523.7 280.4l4.1 0.5M523.7 276.5l0 3.9M523.7 405.0l6.2 1.3M523.7 276.5l4.6 0.2M523.7 314.6l5 1.1M523.7 314.6l0.9 5.4M527.5 384.0l-3.7-0.1M529.5 450.9l-5.6-2M523.9 419.4l0.3 0.3M529.2 202.3l-5-0.2M528.5 181.1l-4.3 2.2M524.4 271.9l-0.2-0.2M524.2 271.7l0.3-4.9M524.2 419.7l6.5-1.4M524.3 250.4l2.8 2.3M524.3 250.4l0.3-3.6M528.2 272.2l-3.8-0.3M525.0 266.5l-0.5 0.3M524.6 320.0l2.8 0.1M524.6 246.8l0.5-0.4M525.1 350.2l-0.5-0.3M524.9 344.1l-0.3 5.8M527.9 380.6l-3.3-4.3M524.6 376.3l4.4-3.1M525.6 344.0l-0.7 0.1M525.0 195.5l5.2 0.6M529.6 267.3l-4.6-0.8M525.8 261.1l-0.8 5.4M525.1 357.6l0.3 0.8M526.7 354.4l-1.6 3.2M531.1 246.8l-6-0.4M525.7 239.9l-0.6 6.5M525.1 350.2l1.6 4.2M531.1 348.8l-6 1.4M525.4 239.5l0.3 0.4M526.0 234.6l-0.6 4.9M525.4 358.4l1.4 1M531.3 346.6l-5.7-2.6M525.6 344.0l4-5.1M532.6 240.9l-6.9-1M525.8 261.0l0 0.1M525.8 261.0l4.3 0.9M525.9 257.1l-0.1 3.9M526.7 256.3l-0.8 0.8M527.3 233.5l-1.3 1.1M526.1 310.1l2.3 0.9M526.3 306.5l-0.2 3.6M526.1 228.0l1.2 5.5M526.1 228.0l1.7-1.4M526.3 330.7l0.4 0.4M526.9 326.4l-0.6 4.3M526.3 306.5l0.5-0.5M530.3 353.8l-3.6 0.6M526.7 256.3l3.9 0.4M527.1 252.7l-0.4 3.6M530.5 331.5l-3.8-0.4M526.7 331.1l0.1 5.7M527.6 365.5l-0.8-6.1M531.2 359.0l-4.4 0.4M526.8 336.8l2.4 1.3M526.8 306.0l4.7 0.3M526.9 301.4l-0.1 4.6M527.3 301.0l-0.4 0.4M526.9 326.4l2.6-1.6M527.1 252.7l3.8-1M527.1 397.0l0-0.1M527.3 391.7l-0.2 5.2M527.1 296.2l0.4 0.4M527.2 291.4l-0.1 4.8M532.5 399.5l-5.4-2.5M527.7 291.1l-0.5 0.3M527.3 301.0l3.9 1.1M527.5 296.6l-0.2 4.4M532.3 233.8l-5-0.3M528.3 390.4l-1 1.3M528.9 321.5l-1.5-1.4M527.4 320.1l1.3-4.4M527.6 384.2l-0.1-0.2M527.5 384.0l0.4-3.4M527.5 221.0l0.8 0.9M527.5 221.0l1-5.8M527.6 440.5l-0.1-0.1M532.2 434.0l-4.7 6.4M531.7 296.2l-4.2 0.4M533.1 444.0l-5.5-3.5M528.9 366.5l-1.3-1M527.6 384.2l0.7 6.2M527.6 384.2l8.1-0.6M531.4 291.2l-3.7-0.1M528.4 286.0l-0.7 5.1M527.8 226.6l6 1.6M528.3 221.9l-0.5 4.7M528.6 282.1l-0.8-1.2M528.9 277.4l-1.1 3.5M527.9 380.6l4.5-4.6M528.4 286.0l-0.4-0.5M528.0 285.5l0.6-3.4M528.3 276.7l-0.1-4.5M528.2 272.2l1.3-0.8M528.3 370.1l0.7 3.1M528.3 370.1l0.9-2.3M528.3 276.7l0.6 0.7M533.7 221.6l-5.4 0.3M528.3 390.4l5.2 0.5M532.6 287.0l-4.2-1M528.4 311.0l1.5 4M528.4 311.0l3.7-2.3M528.5 181.1l1.5 1.5M528.5 181.1l0.3-1.8M529.1 214.7l-0.6 0.5M533.5 281.6l-4.9 0.5M528.7 315.7l1.2-0.7M534.2 174.9l-5.4 4.4M530.5 189.5l-1.7 0.1M528.8 209.3l0.3 5.4M529.5 208.8l-0.7 0.5M529.2 367.8l-0.3-1.3M528.9 366.5l3.6-3.6M528.9 277.4l4.5-0.5M528.9 321.5l0.6 3.3M533.4 318.8l-4.5 2.7M532.4 376.0l-3.4-2.8M534.7 215.9l-5.6-1.2M529.5 202.7l-0.3-0.4M529.2 202.3l1.6-5.7M529.6 338.9l-0.4-0.8M531.3 334.9l-2.1 3.2M529.2 367.8l4.5 0.9M529.5 202.7l0 6.1M535.5 208.7l-6 0.1M529.5 450.9l0.6 3.3M529.5 450.9l4.2-3.9M533.7 273.1l-4.2-1.7M529.5 271.4l0.1-4.1M530.6 325.2l-1.1-0.4M535.5 203.4l-6-0.7M532.1 340.4l-2.5-1.5M530.1 266.9l-0.5 0.4M530.0 315.0l-0.1 0M529.9 406.3l0 0M529.9 406.3l2.6-6.8M536.9 406.8l-7-0.5M529.9 406.3l0.6 6M533.4 318.8l-3.4-3.8M530.0 315.0l4.7-2.9M530.0 413.0l0.7 5.3M530.5 412.3l-0.5 0.7M530.1 261.9l0 5M530.1 261.9l0.1-0.1M534.3 267.0l-4.2-0.1M530.6 256.7l-0.4 5.1M530.2 261.8l4.3-0.3M530.8 196.6l-0.6-0.5M530.5 189.5l-0.3 6.6M530.3 353.8l2.4 3.4M531.8 350.1l-1.5 3.7M530.5 431.5l-0.2-4.6M530.3 426.9l0.2-0.1M531.5 419.2l-1 7.6M536.9 426.6l-6.4 0.2M538.1 411.5l-7.6 0.8M530.6 189.4l-0.1 0.1M532.2 434.0l-1.7-2.5M530.5 331.5l0.8 3.4M532.3 330.1l-1.8 1.4M530.6 325.2l1.7 4.9M533.9 324.3l-3.3 0.9M537.0 190.9l-6.4-1.5M530.6 189.4l0.3-2.9M530.6 256.7l1.7-1.1M530.7 418.3l0.8 0.9M535.9 196.8l-5.1-0.2M530.9 251.7l1.6 1.8M531.1 246.8l-0.2 4.9M531.1 348.8l0.7 1.3M531.3 346.6l-0.2 2.2M531.1 246.8l0.3-0.2M531.2 302.1l0.7 3.4M532.8 300.5l-1.6 1.6M532.5 362.9l-1.3-3.9M531.2 359.0l1.5-1.8M531.3 346.6l1.1-1.3M535.5 334.8l-4.2 0.1M532.5 292.6l-1.1-1.4M531.4 291.2l1.2-4.2M537.4 248.5l-6-1.9M532.8 241.1l-1.4 5.5M538.4 419.2l-6.9 0M534.2 174.9l-2.7-3.7M531.5 306.3l0.6 2.4M531.5 306.3l0.4-0.8M531.7 296.2l0.5 0.5M532.5 292.6l-0.8 3.6M536.7 351.8l-4.9-1.7M531.9 305.5l4.1-1M532.4 345.3l-0.3-4.9M534.6 339.5l-2.5 0.9M532.1 308.7l2.4 1.9M536.0 435.1l-3.8-1.1M532.2 296.7l0.6 3.8M532.2 296.7l4.9-0.2M532.3 233.8l0.3 7.1M532.3 233.8l0 0M535.3 258.3l-3-2.7M532.3 255.6l0.2-2.1M532.3 233.8l6.8 1M532.3 233.8l1.5-5.6M535.5 330.4l-3.2-0.3M532.9 376.0l-0.5 0M532.4 345.3l5.2 0.2M536.7 363.5l-4.2-0.6M532.5 292.6l4.2-0.8M536.6 252.1l-4.1 1.4M532.8 399.4l-0.3 0.1M532.6 287.0l0.3-0.2M532.8 241.1l-0.2-0.2M535.6 356.7l-2.9 0.5M532.8 300.5l3.9 0.8M532.8 241.1l4.7 0M538.3 400.6l-5.5-1.2M532.8 399.4l1.6-6.7M535.7 383.6l-2.8-7.6M532.9 376.0l2.5-1.6M532.9 286.8l3.6 1.2M533.8 281.9l-0.9 4.9M533.7 447.0l-0.6-3M533.1 444.0l3.9-4.8M533.5 281.6l-0.1-4.7M533.5 276.8l-0.1 0.1M534.6 319.0l-1.2-0.2M533.5 276.8l4.9 0.8M533.5 276.8l0.2-3.7M533.8 281.9l-0.3-0.3M534.4 392.7l-0.9-1.8M536.9 386.8l-3.4 4.1M533.7 368.7l2.3 4.4M533.7 368.7l3.1-3M534.5 272.4l-0.8 0.7M533.7 221.6l0.6 0.8M534.7 215.9l-1 5.7M533.7 447.0l5.2 2M533.8 281.9l4.5 0.6M533.8 228.2l0 0M533.8 228.2l6.1 0.5M534.3 222.4l-0.5 5.8M533.9 324.3l2.8 2.6M535.7 320.1l-1.8 4.2M536.1 175.0l-1.9-0.1M534.8 267.7l-0.5-0.7M535.7 262.9l-1.4 4.1M534.3 222.4l6 0.5M534.4 392.7l6.9 1.9M538.9 272.4l-4.4 0M534.5 272.4l0.3-4.7M534.5 310.6l0.2 1.5M538.2 307.8l-3.7 2.8M535.7 262.9l-1.2-1.4M534.5 261.5l0.8-3.2M534.6 319.0l1.1 1.1M534.6 319.0l1.4-5.4M538.6 342.8l-4-3.3M536.6 336.3l-2 3.2M536.0 313.6l-1.3-1.5M534.9 215.8l-0.2 0.1M540.4 268.2l-5.6-0.5M534.9 215.8l5.9 0.9M534.9 215.8l0.9-6.8M540.1 256.2l-4.8 2.1M535.4 374.4l4.3 3.2M535.4 374.4l0.6-1.3M535.5 330.4l0 4.4M535.5 330.4l0.9-0.7M536.6 336.3l-1.1-1.5M535.8 209.0l-0.3-0.3M535.5 208.7l0-5.3M536.0 202.8l-0.5 0.6M538.0 358.9l-2.4-2.2M536.7 351.8l-1.1 4.9M535.7 320.1l1.6 0.1M539.9 263.3l-4.2-0.4M535.7 383.6l0.7 0.4M541.6 209.3l-5.8-0.3M535.9 196.8l0.1 6M536.3 196.4l-0.4 0.4M536.0 373.1l3.6-2M537.0 439.2l-1-4.1M536.0 435.1l4.7-3.8M539.6 314.2l-3.6-0.6M541.9 203.1l-5.9-0.3M536.0 304.5l2.2 3.3M536.0 304.5l0.9-2.9M536.1 175.0l2.2 3.3M538.3 172.3l-2.2 2.7M536.3 196.4l6.1 1.1M536.3 196.4l0.7-5.5M539.8 330.9l-3.4-1.2M536.4 329.7l0.3-2.8M536.4 384.0l0.5 2.8M536.4 384.0l1.6-1.1M536.7 291.8l-0.2-3.8M538.1 286.8l-1.6 1.2M537.1 336.3l-0.5 0M536.6 252.1l3.5 4.1M537.4 248.5l-0.8 3.6M536.8 365.7l-0.1-2.2M538.2 361.6l-1.5 1.9M536.7 291.8l0.7 0.6M536.7 301.3l0.2 0.3M536.7 301.3l0.9-4.2M540.4 324.5l-3.7 2.4M536.9 351.7l-0.2 0.1M536.8 365.7l3.1 3M538.5 410.4l-1.6-3.6M536.9 406.8l1.4-6.2M540.8 429.9l-3.9-3.3M538.4 419.2l-1.5 7.4M536.9 301.6l4.4 0.8M536.9 386.8l5 3.6M536.9 351.7l2.8 0.1M536.9 351.7l0.7-6.2M537.0 190.9l0 0M537.0 439.2l6 2.5M537.3 187.4l-0.3 3.5M543.2 190.8l-6.2 0.1M540.6 339.5l-3.5-3.2M537.1 336.3l2.8-1.9M537.1 296.5l0.5 0.6M537.4 292.4l-0.3 4.1M537.3 320.2l3.1 4.3M539.9 318.2l-2.6 2M541.4 292.1l-4 0.3M538.6 247.7l-1.2 0.8M537.7 241.3l-0.2-0.2M539.4 235.3l-1.9 5.8M542.0 297.3l-4.4-0.2M538.4 345.0l-0.8 0.5M544.3 242.1l-6.6-0.8M538.6 247.7l-0.9-6.4M538.3 178.3l-0.5 2.4M538.2 361.6l-0.2-2.7M542.6 356.2l-4.6 2.7M538.0 382.9l1.7-5.3M538.0 382.9l6.2 0M538.1 411.5l1.8 4.8M538.5 410.4l-0.4 1.1M542.3 288.1l-4.2-1.3M538.3 282.5l-0.2 4.3M538.2 307.8l1.1 0M542.7 363.2l-4.5-1.6M538.3 400.6l0 0M538.3 400.6l3-5.8M544.6 404.1l-6.3-3.5M543.8 178.7l-5.5-0.4M538.8 282.1l-0.5 0.4M538.4 277.6l0.8 1.1M539.4 273.1l-1 4.5M538.4 345.0l4.6 1.9M538.6 342.8l-0.2 2.2M539.3 418.7l-0.9 0.5M538.5 410.4l5.5-2.6M538.6 453.2l0.7-3.5M538.6 342.8l2.1-2.2M538.6 247.7l4.7 0.6M538.8 282.1l4.3 1M538.8 282.1l0.4-3.4M539.3 449.7l-0.4-0.7M538.9 449.0l4.1-7.3M538.9 272.4l0.5 0.7M540.4 268.2l-1.5 4.2M539.1 234.8l0.3 0.5M539.1 234.8l0.8-6.1M543.5 277.5l-4.3 1.2M542.7 421.2l-3.4-2.5M539.3 418.7l0.6-2.4M539.3 449.7l7.2 1.5M541.5 309.7l-2.2-1.9M539.3 307.8l2.4-4.8M539.4 273.1l4.5 1.5M544.9 236.2l-5.5-0.9M543.2 373.5l-3.6-2.4M539.9 368.7l-0.3 2.4M539.6 314.2l0.9 1.3M539.6 314.2l1.9-4.5M541.9 377.0l-2.2 0.6M539.7 351.8l3 3.9M539.7 351.8l3.9-3.5M539.9 334.4l-0.1-3.5M542.7 329.6l-2.9 1.3M539.9 318.2l3.4 2.1M540.5 315.5l-0.6 2.7M545.9 414.2l-6 2.1M542.4 367.1l-2.5 1.6M539.9 263.3l0.6 4.8M540.8 262.4l-0.9 0.9M539.9 228.7l0.3-0.2M539.9 334.4l4 1.4M540.2 256.3l-0.1-0.1M545.9 229.4l-5.7-0.9M540.3 222.9l-0.1 5.6M540.8 262.4l-0.6-6.1M540.2 256.3l0.6-0.3M540.8 222.3l-0.5 0.6M540.4 324.5l0.5 0.1M540.5 268.1l-0.1 0.1M545.0 315.5l-4.5 0M540.5 268.1l4.8 0.8M540.7 340.6l-0.1-1.1M540.6 339.5l3.3-3.7M540.7 340.6l3.7 1.5M544.6 434.8l-3.9-3.5M540.8 429.9l-0.1 1.4M543.2 427.6l-2.4 2.3M540.8 222.3l5.7 0.7M540.8 216.7l0 5.6M540.8 216.7l0.6-0.4M546.6 257.9l-5.8-1.9M540.8 256.0l3-5.4M540.8 262.4l5.2 0.2M541.1 324.8l-0.2-0.2M543.3 320.3l-2.4 4.3M541.1 324.8l1.6 4.8M547.3 324.5l-6.2 0.3M541.7 303.0l-0.4-0.6M542.0 297.3l-0.7 5.1M541.3 394.8l0-0.2M541.9 390.4l-0.6 4.2M541.3 394.8l4.9 1.7M541.4 216.3l5.5 0.4M541.8 209.7l-0.4 6.6M541.4 292.1l1.1 1.4M542.5 288.4l-1.1 3.7M541.5 309.7l3.2-0.1M541.6 209.3l0.2 0.4M541.6 209.3l1.3-5M544.9 303.7l-3.2-0.7M541.8 209.7l6 0.9M541.9 377.0l4.2 4M543.2 373.5l-1.3 3.5M541.9 203.1l1 1.2M542.4 197.5l-0.5 5.6M541.9 390.4l2.5-1.6M542.2 297.3l-0.2 0M547.4 298.6l-5.2-1.3M542.2 297.3l0.3-3.8M542.5 288.4l-0.2-0.3M543.7 284.0l-1.4 4.1M543.7 196.7l-1.3 0.8M542.4 367.1l5 2.5M542.7 363.2l-0.3 3.9M542.5 288.4l5.4 1.1M547.9 292.8l-5.4 0.7M542.6 356.2l3.6 4.1M542.7 355.7l-0.1 0.5M544.5 330.3l-1.8-0.7M542.7 355.7l2.7-2.3M542.7 363.2l3.6-1.9M542.7 421.2l0.5 6.4M542.7 421.2l5.8-1M542.9 204.3l5.2-0.6M543.0 346.9l0.6 1.4M544.8 343.3l-1.8 3.6M544.1 441.4l-1.1 0.3M543.7 284.0l-0.6-0.9M543.1 283.1l1.3-4.3M543.2 373.5l3.5-1.2M544.0 191.7l-0.8-0.9M543.3 189.4l-0.1 1.4M543.2 427.6l5.8-0.4M543.3 248.3l0.4 0.5M543.3 248.3l1-6.2M544.8 319.9l-1.5 0.4M544.4 278.8l-0.9-1.3M543.9 274.6l-0.4 2.9M544.4 348.8l-0.8-0.5M543.8 250.6l-0.1-1.8M543.7 248.8l6.5-0.9M543.7 196.7l4.7 1.6M544.0 191.7l-0.3 5M543.7 284.0l4.2 0.2M543.8 250.6l3.8 3.3M543.9 180.8l-0.1-2.1M544.9 177.9l-1.1 0.8M545.7 273.0l-1.8 1.6M544.2 335.7l-0.3 0.1M547.0 191.3l-3 0.4M547.4 411.7l-3.4-3.9M544.0 407.8l0.6-3.7M549.1 443.5l-5-2.1M544.6 434.8l-0.5 6.6M544.4 388.8l-0.2-5.9M544.2 382.9l1.9-1.9M545.8 339.7l-1.6-4M545.0 334.9l-0.8 0.8M544.3 242.1l0.3-0.2M545.4 353.4l-1-4.6M544.4 348.8l4.7-0.6M544.4 342.1l0.4 1.2M545.8 339.7l-1.4 2.4M547.7 389.4l-3.3-0.6M549.3 279.7l-4.9-0.9M544.5 330.3l0.6 1M544.5 330.3l3.1-4.4M550.7 243.1l-6.1-1.2M544.9 236.2l-0.3 5.7M544.6 434.8l4.3-1M544.6 404.1l2-1.2M545.4 311.0l-0.7-1.4M544.7 309.6l0.1 0M544.8 309.6l0.1-5.9M549.4 307.4l-4.6 2.2M547.3 322.8l-2.5-2.9M546.0 316.7l-1.2 3.2M544.8 343.3l3.5 0.6M544.9 303.7l2.4-1.4M546.0 235.4l-1.1 0.8M545.0 334.9l5.6 1.1M545.0 334.9l0.1-3.6M545.0 315.5l1 1.2M545.4 311.0l-0.4 4.5M551.2 331.0l-6.1 0.3M545.3 268.9l0.4 4.1M546.5 267.7l-1.2 1.2M545.4 353.4l2.7 0.5M550.5 312.4l-5.1-1.4M549.7 274.7l-4-1.7M545.8 339.7l4.1 0.1M546.0 235.4l-0.1-6M546.1 229.2l-0.2 0.2M545.9 414.2l2.6 6M545.9 414.2l1.5-2.5M546.0 235.4l4.9 0.9M546.0 316.7l1.7 0M546.5 267.7l-0.5-5.1M546.0 262.6l0.1-0.1M546.2 381.0l-0.1 0M546.7 223.3l-0.6 5.9M552.1 229.2l-6 0M550.9 262.6l-4.8-0.1M546.1 262.5l0.5-4.6M551.3 385.8l-5.1-4.8M546.2 381.0l2.4-2.8M546.2 396.5l0.4 6.4M550.2 394.4l-4 2.1M546.3 361.3l-0.1-1M546.2 360.3l2.7-3.9M546.3 361.3l0.4 0.3M546.3 454.7l0.2-3.5M546.7 223.3l-0.2-0.3M546.8 217.5l-0.3 5.5M549.2 267.9l-2.7-0.2M546.5 451.2l2.7-2.3M546.6 402.9l3 0.2M546.6 257.9l1-0.7M546.7 361.6l2 6.6M551.6 361.4l-4.9 0.2M552.3 223.1l-5.6 0.2M546.7 372.3l1.9 2.5M547.4 369.6l-0.7 2.7M546.9 216.7l0 0.2M546.9 216.7l0 0M547.8 210.7l-0.7 5.2M547.3 324.5l0-1.7M547.3 322.8l3.2-3.1M547.3 302.3l1.6 1M547.4 298.6l-0.1 3.7M547.6 325.1l-0.3-0.6M548.4 297.4l-1 1.2M547.4 369.6l1.3-1.4M547.4 411.7l4.1-0.5M547.6 257.2l4.4 0.6M547.6 253.9l0 3.3M547.6 253.9l4.5-3.2M547.6 325.9l3.9 4.2M547.6 325.1l0 0.8M547.6 325.1l5-0.8M547.7 389.4l2.5 5M551.3 385.8l-3.6 3.6M547.7 316.7l2.8 3M550.4 314.1l-2.7 2.6M547.8 210.7l0-0.1M547.8 210.6l0.7-6.5M549.6 210.8l-1.8-0.1M547.9 292.8l0.5 4.6M548.2 292.2l-0.3 0.6M547.9 284.2l1.4 3M549.5 280.1l-1.6 4.1M548.2 292.2l-0.3-2.7M549.3 287.2l-1.4 2.3M548.0 216.8l5.1 0.8M548.1 353.9l0.8 2.5M550.5 351.1l-2.4 2.8M548.1 203.7l0.4 0.4M548.4 198.3l-0.3 5.4M554.7 292.9l-6.5-0.7M548.3 343.9l0.9 4.1M550.4 341.6l-2.1 2.3M553.6 297.7l-5.2-0.3M549.5 197.6l-1.1 0.7M551.3 204.5l-2.8-0.4M548.5 420.2l0.4 0.2M553.7 379.6l-5.1-1.4M548.6 374.8l0 3.4M555.3 373.4l-6.7 1.4M548.7 368.2l1.7-0.2M548.9 433.8l3.3 4.1M548.9 433.8l1.8-4.1M549.4 307.4l-0.5-4.1M553.1 303.0l-4.2 0.3M552.5 356.9l-3.6-0.5M548.9 420.4l1.3 2.5M548.9 420.4l5-5.1M549.0 427.2l1.7 2.5M549.0 427.2l1.2-4.3M549.1 443.5l0.1 5.4M549.1 443.5l1.3-0.9M549.1 348.2l1.4 2.9M549.1 348.2l0.1-0.2M553.5 345.7l-4.3 2.3M549.2 267.9l2.6 2.6M552.1 264.9l-2.9 3M549.2 448.9l5.1 2.7M549.5 280.1l-0.2-0.4M549.3 279.7l1-3.9M549.3 287.2l4.2-0.2M553.1 309.7l-3.7-2.3M554.0 281.7l-4.5-1.6M551.8 198.0l-2.3-0.4M550.1 193.8l-0.6 3.8M551.3 404.7l-1.7-1.6M549.6 403.1l3.1-5.1M549.7 274.7l0.6 1.1M551.8 270.5l-2.1 4.2M549.9 339.8l0.5 1.8M549.9 339.8l1-3M550.2 247.9l1.9 2.2M550.2 247.9l0.5-4.8M550.2 394.4l0.9 0.3M550.2 422.9l7 0.2M555.8 275.7l-5.5 0.1M553.1 342.9l-2.7-1.3M550.4 442.6l7.7 1.5M550.4 442.6l1.8-4.7M555.6 372.3l-5.2-4.3M554.0 364.4l-3.6 3.6M550.4 314.1l3.2 2.8M550.5 312.4l-0.1 1.7M550.5 319.7l1.3 0.1M550.5 351.1l3.4 1.1M550.5 312.4l2.6-2.7M550.6 336.0l0.3 0.8M551.8 332.9l-1.2 3.1M550.7 429.7l4.2 0.3M551.7 242.3l-1 0.8M551.0 236.4l-0.1-0.1M552.8 229.9l-1.9 6.4M552.1 264.9l-1.2-2.3M550.9 262.6l1.9-3.9M556.7 338.4l-5.8-1.6M551.7 242.3l-0.7-5.9M556.9 236.2l-5.9 0.2M551.1 394.7l1.6 3.3M555.0 391.7l-3.9 3M551.2 331.0l0.6 1.9M551.2 331.0l0.3-0.9M551.7 410.8l-0.4-6.1M556.0 403.9l-4.7 0.8M551.3 385.8l2.2-0.2M551.5 411.2l2.4 4.1M551.5 411.2l0.2-0.4M553.6 328.3l-2.1 1.8M551.6 361.4l2.4 3M551.6 361.4l1.5-3.5M556.7 242.7l-5-0.4M558.3 408.0l-6.6 2.8M556.4 333.4l-4.6-0.5M555.7 270.0l-3.9 0.5M551.8 319.8l1.3 3.8M553.4 318.4l-1.6 1.4M552.8 258.7l-0.8-0.9M552.0 257.8l1.2-5.5M552.1 229.2l0.7 0.7M552.1 229.2l0.3-6M552.1 250.1l0 0.6M552.1 250.1l4.7-2.8M553.2 252.3l-1.1-1.6M556.5 265.8l-4.4-0.9M552.2 437.9l4.4-1.9M552.4 223.2l-0.1-0.1M552.3 223.1l0.8-5.5M552.4 223.2l6.9 1.4M553.1 357.9l-0.6-1M553.9 352.2l-1.4 4.7M552.6 324.3l1 4M552.6 324.3l0.5-0.7M557.5 399.6l-4.8-1.6M558.1 230.5l-5.3-0.6M552.8 258.7l4.1 0.9M552.9 457.9l1.5-6.1M553.1 323.6l3.4-0.4M553.1 342.9l0.4 2.8M553.1 342.9l3.8-2.6M553.3 217.4l-0.2 0.2M553.1 357.9l4.4 0.7M553.1 303.0l2.5 2.4M553.7 297.9l-0.6 5.1M553.3 309.7l-0.2 0M553.2 252.3l4.8 1.3M559.1 218.2l-5.8-0.8M553.7 213.7l-0.4 3.7M555.1 311.3l-1.8-1.6M555.6 305.4l-2.3 4.3M553.4 318.4l3.4 1.7M553.6 316.9l-0.2 1.5M553.5 345.7l1.3 0.9M554.8 292.7l-1.3-5.7M554.1 286.5l-0.6 0.5M553.5 385.6l1.5 6.1M553.5 385.6l0.5-0.4M555.5 315.2l-1.9 1.7M553.6 297.7l0.1 0.2M554.7 292.9l-1.1 4.8M555.7 328.4l-2.1-0.1M554.8 382.0l-1.1-2.4M553.7 379.6l2.1-4.8M559.2 299.1l-5.5-1.2M553.9 415.3l2.3 0.8M554.2 352.1l-0.3 0.1M554.0 385.2l6.6 1.5M554.8 382.0l-0.8 3.2M554.0 281.7l0.1 4.8M555.7 280.5l-1.7 1.2M556.2 364.4l-2.2 0M559.8 286.4l-5.7 0.1M557.9 355.0l-3.7-2.9M554.9 351.1l-0.7 1M554.4 451.8l-0.1-0.2M554.3 451.6l4.3-5.4M554.4 451.8l6.2 2.5M554.7 292.9l0.1-0.2M554.8 346.6l0.1 4.5M559.0 345.7l-4.2 0.9M558.6 292.6l-3.8 0.1M554.8 382.0l5.6-1.7M559.4 349.8l-4.5 1.3M554.9 430.0l2.1 4.7M557.7 426.7l-2.8 3.3M555.0 391.7l3.1 0.8M559.0 311.5l-3.9-0.2M555.1 311.3l0.4 3.9M555.3 373.4l0.5 1.4M555.6 372.3l-0.3 1.1M555.5 315.2l2.8 0.9M557.4 305.0l-1.8 0.4M557.7 370.6l-2.1 1.7M560.7 282.1l-5-1.6M555.7 280.5l0.1-4.8M555.7 270.0l2.3 3.7M556.5 265.8l-0.8 4.2M555.7 328.4l1.7 3.8M555.7 328.4l3.3-2.7M559.8 377.3l-4-2.5M558.0 273.7l-2.2 2M558.4 407.7l-2.4-3.8M556.0 403.9l1.6-4M557.2 423.1l-1-7M557.9 415.4l-1.7 0.7M556.2 364.4l1.9 2.9M556.2 364.4l2.4-4.3M556.4 333.4l0.8 4.2M557.4 332.2l-1 1.2M557.3 265.1l-0.8 0.7M559.0 325.5l-2.5-2.3M556.8 320.1l-0.3 3.1M556.6 436.0l3.5 4.7M556.6 436.0l0.4-1.3M556.7 242.7l0.6 0.7M558.1 237.9l-1.4 4.8M556.9 340.3l-0.2-1.9M556.7 338.4l0.5-0.8M558.1 319.3l-1.3 0.8M556.8 460.2l3.6-0.8M559.0 249.3l-2.2-2M557.3 243.4l-0.5 3.9M557.3 265.1l-0.4-5.5M556.9 259.6l1.7-1.5M556.9 340.3l2.5 2.4M558.1 237.9l-1.2-1.7M558.1 230.5l-1.2 5.7M557.0 434.7l7.1-2.5M557.2 423.1l0.2 0.2M561.5 336.2l-4.3 1.4M557.3 243.4l6.4 0.6M557.3 265.1l3.9 0.6M557.4 332.2l2.9-0.4M557.4 423.3l0.3 3.4M557.4 423.3l6.2-2.1M558.1 305.3l-0.7-0.3M557.4 305.0l1.8-5.9M558.6 360.1l-1.1-1.5M557.5 358.6l0.4-3.6M557.6 399.9l-0.1-0.3M558.3 398.4l-0.8 1.2M562.2 402.9l-4.6-3M563.7 372.8l-6-2.2M558.1 367.3l-0.4 3.3M557.7 426.7l5.4 2.7M557.9 355.0l2.9-1.7M557.9 415.4l3.9 1.6M559.6 411.8l-1.7 3.6M560.4 274.1l-2.4-0.4M558.6 258.1l-0.6-4.5M558.4 253.3l-0.4 0.3M558.6 446.2l-0.5-2.1M558.1 444.1l2-3.4M558.5 230.2l-0.4 0.3M558.2 392.6l-0.1-0.1M560.8 387.4l-2.7 5.1M558.1 237.9l6-0.4M562.2 320.8l-4.1-1.5M558.3 316.1l-0.2 3.2M560.5 309.5l-2.4-4.2M563.6 304.3l-5.5 1M564.3 365.7l-6.2 1.6M563.3 393.6l-5.1-1M558.3 398.4l-0.1-5.8M559.6 411.8l-1.3-3.8M558.3 408.0l0.1-0.3M558.3 316.1l2.1-1.2M563.0 397.3l-4.7 1.1M558.4 253.3l0.6-4M560.9 253.0l-2.5 0.3M561.4 406.4l-3 1.3M564.1 232.4l-5.6-2.2M559.5 224.8l-1 5.4M560.4 298.4l-1.8-5.8M558.6 292.6l1.2-1.2M558.6 446.2l4.7 2.6M558.6 360.1l2.8 0M558.6 258.1l4.6 0.5M559.0 311.5l1.4 3.4M560.5 309.5l-1.5 2M561.3 248.8l-2.3 0.5M559.0 325.7l0-0.2M559.0 325.5l3.2-4.7M559.0 345.7l1.3 1.9M559.0 345.7l0.4-3M559.0 325.7l1.2 1M559.1 218.2l0.2 6.4M560.4 217.1l-1.3 1.1M560.4 298.4l-1.2 0.7M559.5 224.8l-0.2-0.2M559.4 349.8l1.4 3.5M560.3 347.6l-0.9 2.2M559.4 342.7l3.5-1.2M565.1 224.2l-5.6 0.6M559.6 411.8l4.5 0M564.9 293.3l-5.1-1.9M559.8 291.4l0.6-4.1M559.8 377.3l0.6 3M559.8 377.3l4.2-4.1M559.8 286.4l0.6 0.9M560.8 282.3l-1 4.1M565.3 439.8l-5.2 0.9M564.9 327.2l-4.7-0.5M560.3 331.8l-0.1-5.1M563.0 347.7l-2.7-0.1M562.1 332.9l-1.8-1.1M566.5 288.1l-6.1-0.8M561.6 381.2l-1.2-0.9M563.7 218.2l-3.3-1.1M560.4 217.1l0.2-3.1M560.4 274.1l1.2 1.3M562.4 270.7l-2 3.4M560.9 461.1l-0.5-1.7M560.4 459.4l0.6-0.8M562.8 315.5l-2.4-0.6M563.3 298.8l-2.9-0.4M563.6 309.5l-3.1 0M560.6 454.3l0.4 4.3M560.6 454.3l3.2-3.4M560.6 386.7l0.2 0.7M562.2 383.8l-1.6 2.9M560.8 282.3l-0.1-0.2M561.6 275.4l-0.9 6.7M565.9 282.3l-5.1 0M564.1 389.5l-3.3-2.1M562.3 353.8l-1.5-0.5M561.0 458.6l1.9 0.1M561.2 265.7l1.2 5M561.2 265.7l2.6-1.6M564.2 363.1l-2.8-3M563.6 356.3l-2.2 3.8M561.4 406.4l4.7 2.5M561.4 406.4l0.8-3.5M561.5 336.2l2.3 2.4M562.1 332.9l-0.6 3.3M565.6 276.1l-4-0.7M562.2 383.8l-0.6-2.6M566.3 378.6l-4.7 2.6M561.8 417.0l1.8 4.2M561.8 417.0l2.7-2.7M563.7 332.3l-1.6 0.6M564.6 401.8l-2.4 1.1M567.1 384.9l-4.9-1.1M562.9 320.5l-0.7 0.3M563.6 356.3l-1.3-2.5M565.3 350.4l-3 3.4M562.4 270.7l4.8-1M563.2 320.1l-0.4-4.6M564.2 314.4l-1.4 1.1M562.9 320.5l2.6 4.3M563.2 320.1l-0.3 0.4M565.6 344.0l-2.7-2.5M562.9 341.5l0.9-2.9M563.0 347.7l2.3 2.7M563.0 347.7l2.6-3.7M564.5 398.6l-1.5-1.3M563.3 393.6l-0.3 3.7M563.1 429.4l1 2.8M563.1 429.4l2.1-4M567.3 319.7l-4.1 0.4M563.2 258.6l0.6 0.5M563.2 258.6l0.9-3.5M563.8 450.9l-0.5-2.1M567.1 443.3l-3.8 5.5M563.3 298.8l0.3 5.5M564.3 298.2l-1 0.6M563.8 393.2l-0.5 0.4M563.6 421.2l0.2 0.1M567.5 356.5l-3.9-0.2M563.6 304.3l0.3 0.3M563.6 309.5l0.3 0.2M563.9 304.6l-0.3 4.9M563.9 244.4l-0.2-0.4M564.3 237.8l-0.6 6.2M563.7 372.8l0.3 0.4M564.3 365.7l-0.6 7.1M563.7 332.3l4.7 2.6M565.4 327.9l-1.7 4.4M563.8 264.1l0-5M563.8 259.1l5.2-0.3M567.6 337.4l-3.8 1.2M568.4 394.0l-4.6-0.8M564.1 389.5l-0.3 3.7M563.8 421.3l1.4 4.1M563.8 421.3l3-1.4M567.1 265.6l-3.3-1.5M563.8 450.9l3.8 1.5M564.2 314.4l-0.3-4.7M563.9 309.7l4.7-0.7M563.9 304.6l5.1 0.3M564.9 373.6l-0.9-0.4M564.5 414.3l-0.4-2.5M564.1 411.8l2-2.9M564.5 432.5l-0.4-0.3M567.0 388.4l-2.9 1.1M564.1 237.5l0.2 0.3M564.1 232.4l0 5.1M564.1 232.4l1.5-1.1M564.5 365.5l-0.3-2.4M564.2 363.1l3.6-2.9M564.2 314.4l3.5 0.3M564.3 237.8l2.7 0.2M564.3 365.7l0.2-0.2M564.3 298.2l3.8 0.8M564.3 298.2l0.6-4.9M564.5 414.3l3.5 2M569.1 366.7l-4.6-1.2M564.6 401.8l-0.1-3.2M569.1 396.6l-4.6 2M565.3 439.8l-0.8-7.3M564.5 432.5l4.2-0.9M567.5 403.4l-2.9-1.6M564.9 293.3l0.7-0.7M566.3 378.6l-1.4-5M569.2 372.1l-4.3 1.5M565.4 327.9l-0.5-0.7M565.5 324.8l-0.6 2.4M566.0 225.2l-0.9-1M565.3 223.0l-0.2 1.2M565.2 425.4l4.4 0.5M566.4 440.6l-1.1-0.8M566.6 350.5l-1.3-0.1M569.0 328.8l-3.6-0.9M565.6 221.8l-0.1 0.6M569.0 323.0l-3.5 1.8M570.4 293.9l-4.8-1.3M565.6 292.6l0.9-4.4M565.6 276.1l1.9 1.8M568.1 271.0l-2.5 5.1M565.6 344.0l1 0.1M568.0 231.6l-2.4-0.3M566.0 225.2l-0.4 6.1M565.9 282.3l0.6 5.8M565.9 282.3l0.5-0.4M566.1 225.2l-0.1 0M566.1 408.9l0 0M566.1 408.9l1.9-2.8M566.1 408.9l3.9 3.4M566.9 225.3l-0.7-0.1M566.3 378.6l2.4 1.2M566.4 281.9l5.2 1.9M567.5 277.9l-1.1 4M566.4 440.6l0.7 2.7M566.4 440.6l4.3-1.9M566.5 288.1l0 0.1M566.5 288.2l4.8-0.2M566.6 350.5l2.4 4.6M568.9 348.3l-2.3 2.2M568.9 348.3l-2.3-4.2M566.6 344.1l3.1-2.6M566.8 419.9l3.5 1.8M566.8 419.9l1.2-3.6M569.9 390.7l-2.9-2.3M567.1 384.9l-0.1 3.5M567.1 265.6l0.5 0.7M567.1 265.6l3.3-5.1M568.2 384.0l-1.1 0.9M567.1 443.3l4.3 3M567.2 269.7l0.9 1.3M567.6 266.3l-0.4 3.4M567.3 319.7l1.7 3.3M568.6 317.9l-1.3 1.8M567.5 356.5l0.3 3.7M569.0 355.1l-1.5 1.4M567.5 277.9l3.9-0.6M567.5 403.4l0.5 2.7M571.2 399.6l-3.7 3.8M567.6 266.3l5.8 0.1M567.6 337.4l2.1 4.1M567.6 337.4l0.9-2.1M567.8 455.8l-0.2-3.4M567.6 452.4l2.5-1.2M567.7 314.7l0.9 3.2M570.8 311.9l-3.1 2.8M571.5 362.0l-3.7-1.8M568.0 416.3l1.5-0.9M574.1 406.8l-6.1-0.7M572.2 272.2l-4.1-1.2M568.1 299.0l1.8 2M568.1 299.0l2.6-4.4M568.2 384.0l5.1 2M568.2 384.0l0.5-4.2M569.1 396.6l-0.7-2.6M569.9 390.7l-1.5 3.3M568.4 334.9l0.1 0.4M568.4 334.9l1.8-3.3M568.5 335.3l5.9 1.8M568.6 309.0l2.2 2.9M569.0 304.9l-0.4 4.1M572.2 318.6l-3.6-0.7M568.7 379.8l0.8-0.3M568.7 431.6l3.5 1.9M570.2 426.7l-1.5 4.9M571.7 348.2l-2.8 0.1M569.7 323.2l-0.7-0.2M569.0 328.8l1.2 2.8M570.6 326.7l-1.6 2.1M569.0 355.1l1.9-0.1M569.0 304.9l0.7-0.8M570.4 260.5l-1.4-1.7M569.0 258.8l0.7-2.6M571.5 398.4l-2.4-1.8M570.7 369.0l-1.6-2.3M569.1 366.7l2.4-4.7M569.2 372.1l2.2 3.1M569.2 372.1l1.5-3.1M569.5 415.4l3.2 1.8M569.5 415.4l0.5-3.1M574.2 381.0l-4.7-1.5M569.5 379.5l1.9-4.3M569.6 425.9l0.6 0.8M569.6 425.9l0.7-4.2M571.3 341.9l-1.6-0.4M569.7 323.2l0.9 3.5M572.3 321.8l-2.6 1.4M574.4 305.9l-4.7-1.8M569.9 301.0l-0.2 3.1M570.8 390.4l-0.9 0.3M574.2 299.5l-4.3 1.5M570.0 412.3l4.4-1.9M576.1 454.5l-6-3.3M571.4 446.3l-1.3 4.9M574.8 426.8l-4.6-0.1M570.2 331.6l4.3 0M570.3 421.7l1.9-0.7M572.8 261.2l-2.4-0.7M570.4 293.9l0.3 0.7M570.4 293.9l2-4.8M570.6 326.7l3.9 0M570.7 438.7l4.4 1.9M570.7 438.7l1.5-5.2M570.7 294.6l4 1.7M574.2 368.9l-3.5 0.1M572.3 312.0l-1.5-0.1M575.4 393.8l-4.6-3.4M570.8 390.4l2.5-3.6M570.9 355.0l2.7 6.1M573.3 353.1l-2.4 1.9M571.2 399.6l3.2 5.6M571.2 399.6l0.3-1.2M571.3 288.0l1.1 1.1M571.6 283.8l-0.3 4.2M572.3 343.0l-1-1.1M571.3 341.9l3.1-4.8M575.3 445.2l-3.9 1.1M571.4 277.3l0.7 0.6M572.2 272.2l-0.8 5.1M571.4 375.2l4.4 0.1M571.5 398.4l0.9-0.3M571.5 362.0l2.1-0.9M571.6 283.8l1.2-1.4M572.3 348.7l-0.6-0.5M571.7 348.2l0.6-5.2M572.1 277.9l0.7 4.5M577.4 277.4l-5.3 0.5M572.2 318.6l0.1 3.2M573.7 317.1l-1.5 1.5M572.9 271.7l-0.7 0.5M572.2 421.0l3.3 1.8M572.2 421.0l0.5-3.8M572.2 433.5l2.8-0.7M572.3 312.0l1.4 1.7M575.0 308.2l-2.7 3.8M572.3 348.7l1 4.4M572.3 348.7l6.1-1.9M575.5 343.1l-3.2-0.1M572.3 321.8l3.9 2M572.4 289.1l3.8 0.5M572.4 398.1l4.2 1.7M572.4 398.1l3-4.3M572.7 417.2l1.4-0.6M572.8 282.4l4 0.5M572.8 261.2l1.1 4.7M572.8 261.2l2.5-1.6M572.9 271.7l4.5 0.9M573.4 266.4l-0.5 5.3M573.3 353.1l1.6 0.4M573.3 386.8l0-0.8M573.3 386.0l2-2.9M577.2 389.6l-3.9-2.8M573.9 265.9l-0.5 0.5M575.7 361.5l-2.1-0.4M579.0 313.7l-5.3 0M573.7 313.7l0 3.4M577.4 319.0l-3.7-1.9M573.9 265.9l5 0.2M574.1 406.8l0.4 0.9M574.4 405.2l-0.3 1.6M574.1 416.6l3.1 1.7M574.1 416.6l1.6-4.5M575.3 383.1l-1.1-2.1M574.2 381.0l1.9-4.8M577.4 302.3l-3.2-2.8M574.7 296.3l-0.5 3.2M576.4 373.6l-2.2-4.7M576.1 367.0l-1.9 1.9M574.4 337.1l0.3-0.2M574.4 410.4l1.3 1.7M574.5 407.7l-0.1 2.7M574.4 405.2l2.7-2.5M575.0 308.2l-0.6-2.3M574.4 305.9l3-3.6M575.5 254.6l-1 0.2M574.5 326.7l0.4 4.5M574.5 326.7l1.9-2.4M574.5 331.6l0.7 4.5M574.9 331.2l-0.4 0.4M580.0 407.2l-5.5 0.5M577.3 340.2l-2.6-3.3M574.7 336.9l0.5-0.8M577.1 294.5l-2.4 1.8M574.8 426.8l0.2 6M574.8 426.8l0.1-0.1M574.9 353.5l2.8 3.9M574.9 353.5l3.9-2.7M574.9 426.7l5 0.7M574.9 426.7l0.6-3.9M574.9 331.2l3.5-0.3M577.2 437.4l-2.2-4.6M575.0 432.8l0 0M581.5 431.2l-6.5 1.6M579.7 309.2l-4.7-1M576.0 443.8l-0.9-3.2M577.2 437.4l-2.1 3.2M581.0 335.1l-5.8 1M575.3 445.2l3.5 6.4M575.3 445.2l0.7-1.4M575.3 259.6l4.5 2.4M576.0 255.3l-0.7 4.3M578.4 383.3l-3.1-0.2M575.4 393.8l1.8-0.5M575.5 254.6l-0.1-0.2M575.5 254.6l0.5 0.7M575.5 422.8l1.5-0.9M578.4 346.8l-2.9-3.7M575.5 343.1l1.8-2.9M575.9 361.8l-0.2-0.3M577.7 357.4l-2 4.1M578.3 412.8l-2.6-0.7M576.1 376.2l-0.3-0.9M576.4 373.6l-0.6 1.7M582.5 363.0l-6.6-1.2M576.1 367.0l-0.2-5.2M576.0 454.7l0.1-0.2M576.0 443.8l4.2-0.6M576.0 255.3l4.4 0M581.6 368.4l-5.5-1.4M576.1 454.5l2.3-1.2M580.9 378.5l-4.8-2.3M576.2 323.8l0.2 0.5M577.4 319.0l-1.2 4.8M576.2 289.6l0.9 4.9M576.2 289.6l0.1-0.1M581.4 289.6l-5.1-0.1M576.3 289.5l1.6-5.2M580.8 325.7l-4.4-1.4M576.4 373.6l5.4-1.9M576.6 399.8l0.5 2.9M580.2 397.4l-3.6 2.4M576.8 282.9l1.1 1.4M578.1 278.0l-1.3 4.9M581.1 422.8l-4.1-0.9M577.2 418.3l-0.2 3.6M580.2 296.0l-3.1-1.5M577.1 402.7l3.9 0.8M577.2 393.3l0-3.7M577.2 389.6l2.3-2M577.2 393.3l1.1 0.5M577.2 437.4l5.8 0.3M577.2 418.3l3.2-2.2M580.9 340.1l-3.6 0.1M578.2 302.2l-0.8 0.1M577.4 319.0l2-1.1M577.4 272.6l0 4.8M577.4 272.6l1.4-1M578.1 278.0l-0.7-0.6M579.8 356.8l-2.1 0.6M577.9 284.3l5.4-0.6M582.7 278.5l-4.6-0.5M581.9 306.2l-3.7-4M578.2 302.2l2.4-3.2M578.3 393.8l1.9 3.6M582.0 391.7l-3.7 2.1M578.3 412.8l2.1 3.3M578.3 412.8l2.8-2.8M578.4 330.9l2.6 4.2M581.2 326.6l-2.8 4.3M582.3 456.4l-3.9-3.1M578.4 453.3l0.4-1.7M578.4 346.8l0.4 4M578.4 346.8l0 0M579.5 387.6l-1.1-4.3M579.9 382.4l-1.5 0.9M578.4 346.8l2.6-1.3M581.6 352.7l-2.8-1.9M578.8 271.6l4.6 1.8M578.8 271.6l0.5-4.9M578.8 451.6l5.8-4.2M578.9 266.1l0.4 0.6M579.8 262.0l-0.9 4.1M579.0 313.7l0.4 4.2M579.0 313.7l1.2-1.4M579.3 266.7l5.7 0.6M582.5 319.4l-3.1-1.5M582.0 388.4l-2.5-0.8M580.2 312.3l-0.5-3.1M579.7 309.2l2.2-3M584.2 359.6l-4.4-2.8M581.6 352.7l-1.8 4.1M581.0 261.2l-1.2 0.8M579.9 382.4l5.3 2.3M579.9 382.4l1-3.9M581.5 431.2l-1.6-3.8M581.7 423.7l-1.8 3.7M580.0 407.2l1.1 2.8M580.0 407.2l1.5-2.6M580.6 299.0l-0.4-3M584.0 293.4l-3.8 2.6M580.2 312.3l5 1.2M580.2 443.2l4.4 4.2M583.0 437.7l-2.8 5.5M580.2 397.4l1.8 0.9M581.4 416.4l-1-0.3M580.4 255.3l0.6 0.6M581.5 251.2l-1.1 4.1M584.6 300.3l-4-1.3M580.8 325.7l0.4 0.9M583.0 321.5l-2.2 4.2M580.9 378.5l0.8-0.5M581.6 341.2l-0.7-1.1M580.9 340.1l0.9-4.6M585.2 261.7l-4.2-0.5M581.0 255.9l0 5.3M581.0 345.5l3.5 1.6M581.6 341.2l-0.6 4.3M585.7 256.0l-4.7-0.1M581.8 335.5l-0.8-0.4M581.5 404.6l-0.5-1.1M582.2 398.6l-1.2 4.9M581.1 410.0l3.9 1M581.7 423.7l-0.6-0.9M582.6 418.3l-1.5 4.5M584.5 328.6l-3.3-2M584.0 293.4l-2.6-3.8M581.4 289.6l2.9-4.9M582.6 418.3l-1.2-1.9M584.9 412.7l-3.5 3.7M581.5 431.2l0.5 0.3M581.5 404.6l2.2 0.4M585.7 351.9l-4.1 0.8M581.6 341.2l5.2 0.1M581.6 368.4l0.2 3.3M581.6 368.4l1.4-1.8M585.1 424.5l-3.4-0.8M587.2 380.0l-5.5-2M581.7 378.0l1.4-4.9M581.8 371.7l1.3 1.4M584.1 334.6l-2.3 0.9M583.1 306.0l-1.2 0.2M582.0 391.7l3.7 1.8M582.0 388.4l0 3.3M585.6 386.2l-3.6 2.2M582.0 431.5l1 6.1M586.6 429.3l-4.6 2.2M582.0 398.3l0.2 0.3M585.7 393.5l-3.7 4.8M582.2 398.6l4.5 1.6M582.6 459.3l-0.3-2.9M588.3 454.2l-6 2.2M582.5 319.4l0.5 2.1M586.0 315.5l-3.5 3.9M582.5 363.0l0.5 3.6M584.3 360.4l-1.8 2.6M586.5 419.0l-3.9-0.7M582.7 278.5l0.6 5.2M582.7 278.5l0.4-0.5M583.0 437.6l0 0.1M583.0 437.6l1.7 0.5M583.0 366.6l5.8 0.8M588.9 322.7l-5.9-1.2M583.1 278.0l0.3-4.6M583.1 278.0l6.3 0M583.1 373.1l6.5 0.5M587.0 309.6l-3.9-3.6M585.1 303.4l-2 2.6M586.3 251.0l-3.1-0.9M583.3 283.7l1 1M583.9 273.0l-0.5 0.4M583.7 405.0l2.4 4.8M583.7 405.0l4-2.5M583.9 273.0l5.3 0.3M585.0 267.3l-1.1 5.7M585.6 293.6l-1.6-0.2M586.8 335.6l-2.7-1M584.1 334.6l0.4-6M584.2 359.6l0.1 0.8M586.9 354.7l-2.7 4.9M586.0 285.1l-1.7-0.4M584.3 360.4l4.7 1.6M589.0 327.2l-4.5 1.4M584.5 347.1l1.2 4.8M587.6 344.5l-3.1 2.6M584.6 300.3l0.5 3.1M587.8 296.9l-3.2 3.4M585.1 447.4l-0.5 0M584.7 438.1l0.9 0.9M589.6 433.2l-4.9 4.9M588.5 416.3l-3.6-3.6M585.0 411.0l-0.1 1.7M586.1 409.8l-1.1 1.2M585.0 267.3l0 0M585.0 267.3l4.5 0.5M585.2 261.7l-0.2 5.6M585.1 424.5l1.5 4.8M587.4 422.1l-2.3 2.4M588.3 454.2l-3.2-6.8M586.3 446.3l-1.2 1.1M591.4 303.6l-6.3-0.2M585.2 261.7l1.1-0.8M585.2 384.7l0.4 1.5M587.2 380.0l-2 4.7M586.0 315.5l-0.8-2M587.0 309.6l-1.8 3.9M585.5 461.4l4.2 0.2M587.7 295.8l-2.1-2.2M587.6 289.2l-2 4.4M585.6 386.2l3.2 2.4M592.6 440.1l-7-1.1M585.6 439.0l0.7 7.3M587.4 393.1l-1.7 0.4M585.7 256.0l1.1 1.2M586.3 251.0l-0.6 5M586.1 352.2l-0.4-0.3M586.0 315.5l1.4 0.6M586.0 285.1l1.6 4.1M587.9 284.0l-1.9 1.1M586.1 409.8l3.3-0.8M586.9 354.7l-0.8-2.5M586.1 352.2l6.2-3M586.8 250.8l-0.5 0.2M589.3 445.9l-3 0.4M586.3 260.9l4.1 1.8M586.8 257.2l-0.5 3.7M586.5 419.0l0.9 3.1M586.5 419.0l2-2.7M587.3 429.5l-0.7-0.2M586.7 400.2l1 2.3M589.4 395.6l-2.7 4.6M586.8 335.6l0 5.7M586.8 335.6l2.5-0.6M586.8 250.8l4.6 1M586.8 250.8l0.9-3.6M591.4 256.0l-4.6 1.2M586.8 341.3l0.7 0.7M586.9 354.7l6.3 3.1M588.6 309.1l-1.6 0.5M587.2 380.0l1.3-0.7M587.3 429.5l2.3 3.7M592.1 426.3l-4.8 3.2M587.4 393.1l2 2.5M588.8 388.6l-1.4 4.5M590.2 422.7l-2.8-0.6M587.4 316.1l3 4.8M587.4 316.1l4.6-2.4M587.6 344.5l-0.1-2.5M591.8 340.4l-4.3 1.6M587.6 289.2l5.7 0.7M591.5 346.7l-3.9-2.2M587.8 296.9l-0.1-1.1M587.7 295.8l5.4-2.8M587.9 402.6l-0.2-0.1M587.8 296.9l3.3 3.4M587.9 402.6l2.3 4.8M593.1 400.7l-5.2 1.9M587.9 284.0l3.7 0.6M587.9 284.0l1.5-6M588.3 454.2l0.3 0.1M593.9 383.0l-5.4-3.7M588.5 379.3l1.1-5.6M589.2 416.2l-0.7 0.1M588.6 309.1l3.1 2.1M591.4 303.6l-2.8 5.5M588.6 454.3l2.3 5.2M588.6 454.3l5.1-3.2M591.5 387.7l-2.7 0.9M588.8 367.4l0.8 6.2M588.8 367.4l0.7-0.9M588.9 322.7l0.1 4.5M590.4 320.9l-1.5 1.8M589.0 362.0l0.5 4.5M589.0 362.0l4.5-3.6M589.0 327.2l0.3 0.2M589.2 273.3l0.9 1.2M589.2 273.3l0.3-5.5M589.2 416.2l2.9 2M591.4 412.2l-2.2 4M589.3 327.4l5.2 0.7M589.3 327.4l0.6 6.9M589.3 445.9l4.6 3.5M589.3 445.9l3.6-5.5M589.3 335.0l3.1 3.9M589.3 335.0l0.6-0.7M591.4 412.2l-2-3.2M589.4 409.0l0.8-1.6M592.2 396.4l-2.8-0.8M589.4 278.0l0.1 0M593.1 279.7l-3.6-1.7M589.5 278.0l0.6-3.5M589.5 366.5l6.7-0.6M589.5 267.8l1.2-0.8M589.6 373.7l0-0.1M589.6 433.2l1.4 0.5M591.3 373.6l-1.7 0.1M590.5 465.3l-0.8-3.7M589.7 461.6l1.2-2.1M589.9 334.3l5.3-1.6M590.1 274.5l3.9-0.9M593.7 406.2l-3.5 1.2M592.1 426.3l-1.9-3.6M592.4 420.0l-2.2 2.7M590.4 320.9l3.9-0.8M590.4 262.7l0.4 0.5M592.1 256.6l-1.7 6.1M594.7 268.3l-4-1.3M590.7 267.0l0.1-3.8M596.5 261.3l-5.7 1.9M597.7 458.5l-6.8 1M592.6 440.1l-1.6-6.4M595.7 431.7l-4.7 2M591.1 300.3l0.3 3.3M594.8 297.6l-3.7 2.7M597.9 378.1l-6.6-4.5M591.3 373.6l5-4M591.4 303.6l0 0M591.4 251.8l0 4.2M591.4 251.8l2.4-2.3M595.6 305.2l-4.2-1.6M591.4 256.0l0.7 0.6M594.9 412.7l-3.5-0.5M591.5 387.7l5.5 4.9M593.9 383.0l-2.4 4.7M592.3 349.2l-0.8-2.5M591.5 346.7l2-3.4M591.6 244.4l0.2 0.1M591.6 284.6l1.9 4.7M591.6 284.6l1.9-1.8M591.7 311.2l0.3 2.5M591.7 311.2l4.5-3.1M591.8 340.4l1.7 2.9M591.8 340.4l0.6-1.5M591.8 244.5l2 5M591.8 244.5l3-1.8M592.0 313.7l3.1 2.3M596.9 465.8l-4.8 0.8M595.4 257.5l-3.3-0.9M592.5 426.4l-0.4-0.1M592.1 418.2l0.3 1.8M595.2 415.8l-3.1 2.4M593.1 400.7l-0.9-4.3M596.9 393.1l-4.7 3.3M594.3 350.2l-2-1M592.4 338.9l4-1.3M597.7 422.1l-5.3-2.1M592.5 426.4l3.3 4.9M592.5 426.4l5.4-3.6M592.9 440.4l-0.3-0.3M592.9 440.4l2 0.2M593.5 282.8l-0.4-3.1M595.7 278.2l-2.6 1.5M594.4 401.7l-1.3-1M593.1 293.0l1.7 4.6M593.1 293.0l0.6-1.2M593.2 357.8l0.3 0.6M593.2 357.8l1.1-7.6M593.3 289.9l0.4 1.9M593.3 289.9l0.2-0.6M593.5 282.8l4.8 1.2M593.5 358.4l1.6 0.8M597.5 343.3l-4 0M593.5 289.3l5.2-3.2M593.7 291.8l4.4 1.1M596.0 407.7l-2.3-1.5M594.4 401.7l-0.7 4.5M593.7 451.1l4.4 4.8M593.9 449.4l-0.2 1.7M593.8 249.5l2.2 0.6M593.9 383.0l2.4-0.9M593.9 449.4l2.6-2.2M595.7 274.8l-1.7-1.2M594.0 273.6l0.7-5.3M596.1 349.8l-1.8 0.4M595.4 321.1l-1.1-1M594.3 320.1l0.8-4.1M594.4 401.7l2.7-0.5M594.5 328.1l0.7 4.6M596.5 326.2l-2 1.9M594.7 268.3l2.1-0.7M602.1 244.4l-7.3-1.7M594.8 242.7l0.1-1M594.8 297.6l3 0.7M595.3 413.2l-0.4-0.5M596.0 407.7l-1.1 5M594.9 440.6l1.6 6.6M595.3 440.4l-0.4 0.2M597.8 314.3l-2.7 1.7M595.1 359.2l1.3 6.5M598.6 357.9l-3.5 1.3M596.6 333.9l-1.4-1.2M598.6 418.9l-3.4-3.1M595.3 413.2l-0.1 2.6M595.3 413.2l4.5-0.4M601.3 441.1l-6-0.7M597.6 434.5l-2.3 5.9M595.4 257.5l1.1 3.8M598.5 254.3l-3.1 3.2M596.5 326.2l-1.1-5.1M601.9 320.0l-6.5 1.1M595.6 305.2l0.6 2.9M597.8 303.3l-2.2 1.9M599.6 280.7l-3.9-2.5M595.7 278.2l0-3.4M595.7 431.7l1.9 2.8M595.7 431.7l0.1-0.4M599.0 273.9l-3.3 0.9M595.8 431.3l4.2-3.5M598.5 254.3l-2.5-4.2M596.0 250.1l6.1-5.1M598.5 407.3l-2.5 0.4M600.8 353.0l-4.7-3.2M598.7 345.1l-2.6 4.7M596.3 369.6l-0.1-3.7M596.4 365.7l-0.2 0.2M596.2 308.1l1.8 1.8M602.2 387.8l-5.9-5.7M596.3 382.1l1.6-4M600.6 373.4l-4.3-3.8M603.2 365.3l-6.8 0.4M598.0 339.2l-1.6-1.6M596.6 333.9l-0.2 3.7M596.5 447.2l4.1 0.2M598.1 262.6l-1.6-1.3M596.5 326.2l3.5 0.6M600.1 332.8l-3.5 1.1M596.8 267.6l3.2 4.2M598.5 264.8l-1.7 2.8M599.5 469.2l-2.6-3.4M598.8 460.2l-1.9 5.6M596.9 393.1l2.2 3.8M597.0 392.6l-0.1 0.5M602.3 388.4l-5.3 4.2M597.1 401.2l3.1 2.7M599.1 396.9l-2 4.3M597.5 474.1l2.7 4.1M598.7 345.1l-1.2-1.8M598.0 339.2l-0.5 4.1M602.3 435.0l-4.7-0.5M597.9 422.8l-0.2-0.7M598.6 418.9l-0.9 3.2M598.8 460.2l-1.1-1.7M597.7 458.5l0.4-2.6M597.8 303.3l0-5M599.3 297.1l-1.5 1.2M597.8 472.1l1.7-2.9M602.0 316.1l-4.2-1.8M598.0 309.9l-0.2 4.4M602.8 303.7l-5-0.4M599.5 424.2l-1.6-1.4M597.9 378.1l0.8-0.5M603.8 338.3l-5.8 0.9M603.3 308.9l-5.3 1M598.0 480.4l1.5-0.5M599.3 297.1l-1.2-4.2M598.1 292.9l2.9-2.6M598.1 262.6l0.4 2.2M604.6 257.8l-6.5 4.8M598.1 455.9l3.7-3M598.7 286.1l-0.4-2.1M598.3 284.0l1.3-3.3M598.5 264.8l5.1 1.6M598.5 254.3l4.2 0.5M598.5 407.3l2.5 3M598.5 407.3l1.7-3.4M601.6 416.7l-3 2.2M603.5 360.8l-4.9-2.9M598.6 357.9l2.2-4.9M598.7 286.1l2 1.5M605.1 380.3l-6.4-2.7M600.6 373.4l-1.9 4.2M603.2 345.3l-4.5-0.2M604.4 461.7l-5.6-1.5M599.0 273.9l3 4M599.0 273.9l1-2.1M604.7 398.4l-5.6-1.5M599.3 297.1l3.1 0M600.0 427.8l-0.5-3.6M604.3 422.8l-4.8 1.4M599.5 469.2l3.2-0.2M599.5 479.9l3.1 5.7M599.5 479.9l0.7-1.7M599.6 280.7l2.1-1.2M599.7 488.3l2.9-2.7M599.8 412.8l1.8 3.9M599.8 412.8l1.2-2.5M603.8 270.7l-3.8 1.1M603.7 430.0l-3.7-2.2M602.4 241.3l-2.4-3.2M600.0 326.8l1.4 2.3M603.6 322.3l-3.6 4.5M604.9 337.1l-4.8-4.3M600.1 332.8l1.3-3.7M602.5 403.4l-2.3 0.5M600.2 478.2l6.7-3M602.6 372.4l-2 1M600.6 447.4l1.2 5.5M603.1 444.9l-2.5 2.5M600.7 287.6l0.3 2.7M600.7 287.6l3.3-1.4M600.8 352.9l0 0.1M606.5 355.2l-5.7-2.3M600.8 352.9l3.9-6.2M601.0 410.3l2.4-0.5M601.0 290.3l4.2 3.3M601.3 441.1l1.8 3.8M603.4 436.7l-2.1 4.4M601.4 329.1l3.8 0.5M602.8 416.9l-1.2-0.2M605.1 281.7l-3.4-2.2M601.7 279.5l0.3-1.6M606.4 453.6l-4.6-0.7M601.9 320.0l1.7 2.3M601.9 320.0l0.1-3.9M605.1 275.2l-3.1 2.7M605.1 314.1l-3.1 2M602.2 244.7l-0.1-0.3M602.1 244.4l0.3-3.1M602.1 245.0l2.2 5.2M602.2 244.7l-0.1 0.3M602.2 244.7l8-0.3M602.4 388.2l-0.2-0.4M602.2 387.8l2.9-7.5M602.3 435.0l1.1 1.7M603.7 430.0l-1.4 5M602.3 388.4l4.2 5.4M602.4 388.2l-0.1 0.2M602.4 388.2l8.8-2.5M604.0 300.7l-1.6-3.6M602.4 297.1l2.8-3.5M602.4 241.3l5.9-5M605.1 406.1l-2.6-2.7M604.7 398.4l-2.2 5M602.5 495.4l4.8-0.9M602.6 372.4l3.1 0.9M602.6 372.4l0.6-7.1M605.4 486.1l-2.8-0.5M604.6 257.8l-1.9-3M602.7 254.8l1.6-4.6M606.9 475.2l-4.2-6.2M605.7 464.5l-3 4.5M602.8 303.7l1.6 2.9M602.8 303.7l1.2-3M605.0 420.5l-2.2-3.6M607.2 413.4l-4.4 3.5M603.1 444.9l5.1 0.4M603.2 365.3l1.5-1.3M604.7 346.7l-1.5-1.4M603.2 345.3l0.6-7M605.1 314.0l-1.8-5.1M604.4 306.6l-1.1 2.3M608.4 437.3l-5-0.6M607.2 413.4l-3.8-3.6M605.1 406.1l-1.7 3.7M603.5 360.8l1.2 3.2M603.5 360.8l3-5.6M603.6 322.3l0.8 0.2M603.6 266.4l0.2 4.3M605.8 264.7l-2.2 1.7M606.6 428.9l-2.9 1.1M604.5 271.2l-0.7-0.5M604.9 337.1l-1.1 1.2M604.0 286.2l3.4 1.8M604.0 286.2l1.1-4.5M609.2 300.1l-5.2 0.6M611.2 250.3l-6.9-0.1M607.7 426.6l-3.4-3.8M605.0 420.5l-0.7 2.3M604.4 322.5l3 5.1M609.3 320.0l-4.9 2.5M605.7 464.5l-1.3-2.8M607.8 456.7l-3.4 5M604.4 306.6l4.7-0.3M604.5 271.2l0.6 4M604.5 271.2l5.5-1M605.3 258.2l-0.7-0.4M604.7 398.4l1.4-0.7M608.4 364.6l-3.7-0.6M604.7 346.7l0.4 0M604.9 337.1l0.3-0.1M610.9 419.0l-5.9 1.5M607.6 379.2l-2.5 1.1M609.3 405.7l-4.2 0.4M605.1 281.7l2.4-0.3M605.1 314.1l4.2 5.9M605.1 314.1l0-0.1M605.1 346.7l3.5 5.5M609.8 344.4l-4.7 2.3M605.1 314.0l5-1.8M608.3 276.2l-3.2-1M608.6 339.0l-3.4-2M605.2 337.0l1.2-2.5M605.2 293.6l1-0.2M605.2 329.6l1.2 4.9M607.4 327.6l-2.2 2M605.8 264.7l-0.5-6.5M608.0 257.8l-2.7 0.4M605.4 486.1l3 7.1M605.4 486.1l5.9-4.9M605.7 373.3l2 5.8M605.7 373.3l3.7-2.5M612.0 466.2l-6.3-1.7M605.8 233.7l2.5 2.4M610.4 266.3l-4.6-1.6M608.4 399.1l-2.3-1.4M606.1 397.7l0.4-3.9M609.0 294.7l-2.8-1.3M606.2 293.4l1.2-5.4M607.8 456.7l-1.4-3.1M610.3 447.0l-3.9 6.6M606.4 334.5l5.3-2.4M606.5 393.8l7.2-3.1M606.5 355.2l0.4-0.1M606.6 428.9l3.8 5.4M607.7 426.6l-1.1 2.3M606.9 355.1l5 4.5M608.6 352.2l-1.7 2.9M607.0 475.3l-0.1-0.1M607.0 475.3l4.3 5.8M607.0 475.3l5.8-6.4M607.2 413.4l0.9 0M609.1 502.6l-1.8-8.1M608.4 493.2l-1.1 1.3M609.3 327.6l-1.9 0M610.3 286.4l-2.9 1.6M610.3 286.4l-2.8-5M609.1 279.5l-1.6 1.9M607.6 379.2l3.6 6.5M607.7 379.1l-0.1 0.1M611.7 377.4l-4 1.7M609.5 425.9l-1.8 0.7M612.4 457.7l-4.6-1M607.9 503.0l1.2-0.4M612.9 262.8l-4.9-5M608.0 257.8l2.9-2.7M608.1 413.4l3 3.5M608.1 413.4l2.3-4M610.3 447.0l-2.1-1.7M608.4 437.3l-0.2 8M608.3 236.3l2.9 6.4M608.3 236.3l0-0.2M608.3 276.2l0.8 3.3M611.7 272.8l-3.4 3.4M608.3 236.1l3.3-1.7M609.6 405.2l-1.2-6.1M608.4 399.1l4.8-0.9M608.4 364.6l1.4 2.1M611.9 359.6l-3.5 5M608.4 493.2l3.5-0.5M610.2 435.9l-1.8 1.4M608.6 352.2l3.6-0.8M609.8 344.4l-1.2-5.4M608.6 339.0l6-2M608.6 220.5l1.5 1.1M609.0 294.7l0.2 5.4M611.7 293.8l-2.7 0.9M609.0 224.0l1.1-2.4M609.3 502.7l-0.2-0.1M613.1 279.9l-4-0.4M611.0 310.0l-1.9-3.7M609.8 305.1l-0.7 1.2M609.5 300.4l-0.3-0.3M609.3 327.6l2.4 4.5M611.9 324.9l-2.6 2.7M609.3 227.7l2.5 1.6M609.3 320.0l0 0M611.9 324.9l-2.6-4.9M609.3 320.0l3.8-2.9M611.2 509.0l-1.9-6.3M615.9 501.1l-6.6 1.6M609.3 405.7l1.1 3.7M609.6 405.2l-0.3 0.5M612.6 373.6l-3.2-2.8M609.4 370.8l0.4-4.1M609.5 300.4l0.3 4.7M609.5 300.4l6-0.7M613.0 427.6l-3.5-1.7M611.8 420.7l-2.3 5.2M617.2 403.2l-7.6 2M609.8 344.4l2.9 0.9M609.8 305.1l5.6-0.8M609.8 366.7l7.8 0.6M610.0 270.2l1.7 2.6M610.4 266.3l-0.4 3.9M610.1 312.2l3 4.9M610.1 312.2l0.9-2.2M610.1 221.6l2.3-0.4M611.7 249.7l-1.5-5.3M610.2 244.4l1-1.7M613.6 437.7l-3.4-1.8M610.4 434.3l-0.2 1.6M610.4 447.0l-0.1 0M612.7 286.8l-2.4-0.4M615.2 450.7l-4.8-3.7M610.4 447.0l4.3-4.1M610.4 409.4l5.4 0.8M612.5 432.4l-2.1 1.9M612.4 264.9l-2 1.4M610.9 419.0l0.9 1.7M610.9 419.0l0.2-2.1M610.9 255.1l6 2.2M611.2 250.3l-0.3 4.8M611.0 310.0l4.6-0.2M611.2 509.0l-0.1 0.2M611.1 416.9l4.7-2.2M611.7 249.7l-0.5 0.6M611.2 242.7l4.5-0.8M611.2 509.0l5.9 1M612.6 386.3l-1.4-0.6M614.6 488.2l-3.3-7M611.3 481.2l0-0.1M611.3 481.1l6.6-2.5M611.6 234.4l4.1 1.1M611.6 234.4l0.2-5.1M613.6 332.9l-1.9-0.8M615.1 249.4l-3.4 0.3M616.2 380.3l-4.5-2.9M612.6 373.6l-0.9 3.8M613.1 273.2l-1.4-0.4M615.6 298.1l-3.9-4.3M611.7 293.8l1.3-1.7M614.0 421.5l-2.2-0.8M616.7 226.2l-4.9 3.1M613.8 325.1l-1.9-0.2M611.9 492.7l4.2 3.4M611.9 492.7l2.7-4.5M611.9 359.6l1.1-0.3M612.8 468.9l-0.8-2.7M613.9 463.0l-1.9 3.2M612.2 351.4l2 1.4M612.8 345.4l-0.6 6M612.4 457.7l1.5 5.3M615.6 454.4l-3.2 3.3M612.4 264.9l4.3 2.7M612.9 262.8l-0.5 2.1M616.7 226.2l-4.3-5M614.3 217.9l-1.9 3.3M612.6 386.3l1.1 4.4M616.0 383.2l-3.4 3.1M612.6 373.6l3.4-1M612.7 345.3l0.1 0.1M612.7 345.3l3.4-7M613.0 292.1l-0.3-5.3M612.7 286.8l0.5-0.3M612.8 345.4l6.2 1.4M617.3 471.4l-4.5-2.5M612.9 262.8l4.4-3.4M617.4 292.5l-4.4-0.4M615.5 360.1l-2.5-0.8M614.2 352.8l-1.2 6.5M613.1 279.9l1.2 3.2M614.9 277.1l-1.8 2.8M613.1 273.2l1.8 3.9M616.4 271.0l-3.3 2.2M613.1 317.1l0.6 0.1M619.5 288.1l-6.3-1.6M614.3 283.1l-1.1 3.4M617.3 403.0l-4.1-4.8M613.2 398.2l2.2-5.9M613.4 215.3l0.9 2.6M613.6 332.9l1 4.1M617.0 329.5l-3.4 3.4M615.4 392.3l-1.7-1.6M616.6 321.1l-2.9-3.9M617.4 314.2l-3.7 3M617.1 328.6l-3.3-3.5M616.6 321.1l-2.8 4M622.1 461.7l-8.2 1.3M617.5 352.4l-3.3 0.4M614.3 217.9l6.5 0.2M614.3 283.1l5-1.1M620.2 488.1l-5.6 0.1M614.6 337.0l1.5 1.3M617.6 277.4l-2.7-0.3M618.8 253.8l-3.7-4.4M615.1 249.4l2.7-3.4M615.6 454.4l-0.4-3.7M615.2 450.7l2.3-1.1M615.4 304.3l1 1.2M615.7 300.1l-0.3 4.2M620.2 392.8l-4.8-0.5M615.5 299.7l0.2 0.4M615.6 298.1l-0.1 1.6M615.5 360.1l2.2 6.6M619.2 358.4l-3.7 1.7M617.5 311.7l-1.9-1.9M615.6 309.8l0.8-4.3M621.2 457.0l-5.6-2.6M615.6 298.1l3.3-3M616.9 239.7l-1.2-4.2M615.7 235.5l2.2-1.8M615.7 300.1l5.4 1M615.7 241.9l2.1 4.1M615.7 241.9l1.2-2.2M616.5 415.1l-0.7-0.4M615.8 414.7l0-4.5M618.8 407.2l-3 3M617.9 502.8l-2-1.7M615.9 501.1l0.2-5M623.1 386.1l-7.1-2.9M616.0 383.2l0.2-2.9M619.7 376.9l-3.7-4.3M616.0 372.6l1.6-5.1M616.1 338.3l1.9 0.3M616.1 496.1l4.7-2.3M619.7 376.9l-3.5 3.4M620.0 305.2l-3.6 0.3M620.0 272.9l-3.6-1.9M616.7 267.6l-0.3 3.4M619.8 321.4l-3.2-0.3M618.6 226.5l-1.9-0.3M616.7 267.6l4.3-2.2M623.3 240.0l-6.4-0.3M617.3 259.4l-0.4-2.1M618.8 253.8l-1.9 3.5M621.2 332.9l-4.2-3.4M617.1 328.6l-0.1 0.9M619.8 326.6l-2.7 2M617.1 510.0l0.2 0.2M617.1 510.0l0.8-7.2M617.1 513.8l0.2-3.6M618.8 407.2l-1.6-4M617.3 403.0l-0.1 0.2M617.3 403.0l4.2-4.1M617.3 510.2l9.7-0.6M617.3 471.4l0.6 7.2M624.0 467.8l-6.7 3.6M617.3 259.4l2.9 2M620.6 316.4l-3.2-2.2M617.5 311.7l-0.1 2.5M618.9 295.1l-1.5-2.6M617.4 292.5l2.1-4.4M620.5 354.9l-3-2.5M617.5 352.4l1.5-5.6M621.6 309.8l-4.1 1.9M617.6 367.5l0-0.2M617.7 366.7l-0.1 0.6M623.0 370.0l-5.4-2.5M617.6 277.4l2.1 3.2M620.2 274.3l-2.6 3.1M622.8 362.3l-5.1 4.4M620.6 246.2l-2.8-0.2M623.7 235.0l-5.8-1.3M618.6 226.6l-0.7 7.1M617.9 502.8l6.4-0.9M617.9 478.6l1.8 0.9M619.1 339.4l-1.1-0.8M621.2 332.9l-3.2 5.7M618.6 226.5l0 0.1M618.6 226.5l3.1-6.5M624.9 228.8l-6.3-2.2M620.2 407.8l-1.4-0.6M623.4 252.4l-4.6 1.4M618.9 295.1l1.4 0.3M619.0 346.8l1.5-0.8M619.1 339.4l1.4 6.6M624.4 338.8l-5.3 0.6M619.2 358.4l3.6 3.9M619.2 358.4l1.3-3.5M619.3 282.0l2.5 4.3M619.7 280.6l-0.4 1.4M621.4 287.4l-1.9 0.7M619.7 376.9l3.1-0.3M623.3 278.9l-3.6 1.7M621.2 486.9l-1.5-7.4M626.9 477.7l-7.2 1.8M619.8 326.6l4.7 0.9M619.8 326.6l0-5.2M619.8 321.4l1-0.7M620.0 272.9l0.2 1.4M622.8 269.9l-2.8 3M621.8 308.9l-1.8-3.7M620.0 305.2l1.6-2.5M625.6 517.1l-5.6-0.4M620.2 407.8l0.9 1.5M624.2 406.2l-4 1.6M620.8 493.8l-0.6-5.7M620.2 488.1l1-1.2M621.0 265.4l-0.8-4M620.2 261.4l6.7-3.8M621.9 396.4l-1.7-3.6M623.2 388.8l-3 4M623.7 276.3l-3.5-2M620.3 295.4l1.4 4.3M620.3 295.4l1.4-0.8M620.5 354.9l2.5-0.6M623.1 346.5l-2.6-0.5M623.6 250.9l-3-4.7M620.6 246.2l3.5-4.4M620.6 316.4l0.2 4.3M620.6 316.4l3.1-1.5M620.8 218.1l0.9 1.9M621.8 213.9l-1 4.2M623.1 321.2l-2.3-0.5M624.3 495.6l-3.5-1.8M621.0 265.4l1.3 0.9M621.6 302.7l-0.5-1.6M621.7 299.7l-0.6 1.4M621.2 486.9l6.2 0.3M621.2 332.9l2.3-0.3M623.0 289.7l-1.6-2.3M621.4 287.4l0.4-1.1M626.1 402.7l-4.6-3.8M621.5 398.9l0.4-2.5M621.6 302.7l3.9 1.2M621.6 309.8l2.5 2.3M621.8 308.9l-0.2 0.9M626.0 298.3l-4.3 1.4M625.4 295.6l-3.7-1M621.7 294.6l1.3-4.9M628.5 221.5l-6.8-1.5M624.9 284.5l-3.1 1.8M621.8 308.9l4.3-2.8M628.9 396.1l-7 0.3M622.1 461.7l1.9 6.1M622.1 461.7l0.7-1.9M622.8 269.9l-0.5-3.6M622.3 266.3l5.4-1.2M622.8 376.6l0.5 0.3M622.8 376.6l0.2-6.6M622.8 269.9l3.6 2.1M622.8 362.3l1.3 0.1M626.9 367.7l-3.9 2.3M626.2 355.7l-3.2-1.4M623.0 354.3l1.1-6.4M627.6 291.2l-4.6-1.5M624.1 347.9l-1-1.4M626.2 342.6l-3.1 3.9M623.1 321.2l2.2 2.8M626.9 317.8l-3.8 3.4M623.2 388.8l-0.1-2.7M623.1 386.1l0.6-0.8M630.9 391.9l-7.7-3.1M624.1 241.8l-0.8-1.8M624.2 235.8l-0.9 4.2M623.7 385.3l-0.4-8.4M628.5 376.7l-5.2 0.2M623.3 278.9l2.4 2.4M623.7 276.3l-0.4 2.6M627.2 256.7l-3.8-4.3M623.4 252.4l0.2-1.5M623.5 332.6l2.6 3.4M625.2 328.8l-1.7 3.8M628.1 247.1l-4.5 3.8M626.8 317.5l-3.1-2.6M623.7 314.9l0.4-2.8M623.7 385.3l7-1.9M623.7 276.3l2.7-1.5M624.2 235.8l-0.5-0.8M624.9 228.8l-1.2 6.2M624.0 467.8l0.5 0.3M624.1 347.9l4.2 1.1M627.0 311.3l-2.9 0.8M627.2 365.6l-3.1-3.2M626.7 357.0l-2.6 5.4M624.1 241.8l4 1.6M632.0 235.5l-7.8 0.3M624.3 501.9l0-6.3M624.3 495.6l4.3-2.5M624.3 501.9l3.7 3.1M626.2 342.6l-1.8-3.8M624.4 338.8l1.7-2.8M624.5 327.5l0.7 1.3M625.3 324.0l-0.8 3.5M627.8 474.4l-3.3-6.3M627.1 467.0l-2.6 1.1M624.8 522.1l0.8-5M628.0 227.5l-3.1 1.3M629.0 286.2l-4.1-1.7M625.7 281.3l-0.8 3.2M625.2 328.8l5.1 0.4M625.3 324.0l3.5-1.1M626.3 297.7l-0.9-2.1M625.4 295.6l2.2-4.4M625.5 303.9l0.6 2.2M625.5 303.9l1.4-1.8M625.6 517.1l3.1-2.7M628.7 280.2l-3 1.1M626.0 298.3l0.9 3.8M626.3 297.7l-0.3 0.6M626.0 404.1l0.1-1.4M626.1 306.1l1 0.7M626.1 336.0l1.5-0.1M626.1 402.7l2.3-1.5M626.7 357.0l-0.5-1.3M626.2 355.7l3-3.4M629.2 342.7l-3-0.1M626.3 297.7l5.1-0.6M626.4 272.0l0 2.8M626.4 272.0l3.1-2.6M626.4 274.8l2.8 1.7M631.6 359.1l-4.9-2.1M626.9 317.8l-0.1-0.3M630.0 312.9l-3.2 4.6M626.9 477.7l1.7 2.3M627.8 474.4l-0.9 3.3M626.9 302.1l4.7-0.1M626.9 317.8l1 0.8M626.9 257.6l1.7 5.7M627.2 256.7l-0.3 0.9M631.1 372.1l-4.2-4.4M627.2 365.6l-0.3 2.1M629.9 312.7l-2.9-1.4M627.0 311.3l0.1-4.5M628.7 514.4l-1.7-4.8M627.0 509.6l1-4.6M627.1 306.8l2.6-0.2M631.9 362.8l-4.7 2.8M627.2 256.7l5-1.8M627.4 487.2l1.5 1.7M627.4 487.2l1.2-7.2M627.8 291.1l-0.2 0.1M631.7 339.8l-4.1-3.9M631.6 331.6l-4 4.3M629.5 269.4l-1.8-4.3M628.6 263.3l-0.9 1.8M630.9 473.4l-3.1 1M628.2 291.3l-0.4-0.2M629.0 286.2l-1.2 4.9M628.8 322.9l-0.9-4.3M627.9 318.6l3.6-0.2M628.0 505.0l5.6-2.5M628.0 227.5l5.4 3.8M628.0 227.5l0.5-6M628.1 247.1l4.8 3.8M628.1 247.1l0-3.7M628.1 243.4l5.3-3M628.2 291.3l3.3 5.2M628.2 291.3l6.1-1.1M628.2 213.2l3.1 5.9M629.2 352.3l-0.9-3.3M628.3 349.0l2.7-2.4M628.5 221.5l2.8-2.4M631.2 382.5l-2.7-5.8M631.3 373.2l-2.8 3.5M628.6 493.1l4.4 3.3M628.6 493.1l0.3-4.2M628.6 263.3l6.4 0.1M634.0 481.1l-5.4-1.1M628.7 280.2l1.9 1.6M629.2 276.5l-0.5 3.7M630.5 515.1l-1.8-0.7M628.8 322.9l1 0.5M628.8 527.1l0.9-0.3M628.9 488.9l7.1-1.9M629.3 400.0l-0.4-3.9M631.2 393.4l-2.3 2.7M629.3 286.1l-0.3 0.1M629.2 352.3l4.3 0.8M632.7 275.4l-3.5 1.1M629.2 342.7l1.8 3.9M631.7 339.8l-2.5 2.9M629.3 286.1l5.6 1.3M629.3 286.1l1.3-4.3M630.7 269.7l-1.2-0.3M635.0 529.4l-5.3-2.6M633.0 521.6l-3.3 5.2M632.0 308.8l-2.3-2.2M629.7 306.6l1.9-4.5M630.3 329.2l-0.5-5.8M629.8 323.4l2.5-1M630.0 312.9l-0.1-0.2M629.9 312.7l2.1-3.9M633.0 315.0l-3-2.1M630.3 329.2l1.1 0.7M633.0 521.6l-2.5-6.5M630.5 515.1l4.2-1.2M630.6 281.8l2.1-0.2M632.0 390.1l-1.3-6.7M631.2 382.5l-0.5 0.9M633.0 274.8l-2.3-5.1M630.7 269.7l3.4-1.7M631.2 393.4l-0.3-1.5M632.0 390.1l-1.1 1.8M631.0 346.6l3.2 0.6M631.3 373.2l-0.2-1.1M635.7 366.3l-4.6 5.8M633.4 394.7l-2.2-1.3M635.8 381.9l-4.6 0.6M631.3 219.1l0.6 0M634.4 374.3l-3.1-1.1M631.6 331.6l-0.2-1.7M631.4 329.9l3.9-2.7M632.4 299.0l-1-1.9M631.5 296.5l-0.1 0.6M631.5 318.4l1.5 2.5M633.0 315.0l-1.5 3.4M635.1 293.0l-3.6 3.5M631.6 302.0l0 0.1M632.4 299.0l-0.8 3M634.1 333.9l-2.5-2.3M635.1 304.7l-3.5-2.6M631.6 359.1l0.3 3.7M631.6 359.1l2.4-2.3M631.7 339.8l1.9-0.4M635.4 364.9l-3.5-2.1M635.6 221.6l-3.7-2.5M631.9 219.1l6.1-6.9M636.9 388.4l-4.9 1.7M632.0 235.5l1.4 4.9M633.4 231.3l-1.4 4.2M634.4 308.3l-2.4 0.5M634.5 256.5l-2.3-1.6M632.9 250.9l-0.7 4M635.3 325.9l-3-3.5M633.0 320.9l-0.7 1.5M637.5 299.1l-5.1-0.1M632.7 281.6l2.7 3.8M634.5 279.0l-1.8 2.6M632.7 275.4l1.8 3.6M633.0 274.8l-0.3 0.6M635.4 248.7l-2.5 2.2M637.1 319.6l-4.1 1.3M633.0 274.8l3.3-1.4M633.0 315.0l1-0.1M640.1 522.7l-7.1-1.1M633.0 496.4l0.6 6.1M638.6 492.2l-5.6 4.2M634.5 241.0l-1.1-0.6M633.4 231.3l3.2-1.4M634.0 356.8l-0.5-3.7M633.5 353.1l1.4-1.9M633.6 502.5l1.4 0.5M633.6 339.4l2.3 1.3M633.6 339.4l0.5-5.5M634.0 314.9l3.3 4.1M636.5 312.4l-2.5 2.5M634.0 356.8l5.9 1.4M634.1 268.0l3.2 2.7M634.1 268.0l0.9-4.6M634.1 333.9l3.9-0.5M636.0 487.0l-1.8-5.6M634.9 351.2l-0.7-4M634.2 347.2l1.4-1.3M634.3 290.2l0.8 2.8M634.9 287.5l-0.6 2.7M637.1 380.4l-2.7-6.1M634.4 374.3l4.5-1.9M636.1 309.7l-1.7-1.4M634.4 308.3l0.7-3.6M634.5 279.0l3.7 0.7M634.5 256.5l0.8 6.6M634.5 256.5l4.3-0.6M634.5 241.0l0.9 7.7M634.5 241.0l4.2-0.3M639.9 516.6l-5.2-2.7M634.7 513.9l3.4-6.3M640.1 352.0l-5.2-0.8M634.9 287.4l0 0.1M634.9 287.4l0.5-2M641.4 289.1l-6.5-1.6M638.1 507.6l-3.1-4.6M642.7 498.9l-7.7 4.1M635.3 263.1l-0.3 0.3M635.0 210.4l3 1.8M638.0 303.4l-2.9 1.3M636.8 293.7l-1.7-0.7M635.3 327.2l0-1.3M638.1 322.4l-2.8 3.5M638.2 328.5l-2.9-1.3M639.0 263.7l-3.7-0.6M635.7 366.3l-0.3-1.4M635.4 364.9l4.3-3.7M635.4 285.4l2.8-2.3M635.4 248.7l6.7 1M637.3 228.7l-1.7-7.1M635.6 221.6l5.7-1.9M640.3 346.9l-4.7-1M635.9 340.7l-0.3 5.2M639.2 369.1l-3.5-2.8M637.6 386.7l-1.8-4.8M637.1 380.4l-1.3 1.5M635.9 340.7l3.1-0.9M638.3 488.2l-2.3-1.2M636.1 309.7l0.4 2.7M636.1 309.7l4.1-1.8M636.3 273.4l3 2.6M636.3 273.4l1-2.7M639.1 313.5l-2.6-1.1M641.6 234.8l-5-4.9M636.6 229.9l0.7-1.2M637.7 299.0l-0.9-5.3M640.9 292.7l-4.1 1M638.1 322.4l-1-2.8M637.3 319.0l-0.2 0.6M637.9 380.2l-0.8 0.2M643.2 226.3l-5.9 2.4M637.3 270.7l3.3-1.5M639.5 317.8l-2.2 1.2M638.0 303.4l-0.5-4.3M637.5 299.1l0.2-0.1M641.4 298.2l-3.7 0.8M640.2 381.4l-2.3-1.2M637.9 380.2l4.2-5M638.0 303.4l3 1.6M640.1 336.3l-2.1-2.9M638.0 333.4l1.2-3M638.0 212.2l0.4 0M642.1 324.2l-4-1.8M643.5 508.8l-5.4-1.2M638.2 279.7l0 3.4M639.2 278.7l-1 1M641.9 284.8l-3.7-1.7M639.2 330.4l-1-1.9M642.1 324.3l-3.9 4.2M638.4 212.2l3.6 5.5M642.4 207.7l-4 4.5M642.7 498.9l-4.1-6.7M639.2 489.7l-0.6 2.5M638.7 240.7l1.9 1.3M641.6 234.8l-2.9 5.9M638.8 255.9l3.7 4.3M642.4 250.4l-3.6 5.5M638.9 372.4l3.2 2.8M639.2 369.1l-0.3 3.3M638.9 527.7l1.2-5M641.8 342.0l-2.8-2.2M640.1 336.3l-1.1 3.5M641.0 268.6l-2-4.9M642.4 260.7l-3.4 3M639.1 313.5l0.4 4.3M642.7 311.8l-3.6 1.7M639.2 369.1l4.4-1.9M639.2 278.7l3.5 0.9M639.2 278.7l0.1-2.7M642.7 330.5l-3.5-0.1M639.3 200.4l4.2-4.9M639.3 276.0l3.1-2.1M643.2 318.2l-3.7-0.4M639.7 361.2l4.2 4.5M639.7 361.2l0.4-2.8M640.1 358.4l-0.2-0.2M639.9 358.2l0.2-6.2M641.1 521.9l-1.2-5.3M639.9 516.6l4.7-5M640.1 352.0l0 0M644.1 357.8l-4 0.6M640.3 346.9l-0.2 5.1M646.4 351.5l-6.3 0.5M640.1 522.7l1-0.8M640.1 336.3l5-1.3M642.7 311.8l-2.5-3.9M641.0 305.0l-0.8 2.9M640.3 204.7l2.1 3M642.2 345.5l-1.9 1.4M640.6 242.0l1.6 7.4M647.9 240.8l-7.3 1.2M640.6 269.2l1.8 4.7M641.0 268.6l-0.4 0.6M640.9 193.8l2.3 1M642.6 294.7l-1.7-2M640.9 292.7l0.5-3.6M641.0 305.0l0.7-0.3M645.6 267.9l-4.6 0.7M641.1 521.9l2.5 0.2M644.2 224.1l-2.9-4.4M641.3 219.7l0.7-2M642.5 288.0l-1.1 1.1M641.4 298.2l1.4 4.1M642.8 296.4l-1.4 1.8M641.6 234.8l5-0.3M641.7 304.7l3.5 1.5M642.8 302.3l-1.1 2.4M642.2 345.5l-0.4-3.5M647.7 339.1l-5.9 2.9M642.5 288.0l-0.6-3.2M641.9 284.8l2.2-2.9M642.0 217.7l6.2-2.1M642.1 324.3l0-0.1M642.1 324.2l1.8-3.3M643.2 375.2l-1.1 0M642.1 249.7l0.3 0.7M642.2 249.4l-0.1 0.3M642.1 324.3l2.9 3M646.1 347.1l-3.9-1.6M649.0 244.0l-6.8 5.4M642.4 250.4l2.7 1.9M645.8 275.0l-3.4-1.1M642.4 260.7l4.7 3.9M642.4 260.7l0.1-0.5M642.4 207.7l3.3 0.2M642.5 260.2l3.4-3.2M642.5 288.0l4.2 0.4M642.8 296.4l-0.2-1.7M642.6 294.7l4.7-2.4M642.7 311.8l1 0.3M644.1 281.9l-1.4-2.3M642.7 279.6l3.1-4.5M643.9 499.2l-1.2-0.3M645.1 335.0l-2.4-4.5M642.7 330.5l2.3-3.2M648.0 298.7l-5.2-2.3M647.3 300.8l-4.5 1.5M643.9 320.9l-0.7-2.7M643.2 318.2l1.9-2.8M648.0 232.6l-4.8-6.3M643.2 226.3l1-2.2M643.2 375.2l1.2 1.9M643.2 375.2l3.5-3.6M643.5 195.5l-0.3-0.7M644.9 188.8l-1.7 6M647.9 197.6l-4.4-2.1M644.6 510.1l-1.1-1.3M643.5 508.8l1.2-5.2M643.6 367.2l3.1 4.4M643.6 367.2l0.3-1.5M645.1 315.4l-1.4-3.3M643.7 312.1l2.7-2.9M649.1 321.9l-5.2-1M643.9 365.7l3.8-2.6M645.7 282.0l-1.6-0.1M648.0 362.0l-3.9-4.2M647.7 353.1l-3.6 4.7M644.2 224.1l4.6-1.3M644.3 188.1l0.6 0.7M644.9 188.8l4.3-1.1M645.0 327.3l2.6 0.1M645.1 335.0l1 0.3M645.1 315.4l2.3 0.3M645.1 252.3l0.8 4.7M651.1 251.3l-6 1M645.2 306.2l1.2 3M648.2 303.5l-3 2.7M645.6 267.9l1 1.7M647.1 264.6l-1.5 3.3M645.7 207.9l2.5 7.7M647.4 206.6l-1.7 1.3M648.5 286.0l-2.8-4M645.7 282.0l2.3-2.2M645.8 275.0l0 0.1M645.8 275.0l0.8-5.4M645.8 275.1l1.2 0.5M649.7 258.4l-3.8-1.4M646.1 347.1l0.3 4.4M647.8 345.8l-1.7 1.3M647.7 339.1l-1.6-3.8M646.1 335.3l2.7-3M647.7 353.1l-1.3-1.6M648.2 309.3l-1.8-0.1M646.6 269.6l3.9 0.8M646.6 234.5l1.3 6.3M646.6 234.5l1.4-1.9M647.3 292.3l-0.6-3.9M648.5 287.0l-1.8 1.4M646.7 371.6l2.8 0.1M648.0 279.8l-1-4.2M650.7 274.7l-3.7 0.9M647.1 264.6l0.6-0.2M647.3 300.8l0.9 2.7M648.0 298.7l-0.7 2.1M647.3 292.3l2.4 1.9M649.8 319.2l-2.4-3.5M647.4 315.7l3.8-2.9M647.4 206.6l9.5 3M649.4 200.6l-2 6M648.8 332.3l-1.2-4.9M649.5 325.6l-1.9 1.8M648.4 339.6l-0.7-0.5M648.5 353.3l-0.8-0.2M647.7 363.1l4 4.2M647.7 363.1l0.3-1.1M647.7 264.4l4.3 2M650.4 259.9l-2.7 4.5M647.8 345.8l4.7 0.9M647.8 345.8l0.6-6.2M649.4 200.6l-1.5-3M653.9 191.9l-6 5.7M647.9 240.8l1 1M648.0 298.7l0.9-0.6M648.0 362.0l2.5-1.9M648.0 232.6l1.5-0.6M652.8 281.2l-4.8-1.4M651.0 305.1l-2.8-1.6M648.2 181.2l2.5 0.4M648.2 215.6l1.6 1.1M651.2 311.9l-3-2.6M651.0 305.1l-2.8 4.2M648.4 339.6l4.7-0.1M648.5 287.0l4.8 2.1M648.5 287.0l0-1M648.5 353.3l1.6 1.7M648.5 353.3l4.9-4.2M652.8 281.2l-4.3 4.8M653.2 226.8l-4.4-4M648.8 222.8l1-6.1M648.8 332.3l5.4 0.2M648.9 241.8l0.1 2.2M648.9 241.8l4.5-1.5M652.8 300.8l-3.9-2.7M648.9 298.1l1.2-2.6M649.0 244.0l2.3 3M649.1 321.9l0.7 1.5M649.1 321.9l0.7-2.7M649.2 187.7l4.3 2.8M649.2 187.7l1.5-6.1M649.4 200.6l7.5 0.5M649.5 232.0l5.8 4.1M649.5 232.0l3.7-5.2M649.5 325.6l5.3 3M649.8 323.4l-0.3 2.2M649.9 373.9l-0.4-2.2M650.9 370.8l-1.4 0.9M649.7 294.2l0.4 1.3M649.7 294.2l3.6-5.1M650.4 259.9l-0.7-1.5M652.9 253.0l-3.2 5.4M649.8 319.2l3.7-1.6M649.8 216.7l5.6-1.2M649.8 323.4l6.5-1.4M650.1 295.5l6.6 0.1M655.9 355.2l-5.8-0.2M650.5 360.1l-0.4-5.1M655.6 261.3l-5.2-1.4M650.7 274.7l-0.2-4.3M652.3 268.9l-1.8 1.5M650.5 360.1l3.8 0.8M650.7 274.7l0.6 0.2M650.7 181.6l0 0M650.7 181.6l0.2-2.6M650.7 181.6l4.2 0.6M652.0 371.2l-1.1-0.4M650.9 370.8l0.8-3.5M651.8 305.0l-0.8 0.1M652.9 253.0l-1.8-1.7M651.3 247.0l-0.2 4.3M651.2 311.9l0.1 0.7M651.2 311.9l2.9-4.2M653.5 317.6l-2.3-4.8M651.3 312.6l-0.1 0.2M658.0 245.8l-6.7 1.2M651.3 274.9l1.5 6.3M651.3 274.9l4.4-1M651.3 312.6l6.7 0.3M651.7 367.3l2.4-1.5M651.8 305.0l2.2 1.3M651.8 305.0l1-4.2M652.0 266.4l0.3 2.5M655.5 263.5l-3.5 2.9M655.9 270.8l-3.6-1.9M652.5 346.7l0.9 2.4M652.5 346.7l1.9-3.5M652.8 281.2l0 0M652.8 300.8l2.9-1M652.8 281.2l0.6 0.2M653.9 253.2l-1-0.2M654.4 343.2l-1.3-3.7M653.1 339.5l2.9-3.3M653.2 226.8l1.2-0.2M653.3 289.1l0.4-0.1M657.6 243.4l-4.2-3.1M653.4 240.3l1.9-4.2M655.6 350.1l-2.2-1M654.6 282.7l-1.2-1.3M656.9 277.6l-3.5 3.8M653.9 191.9l-0.4-1.4M656.8 186.1l-3.3 4.4M653.5 317.6l1.6 0.5M653.7 289.0l3.2 6.1M655.0 287.7l-1.3 1.3M658.7 195.0l-4.8-3.1M657.0 257.3l-3.1-4.1M653.9 253.2l4.9-3.6M654.1 307.7l-0.1-1.4M658.1 304.0l-4.1 2.3M655.2 366.1l-1.1-0.3M654.1 365.8l0.2-4.9M657.7 310.9l-3.6-3.2M654.2 332.5l1.8 3.7M654.2 332.5l0.9-3.1M654.3 360.9l1.7-1.1M658.6 228.7l-4.2-2.1M654.4 226.6l3.1-7.8M657.8 344.2l-3.4-1M654.6 282.7l5.1 0.2M655.0 287.7l-0.4-5M655.1 329.4l-0.3-0.8M656.6 322.6l-1.8 6M656.8 186.1l-1.9-3.9M657.8 179.3l-2.9 2.9M655.0 287.7l4.4 0.2M660.1 328.7l-5 0.7M655.1 318.1l1.4 2.3M655.1 318.1l2.9-5.2M655.3 236.1l0.3-0.1M655.4 215.5l2.1 3.3M657.1 211.1l-1.7 4.4M655.5 263.5l2.7 3.1M655.5 263.5l0.1-2.2M656.1 260.8l-0.5 0.5M655.6 236.0l5 2.3M655.6 236.0l3.5-6M656.6 354.4l-1-4.3M659.1 347.9l-3.5 2.2M655.7 273.9l1.2 3.7M656.4 272.4l-0.7 1.5M655.7 299.8l2.4 4.2M655.7 299.8l1.2-3.4M656.0 359.8l-0.1-4.6M656.6 354.4l-0.7 0.8M655.9 270.8l0.5 1.6M658.2 266.6l-2.3 4.2M656.0 336.2l0.6 0.1M656.0 359.8l4.6 1.7M662.5 261.9l-6.4-1.1M657.0 257.3l-0.9 3.5M657.8 179.3l-1.5-3M656.3 322.0l0.3 0.6M656.3 322.0l0.2-1.6M656.4 272.4l3.4 0.1M656.5 320.4l5.3-2.4M662.7 354.4l-6.1 0M659.8 338.4l-3.2-2.1M661.7 332.3l-5.1 4M656.6 322.6l3.9 1.8M656.9 296.4l-0.2-0.8M656.9 295.1l-0.2 0.5M661.4 186.4l-4.6-0.3M659.8 293.0l-2.9 2.1M656.9 209.6l0.2 1.5M659.1 204.8l-2.2 4.8M656.9 296.4l4.6 2.6M659.0 278.1l-2.1-0.5M659.1 204.8l-2.2-3.7M656.9 201.1l1.8-6.1M660.0 256.3l-3 1M657.1 211.1l7.2 2M664.0 220.6l-6.5-1.8M657.6 243.4l0.4 2.4M657.6 243.4l3-4.4M657.7 310.9l0.4 2M659.9 307.1l-2.2 3.8M657.8 179.3l4.7 0.4M659.1 347.9l-1.3-3.7M660.5 341.9l-2.7 2.3M658.0 245.8l0.9 0.8M658.0 312.9l0.1 0M658.1 312.9l0.9 0.2M658.1 304.0l1 0.2M658.2 266.6l2.9 0.1M659.1 230.0l-0.5-1.3M658.6 228.7l5.9-5.2M658.7 195.0l0.8-0.3M661.0 254.4l-2.2-4.8M658.8 249.6l0.3-0.7M658.9 246.6l0.2 2.3M658.9 246.6l4.2-1.6M659.0 313.1l2.8 4.9M664.0 311.3l-5 1.8M659.0 278.1l1.3 4.1M659.0 278.1l3.6-2.1M661.3 348.6l-2.2-0.7M659.9 307.1l-0.8-2.9M659.8 303.8l-0.7 0.4M659.1 230.0l2.6 1.9M659.1 204.8l4.3-0.4M664.9 250.6l-5.8-1.7M659.4 287.9l0.4 5.1M660.0 287.4l-0.6 0.5M659.5 194.7l6.6 2.1M662.2 189.1l-2.7 5.6M660.0 287.4l-0.3-4.5M659.7 282.9l0.6-0.7M659.8 272.5l2.8 3.5M659.8 272.5l2.9-3.7M660.5 341.9l-0.7-3.5M664.6 337.1l-4.8 1.3M664.0 304.0l-4.2-0.2M659.8 303.8l1.7-4.8M659.8 293.0l3.1 0.3M664.6 309.4l-4.7-2.3M660.0 256.3l3.5 3.2M660.0 256.3l1-1.9M660.0 287.4l4 0.1M660.1 328.7l1.6 3.6M660.1 328.7l1.4-2.2M660.3 282.2l3.8-0.4M665.4 344.2l-4.9-2.3M660.5 324.4l1 2.1M660.5 324.4l2.5-3.4M660.6 239.0l0-0.7M662.4 236.2l-1.8 2.1M660.6 361.8l0-0.3M660.6 361.5l2.5-3.5M664.2 242.0l-3.6-3M664.3 253.7l-3.3 0.7M661.1 266.7l1.6 2.1M662.7 263.1l-1.6 3.6M663.3 353.4l-2-4.8M661.3 348.6l4.1-4.4M661.4 186.4l0.8 2.7M661.4 186.4l2.5-4.2M661.5 299.0l2-0.6M665.3 326.7l-3.8-0.2M661.7 332.3l1.8 0.5M661.7 231.9l0.7 4.3M661.7 231.9l4.8-1.2M661.8 318.0l0.2 0.1M662.1 173.8l-0.1-0.1M662.0 318.1l1 2.9M662.0 318.1l4.4-2.3M662.5 179.7l-0.4-5.9M662.1 173.8l0.5-0.2M662.2 189.1l6.3 1.5M666.9 236.7l-4.5-0.5M662.5 261.9l0.2 1.2M663.5 259.5l-1 2.4M662.5 179.7l1.4 1.3M662.6 276.0l0.5 0.1M663.1 358.0l-0.4-3.6M663.3 353.4l-0.6 1M662.7 263.1l5.1 1.6M664.9 269.5l-2.2-0.7M663.8 294.5l-0.9-1.2M662.9 293.3l2.1-4.3M666.6 322.5l-3.6-1.5M664.7 358.7l-1.6-0.7M663.1 276.1l2 2M665.7 271.1l-2.6 5M666.6 247.5l-3.5-2.5M663.1 245.0l1.1-3M663.3 353.4l5.3-1.3M663.4 204.4l1.1 0.6M666.1 196.8l-2.7 7.6M663.5 298.4l0.9 0.6M663.8 294.5l-0.3 3.9M665.0 336.1l-1.5-3.3M663.5 332.8l3-3M664.9 258.9l-1.4 0.6M663.8 294.5l4.4-0.3M668.8 186.5l-4.9-4.3M663.9 182.2l0-1.2M669.0 178.4l-5.1 2.6M664.0 311.3l2.4 4.5M664.6 309.4l-0.6 1.9M664.0 287.5l0.8 0.7M664.0 287.5l0.5-5.1M664.5 223.5l-0.5-2.9M665.7 218.5l-1.7 2.1M665.6 307.8l-1.6-3.8M665.3 302.3l-1.3 1.7M664.5 282.4l-0.4-0.6M664.1 281.8l1-3.7M664.2 242.0l1.9-0.7M666.0 255.7l-1.7-2M664.9 250.6l-0.6 3.1M665.7 218.5l-1.4-5.4M664.3 213.1l1.8-2.1M665.3 302.3l-0.9-3.3M669.0 297.8l-4.6 1.2M664.5 205.0l1.6 6M669.1 204.6l-4.6 0.4M665.0 224.0l-0.5-0.5M669.0 283.6l-4.5-1.2M666.8 341.7l-2.2-4.6M664.6 337.1l0.4-1M664.6 309.4l0.7-0.6M665.0 289.0l-0.2-0.8M664.8 288.2l5.1-2.8M666.6 249.4l-1.7 1.2M664.9 258.9l3.2 1.6M664.9 258.9l1.1-3.2M664.9 269.5l0.8 1.6M668.3 265.8l-3.4 3.7M669.9 334.7l-4.9 1.4M669.5 292.0l-4.5-3M665.0 224.0l6.8 1M665.0 224.0l1.8 6.2M665.1 278.1l1.5-0.3M666.6 328.3l-1.3-1.6M665.3 326.7l1.3-4.2M668.9 302.7l-3.6-0.4M670.5 310.7l-5.2-1.9M665.6 307.8l-0.3 1M665.4 344.2l0 0M665.4 344.2l1.4-2.5M669.9 349.0l-4.5-4.8M665.6 307.8l3.9-2.8M669.4 272.8l-3.7-1.7M665.7 218.5l2.9-0.6M670.2 254.6l-4.2 1.1M666.1 196.8l0.2-0.1M669.8 243.4l-3.7-2.1M666.9 236.7l-0.8 4.6M669.0 210.9l-2.9 0.1M670.4 200.1l-4.1-3.4M669.5 192.2l-3.2 4.5M667.2 316.0l-0.8-0.2M666.5 230.7l1.6 4.8M666.8 230.2l-0.3 0.5M670.3 333.4l-3.8-3.6M666.5 329.8l0.1-1.5M670.8 327.1l-4.2 1.2M666.6 249.4l0-1.9M666.6 247.5l3.4-3.5M670.4 251.7l-3.8-2.3M670.1 280.1l-3.5-2.3M669.6 274.3l-3 3.5M666.7 322.5l-0.1 0M671.5 323.6l-4.8-1.1M668.0 317.9l-1.3 4.6M666.8 341.7l4.7-1.6M670.8 229.4l-4 0.8M667.9 236.1l-1 0.6M668.0 317.9l-0.8-1.9M670.2 313.9l-3 2.1M668.4 265.7l-0.6-1M667.8 264.7l0.3-4.2M671.6 239.0l-3.7-2.9M668.1 235.5l-0.2 0.6M669.9 318.8l-1.9-0.9M673.1 232.6l-5 2.9M670.2 259.5l-2.1 1M669.0 297.8l-0.8-3.6M668.2 294.2l1.3-2.2M671.9 270.5l-3.6-4.7M668.3 265.8l0.1-0.1M668.4 265.7l4.3-1.6M668.4 173.1l0.8 1.1M668.5 190.6l1 1.6M668.5 190.6l0.3-4.1M669.8 353.9l-1.2-1.8M668.6 352.1l1.3-3.1M673.1 220.3l-4.5-2.4M668.6 217.9l2.3-3.8M672.4 184.3l-3.6 2.2M668.9 302.7l0.6 2.3M671.1 299.4l-2.2 3.3M670.9 214.1l-1.9-3.2M671.0 208.5l-2 2.4M673.1 180.7l-4.1-2.3M669.0 178.4l0.2-4.2M669.9 285.4l-0.9-1.8M669.0 283.6l1.1-3.5M669.0 297.8l2.1 1.6M670.5 205.7l-1.4-1.1M670.4 200.1l-1.3 4.5M675.0 172.2l-5.8 2M669.4 272.8l0.2 1.5M671.9 270.5l-2.5 2.3M670.4 192.2l-0.9 0M669.5 305.0l1.6 1M670.3 291.7l-0.8 0.3M672.9 276.8l-3.3-2.5M670.0 244.0l-0.2-0.6M671.6 239.0l-1.8 4.4M670.2 348.9l-0.3 0.1M669.9 334.7l2.1 4.6M670.3 333.4l-0.4 1.3M670.7 285.9l-0.8-0.5M671.3 244.7l-1.3-0.7M672.1 279.4l-2 0.7M673.2 349.7l-3-0.8M670.2 348.9l3-4.3M672.8 261.0l-2.6-1.5M670.4 255.0l-0.2 4.5M670.4 255.0l-0.2-0.4M670.2 254.6l0.2-2.9M672.0 292.1l-1.7-0.4M670.3 291.7l0.4-5.8M674.0 331.0l-3.7 2.4M670.4 251.7l3.2-2.4M670.4 192.2l3.8 2.8M675.3 188.0l-4.9 4.2M670.4 200.1l2.3-0.5M670.4 255.0l5.3 1.3M671.0 208.5l-0.5-2.8M670.5 205.7l4.2-1.3M670.6 312.0l-0.1-1.3M670.9 310.1l-0.4 0.6M673.0 285.5l-2.3 0.4M674.0 330.5l-3.2-3.4M670.8 327.1l0.7-3.5M673.0 231.8l-2.2-2.4M671.8 225.0l-1 4.4M674.6 213.6l-3.7 0.5M675.0 210.1l-4-1.6M671.3 299.3l-0.2 0.1M671.3 307.3l-0.2-1.3M671.5 305.8l-0.4 0.2M671.3 244.7l2.3 4.6M676.6 242.5l-5.3 2.2M672.8 300.1l-1.5-0.8M673.5 295.1l-2.2 4.2M671.5 323.6l0 0M673.2 344.6l-1.7-4.5M672.0 339.3l-0.5 0.8M672.5 238.8l-0.9 0.2M672.9 224.3l-1.1 0.7M673.8 270.3l-1.9 0.2M673.5 295.1l-1.5-3M674.7 290.6l-2.7 1.5M677.2 337.9l-5.2 1.4M673.4 280.7l-1.3-1.3M672.9 276.8l-0.8 2.6M675.3 188.0l-2.9-3.7M673.1 180.7l-0.7 3.6M672.5 238.8l3.9 2.7M672.5 238.8l2.5-3.7M676.1 266.8l-3.4-2.7M672.8 261.0l-0.1 3.1M675.7 201.9l-3-2.3M672.7 199.6l1.5-4.6M675.0 259.7l-2.2 1.3M672.9 224.3l4.2 2M672.9 224.3l0.2-4M675.2 275.8l-2.3 1M674.5 286.2l-1.5-0.7M673.7 282.2l-0.7 3.3M673.0 231.8l0.1 0.8M678.0 227.8l-5 4M675.0 235.1l-1.9-2.5M675.2 218.9l-2.1 1.4M675.0 180.1l-1.9 0.6M673.2 344.6l4.1 0.5M674.2 295.1l-0.7 0M674.5 249.4l-0.9-0.1M675.8 274.5l-2-4.2M676.1 267.5l-2.3 2.8M674.0 331.0l3 2.9M674.0 331.0l0-0.5M674.0 330.5l1-1.2M676.1 194.9l-1.9 0.1M677.3 251.7l-2.8-2.3M678.4 244.0l-3.9 5.4M675.2 218.9l-0.6-5.3M675.6 212.5l-1 1.1M674.8 288.8l-0.1-1.7M674.7 204.4l1.7 3.3M674.7 204.4l1-2.5M675.0 172.1l0 0.1M675.0 172.2l0.7 0.7M675.0 180.1l5.1 5.5M675.0 180.1l1.8-2.2M679.4 262.9l-4.4-3.2M675.0 259.7l0.7-3.4M675.0 210.1l0.6 2.4M675.0 210.1l1.4-2.4M676.1 235.2l-1.1-0.1M676.4 277.4l-1.2-1.6M675.8 274.5l-0.6 1.3M678.3 219.3l-3.1-0.4M676.5 188.1l-1.2-0.1M675.6 212.5l4 0.7M675.7 201.9l0 0M678.6 197.8l-2.9 4.1M676.8 177.9l-1.1-5M675.7 172.9l4.9-1.2M675.7 201.9l4.2 1.6M675.7 256.3l1.4-0.9M678.1 274.0l-2.3 0.5M676.1 235.2l1.8 2.8M679.6 232.8l-3.5 2.4M678.6 197.8l-2.5-2.9M678.0 192.4l-1.9 2.5M676.1 266.8l0 0.7M679.4 262.9l-3.3 3.9M679.3 269.5l-3.2-2M676.4 241.5l0.2 1M676.4 241.5l1.5-3.5M676.4 207.7l3.8-0.7M676.5 188.1l1.5 4.3M676.5 188.1l3.6-2.5M678.4 244.0l-1.8-1.5M681.3 178.0l-4.5-0.1M677.0 333.9l0.2 4M677.0 333.9l0.7-0.4M681.0 257.3l-3.9-1.9M677.1 255.4l0.2-3.7M677.1 226.3l0.9 1.5M679.8 220.8l-2.7 5.5M677.4 338.1l-0.2-0.2M677.3 251.7l2.8-1.2M677.4 345.9l-0.1-0.8M679.4 343.1l-2.1 2M679.4 343.1l-2-5M680.2 337.5l-2.8 0.6M677.9 238.0l3.9 0.1M681.3 192.5l-3.3-0.1M678.7 228.2l-0.7-0.4M678.3 219.3l1.5 1.5M680.1 214.2l-1.8 5.1M679.2 244.1l-0.8-0.1M681.8 198.1l-3.2-0.3M679.6 232.8l-0.9-4.6M678.7 228.2l5.1-1.1M680.3 245.1l-1.1-1M679.2 244.1l3.3-4.8M679.5 270.9l-0.2-1.4M679.8 269.3l-0.5 0.2M679.6 343.1l-0.2 0M679.4 262.9l0.6-0.2M679.6 232.8l2.7 1.5M679.6 213.2l0.5 1M679.6 213.2l2.7-4.6M679.8 220.8l1.3 0.1M679.9 203.5l0.3 3.5M679.9 203.5l2.8-2.5M680.8 263.1l-0.8-0.4M680.0 262.7l1-5.4M680.1 185.6l0.3 0M684.1 215.8l-4-1.6M682.3 208.6l-2.1-1.6M680.3 246.0l0-0.9M680.6 245.1l-0.3 0M683.2 190.5l-2.8-4.9M681.9 184.3l-1.5 1.3M680.6 171.7l3.2 3M680.7 170.8l-0.1 0.9M681.5 257.1l-0.5 0.2M681.1 220.9l2.9 2.8M684.6 216.9l-3.5 4M682.5 197.1l-1.2-4.6M681.3 192.5l1.9-2M681.9 184.3l-0.6-6.3M683.5 176.5l-2.2 1.5M681.8 198.1l0.9 2.9M682.5 197.1l-0.7 1M681.8 238.1l0.7 1.2M682.3 234.3l-0.5 3.8M681.9 184.3l4.4-0.5M682.3 234.3l2.1-1M682.3 208.6l1.5-0.1M682.5 197.1l5.3-1.7M684.3 239.8l-1.8-0.5M686.1 202.8l-3.4-1.8M683.2 190.5l1.8 0.1M687.7 180.1l-4.2-3.6M683.5 176.5l0.3-1.8M683.8 208.5l2.7 2.4M686.2 203.9l-2.4 4.6M687.9 171.5l-4.1 3.2M684.4 233.3l-0.6-6.2M683.8 227.1l0.4-0.4M684.0 223.7l0.2 3M686.8 221.4l-2.8 2.3M684.1 215.8l0.5 1.1M684.1 215.8l2.4-4.9M687.5 227.3l-3.3-0.6M684.4 239.9l-0.1-0.1M684.7 239.7l-0.4 0.1M684.4 233.3l0.9 0.3M684.6 216.9l2 1M687.8 195.4l-2.8-4.8M685.0 190.6l3.6-3.5M688.1 237.5l-2.8-3.9M689.8 230.7l-4.5 2.9M686.1 202.8l0.1 1.1M689.3 199.7l-3.2 3.1M686.2 203.9l4.8 2.7M686.3 183.8l2.3 3.3M687.7 180.1l-1.4 3.7M686.4 169.1l1.5 2.4M686.5 210.9l3 0.3M686.6 217.9l0.2 3.5M689.1 217.0l-2.5 0.9M686.8 221.4l4.5 1.9M687.5 227.3l2.3 3.4M687.5 227.3l3.8-4M687.7 180.1l0.6-0.2M687.8 195.4l0.8 0.3M688.9 171.6l-1-0.1M688.1 237.9l0-0.4M691.2 234.1l-3.1 3.4M688.3 179.9l5.3 2.5M688.3 179.9l2.8-3.8M690.5 187.5l-1.9-0.4M689.3 199.7l-0.7-4M688.6 195.7l2-1.3M691.1 176.1l-2.2-4.5M688.9 171.6l3.4-2.2M689.1 217.0l4.5 2.6M690.1 211.7l-1 5.3M689.3 199.7l3 1.3M690.1 211.7l-0.6-0.5M691.0 206.6l-1.5 4.6M690.6 231.0l-0.8-0.3M693.5 212.5l-3.4-0.8M690.5 187.5l0.2 0.3M690.5 187.5l3.1-5.1M690.6 231.0l0.6 3.1M692.6 230.1l-2 0.9M690.6 194.4l5 0.3M690.7 187.8l-0.1 6.6M690.7 187.8l4.3 1.2M692.2 205.9l-1.2 0.7M691.1 176.1l2.5 0.5M693.7 235.6l-2.5-1.5M691.3 223.3l0.1 0M693.5 226.4l-2.1-3.1M693.6 220.1l-2.2 3.2M691.9 166.4l0.4 3M692.2 205.9l2 0.5M692.3 201.0l-0.1 4.9M692.3 201.0l2.5-0.8M692.3 169.4l3.4 0.9M696.0 231.3l-3.4-1.2M692.6 230.1l0.9-3.7M696.2 161.1l-3.4 3.1M693.5 212.5l2.6 4M693.5 212.5l2.4-3M693.5 226.4l3.4-0.1M697.7 223.2l-4.1-3.1M693.6 219.6l0 0.5M696.1 216.5l-2.5 3.1M693.6 176.6l1.5 4.9M693.6 176.6l2.9-2.3M693.6 182.4l1.2-0.4M694.2 206.4l1.7 3.1M697.6 203.9l-3.4 2.5M698.0 187.2l-3.2-5.2M694.8 182.0l0.3-0.5M694.8 200.2l2.8 3.7M696.9 196.4l-2.1 3.8M695.0 189.0l0.6 5.7M695.0 189.0l3-1.8M695.1 181.5l5-1.8M695.4 160.2l0.8 0.9M696.6 195.4l-1-0.7M695.7 170.3l0.8 4M698.2 168.5l-2.5 1.8M698.2 209.5l-2.3 0M696.0 231.3l1 2.4M696.0 231.3l2.2-3.3M697.0 233.7l-0.9 0.9M696.3 216.5l-0.2 0M696.2 161.1l0.2 0M696.3 216.5l5.6 4.1M700.1 213.5l-3.8 3M696.4 161.1l1.8 7.4M701.1 159.8l-4.7 1.3M696.5 174.3l3 1.6M696.9 196.4l-0.3-1M696.6 195.4l4-3.6M698.2 228.0l-1.3-1.7M696.9 226.3l0.8-3.1M696.9 196.4l5 2.8M697.0 233.7l1 0.2M698.5 204.0l-0.9-0.1M701.2 222.4l-3.5 0.8M698.0 187.2l2.3 0.3M698.2 228.0l1.5 0.1M700.1 213.5l-1.9-4M699.7 207.7l-1.5 1.8M701.0 168.7l-2.8-0.2M698.5 204.0l1.2 3.7M702.0 201.7l-3.5 2.3M699.5 175.9l0.6 3.8M704.0 172.3l-4.5 3.6M703.6 208.1l-3.9-0.4M701.4 230.8l-1.7-2.7M699.7 228.1l2.1-2M701.4 230.8l-1.4 2.4M700.6 180.1l-0.5-0.4M700.1 213.5l1.8 0.1M700.6 191.8l-0.3-4.3M700.3 187.5l1.3-1M705.2 194.1l-4.6-2.3M701.6 186.5l-1-6.4M705.6 179.5l-5 0.6M705.0 154.3l-4.1-4.3M701.0 168.7l3 3.6M703.5 164.6l-2.5 4.1M701.1 159.8l2.4 4.8M705.0 154.3l-3.9 5.5M701.2 222.4l0.6 3.7M702.1 221.1l-0.9 1.3M701.4 230.8l3.6-0.1M705.4 186.6l-3.8-0.1M701.8 226.1l3.2 1.1M701.8 143.9l6.1-4.4M701.9 199.2l0.4 1.7M705.2 195.2l-3.3 4M701.9 220.6l0.2 0.5M703.6 215.8l-1.7 4.8M701.9 213.6l1.7 2.2M701.9 213.6l2.2-3M704.6 206.5l-2.6-4.8M702.0 201.7l0.3-0.8M702.1 221.1l4.1 0.8M707.3 201.3l-5-0.4M703.5 164.6l5 0.8M703.6 208.1l0.5 2.5M703.6 208.1l1-1.6M703.6 215.8l4.4 0.4M703.7 132.3l1.4 0.4M704.0 172.3l0.4 0.1M704.1 210.6l4.3 1.3M704.4 172.4l0.9 0.9M709.1 166.3l-4.7 6.1M704.6 206.5l4.3-0.9M705.0 230.7l0-3.5M706.4 225.9l-1.4 1.3M710.7 154.9l-5.7-0.6M705.1 230.8l-0.1-0.1M705.1 132.7l2.8 6.8M710.6 126.3l-5.5 6.4M709.3 198.5l-4.1-3.3M705.2 195.2l0-1.1M705.2 194.1l1.7-2M705.3 173.3l6 0.1M706.1 178.9l-0.8-5.6M706.9 192.1l-1.5-5.5M705.4 186.6l1.2-1M706.6 185.6l-1-6.1M705.6 179.5l0.5-0.6M706.1 178.9l6 0.1M706.2 221.9l0.2 4M708.5 220.5l-2.3 1.4M709.7 227.0l-3.3-1.1M706.6 185.6l3.4-0.2M710.4 192.0l-3.5 0.1M707.3 201.3l1.6 4.3M709.3 198.5l-2 2.8M710.6 126.3l-2.8-4.8M711.6 140.8l-3.7-1.3M708.0 216.2l0.5 4.3M708.0 216.2l0.7-1M708.7 215.2l-0.3-3.3M708.4 211.9l1.4-1.7M709.8 221.0l-1.3-0.5M708.5 165.4l0.6 0.9M710.7 154.9l-2.2 10.5M712.5 215.3l-3.8-0.1M708.9 205.6l0.9 4.6M708.9 205.6l0 0M711.7 204.6l-2.8 1M712.1 167.9l-3-1.6M711.2 198.2l-1.9 0.3M709.7 227.0l0.2 1M711.3 225.1l-1.6 1.9M713.5 210.6l-3.7-0.4M711.3 225.1l-1.5-4.1M713.2 220.0l-3.4 1M710.0 185.4l2.7 3M712.6 180.5l-2.6 4.9M712.3 196.9l-1.9-4.9M710.4 192.0l1.8-1.8M719.6 127.5l-9-1.2M710.7 154.9l0.6-0.2M711.2 198.2l0.3 1M711.2 198.2l1-0.9M711.3 173.4l1.9 2.7M712.1 167.9l-0.8 5.5M715.8 160.3l-4.5-5.6M711.3 154.7l5.1-5.9M714.9 225.5l-3.6-0.4M716.4 148.8l-4.8-8M721.1 130.4l-9.5 10.4M712.6 180.5l-0.5-1.5M713.2 176.1l-1.1 2.9M713.6 167.5l-1.5 0.4M714.0 218.7l-1.5-3.4M714.1 213.6l-1.6 1.7M716.1 182.4l-3.5-1.9M715.8 175.4l-2.6 0.7M715.6 223.1l-2.4-3.1M713.2 220.0l0.8-1.3M713.5 210.6l0.6 3M714.7 209.4l-1.2 1.2M717.0 171.1l-3.4-3.6M715.3 165.8l-1.7 1.7M717.7 217.7l-3.7 1M716.9 214.3l-2.8-0.7M714.6 209.3l0.1 0.1M714.7 209.4l0 0M714.9 225.5l0 0M714.9 225.5l0.7-2.4M720.0 166.6l-4.7-0.8M715.8 160.3l-0.5 5.5M718.7 221.8l-3.1 1.3M722.2 161.2l-6.4-0.9M715.8 175.4l3 0.9M717.0 171.1l-1.2 4.3M716.1 182.4l0.1 0M720.4 179.2l-4.3 3.2M721.6 148.7l-5.2 0.1M716.9 214.3l0.8 3.4M717.6 213.6l-0.7 0.7M717.0 171.1l3.3-0.8M719.3 218.6l-1.6-0.9M720.4 124.6l-2.3-6.2M719.4 222.6l-0.7-0.8M718.7 221.8l0.6-3.2M718.8 176.3l1.6 2.9M721.3 173.5l-2.5 2.8M719.7 218.5l-0.4 0.1M719.6 127.5l1.5 2.9M720.4 124.6l-0.8 2.9M720.3 218.7l-0.6-0.2M719.7 218.5l0.3-0.6M720.0 166.6l0.9 2.5M722.5 162.7l-2.5 3.9M720.3 170.3l1 3.2M720.3 170.3l0.6-1.2M720.8 179.3l-0.4-0.1M724.9 121.0l-4.5 3.6M724.7 169.1l-3.8 0M722.9 131.4l-1.8-1M725.7 174.3l-4.4-0.8M727.5 152.8l-5.9-4.1M721.6 148.7l4.2-11.2M722.2 161.2l0.3 1.5M727.5 152.8l-5.3 8.4M722.5 162.7l3.1 2.3M725.8 137.5l-2.9-6.1M729.0 129.3l-6.1 2.1M725.8 174.5l-1.7 2.5M726.0 170.5l-1.3-1.4M725.6 165.0l-0.9 4.1M729.9 164.5l-4.3 0.5M725.8 174.5l-0.1-0.2M726.0 170.5l-0.3 3.8M730.4 138.6l-4.6-1.1M726.6 174.9l-0.8-0.4M729.2 169.3l-3.2 1.2M728.7 153.0l-1.2-0.2M730.8 163.8l-2.1-10.8M730.0 152.6l-1.3 0.4M731.4 171.0l-2.2-1.7M729.2 169.3l0.7-4.8M730.8 163.8l-0.9 0.7M730.0 152.6l7 5.4M733.1 150.0l-3.1 2.6M733.7 164.7l-2.9-0.9M734.0 144.7l-0.9 5.3M739.6 149.9l-6.5 0.1M733.7 164.7l0.1 4.1M733.7 164.7l2.3-0.6M736.0 164.1l1.3 0.6M736.0 164.1l1-6.1M737.0 158.0l5.1-0.1M737.3 164.7l0.2 0.8M739.2 164.2l-1.9 0.5M742.9 159.0l-1.9 3.8M742.9 159.0l-0.8-1.1M743.1 152.9l-1 5M742.9 159.0l1.5 0.6"/><clipPath id="bc"><path d="M68.7 99.4 L75.0 103.1 L82.5 107.5 L88.7 109.3 L92.4 108.7 L91.4 115.0 L86.2 116.2 L78.7 115.6 L68.1 114.7Z"/><path d="M93.9 95.6 L116.8 101.0 L114.9 105.6 L111.2 110.0 L108.7 117.5 L105.6 122.5 L102.4 127.4 L98.1 134.3 L91.2 132.4 L86.2 128.7 L80.6 129.3 L80.0 126.2 L86.2 123.1 L90.6 122.5 L91.4 116.2 L93.3 110.0 L92.9 99.7Z"/><path d="M69.0 99.0 L76.8 102.9 L85.3 108.2 L91.8 109.3 L90.5 118.7 L85.3 116.6 L77.9 114.5 L68.0 114.8Z"/><path d="M70.9 147.8 L76.3 147.0 L78.6 150.9 L79.4 146.3 L84.0 145.5 L84.8 150.9 L92.5 154.0 L91.7 158.6 L86.3 164.8 L80.2 163.2 L77.1 158.6 L73.2 154.7 L70.1 150.9Z"/><path d="M267.5 269.7 L281.4 270.4 L280.7 280.5 L278.4 282.0 L277.6 288.2 L276.0 295.2 L273.7 301.3 L272.2 295.9 L270.6 288.2 L270.6 282.0Z"/><path d="M225.8 288.2 L241.3 286.7 L249.8 285.1 L251.3 290.5 L251.3 295.9 L245.2 294.4 L243.6 292.1 L226.6 292.8Z"/><path d="M251.3 285.9 L258.3 285.9 L262.9 289.0 L263.7 293.6 L266.8 294.4 L264.5 298.2 L259.8 299.8 L263.7 304.4 L264.5 310.6 L266.8 316.8 L267.5 323.0 L262.9 325.3 L258.3 324.5 L252.9 322.2 L249.8 317.5 L246.7 316.8 L244.4 314.5 L245.2 304.4 L245.9 298.2 L251.3 295.9Z"/><path d="M270.6 288.2 L295.3 289.0 L296.1 293.6 L278.4 294.4 L277.6 292.1Z"/><path d="M239.0 338.1 L261.4 338.9 L270.7 339.7 L269.9 348.2 L268.4 352.8 L279.2 355.1 L280.7 361.3 L287.7 362.8 L290.0 369.8 L283.0 371.3 L282.3 377.5 L275.3 380.6 L270.7 384.5 L266.0 382.9 L266.0 372.9 L253.7 372.9 L240.6 371.3 L239.8 376.0 L216.6 372.9 L215.1 369.8 L218.2 351.3 L237.5 352.0Z"/><path d="M39.7 215.8 L48.2 218.1 L46.6 227.4 L42.8 238.2 L48.2 247.4 L49.7 258.2 L55.9 266.0 L62.1 269.1 L65.9 274.5 L63.6 278.3 L58.2 279.9 L55.9 286.0 L58.2 295.3 L62.1 304.6 L62.8 310.8 L48.2 310.8 L45.1 301.5 L42.8 287.6 L42.0 276.8 L37.4 266.0 L33.5 255.2 L34.3 242.8 L31.9 230.4 L35.0 221.2Z"/><path d="M45.1 300.0 L58.2 300.0 L62.1 310.8 L65.2 323.2 L69.8 335.5 L71.3 343.2 L79.8 345.6 L94.5 347.9 L93.0 359.5 L87.5 363.3 L83.7 364.9 L81.4 361.8 L72.1 356.4 L65.9 348.6 L53.6 344.0 L54.3 335.5 L52.0 326.3 L48.2 317.0 L44.3 307.7Z"/><path d="M93.0 362.5 L136.2 370.3 L133.1 377.2 L134.7 383.4 L131.6 391.9 L94.5 389.3 L93.0 380.3 L91.7 372.6 L91.4 368.0Z"/><path d="M431.7 143.4 L450.7 148.4 L470.8 152.5 L444.0 175.2 L431.7 173.5Z"/><path d="M441.0 177.0 L449.0 172.5 L457.5 168.0 L459.0 171.0 L462.0 175.0 L464.0 184.5 L458.0 186.0 L457.0 183.0 L441.5 184.0Z"/><path d="M424.3 204.7 L428.2 201.6 L431.3 204.7 L434.4 201.6 L435.9 207.8 L436.7 213.2 L431.3 214.0 L428.2 209.3 L425.1 208.6Z"/><path d="M466.8 235.6 L475.3 235.6 L476.1 234.1 L483.8 234.1 L484.6 241.0 L487.7 241.8 L486.9 245.6 L475.3 245.6 L474.5 241.0 L466.8 241.0Z"/><path d="M487.7 253.4 L496.2 252.6 L496.9 247.2 L501.6 246.4 L503.1 252.6 L505.4 260.3 L508.5 261.1 L509.3 266.5 L503.1 266.5 L496.9 267.3 L493.8 261.9 L488.4 260.3Z"/><path d="M403.5 309.8 L409.7 309.0 L415.1 306.7 L422.0 306.7 L422.0 312.9 L415.1 313.6 L409.7 314.4 L404.3 314.4Z"/><path d="M485.3 278.1 L490.8 276.6 L495.4 280.4 L496.2 283.5 L501.6 282.8 L502.3 289.7 L496.2 290.5 L495.4 285.1 L486.1 284.3Z"/><path d="M467.6 312.1 L472.2 309.8 L474.5 313.6 L479.9 314.4 L480.7 319.8 L476.1 320.6 L473.8 316.7 L468.4 316.7Z"/><path d="M548.0 227.8 L553.4 227.0 L554.2 231.7 L559.6 232.4 L560.3 239.4 L561.9 240.2 L561.1 246.3 L547.2 247.1 L547.2 240.9 L540.3 240.9 L540.3 236.3 L547.2 235.5Z"/><path d="M657.1 263.4 L659.5 258.8 L666.4 257.2 L669.5 260.3 L672.6 268.0 L671.0 272.7 L664.9 272.7 L662.5 268.8 L657.9 268.8Z"/><path d="M671.4 173.6 L680.1 172.4 L682.4 175.3 L688.7 176.5 L689.9 178.8 L693.4 179.4 L696.0 184.0 L697.2 189.8 L699.8 193.1 L703.5 191.0 L705.0 186.3 L709.0 181.7 L714.8 179.4 L717.7 174.8 L720.6 167.8 L725.2 165.5 L728.1 159.7 L731.0 153.9 L733.6 156.2 L734.7 162.0 L736.2 166.1 L748.0 170.0 L748.0 235.0 L690.0 250.0 L684.0 248.7 L684.0 257.2 L683.0 264.2 L679.0 270.0 L672.0 269.0 L668.0 261.9 L671.0 255.7 L672.6 249.5 L675.7 246.4 L676.4 239.5 L672.6 232.5 L668.0 229.4 L668.7 226.3 L674.1 220.2 L672.6 217.8 L668.7 216.3 L668.0 210.9 L668.7 203.9 L674.1 200.8 L676.0 192.4 L674.9 186.2 L672.6 180.0Z"/><path d="M637.8 276.6 L643.2 274.3 L648.6 275.8 L654.8 279.7 L655.6 285.1 L653.2 290.5 L650.2 295.9 L644.7 296.7 L641.7 292.0 L637.8 288.2 L636.3 282.0Z"/><path d="M657.9 322.1 L662.5 318.3 L669.5 317.5 L671.0 324.5 L662.5 326.0 L658.6 325.2Z"/><path d="M643.2 324.5 L648.6 322.1 L654.8 324.5 L656.3 320.6 L659.4 326.0 L661.7 330.6 L664.8 335.3 L662.5 339.1 L656.3 337.6 L654.8 343.8 L650.2 345.3 L647.1 340.7 L644.0 342.2 L640.1 337.6 L645.5 334.5 L643.2 329.9Z"/><path d="M624.7 339.1 L630.1 338.4 L635.5 340.7 L637.8 345.3 L633.2 349.2 L627.0 349.2 L623.9 345.3Z"/><path d="M555.8 387.8 L560.5 384.7 L565.1 383.9 L569.7 387.0 L568.2 390.9 L572.1 393.2 L569.7 397.8 L564.3 397.8 L560.5 395.5 L556.6 393.2Z"/><path d="M558.2 413.3 L560.5 407.1 L563.6 406.3 L564.3 411.0 L568.2 413.3 L572.1 412.5 L572.8 417.1 L569.7 420.2 L571.3 425.6 L569.0 430.3 L563.6 431.0 L559.7 428.0 L556.6 423.3 L557.4 418.7Z"/><path d="M535.0 417.1 L541.2 414.8 L547.4 414.1 L552.0 415.6 L555.8 416.4 L555.8 421.0 L550.4 421.8 L544.3 423.3 L538.1 424.1 L535.0 423.3Z"/><path d="M602.2 372.4 L607.6 371.6 L610.7 376.2 L615.3 377.8 L619.2 373.9 L621.5 378.5 L618.4 383.2 L613.0 383.9 L607.6 380.8 L603.0 377.0Z"/><path d="M606.8 387.8 L612.2 386.3 L619.2 388.6 L616.9 391.7 L612.2 393.2 L612.2 398.6 L609.1 402.5 L605.3 399.4 L607.6 394.7 L606.0 390.9Z"/><path d="M621.5 397.8 L626.1 395.5 L635.4 390.1 L634.6 394.7 L627.7 399.4 L623.0 402.5Z"/><path d="M603.7 414.8 L609.1 413.3 L616.1 414.1 L615.3 419.5 L607.6 419.5Z"/><path d="M444.6 379.7 L449.3 378.9 L452.4 385.1 L457.8 388.9 L457.0 393.6 L451.6 393.6 L450.0 388.2 L446.2 385.1Z"/><path d="M474.7 371.2 L479.4 369.6 L485.6 370.4 L485.6 375.8 L478.6 376.6 L477.1 380.4 L473.2 380.4 L473.2 375.8Z"/><path d="M465.5 376.6 L473.2 376.6 L477.1 382.0 L477.8 388.2 L480.9 393.6 L480.2 399.7 L476.3 405.2 L474.7 409.8 L470.9 412.9 L471.7 419.1 L475.5 421.4 L480.9 422.1 L480.2 426.8 L476.3 428.3 L473.2 433.0 L472.4 438.4 L470.1 445.3 L462.4 446.9 L461.6 440.7 L465.5 433.0 L467.0 426.8 L465.5 420.6 L463.2 416.0 L463.2 408.2 L462.4 403.6 L466.3 398.2 L467.8 391.3 L467.0 383.5Z"/><path d="M508.0 411.3 L512.6 408.2 L517.2 409.8 L521.9 412.1 L526.5 416.0 L531.1 418.3 L535.8 417.5 L540.4 416.0 L545.0 414.4 L551.2 415.2 L555.8 416.7 L555.8 421.4 L551.2 422.9 L546.6 424.5 L540.4 423.7 L535.8 424.5 L531.1 425.2 L526.5 423.7 L521.9 426.8 L518.8 424.5 L518.8 419.1 L514.1 417.5 L509.5 418.3 L507.2 415.2Z"/><path d="M396.3 469.3 L401.0 463.9 L407.9 463.9 L411.8 466.3 L412.5 472.4 L409.5 474.0 L404.1 477.8 L398.6 477.8Z"/></clipPath></defs>
<use href="#cl" fill="none" stroke="#861313" stroke-opacity="0.9" stroke-width="0.9"/>
<g clip-path="url(#us)"><g clip-path="url(#bc)"><use href="#cl" fill="none" stroke="#1d4585" stroke-width="1"/></g></g>
<g clip-path="url(#us)">
<path d="M80.9 126.2 L86.3 123.1 L91.0 120.0 L106.4 120.0 L101.8 127.7 L97.9 134.7 L91.0 133.1 L84.8 130.8Z" fill="#4a9ce8" stroke="#0f2a55" stroke-width="0.9" stroke-linejoin="round"/>
<path d="M66.3 126.7 L74.7 127.1 L74.7 134.0 L72.5 139.0 L73.5 146.0 L65.3 146.0Z" fill="#4a9ce8" stroke="#0f2a55" stroke-width="0.9" stroke-linejoin="round"/>
<path d="M59.3 156.8 L63.9 157.8 L66.3 164.8 L63.2 169.4 L57.0 171.3 L54.7 169.7Z" fill="#4a9ce8" stroke="#0f2a55" stroke-width="0.9" stroke-linejoin="round"/>
<path d="M53.9 170.2 L63.2 169.4 L67.0 172.5 L77.1 175.6 L80.9 179.5 L84.0 175.6 L89.4 177.1 L92.5 183.3 L98.7 188.0 L99.5 191.8 L91.0 189.5 L84.8 188.0 L78.6 186.4 L73.2 188.0 L66.3 184.9 L63.2 179.5 L57.0 177.1 L53.6 174.4Z" fill="#4a9ce8" stroke="#0f2a55" stroke-width="0.9" stroke-linejoin="round"/>
<path d="M141.2 139.3 L149.7 140.1 L150.4 145.5 L148.1 153.2 L145.0 148.6 L138.8 148.6 L135.8 147.0 L138.8 144.7Z" fill="#4a9ce8" stroke="#0f2a55" stroke-width="0.9" stroke-linejoin="round"/>
<path d="M192.5 119.2 L211.8 121.7 L211.0 129.7 L205.6 132.0 L199.4 131.3 L196.3 125.8Z" fill="#4a9ce8" stroke="#0f2a55" stroke-width="0.9" stroke-linejoin="round"/>
<path d="M178.6 147.5 L186.3 146.7 L188.6 142.8 L192.5 143.6 L192.5 154.4 L188.6 157.5 L180.9 156.7 L177.8 152.9Z" fill="#4a9ce8" stroke="#0f2a55" stroke-width="0.9" stroke-linejoin="round"/>
<path d="M188.6 169.1 L196.3 166.8 L200.2 170.6 L199.4 176.8 L194.8 175.3 L191.7 172.2Z" fill="#4a9ce8" stroke="#0f2a55" stroke-width="0.9" stroke-linejoin="round"/>
<path d="M209.5 175.3 L214.1 171.4 L219.5 172.2 L219.5 179.1 L214.9 185.3 L214.1 197.7 L210.2 197.7 L211.0 185.3 L209.5 179.1Z" fill="#4a9ce8" stroke="#0f2a55" stroke-width="0.9" stroke-linejoin="round"/>
<path d="M163.9 201.6 L169.3 203.1 L177.0 211.6 L180.1 216.3 L184.7 217.8 L182.4 220.9 L181.7 226.3 L178.6 226.3 L178.6 220.1 L174.7 215.5 L168.5 214.7 L166.2 207.8Z" fill="#4a9ce8" stroke="#0f2a55" stroke-width="0.9" stroke-linejoin="round"/>
<path d="M210.2 190.0 L214.1 190.0 L213.3 197.7 L219.5 199.3 L223.4 207.0 L222.6 217.8 L216.4 222.4 L211.0 220.1 L210.2 214.7 L207.9 213.2 L208.7 209.3 L211.0 208.5 L211.0 198.5Z" fill="#4a9ce8" stroke="#0f2a55" stroke-width="0.9" stroke-linejoin="round"/>
<path d="M187.1 261.8 L190.9 259.5 L196.3 260.3 L199.4 258.0 L203.3 258.0 L204.1 261.0 L214.9 261.8 L215.6 264.1 L204.1 264.9 L202.5 267.2 L193.2 268.0 L187.8 267.2Z" fill="#4a9ce8" stroke="#0f2a55" stroke-width="0.9" stroke-linejoin="round"/>
<path d="M251.3 268.1 L258.3 268.9 L258.3 279.7 L256.0 285.9 L250.6 285.9 L251.3 280.5 L249.0 278.2Z" fill="#4a9ce8" stroke="#0f2a55" stroke-width="0.9" stroke-linejoin="round"/>
<path d="M211.9 289.7 L223.5 289.7 L223.5 306.0 L214.3 306.0 L210.4 301.3 L210.4 295.2Z" fill="#4a9ce8" stroke="#0f2a55" stroke-width="0.9" stroke-linejoin="round"/>
<path d="M223.5 313.7 L235.9 314.5 L238.2 312.1 L242.1 314.5 L240.5 319.9 L234.3 319.9 L223.5 318.3Z" fill="#4a9ce8" stroke="#0f2a55" stroke-width="0.9" stroke-linejoin="round"/>
<path d="M232.8 324.5 L242.1 323.7 L241.3 330.7 L238.2 333.8 L230.5 333.0Z" fill="#4a9ce8" stroke="#0f2a55" stroke-width="0.9" stroke-linejoin="round"/>
<path d="M266.0 329.1 L271.4 328.4 L273.0 333.8 L271.4 339.2 L264.5 339.2 L264.5 333.8Z" fill="#4a9ce8" stroke="#0f2a55" stroke-width="0.9" stroke-linejoin="round"/>
<path d="M206.6 332.7 L218.2 333.5 L214.3 372.9 L210.4 386.8 L201.2 389.9 L199.6 386.8 L204.3 363.6Z" fill="#4a9ce8" stroke="#0f2a55" stroke-width="0.9" stroke-linejoin="round"/>
<path d="M265.3 338.1 L266.8 330.4 L272.2 328.9 L273.0 338.9Z" fill="#4a9ce8" stroke="#0f2a55" stroke-width="0.9" stroke-linejoin="round"/>
<path d="M229.7 332.7 L235.2 325.0 L241.3 325.0 L240.6 332.7Z" fill="#4a9ce8" stroke="#0f2a55" stroke-width="0.9" stroke-linejoin="round"/>
<path d="M210.4 399.9 L228.2 399.1 L228.2 409.2 L222.0 410.7 L220.5 420.0 L215.8 420.0 L215.1 409.2 L210.4 406.9Z" fill="#4a9ce8" stroke="#0f2a55" stroke-width="0.9" stroke-linejoin="round"/>
<path d="M234.4 409.2 L247.5 406.9 L247.5 420.8 L233.6 420.8Z" fill="#4a9ce8" stroke="#0f2a55" stroke-width="0.9" stroke-linejoin="round"/>
<path d="M125.6 320.8 L150.8 323.8 L149.9 334.4 L142.1 336.4 L139.2 340.3 L139.2 351.0 L135.3 347.1 L124.6 330.6Z" fill="#4a9ce8" stroke="#0f2a55" stroke-width="0.9" stroke-linejoin="round"/>
<path d="M170.3 326.7 L195.6 329.6 L194.6 344.2 L191.7 363.6 L189.7 375.3 L181.0 370.4 L178.1 361.7 L170.3 360.7 L168.3 354.9 L158.6 344.2 L159.6 338.3 L168.3 336.4Z" fill="#4a9ce8" stroke="#0f2a55" stroke-width="0.9" stroke-linejoin="round"/>
<path d="M147.9 401.5 L187.8 407.4 L186.8 427.8 L175.1 422.9 L161.5 415.2 L146.0 406.4Z" fill="#4a9ce8" stroke="#0f2a55" stroke-width="0.9" stroke-linejoin="round"/>
<path d="M79.1 276.0 L82.9 274.5 L86.0 276.8 L93.0 289.1 L100.7 299.9 L97.6 302.3 L91.4 296.9 L86.8 289.1 L81.4 281.4Z" fill="#4a9ce8" stroke="#0f2a55" stroke-width="0.9" stroke-linejoin="round"/>
<path d="M350.0 137.4 L356.3 137.4 L356.3 144.4 L350.0 144.4Z" fill="#4a9ce8" stroke="#0f2a55" stroke-width="0.9" stroke-linejoin="round"/>
<path d="M388.0 169.4 L394.3 169.4 L394.3 178.9 L388.0 178.9Z" fill="#4a9ce8" stroke="#0f2a55" stroke-width="0.9" stroke-linejoin="round"/>
<path d="M331.4 188.1 L342.6 181.9 L342.6 188.1Z" fill="#4a9ce8" stroke="#0f2a55" stroke-width="0.9" stroke-linejoin="round"/>
<path d="M330.9 196.9 L345.1 196.9 L345.1 205.0 L340.0 208.1 L330.9 208.1Z" fill="#4a9ce8" stroke="#0f2a55" stroke-width="0.9" stroke-linejoin="round"/>
<path d="M352.6 219.3 L360.1 219.3 L360.1 224.3 L352.6 224.3Z" fill="#4a9ce8" stroke="#0f2a55" stroke-width="0.9" stroke-linejoin="round"/>
<path d="M309.6 226.8 L320.1 226.8 L320.1 237.0 L309.6 237.0Z" fill="#4a9ce8" stroke="#0f2a55" stroke-width="0.9" stroke-linejoin="round"/>
<path d="M331.4 233.0 L343.8 233.0 L343.8 238.5 L331.4 238.5Z" fill="#4a9ce8" stroke="#0f2a55" stroke-width="0.9" stroke-linejoin="round"/>
<path d="M382.5 238.5 L386.3 238.5 L386.3 244.7 L382.5 244.7Z" fill="#4a9ce8" stroke="#0f2a55" stroke-width="0.9" stroke-linejoin="round"/>
<path d="M386.3 273.5 L391.8 273.5 L391.8 283.4 L386.3 283.4Z" fill="#4a9ce8" stroke="#0f2a55" stroke-width="0.9" stroke-linejoin="round"/>
<path d="M392.5 266.0 L397.5 266.0 L397.5 273.5 L392.5 273.5Z" fill="#4a9ce8" stroke="#0f2a55" stroke-width="0.9" stroke-linejoin="round"/>
<path d="M383.8 300.7 L390.5 300.7 L390.5 310.0 L383.8 310.0Z" fill="#4a9ce8" stroke="#0f2a55" stroke-width="0.9" stroke-linejoin="round"/>
<path d="M449.8 207.8 L458.3 207.8 L458.3 211.7 L449.8 211.7Z" fill="#4a9ce8" stroke="#0f2a55" stroke-width="0.9" stroke-linejoin="round"/>
<path d="M437.5 220.9 L444.4 220.2 L445.2 224.8 L438.2 225.6Z" fill="#4a9ce8" stroke="#0f2a55" stroke-width="0.9" stroke-linejoin="round"/>
<path d="M454.5 221.7 L459.1 220.9 L459.9 226.3 L456.0 227.1Z" fill="#4a9ce8" stroke="#0f2a55" stroke-width="0.9" stroke-linejoin="round"/>
<path d="M472.2 210.1 L479.2 209.3 L479.9 216.3 L473.8 217.1Z" fill="#4a9ce8" stroke="#0f2a55" stroke-width="0.9" stroke-linejoin="round"/>
<path d="M483.0 200.1 L487.7 199.3 L488.4 203.9 L483.8 204.7Z" fill="#4a9ce8" stroke="#0f2a55" stroke-width="0.9" stroke-linejoin="round"/>
<path d="M496.2 208.6 L506.5 196.2 L507.7 199.8 L501.6 208.6Z" fill="#4a9ce8" stroke="#0f2a55" stroke-width="0.9" stroke-linejoin="round"/>
<path d="M496.6 234.1 L500.0 234.1 L500.3 239.5 L496.9 239.5Z" fill="#4a9ce8" stroke="#0f2a55" stroke-width="0.9" stroke-linejoin="round"/>
<path d="M440.6 246.4 L446.0 246.4 L446.0 251.8 L440.6 251.8Z" fill="#4a9ce8" stroke="#0f2a55" stroke-width="0.9" stroke-linejoin="round"/>
<path d="M425.1 254.9 L432.1 254.9 L432.1 265.7 L425.1 265.7Z" fill="#4a9ce8" stroke="#0f2a55" stroke-width="0.9" stroke-linejoin="round"/>
<path d="M449.8 252.6 L456.0 252.6 L456.8 264.9 L450.6 264.9Z" fill="#4a9ce8" stroke="#0f2a55" stroke-width="0.9" stroke-linejoin="round"/>
<path d="M490.8 170.1 L496.2 170.9 L501.6 176.3 L501.6 183.2 L495.4 181.7 L491.6 178.6Z" fill="#4a9ce8" stroke="#0f2a55" stroke-width="0.9" stroke-linejoin="round"/>
<path d="M518.6 202.5 L526.3 193.3 L527.1 195.6 L521.7 203.3Z" fill="#4a9ce8" stroke="#0f2a55" stroke-width="0.9" stroke-linejoin="round"/>
<path d="M442.9 305.2 L448.3 304.4 L448.3 311.3 L446.0 314.4 L442.9 310.6Z" fill="#4a9ce8" stroke="#0f2a55" stroke-width="0.9" stroke-linejoin="round"/>
<path d="M475.3 272.7 L479.9 272.7 L480.7 279.7 L476.1 280.4Z" fill="#4a9ce8" stroke="#0f2a55" stroke-width="0.9" stroke-linejoin="round"/>
<path d="M483.0 326.0 L488.4 325.2 L489.2 331.4 L483.8 332.2Z" fill="#4a9ce8" stroke="#0f2a55" stroke-width="0.9" stroke-linejoin="round"/>
<path d="M524.8 228.6 L531.0 228.6 L531.0 237.8 L524.8 237.8Z" fill="#4a9ce8" stroke="#0f2a55" stroke-width="0.9" stroke-linejoin="round"/>
<path d="M526.4 244.0 L531.8 244.0 L531.8 250.2 L526.4 250.2Z" fill="#4a9ce8" stroke="#0f2a55" stroke-width="0.9" stroke-linejoin="round"/>
<path d="M517.9 256.4 L523.3 256.4 L523.3 261.0 L517.9 261.0Z" fill="#4a9ce8" stroke="#0f2a55" stroke-width="0.9" stroke-linejoin="round"/>
<path d="M577.3 253.3 L582.7 251.7 L584.3 260.2 L581.2 262.5 L578.1 259.5Z" fill="#4a9ce8" stroke="#0f2a55" stroke-width="0.9" stroke-linejoin="round"/>
<path d="M563.4 278.8 L569.6 278.8 L569.6 284.9 L563.4 284.9Z" fill="#4a9ce8" stroke="#0f2a55" stroke-width="0.9" stroke-linejoin="round"/>
<path d="M523.3 287.3 L528.7 287.3 L528.7 292.7 L523.3 292.7Z" fill="#4a9ce8" stroke="#0f2a55" stroke-width="0.9" stroke-linejoin="round"/>
<path d="M523.9 287.4 L528.6 287.4 L528.6 292.8 L523.9 292.8Z" fill="#4a9ce8" stroke="#0f2a55" stroke-width="0.9" stroke-linejoin="round"/>
<path d="M547.1 284.3 L553.3 284.3 L553.3 290.5 L547.1 290.5Z" fill="#4a9ce8" stroke="#0f2a55" stroke-width="0.9" stroke-linejoin="round"/>
<path d="M563.3 278.9 L569.5 278.9 L569.5 285.1 L563.3 285.1Z" fill="#4a9ce8" stroke="#0f2a55" stroke-width="0.9" stroke-linejoin="round"/>
<path d="M577.2 287.4 L584.2 287.4 L584.2 294.3 L577.2 294.3Z" fill="#4a9ce8" stroke="#0f2a55" stroke-width="0.9" stroke-linejoin="round"/>
<path d="M520.1 298.2 L524.7 298.2 L524.7 303.6 L520.1 303.6Z" fill="#4a9ce8" stroke="#0f2a55" stroke-width="0.9" stroke-linejoin="round"/>
<path d="M544.8 295.9 L551.7 295.9 L551.7 300.5 L544.8 300.5Z" fill="#4a9ce8" stroke="#0f2a55" stroke-width="0.9" stroke-linejoin="round"/>
<path d="M600.4 265.0 L608.1 265.0 L608.1 271.2 L600.4 271.2Z" fill="#4a9ce8" stroke="#0f2a55" stroke-width="0.9" stroke-linejoin="round"/>
<path d="M531.7 313.6 L538.6 313.6 L538.6 319.8 L531.7 319.8Z" fill="#4a9ce8" stroke="#0f2a55" stroke-width="0.9" stroke-linejoin="round"/>
<path d="M547.9 314.4 L554.1 314.4 L554.1 320.6 L547.9 320.6Z" fill="#4a9ce8" stroke="#0f2a55" stroke-width="0.9" stroke-linejoin="round"/>
<path d="M605.8 321.4 L612.7 321.4 L612.7 327.5 L605.8 327.5Z" fill="#4a9ce8" stroke="#0f2a55" stroke-width="0.9" stroke-linejoin="round"/>
<path d="M589.6 340.7 L595.8 340.7 L595.8 346.1 L589.6 346.1Z" fill="#4a9ce8" stroke="#0f2a55" stroke-width="0.9" stroke-linejoin="round"/>
<path d="M610.4 339.1 L621.2 339.1 L621.2 344.5 L610.4 344.5Z" fill="#4a9ce8" stroke="#0f2a55" stroke-width="0.9" stroke-linejoin="round"/>
<path d="M519.3 349.2 L527.0 349.2 L527.0 356.1 L519.3 356.1Z" fill="#4a9ce8" stroke="#0f2a55" stroke-width="0.9" stroke-linejoin="round"/>
<path d="M578.8 351.5 L588.0 351.5 L588.0 359.2 L578.8 359.2Z" fill="#4a9ce8" stroke="#0f2a55" stroke-width="0.9" stroke-linejoin="round"/>
<path d="M605.0 354.6 L611.2 354.6 L611.2 360.8 L605.0 360.8Z" fill="#4a9ce8" stroke="#0f2a55" stroke-width="0.9" stroke-linejoin="round"/>
<path d="M609.3 220.9 L615.4 220.2 L616.2 228.6 L610.0 229.4 L608.5 225.6Z" fill="#4a9ce8" stroke="#0f2a55" stroke-width="0.9" stroke-linejoin="round"/>
<path d="M620.8 214.0 L627.8 213.2 L628.6 218.6 L622.4 219.4Z" fill="#4a9ce8" stroke="#0f2a55" stroke-width="0.9" stroke-linejoin="round"/>
<path d="M640.5 211.7 L646.3 211.7 L647.1 217.8 L640.9 217.8Z" fill="#4a9ce8" stroke="#0f2a55" stroke-width="0.9" stroke-linejoin="round"/>
<path d="M639.4 221.7 L644.0 221.7 L644.0 227.1 L639.4 227.1Z" fill="#4a9ce8" stroke="#0f2a55" stroke-width="0.9" stroke-linejoin="round"/>
<path d="M654.1 237.1 L658.7 236.4 L659.5 243.3 L654.8 243.3Z" fill="#4a9ce8" stroke="#0f2a55" stroke-width="0.9" stroke-linejoin="round"/>
<path d="M642.5 256.4 L648.6 256.4 L648.6 264.2 L643.2 264.9Z" fill="#4a9ce8" stroke="#0f2a55" stroke-width="0.9" stroke-linejoin="round"/>
<path d="M662.5 269.6 L667.9 269.6 L668.7 275.8 L667.9 282.0 L664.1 281.2Z" fill="#4a9ce8" stroke="#0f2a55" stroke-width="0.9" stroke-linejoin="round"/>
<path d="M626.2 302.1 L632.4 299.7 L633.9 305.9 L630.1 310.6 L626.2 307.5Z" fill="#4a9ce8" stroke="#0f2a55" stroke-width="0.9" stroke-linejoin="round"/>
<path d="M643.2 311.3 L648.6 309.8 L654.8 310.6 L654.0 314.4 L647.1 316.7 L642.4 315.2Z" fill="#4a9ce8" stroke="#0f2a55" stroke-width="0.9" stroke-linejoin="round"/>
<path d="M666.4 306.7 L670.2 305.9 L670.2 312.9 L667.1 312.9Z" fill="#4a9ce8" stroke="#0f2a55" stroke-width="0.9" stroke-linejoin="round"/>
<path d="M633.2 353.8 L639.3 353.8 L639.3 360.0 L633.2 360.0Z" fill="#4a9ce8" stroke="#0f2a55" stroke-width="0.9" stroke-linejoin="round"/>
<path d="M629.4 354.6 L638.7 353.9 L638.7 360.0 L631.0 360.8Z" fill="#4a9ce8" stroke="#0f2a55" stroke-width="0.9" stroke-linejoin="round"/>
<path d="M580.6 393.2 L584.4 390.9 L588.3 393.2 L586.7 397.8 L581.3 399.4 L579.8 396.3Z" fill="#4a9ce8" stroke="#0f2a55" stroke-width="0.9" stroke-linejoin="round"/>
<path d="M592.9 391.7 L596.8 390.9 L598.3 394.7 L594.5 396.3Z" fill="#4a9ce8" stroke="#0f2a55" stroke-width="0.9" stroke-linejoin="round"/>
<path d="M571.3 404.8 L575.9 404.8 L575.9 407.9 L571.3 407.9Z" fill="#4a9ce8" stroke="#0f2a55" stroke-width="0.9" stroke-linejoin="round"/>
<path d="M561.3 444.2 L572.1 444.2 L572.8 448.8 L568.2 450.3 L562.8 449.6Z" fill="#4a9ce8" stroke="#0f2a55" stroke-width="0.9" stroke-linejoin="round"/>
<path d="M623.8 364.6 L627.7 365.4 L627.7 370.0 L623.8 369.3Z" fill="#4a9ce8" stroke="#0f2a55" stroke-width="0.9" stroke-linejoin="round"/>
<path d="M624.6 380.1 L630.8 380.8 L631.5 387.0 L625.3 387.8Z" fill="#4a9ce8" stroke="#0f2a55" stroke-width="0.9" stroke-linejoin="round"/>
<path d="M487.9 365.0 L492.5 365.0 L492.5 368.9 L487.9 368.9Z" fill="#4a9ce8" stroke="#0f2a55" stroke-width="0.9" stroke-linejoin="round"/>
<path d="M495.6 398.2 L501.8 398.2 L501.8 403.6 L495.6 403.6Z" fill="#4a9ce8" stroke="#0f2a55" stroke-width="0.9" stroke-linejoin="round"/>
<path d="M521.9 398.2 L528.0 393.6 L532.7 396.7 L527.3 402.8 L522.6 402.1Z" fill="#4a9ce8" stroke="#0f2a55" stroke-width="0.9" stroke-linejoin="round"/>
<path d="M467.0 451.5 L473.2 451.5 L473.2 456.9 L467.0 456.9Z" fill="#4a9ce8" stroke="#0f2a55" stroke-width="0.9" stroke-linejoin="round"/>
<path d="M471.7 446.9 L476.3 446.9 L476.3 450.7 L471.7 450.7Z" fill="#4a9ce8" stroke="#0f2a55" stroke-width="0.9" stroke-linejoin="round"/>
<path d="M490.9 465.0 L497.0 465.0 L497.0 470.5 L490.9 470.5Z" fill="#4a9ce8" stroke="#0f2a55" stroke-width="0.9" stroke-linejoin="round"/>
<path d="M242.7 423.7 L251.5 425.0 L251.5 433.7 L246.5 427.5Z" fill="#4a9ce8" stroke="#0f2a55" stroke-width="0.9" stroke-linejoin="round"/>
<path d="M266.4 451.2 L280.2 453.7 L280.2 472.4 L272.7 468.7 L267.7 461.2Z" fill="#4a9ce8" stroke="#0f2a55" stroke-width="0.9" stroke-linejoin="round"/>
<path d="M381.8 414.5 L390.0 414.5 L390.0 422.5 L381.8 422.5Z" fill="#4a9ce8" stroke="#0f2a55" stroke-width="0.9" stroke-linejoin="round"/>
<path d="M365.0 456.0 L370.0 455.0 L376.3 457.4 L373.8 463.7 L367.6 468.7 L363.3 464.9Z" fill="#4a9ce8" stroke="#0f2a55" stroke-width="0.9" stroke-linejoin="round"/>
<path d="M355.6 471.1 L361.3 469.4 L365.0 474.9 L361.3 479.9 L355.6 478.6Z" fill="#4a9ce8" stroke="#0f2a55" stroke-width="0.9" stroke-linejoin="round"/>
<path d="M335.1 481.1 L345.1 481.1 L345.1 494.9 L335.1 494.9Z" fill="#4a9ce8" stroke="#0f2a55" stroke-width="0.9" stroke-linejoin="round"/>
<path d="M351.8 511.1 L365.8 512.3 L365.8 520.3 L351.8 519.8Z" fill="#4a9ce8" stroke="#0f2a55" stroke-width="0.9" stroke-linejoin="round"/>
<path d="M424.6 413.8 L430.6 413.8 L430.6 425.5 L424.6 425.5Z" fill="#4a9ce8" stroke="#0f2a55" stroke-width="0.9" stroke-linejoin="round"/>
<path d="M595.5 456.0 L598.0 452.5 L603.0 452.0 L605.6 456.0 L604.0 460.5 L598.0 460.5Z" fill="#4a9ce8" stroke="#0f2a55" stroke-width="0.9" stroke-linejoin="round"/>
<path d="M613.3 470.2 L624.1 470.2 L624.1 477.5 L613.3 477.5Z" fill="#4a9ce8" stroke="#0f2a55" stroke-width="0.9" stroke-linejoin="round"/>
<path d="M630.3 498.3 L643.8 498.3 L643.8 514.5 L630.3 514.5Z" fill="#4a9ce8" stroke="#0f2a55" stroke-width="0.9" stroke-linejoin="round"/>
<path d="M449.8 352.7 L458.3 352.7 L458.3 356.1 L449.8 356.1Z" fill="#a0927e" stroke="#3a2a20" stroke-width="0.7"/>
<path d="M486.3 384.3 L491.7 384.3 L491.7 389.7 L486.3 389.7Z" fill="#a0927e" stroke="#3a2a20" stroke-width="0.7"/>
<path d="M494.8 392.8 L499.5 392.8 L499.5 397.4 L494.8 397.4Z" fill="#a0927e" stroke="#3a2a20" stroke-width="0.7"/>
<path d="M501.0 405.9 L505.6 405.9 L505.6 415.2 L501.0 415.2Z" fill="#a0927e" stroke="#3a2a20" stroke-width="0.7"/>
<path d="M501.8 418.3 L505.6 418.3 L505.6 422.9 L501.8 422.9Z" fill="#a0927e" stroke="#3a2a20" stroke-width="0.7"/>
<path d="M499.5 424.5 L505.6 424.5 L505.6 429.9 L499.5 429.9Z" fill="#a0927e" stroke="#3a2a20" stroke-width="0.7"/>
<path d="M493.3 431.4 L498.7 431.4 L498.7 436.8 L493.3 436.8Z" fill="#a0927e" stroke="#3a2a20" stroke-width="0.7"/>
<path d="M501.8 437.6 L507.2 437.6 L507.2 443.0 L501.8 443.0Z" fill="#a0927e" stroke="#3a2a20" stroke-width="0.7"/>
<path d="M477.1 407.5 L484.8 407.5 L484.8 411.3 L477.1 411.3Z" fill="#a0927e" stroke="#3a2a20" stroke-width="0.7"/>
<path d="M486.3 403.6 L494.1 403.6 L494.1 409.8 L486.3 409.8Z" fill="#a0927e" stroke="#3a2a20" stroke-width="0.7"/>
<path d="M480.9 440.7 L485.6 440.7 L485.6 444.5 L480.9 444.5Z" fill="#a0927e" stroke="#3a2a20" stroke-width="0.7"/>
<path d="M468.6 393.6 L473.2 393.6 L473.2 405.2 L468.6 405.2Z" fill="#a0927e" stroke="#3a2a20" stroke-width="0.7"/>
</g>
<path d="M644.600 521.500Q643 529 636 533.500T630.500 536.500" fill="none" stroke="#2a1c1c" stroke-width="0.900"/>
<path d="M622.300 541.800L626 538.300L628.300 537.800L627 540.500L623.500 542.500Z" fill="#c93a30"/>
<path d="M630.300 507.500L643.800 507.500" stroke="#143a78" stroke-width="0.900"/>
<path d="M475.300 153.200L481 149.300L484.600 148.600L480.500 152.300L476 154.200Z" fill="#cf3a30" stroke="#5a1515" stroke-width="0.500"/>
<path d="M663.500 284L662.300 297L664 308L666.500 317.500" fill="none" stroke="#3b3b3b" stroke-width="1.500" stroke-linecap="round"/>
<path d="M719 221.500L724 220L724.300 214.500L722.300 212L723.600 211L726.200 214.200L726.300 222L722.500 224.600L718.500 225Z" fill="#4a9ce8" stroke="#143a78" stroke-width="0.600"/>
<path d="M92.500 99 L93.200 110 L91.400 116.500 L90.500 123" fill="none" stroke="#2d3f5c" stroke-width="1.600" stroke-linecap="round"/>
<path d="M697.3 219.4 L701.9 219.4 L701.9 224.8 L697.3 224.8Z" fill="#df382f" stroke="#143a78" stroke-width="0.8"/>
<path d="M71.8 140.2 L80.2 150.2 L95.3 155.3 L113.7 156.9 L133.7 156.9 L145.5 160.3 L151.2 165.3" fill="none" stroke="#3a0b0b" stroke-width="1.1" stroke-linejoin="round"/>
<path d="M155.9 111.6 L155.5 140.2 L151.2 165.3" fill="none" stroke="#3a0b0b" stroke-width="1.1" stroke-linejoin="round"/>
<path d="M151.2 165.3 L150.5 172.0 L145.5 178.7 L140.4 187.1 L140.4 193.7 L136.4 227.9" fill="none" stroke="#3a0b0b" stroke-width="1.1" stroke-linejoin="round"/>
<path d="M42.1 207.1 L93.6 220.5 L136.4 227.9 L167.2 235.6 L205.7 242.3" fill="none" stroke="#3a0b0b" stroke-width="1.1" stroke-linejoin="round"/>
<path d="M93.6 220.5 L83.7 268.5 L138.8 360.4 L142.1 367.1 L137.1 373.8 L135.4 385.5 L130.4 393.8" fill="none" stroke="#3a0b0b" stroke-width="1.1" stroke-linejoin="round"/>
<path d="M138.8 360.4 L137.8 347.0 L142.1 335.3 L149.8 333.6 L152.2 323.6" fill="none" stroke="#3a0b0b" stroke-width="1.1" stroke-linejoin="round"/>
<path d="M167.2 235.6 L152.2 323.6" fill="none" stroke="#3a0b0b" stroke-width="1.1" stroke-linejoin="round"/>
<path d="M152.2 323.6 L220.8 331.9 L290.0 338.6 L301.8 343.5 L315.2 343.5 L417.3 345.2" fill="none" stroke="#3a0b0b" stroke-width="1.1" stroke-linejoin="round"/>
<path d="M168.3 113.7 L167.9 130.2 L173.9 143.5 L178.9 155.3 L177.3 167.0 L175.6 175.3 L184.0 178.7 L187.3 190.4 L194.0 197.1 L204.0 197.1 L210.7 190.4 L213.4 194.0" fill="none" stroke="#3a0b0b" stroke-width="1.1" stroke-linejoin="round"/>
<path d="M213.4 192.1 L205.7 242.3 L204.0 264.0 L229.1 267.4 L227.5 296.5 L220.8 331.9" fill="none" stroke="#3a0b0b" stroke-width="1.1" stroke-linejoin="round"/>
<path d="M213.4 192.1 L297.6 201.9" fill="none" stroke="#3a0b0b" stroke-width="1.1" stroke-linejoin="round"/>
<path d="M229.1 267.4 L270.0 270.9 L295.1 272.3 L316.9 273.3 L316.9 290.7 L410.6 295.7" fill="none" stroke="#3a0b0b" stroke-width="1.1" stroke-linejoin="round"/>
<path d="M304.0 133.7 L301.8 185.3 L298.4 237.1 L295.1 272.3" fill="none" stroke="#3a0b0b" stroke-width="1.1" stroke-linejoin="round"/>
<path d="M301.8 185.3 L390.5 190.3" fill="none" stroke="#3a0b0b" stroke-width="1.1" stroke-linejoin="round"/>
<path d="M383.8 137.4 L385.5 163.5 L390.5 190.3 L388.8 197.0 L392.2 203.7 L392.2 233.8 L390.5 240.5 L392.2 248.9 L395.5 260.6 L400.5 274.0 L405.5 287.3 L408.9 297.4 L412.2 305.7 L417.3 310.1 L417.3 345.2 L418.9 353.6 L418.9 373.7 L424.0 405.5 L425.6 415.5 L432.3 437.3 L430.6 457.3 L432.3 470.0" fill="none" stroke="#3a0b0b" stroke-width="1.1" stroke-linejoin="round"/>
<path d="M298.4 237.1 L370.4 242.2 L383.8 243.8 L392.2 248.9" fill="none" stroke="#3a0b0b" stroke-width="1.1" stroke-linejoin="round"/>
<path d="M392.2 233.8 L455.7 232.1" fill="none" stroke="#3a0b0b" stroke-width="1.1" stroke-linejoin="round"/>
<path d="M399.6 279.7 L456.0 282.0" fill="none" stroke="#3a0b0b" stroke-width="1.1" stroke-linejoin="round"/>
<path d="M441.3 176.8 L440.7 185.3 L437.3 197.0 L435.7 208.7 L440.7 217.1 L452.4 227.1 L455.7 232.1 L457.4 240.5 L465.8 250.5 L469.1 260.6 L462.4 270.6 L460.8 284.0 L465.8 297.4 L470.8 310.1 L477.5 320.1 L487.5 336.9 L490.9 345.2 L487.5 351.9 L480.8 370.3 L474.1 380.4 L465.8 397.1 L464.1 415.5 L467.5 427.2 L462.4 445.6 L484.2 445.6 L489.2 457.3 L490.9 466.0" fill="none" stroke="#3a0b0b" stroke-width="1.1" stroke-linejoin="round"/>
<path d="M465.8 248.9 L500.9 248.9" fill="none" stroke="#3a0b0b" stroke-width="1.1" stroke-linejoin="round"/>
<path d="M465.8 183.6 L489.2 188.6 L492.6 195.3 L497.6 204.0" fill="none" stroke="#3a0b0b" stroke-width="1.1" stroke-linejoin="round"/>
<path d="M507.6 258.5 L507.6 290.0 L509.0 316.0 L505.4 325.2" fill="none" stroke="#3a0b0b" stroke-width="1.1" stroke-linejoin="round"/>
<path d="M517.0 257.1 L538.8 254.4 L562.0 252.5" fill="none" stroke="#3a0b0b" stroke-width="1.1" stroke-linejoin="round"/>
<path d="M538.8 254.4 L541.6 265.0 L544.8 302.8" fill="none" stroke="#3a0b0b" stroke-width="1.1" stroke-linejoin="round"/>
<path d="M487.7 340.7 L492.0 338.0 L497.0 335.0 L500.0 331.0 L503.0 328.0 L505.4 325.2 L510.0 323.7 L514.7 322.9 L520.1 324.5 L525.5 319.8 L530.9 319.1 L533.2 314.4 L536.3 309.8 L540.2 305.9 L544.8 302.8 L550.1 302.1 L556.3 303.6 L564.0 305.2 L570.2 304.4 L574.8 306.7 L576.3 308.2 L578.6 305.2 L581.0 300.5 L584.8 295.9 L587.1 292.0 L591.0 289.7 L594.1 285.1 L598.0 279.7 L598.0 265.0 L594.6 242.0" fill="none" stroke="#3a0b0b" stroke-width="1.1" stroke-linejoin="round"/>
<path d="M598.0 279.7 L637.3 276.6 L650.0 273.5 L662.6 268.8" fill="none" stroke="#3a0b0b" stroke-width="1.1" stroke-linejoin="round"/>
<path d="M605.7 239.7 L657.6 230.3 L665.9 235.3 L671.0 242.0 L665.9 250.4 L672.6 260.4 L667.6 267.1 L662.6 268.8" fill="none" stroke="#3a0b0b" stroke-width="1.1" stroke-linejoin="round"/>
<path d="M662.6 268.8 L664.3 287.2 L672.6 287.2" fill="none" stroke="#3a0b0b" stroke-width="1.1" stroke-linejoin="round"/>
<path d="M576.3 308.2 L577.1 311.3 L579.4 316.0 L583.3 320.6 L586.4 324.0 L593.3 324.5 L599.5 322.1 L604.1 319.1 L608.8 316.0 L611.1 309.8 L613.4 303.6 L616.5 298.2 L619.6 292.8 L624.2 286.6 L628.8 283.5 L631.2 280.4 L636.6 284.3" fill="none" stroke="#3a0b0b" stroke-width="1.1" stroke-linejoin="round"/>
<path d="M613.4 277.5 L614.0 282.0 L618.0 285.1 L622.7 282.0 L628.8 278.9 L635.0 280.4 L636.6 284.3" fill="none" stroke="#3a0b0b" stroke-width="1.1" stroke-linejoin="round"/>
<path d="M636.6 284.3 L645.8 290.6 L655.9 297.3 L664.3 300.6" fill="none" stroke="#3a0b0b" stroke-width="1.1" stroke-linejoin="round"/>
<path d="M586.4 324.0 L580.0 330.0 L572.0 336.0 L564.0 339.9" fill="none" stroke="#3a0b0b" stroke-width="1.1" stroke-linejoin="round"/>
<path d="M489.2 349.6 L517.0 345.0 L564.0 339.9 L600.4 333.0 L617.4 332.0 L650.0 327.5 L672.6 324.0" fill="none" stroke="#3a0b0b" stroke-width="1.1" stroke-linejoin="round"/>
<path d="M418.9 353.6 L480.8 351.9 L479.2 360.3 L487.5 358.6" fill="none" stroke="#3a0b0b" stroke-width="1.1" stroke-linejoin="round"/>
<path d="M300.8 343.5 L300.8 351.9 L341.9 353.6 L340.9 385.4 L353.7 390.4 L367.1 397.1 L380.4 400.4 L393.8 398.8 L403.9 402.1 L417.3 403.8 L424.0 405.5" fill="none" stroke="#3a0b0b" stroke-width="1.1" stroke-linejoin="round"/>
<path d="M300.8 351.9 L295.1 427.2 L247.3 425.3" fill="none" stroke="#3a0b0b" stroke-width="1.1" stroke-linejoin="round"/>
<path d="M425.6 415.5 L464.1 415.5" fill="none" stroke="#3a0b0b" stroke-width="1.1" stroke-linejoin="round"/>
<path d="M220.8 331.9 L208.0 430.5" fill="none" stroke="#3a0b0b" stroke-width="1.1" stroke-linejoin="round"/>
<path d="M316.9 290.7 L315.2 343.5" fill="none" stroke="#3a0b0b" stroke-width="1.1" stroke-linejoin="round"/>
<path d="M479.2 377.7 L506.7 375.0 L541.8 371.9 L565.3 368.5 L577.0 366.9" fill="none" stroke="#3a0b0b" stroke-width="1.1" stroke-linejoin="round"/>
<path d="M506.7 375.0 L508.4 420.4 L513.4 452.0" fill="none" stroke="#3a0b0b" stroke-width="1.1" stroke-linejoin="round"/>
<path d="M541.8 371.9 L551.9 417.1 L555.2 435.5 L556.9 442.2" fill="none" stroke="#3a0b0b" stroke-width="1.1" stroke-linejoin="round"/>
<path d="M513.4 452.0 L515.1 443.8 L556.9 442.2 L602.1 438.8 L603.7 445.5 L610.4 440.5 L613.0 436.0" fill="none" stroke="#3a0b0b" stroke-width="1.1" stroke-linejoin="round"/>
<path d="M600.4 333.0 L583.7 346.8 L573.6 360.2 L565.3 368.5" fill="none" stroke="#3a0b0b" stroke-width="1.1" stroke-linejoin="round"/>
<path d="M577.0 366.9 L587.0 380.2 L600.4 397.0 L612.1 417.1" fill="none" stroke="#3a0b0b" stroke-width="1.1" stroke-linejoin="round"/>
<path d="M577.0 366.9 L597.1 361.8 L610.4 363.5 L617.1 360.2 L632.2 370.2 L641.8 378.6" fill="none" stroke="#3a0b0b" stroke-width="1.1" stroke-linejoin="round"/>
<path d="M671.6 172.8 L674.3 206.9 L676.0 222.0 L677.6 235.3 L681.0 242.0" fill="none" stroke="#3a0b0b" stroke-width="1.1" stroke-linejoin="round"/>
<path d="M686.0 170.1 L691.0 193.5 L691.7 206.9" fill="none" stroke="#3a0b0b" stroke-width="1.1" stroke-linejoin="round"/>
<path d="M696.3 162.0 L700.0 174.0 L705.0 189.8 L709.0 196.0" fill="none" stroke="#3a0b0b" stroke-width="1.1" stroke-linejoin="round"/>
<path d="M674.3 206.9 L710.0 203.0" fill="none" stroke="#3a0b0b" stroke-width="1.1" stroke-linejoin="round"/>
<path d="M676.0 222.0 L704.4 220.3 L705.0 230.0" fill="none" stroke="#3a0b0b" stroke-width="1.1" stroke-linejoin="round"/>
<g clip-path="url(#bc)">
<path d="M71.8 140.2 L80.2 150.2 L95.3 155.3 L113.7 156.9 L133.7 156.9 L145.5 160.3 L151.2 165.3" fill="none" stroke="#0c2560" stroke-width="1.2" stroke-linejoin="round"/>
<path d="M155.9 111.6 L155.5 140.2 L151.2 165.3" fill="none" stroke="#0c2560" stroke-width="1.2" stroke-linejoin="round"/>
<path d="M151.2 165.3 L150.5 172.0 L145.5 178.7 L140.4 187.1 L140.4 193.7 L136.4 227.9" fill="none" stroke="#0c2560" stroke-width="1.2" stroke-linejoin="round"/>
<path d="M42.1 207.1 L93.6 220.5 L136.4 227.9 L167.2 235.6 L205.7 242.3" fill="none" stroke="#0c2560" stroke-width="1.2" stroke-linejoin="round"/>
<path d="M93.6 220.5 L83.7 268.5 L138.8 360.4 L142.1 367.1 L137.1 373.8 L135.4 385.5 L130.4 393.8" fill="none" stroke="#0c2560" stroke-width="1.2" stroke-linejoin="round"/>
<path d="M138.8 360.4 L137.8 347.0 L142.1 335.3 L149.8 333.6 L152.2 323.6" fill="none" stroke="#0c2560" stroke-width="1.2" stroke-linejoin="round"/>
<path d="M167.2 235.6 L152.2 323.6" fill="none" stroke="#0c2560" stroke-width="1.2" stroke-linejoin="round"/>
<path d="M152.2 323.6 L220.8 331.9 L290.0 338.6 L301.8 343.5 L315.2 343.5 L417.3 345.2" fill="none" stroke="#0c2560" stroke-width="1.2" stroke-linejoin="round"/>
<path d="M168.3 113.7 L167.9 130.2 L173.9 143.5 L178.9 155.3 L177.3 167.0 L175.6 175.3 L184.0 178.7 L187.3 190.4 L194.0 197.1 L204.0 197.1 L210.7 190.4 L213.4 194.0" fill="none" stroke="#0c2560" stroke-width="1.2" stroke-linejoin="round"/>
<path d="M213.4 192.1 L205.7 242.3 L204.0 264.0 L229.1 267.4 L227.5 296.5 L220.8 331.9" fill="none" stroke="#0c2560" stroke-width="1.2" stroke-linejoin="round"/>
<path d="M213.4 192.1 L297.6 201.9" fill="none" stroke="#0c2560" stroke-width="1.2" stroke-linejoin="round"/>
<path d="M229.1 267.4 L270.0 270.9 L295.1 272.3 L316.9 273.3 L316.9 290.7 L410.6 295.7" fill="none" stroke="#0c2560" stroke-width="1.2" stroke-linejoin="round"/>
<path d="M304.0 133.7 L301.8 185.3 L298.4 237.1 L295.1 272.3" fill="none" stroke="#0c2560" stroke-width="1.2" stroke-linejoin="round"/>
<path d="M301.8 185.3 L390.5 190.3" fill="none" stroke="#0c2560" stroke-width="1.2" stroke-linejoin="round"/>
<path d="M383.8 137.4 L385.5 163.5 L390.5 190.3 L388.8 197.0 L392.2 203.7 L392.2 233.8 L390.5 240.5 L392.2 248.9 L395.5 260.6 L400.5 274.0 L405.5 287.3 L408.9 297.4 L412.2 305.7 L417.3 310.1 L417.3 345.2 L418.9 353.6 L418.9 373.7 L424.0 405.5 L425.6 415.5 L432.3 437.3 L430.6 457.3 L432.3 470.0" fill="none" stroke="#0c2560" stroke-width="1.2" stroke-linejoin="round"/>
<path d="M298.4 237.1 L370.4 242.2 L383.8 243.8 L392.2 248.9" fill="none" stroke="#0c2560" stroke-width="1.2" stroke-linejoin="round"/>
<path d="M392.2 233.8 L455.7 232.1" fill="none" stroke="#0c2560" stroke-width="1.2" stroke-linejoin="round"/>
<path d="M399.6 279.7 L456.0 282.0" fill="none" stroke="#0c2560" stroke-width="1.2" stroke-linejoin="round"/>
<path d="M441.3 176.8 L440.7 185.3 L437.3 197.0 L435.7 208.7 L440.7 217.1 L452.4 227.1 L455.7 232.1 L457.4 240.5 L465.8 250.5 L469.1 260.6 L462.4 270.6 L460.8 284.0 L465.8 297.4 L470.8 310.1 L477.5 320.1 L487.5 336.9 L490.9 345.2 L487.5 351.9 L480.8 370.3 L474.1 380.4 L465.8 397.1 L464.1 415.5 L467.5 427.2 L462.4 445.6 L484.2 445.6 L489.2 457.3 L490.9 466.0" fill="none" stroke="#0c2560" stroke-width="1.2" stroke-linejoin="round"/>
<path d="M465.8 248.9 L500.9 248.9" fill="none" stroke="#0c2560" stroke-width="1.2" stroke-linejoin="round"/>
<path d="M465.8 183.6 L489.2 188.6 L492.6 195.3 L497.6 204.0" fill="none" stroke="#0c2560" stroke-width="1.2" stroke-linejoin="round"/>
<path d="M507.6 258.5 L507.6 290.0 L509.0 316.0 L505.4 325.2" fill="none" stroke="#0c2560" stroke-width="1.2" stroke-linejoin="round"/>
<path d="M517.0 257.1 L538.8 254.4 L562.0 252.5" fill="none" stroke="#0c2560" stroke-width="1.2" stroke-linejoin="round"/>
<path d="M538.8 254.4 L541.6 265.0 L544.8 302.8" fill="none" stroke="#0c2560" stroke-width="1.2" stroke-linejoin="round"/>
<path d="M487.7 340.7 L492.0 338.0 L497.0 335.0 L500.0 331.0 L503.0 328.0 L505.4 325.2 L510.0 323.7 L514.7 322.9 L520.1 324.5 L525.5 319.8 L530.9 319.1 L533.2 314.4 L536.3 309.8 L540.2 305.9 L544.8 302.8 L550.1 302.1 L556.3 303.6 L564.0 305.2 L570.2 304.4 L574.8 306.7 L576.3 308.2 L578.6 305.2 L581.0 300.5 L584.8 295.9 L587.1 292.0 L591.0 289.7 L594.1 285.1 L598.0 279.7 L598.0 265.0 L594.6 242.0" fill="none" stroke="#0c2560" stroke-width="1.2" stroke-linejoin="round"/>
<path d="M598.0 279.7 L637.3 276.6 L650.0 273.5 L662.6 268.8" fill="none" stroke="#0c2560" stroke-width="1.2" stroke-linejoin="round"/>
<path d="M605.7 239.7 L657.6 230.3 L665.9 235.3 L671.0 242.0 L665.9 250.4 L672.6 260.4 L667.6 267.1 L662.6 268.8" fill="none" stroke="#0c2560" stroke-width="1.2" stroke-linejoin="round"/>
<path d="M662.6 268.8 L664.3 287.2 L672.6 287.2" fill="none" stroke="#0c2560" stroke-width="1.2" stroke-linejoin="round"/>
<path d="M576.3 308.2 L577.1 311.3 L579.4 316.0 L583.3 320.6 L586.4 324.0 L593.3 324.5 L599.5 322.1 L604.1 319.1 L608.8 316.0 L611.1 309.8 L613.4 303.6 L616.5 298.2 L619.6 292.8 L624.2 286.6 L628.8 283.5 L631.2 280.4 L636.6 284.3" fill="none" stroke="#0c2560" stroke-width="1.2" stroke-linejoin="round"/>
<path d="M613.4 277.5 L614.0 282.0 L618.0 285.1 L622.7 282.0 L628.8 278.9 L635.0 280.4 L636.6 284.3" fill="none" stroke="#0c2560" stroke-width="1.2" stroke-linejoin="round"/>
<path d="M636.6 284.3 L645.8 290.6 L655.9 297.3 L664.3 300.6" fill="none" stroke="#0c2560" stroke-width="1.2" stroke-linejoin="round"/>
<path d="M586.4 324.0 L580.0 330.0 L572.0 336.0 L564.0 339.9" fill="none" stroke="#0c2560" stroke-width="1.2" stroke-linejoin="round"/>
<path d="M489.2 349.6 L517.0 345.0 L564.0 339.9 L600.4 333.0 L617.4 332.0 L650.0 327.5 L672.6 324.0" fill="none" stroke="#0c2560" stroke-width="1.2" stroke-linejoin="round"/>
<path d="M418.9 353.6 L480.8 351.9 L479.2 360.3 L487.5 358.6" fill="none" stroke="#0c2560" stroke-width="1.2" stroke-linejoin="round"/>
<path d="M300.8 343.5 L300.8 351.9 L341.9 353.6 L340.9 385.4 L353.7 390.4 L367.1 397.1 L380.4 400.4 L393.8 398.8 L403.9 402.1 L417.3 403.8 L424.0 405.5" fill="none" stroke="#0c2560" stroke-width="1.2" stroke-linejoin="round"/>
<path d="M300.8 351.9 L295.1 427.2 L247.3 425.3" fill="none" stroke="#0c2560" stroke-width="1.2" stroke-linejoin="round"/>
<path d="M425.6 415.5 L464.1 415.5" fill="none" stroke="#0c2560" stroke-width="1.2" stroke-linejoin="round"/>
<path d="M220.8 331.9 L208.0 430.5" fill="none" stroke="#0c2560" stroke-width="1.2" stroke-linejoin="round"/>
<path d="M316.9 290.7 L315.2 343.5" fill="none" stroke="#0c2560" stroke-width="1.2" stroke-linejoin="round"/>
<path d="M479.2 377.7 L506.7 375.0 L541.8 371.9 L565.3 368.5 L577.0 366.9" fill="none" stroke="#0c2560" stroke-width="1.2" stroke-linejoin="round"/>
<path d="M506.7 375.0 L508.4 420.4 L513.4 452.0" fill="none" stroke="#0c2560" stroke-width="1.2" stroke-linejoin="round"/>
<path d="M541.8 371.9 L551.9 417.1 L555.2 435.5 L556.9 442.2" fill="none" stroke="#0c2560" stroke-width="1.2" stroke-linejoin="round"/>
<path d="M513.4 452.0 L515.1 443.8 L556.9 442.2 L602.1 438.8 L603.7 445.5 L610.4 440.5 L613.0 436.0" fill="none" stroke="#0c2560" stroke-width="1.2" stroke-linejoin="round"/>
<path d="M600.4 333.0 L583.7 346.8 L573.6 360.2 L565.3 368.5" fill="none" stroke="#0c2560" stroke-width="1.2" stroke-linejoin="round"/>
<path d="M577.0 366.9 L587.0 380.2 L600.4 397.0 L612.1 417.1" fill="none" stroke="#0c2560" stroke-width="1.2" stroke-linejoin="round"/>
<path d="M577.0 366.9 L597.1 361.8 L610.4 363.5 L617.1 360.2 L632.2 370.2 L641.8 378.6" fill="none" stroke="#0c2560" stroke-width="1.2" stroke-linejoin="round"/>
<path d="M671.6 172.8 L674.3 206.9 L676.0 222.0 L677.6 235.3 L681.0 242.0" fill="none" stroke="#0c2560" stroke-width="1.2" stroke-linejoin="round"/>
<path d="M686.0 170.1 L691.0 193.5 L691.7 206.9" fill="none" stroke="#0c2560" stroke-width="1.2" stroke-linejoin="round"/>
<path d="M696.3 162.0 L700.0 174.0 L705.0 189.8 L709.0 196.0" fill="none" stroke="#0c2560" stroke-width="1.2" stroke-linejoin="round"/>
<path d="M674.3 206.9 L710.0 203.0" fill="none" stroke="#0c2560" stroke-width="1.2" stroke-linejoin="round"/>
<path d="M676.0 222.0 L704.4 220.3 L705.0 230.0" fill="none" stroke="#0c2560" stroke-width="1.2" stroke-linejoin="round"/>
</g>
</svg>

<svg class="abs" style="left:20px;top:22px" width="42" height="42" viewBox="0 0 42 42">
<defs><clipPath id="av"><circle cx="21" cy="21" r="20.800"/></clipPath>
<linearGradient id="avb" x1="0" y1="0" x2="1" y2="0.300"><stop offset="0" stop-color="#123a6e"/><stop offset="0.450" stop-color="#1a6fae"/><stop offset="1" stop-color="#2b86c4"/></linearGradient></defs>
<g clip-path="url(#av)">
<rect width="42" height="42" fill="#f4e8e6"/>
<path d="M19.500 0C20.500 6 22 13 22 20C22 28 20.500 35 18.500 42L23.700 42C27.500 35 29.200 28 29 20C28.600 12 27.500 5 25.800 0Z" fill="#d8261c"/>
<path d="M29 0C31 6 32.500 13 32.500 20C32.500 28 31 35 29 42L33.400 42C36 35 37.700 28 37.700 20C37.700 13 36 6 33.400 0Z" fill="#d92a1f"/>
<path d="M37.500 6C39 12 39.500 17 39.500 21C39.500 26 39 31 37.500 36L42 36L42 6Z" fill="#d42a20"/>
<path d="M0 0L17 0C19 5 20.800 11 20.800 16C20.800 22 19 27 16.500 32.500L0 32.500Z" fill="url(#avb)"/>
<path d="M0 22L9 32.500L0 32.500Z" fill="#0e2a52" opacity=".7"/>
<path d="M12 9c2 1 5 1 7 .500M13 12.500c1.500 .800 3.500 .800 5 0M16.500 13c.500 4 .300 7-1.500 10M14 25.500c1.500 .600 3 .600 4 0" stroke="#0d3158" stroke-width="1" fill="none" opacity=".75"/>
<path d="M5 9l1.500 1M8.500 13.500l1.500 1M4.500 17l1.500 1M9 20.500l1.500 .800M6 24.500l1.500 .800M11 7l1 .800M11.500 17.500l1 .600M3.500 12.500l1 .600" stroke="#bfe0f4" stroke-width="1.300" stroke-linecap="round"/>
<rect x="0" y="32.500" width="8.900" height="10" fill="#1c1c2a"/>
<rect x="8.900" y="32.500" width="3.900" height="10" fill="#efe4e2"/>
<rect x="12.800" y="32.500" width="3.500" height="10" fill="#9c1c16"/>
<rect x="16.300" y="32.500" width="3.100" height="10" fill="#efe4e2"/>
<path d="M23 11.500c1.500 .500 3 .500 4.500 0M22.500 26c1.500 .600 3 .600 4 0" stroke="#7a1a14" stroke-width=".800" fill="none" opacity=".6"/>
</g></svg>
<div id="name" class="abs">Donald J. Trump</div>
<svg class="abs" style="left:186.400px;top:22.600px" width="18" height="18" viewBox="0 0 24 24"><path fill="#e9476f" d="M10.80 2.21Q12.00 1.40 13.20 2.21Q14.41 3.02 15.85 2.92Q17.30 2.82 17.94 4.12Q18.58 5.42 19.88 6.06Q21.18 6.70 21.08 8.15Q20.98 9.59 21.79 10.80Q22.60 12.00 21.79 13.20Q20.98 14.41 21.08 15.85Q21.18 17.30 19.88 17.94Q18.58 18.58 17.94 19.88Q17.30 21.18 15.85 21.08Q14.41 20.98 13.20 21.79Q12.00 22.60 10.80 21.79Q9.59 20.98 8.15 21.08Q6.70 21.18 6.06 19.88Q5.42 18.58 4.12 17.94Q2.82 17.30 2.92 15.85Q3.02 14.41 2.21 13.20Q1.40 12.00 2.21 10.80Q3.02 9.59 2.92 8.15Q2.82 6.70 4.12 6.06Q5.42 5.42 6.06 4.12Q6.70 2.82 8.15 2.92Q9.59 3.02 10.80 2.21Z"/><path d="M7.500 12.400l3 3 6-6.300" fill="none" stroke="#fff" stroke-width="2.400" stroke-linecap="round" stroke-linejoin="round"/></svg>
<div id="handle" class="abs">@realDonaldTrump · 4h</div>
<svg class="abs" style="left:643px;top:32px" width="115" height="22" viewBox="0 0 115 22">
<g fill="#5448ee"><rect x="1" y="1.500" width="4.600" height="4.600"/>
<text x="6" y="19.800" font-family="Liberation Sans, sans-serif" font-weight="bold" font-size="25.500" textLength="99" lengthAdjust="spacingAndGlyphs" stroke="#5448ee" stroke-width="1.100">TRUTH</text></g>
<rect x="106.500" y="14" width="6.500" height="6" fill="#3cc8a8"/>
</svg>

<svg class="abs" style="left:26px;top:577px" width="22" height="22" viewBox="0 0 22 22"><path d="M10.500 2.500a8 8 0 1 0 4.200 14.800c1 .9 2.300 1.300 3.600 1.200-.8-.9-1.100-2-1-3.200A8 8 0 0 0 10.500 2.500z" fill="none" stroke="#737985" stroke-width="1.700" stroke-linejoin="round"/></svg>
<div class="abs cnt" style="left:52px">1.68k</div>
<svg class="abs" style="left:101px;top:576px" width="22" height="22" viewBox="0 0 22 22"><g fill="none" stroke="#737985" stroke-width="1.700" stroke-linecap="round" stroke-linejoin="round"><path d="M14.500 2l3.500 3.500-3.500 3.500"/><path d="M3 10.500v-1.500a3.500 3.500 0 0 1 3.500-3.500h11.500"/><path d="M7.500 20l-3.500-3.500 3.500-3.500"/><path d="M19 11.500v1.500a3.500 3.500 0 0 1-3.500 3.500h-11.500"/></g></svg>
<div class="abs cnt" style="left:127px">4.98k</div>
<svg class="abs" style="left:177px;top:576px" width="22" height="22" viewBox="0 0 22 22"><path d="M11 19.200l-7.600-7.700a4.700 4.700 0 0 1 6.600-6.700l1 1 1-1a4.700 4.700 0 0 1 6.600 6.700z" fill="none" stroke="#737985" stroke-width="1.700" stroke-linejoin="round"/></svg>
<div class="abs cnt" style="left:204px">18.4k</div>
<svg class="abs" style="left:254.500px;top:583.200px" width="21" height="8" viewBox="0 0 21 8"><g fill="#737985"><circle cx="3" cy="4" r="1.900"/><circle cx="10" cy="4" r="1.900"/><circle cx="17" cy="4" r="1.900"/></g></svg>
</body></html>
